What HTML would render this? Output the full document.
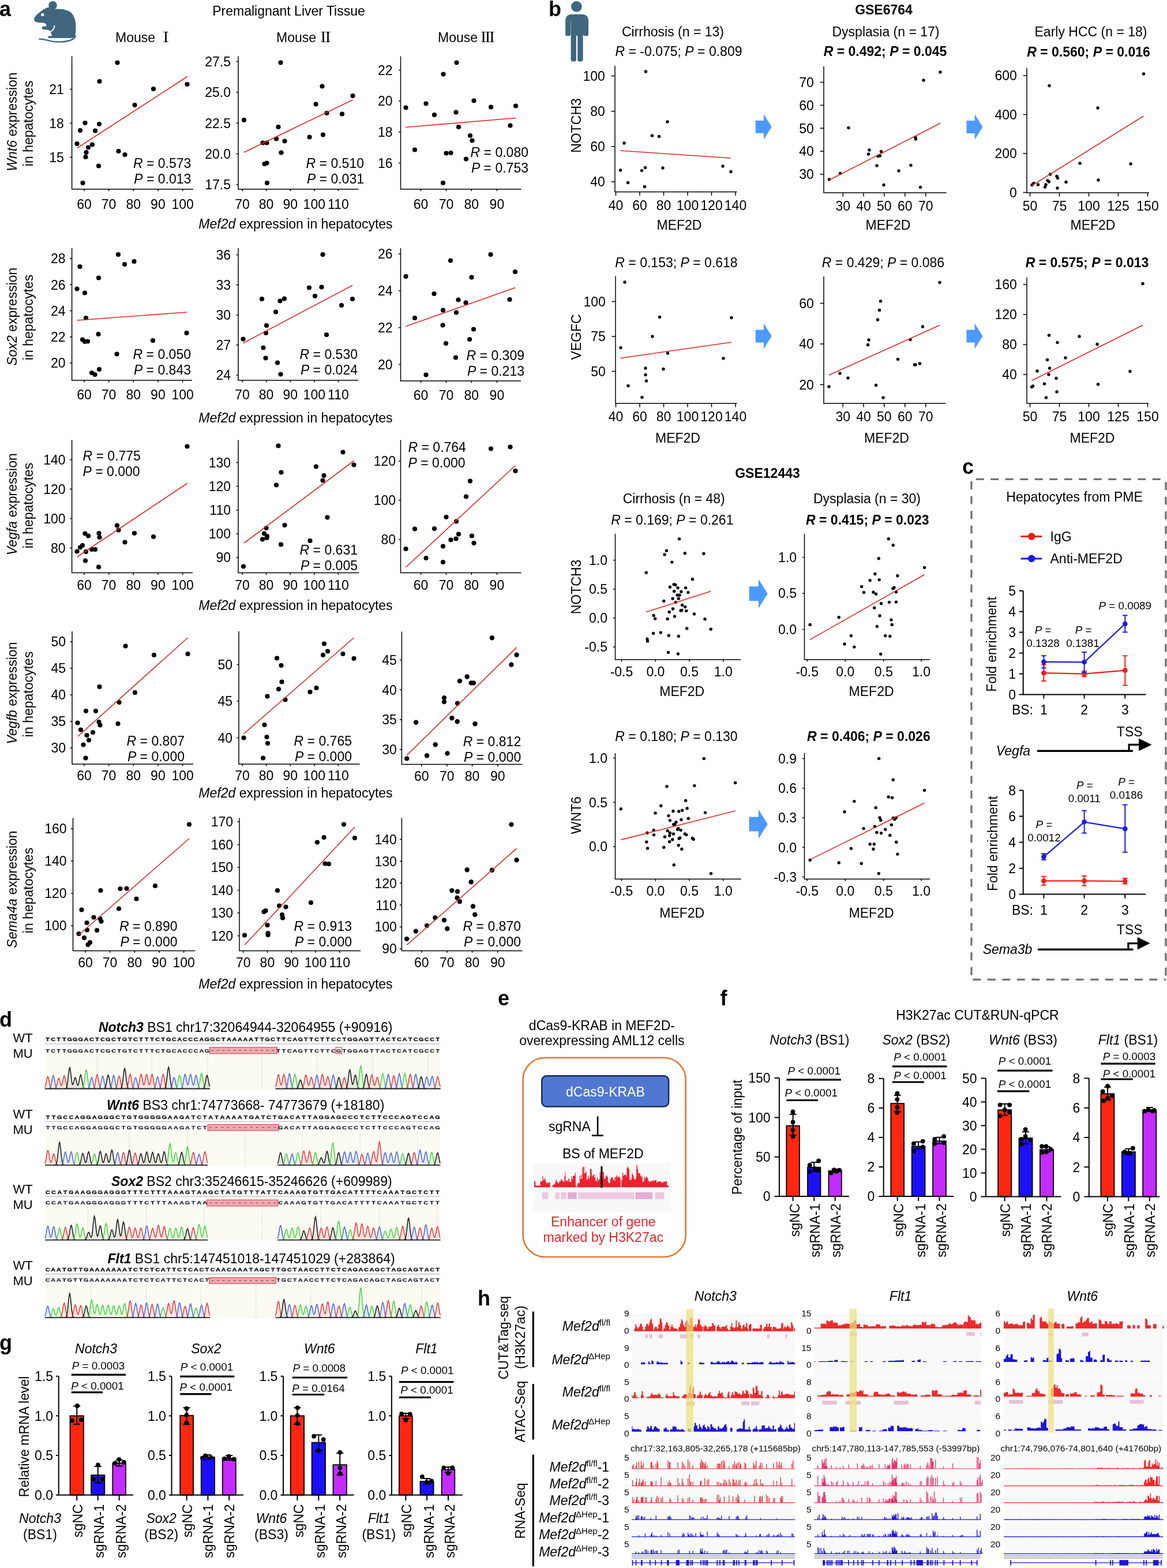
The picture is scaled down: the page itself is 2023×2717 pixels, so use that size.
<!DOCTYPE html>
<html><head><meta charset="utf-8"><title>Figure</title>
<style>html,body{margin:0;padding:0;background:#fff;} svg{display:block;}</style>
</head><body>
<svg width="2023" height="2717" viewBox="0 0 2023 2717" font-family="'Liberation Sans', Arial, 'Noto Sans CJK SC', sans-serif">
<circle cx="91.5" cy="9.4" r="7.3" fill="#40677f"/>
<path d="M59.1,32.9 C60,28 66,23 72,19 C77,15 82,13 85,12.6 L96,15.5 C104,15 114,16 121,20 C128,25 131.5,35 131.5,45 C131.5,55 131,62 128.5,64.5 C127.5,65.5 126,66 124,66 L86,66 C84,66 83,65.3 83,64.2 C83,63 84,62.5 85.5,62.5 L90.5,62.3 C89,59.5 88,56.5 88,54 C85,52 81,51.2 79,51.2 C76,51.5 73,51 72.5,49 C72.3,47 74.5,45.5 77,45.6 C78.5,45.6 79.5,45.8 80.3,45.5 C80.5,43 79.8,41 77.5,40 C73,39 67,39.5 63.5,38.5 C60.5,37.5 58.6,35.5 59.1,32.9 Z" fill="#40677f"/>
<circle cx="73.8" cy="25.4" r="2.7" fill="#fff"/>
<path d="M94.6,44 C94.2,49 92.3,52 88.3,54.6" fill="none" stroke="#fff" stroke-width="2"/>
<path d="M68.3,67.6 C75,67.4 82,70 90,71.6 C100,73.2 112,72.6 120,70.5 C126,68.8 130,66.5 130.8,62" fill="none" stroke="#40677f" stroke-width="2.4" stroke-linecap="round"/>
<text x="-1" y="28" font-weight="bold" font-size="36">a</text>
<text x="500.5" y="27.3" text-anchor="middle" font-size="23">Premalignant Liver Tissue</text>
<text x="200" y="72.5" font-size="23">Mouse</text>
<text x="287.5" y="72.5" font-size="23.5" text-anchor="middle" font-family="'Noto Serif CJK SC', serif" font-weight="600">Ⅰ</text>
<text x="479" y="72.5" font-size="23">Mouse</text>
<text x="564.5" y="72.5" font-size="23.5" text-anchor="middle" font-family="'Noto Serif CJK SC', serif" font-weight="600">Ⅱ</text>
<text x="759" y="72.5" font-size="23">Mouse</text>
<text x="845.5" y="72.5" font-size="23.5" text-anchor="middle" font-family="'Noto Serif CJK SC', serif" font-weight="600">Ⅲ</text>
<path d="M124.6,97.5V327.7H335" fill="none" stroke="#000" stroke-width="1.5"/>
<line x1="121.1" y1="154.6" x2="124.6" y2="154.6" stroke="#000" stroke-width="1.5"/>
<text x="110.8" y="162.9" text-anchor="end" font-size="23">21</text>
<line x1="121.1" y1="213.5" x2="124.6" y2="213.5" stroke="#000" stroke-width="1.5"/>
<text x="110.8" y="221.8" text-anchor="end" font-size="23">18</text>
<line x1="121.1" y1="272.4" x2="124.6" y2="272.4" stroke="#000" stroke-width="1.5"/>
<text x="110.8" y="280.7" text-anchor="end" font-size="23">15</text>
<line x1="146" y1="327.7" x2="146" y2="331.2" stroke="#000" stroke-width="1.5"/>
<text x="146" y="362" text-anchor="middle" font-size="23">60</text>
<line x1="188.6" y1="327.7" x2="188.6" y2="331.2" stroke="#000" stroke-width="1.5"/>
<text x="188.6" y="362" text-anchor="middle" font-size="23">70</text>
<line x1="231.3" y1="327.7" x2="231.3" y2="331.2" stroke="#000" stroke-width="1.5"/>
<text x="231.3" y="362" text-anchor="middle" font-size="23">80</text>
<line x1="273.9" y1="327.7" x2="273.9" y2="331.2" stroke="#000" stroke-width="1.5"/>
<text x="273.9" y="362" text-anchor="middle" font-size="23">90</text>
<line x1="316.6" y1="327.7" x2="316.6" y2="331.2" stroke="#000" stroke-width="1.5"/>
<text x="316.6" y="362" text-anchor="middle" font-size="23">100</text>
<circle cx="203.5" cy="108.5" r="4.1" fill="#000"/>
<circle cx="172.5" cy="141" r="4.1" fill="#000"/>
<circle cx="266" cy="154" r="4.1" fill="#000"/>
<circle cx="324.5" cy="146" r="4.1" fill="#000"/>
<circle cx="233.5" cy="182" r="4.1" fill="#000"/>
<circle cx="147.5" cy="213" r="4.1" fill="#000"/>
<circle cx="172" cy="215" r="4.1" fill="#000"/>
<circle cx="139" cy="226" r="4.1" fill="#000"/>
<circle cx="165" cy="226.5" r="4.1" fill="#000"/>
<circle cx="133.5" cy="249" r="4.1" fill="#000"/>
<circle cx="160" cy="250.5" r="4.1" fill="#000"/>
<circle cx="153" cy="255.5" r="4.1" fill="#000"/>
<circle cx="149.5" cy="264" r="4.1" fill="#000"/>
<circle cx="148.5" cy="272" r="4.1" fill="#000"/>
<circle cx="205.5" cy="262" r="4.1" fill="#000"/>
<circle cx="216.5" cy="268" r="4.1" fill="#000"/>
<circle cx="171" cy="287.5" r="4.1" fill="#000"/>
<circle cx="143.5" cy="317" r="4.1" fill="#000"/>
<line x1="134" y1="256.5" x2="325" y2="132.5" stroke="#dc2a2a" stroke-width="1.6"/>
<text x="331.3" y="290.5" text-anchor="end" font-size="23"><tspan font-style="italic">R</tspan> = 0.573</text>
<text x="331.3" y="317.5" text-anchor="end" font-size="23"><tspan font-style="italic">P</tspan> = 0.013</text>
<path d="M413,97.5V327.7H621.5" fill="none" stroke="#000" stroke-width="1.5"/>
<line x1="409.5" y1="106.5" x2="413" y2="106.5" stroke="#000" stroke-width="1.5"/>
<text x="400" y="114.8" text-anchor="end" font-size="23">27.5</text>
<line x1="409.5" y1="159.9" x2="413" y2="159.9" stroke="#000" stroke-width="1.5"/>
<text x="400" y="168.2" text-anchor="end" font-size="23">25.0</text>
<line x1="409.5" y1="213.2" x2="413" y2="213.2" stroke="#000" stroke-width="1.5"/>
<text x="400" y="221.5" text-anchor="end" font-size="23">22.5</text>
<line x1="409.5" y1="266.6" x2="413" y2="266.6" stroke="#000" stroke-width="1.5"/>
<text x="400" y="274.9" text-anchor="end" font-size="23">20.0</text>
<line x1="409.5" y1="320" x2="413" y2="320" stroke="#000" stroke-width="1.5"/>
<text x="400" y="328.3" text-anchor="end" font-size="23">17.5</text>
<line x1="420" y1="327.7" x2="420" y2="331.2" stroke="#000" stroke-width="1.5"/>
<text x="420" y="362" text-anchor="middle" font-size="23">70</text>
<line x1="461.6" y1="327.7" x2="461.6" y2="331.2" stroke="#000" stroke-width="1.5"/>
<text x="461.6" y="362" text-anchor="middle" font-size="23">80</text>
<line x1="503.2" y1="327.7" x2="503.2" y2="331.2" stroke="#000" stroke-width="1.5"/>
<text x="503.2" y="362" text-anchor="middle" font-size="23">90</text>
<line x1="544.8" y1="327.7" x2="544.8" y2="331.2" stroke="#000" stroke-width="1.5"/>
<text x="544.8" y="362" text-anchor="middle" font-size="23">100</text>
<line x1="586.4" y1="327.7" x2="586.4" y2="331.2" stroke="#000" stroke-width="1.5"/>
<text x="586.4" y="362" text-anchor="middle" font-size="23">110</text>
<circle cx="486.5" cy="108.5" r="4.1" fill="#000"/>
<circle cx="558.5" cy="149.5" r="4.1" fill="#000"/>
<circle cx="611.5" cy="166" r="4.1" fill="#000"/>
<circle cx="547.5" cy="180.5" r="4.1" fill="#000"/>
<circle cx="566.5" cy="196" r="4.1" fill="#000"/>
<circle cx="593" cy="197.5" r="4.1" fill="#000"/>
<circle cx="423" cy="208" r="4.1" fill="#000"/>
<circle cx="482.5" cy="220" r="4.1" fill="#000"/>
<circle cx="479" cy="240.5" r="4.1" fill="#000"/>
<circle cx="493.5" cy="244.5" r="4.1" fill="#000"/>
<circle cx="455.5" cy="247.5" r="4.1" fill="#000"/>
<circle cx="462.5" cy="247.5" r="4.1" fill="#000"/>
<circle cx="536.5" cy="237.5" r="4.1" fill="#000"/>
<circle cx="560" cy="233.5" r="4.1" fill="#000"/>
<circle cx="487.5" cy="264.5" r="4.1" fill="#000"/>
<circle cx="458.5" cy="284" r="4.1" fill="#000"/>
<circle cx="462.5" cy="282.5" r="4.1" fill="#000"/>
<circle cx="463" cy="317" r="4.1" fill="#000"/>
<line x1="423" y1="264" x2="611.5" y2="173" stroke="#dc2a2a" stroke-width="1.6"/>
<text x="631" y="290.5" text-anchor="end" font-size="23"><tspan font-style="italic">R</tspan> = 0.510</text>
<text x="631" y="317.5" text-anchor="end" font-size="23"><tspan font-style="italic">P</tspan> = 0.031</text>
<path d="M694.5,97.5V327.7H903.5" fill="none" stroke="#000" stroke-width="1.5"/>
<line x1="691" y1="121.5" x2="694.5" y2="121.5" stroke="#000" stroke-width="1.5"/>
<text x="680.5" y="129.8" text-anchor="end" font-size="23">22</text>
<line x1="691" y1="175.2" x2="694.5" y2="175.2" stroke="#000" stroke-width="1.5"/>
<text x="680.5" y="183.4" text-anchor="end" font-size="23">20</text>
<line x1="691" y1="228.8" x2="694.5" y2="228.8" stroke="#000" stroke-width="1.5"/>
<text x="680.5" y="237.1" text-anchor="end" font-size="23">18</text>
<line x1="691" y1="282.5" x2="694.5" y2="282.5" stroke="#000" stroke-width="1.5"/>
<text x="680.5" y="290.8" text-anchor="end" font-size="23">16</text>
<line x1="729.5" y1="327.7" x2="729.5" y2="331.2" stroke="#000" stroke-width="1.5"/>
<text x="729.5" y="362" text-anchor="middle" font-size="23">60</text>
<line x1="773.5" y1="327.7" x2="773.5" y2="331.2" stroke="#000" stroke-width="1.5"/>
<text x="773.5" y="362" text-anchor="middle" font-size="23">70</text>
<line x1="817.3" y1="327.7" x2="817.3" y2="331.2" stroke="#000" stroke-width="1.5"/>
<text x="817.3" y="362" text-anchor="middle" font-size="23">80</text>
<line x1="861.4" y1="327.7" x2="861.4" y2="331.2" stroke="#000" stroke-width="1.5"/>
<text x="861.4" y="362" text-anchor="middle" font-size="23">90</text>
<circle cx="791.5" cy="108.5" r="4.1" fill="#000"/>
<circle cx="768.5" cy="128.5" r="4.1" fill="#000"/>
<circle cx="703.5" cy="186.5" r="4.1" fill="#000"/>
<circle cx="738.5" cy="179.5" r="4.1" fill="#000"/>
<circle cx="753" cy="199" r="4.1" fill="#000"/>
<circle cx="790.5" cy="194.5" r="4.1" fill="#000"/>
<circle cx="821.5" cy="174.5" r="4.1" fill="#000"/>
<circle cx="851" cy="185.5" r="4.1" fill="#000"/>
<circle cx="894" cy="183.5" r="4.1" fill="#000"/>
<circle cx="884.5" cy="217.5" r="4.1" fill="#000"/>
<circle cx="795" cy="220" r="4.1" fill="#000"/>
<circle cx="815" cy="235" r="4.1" fill="#000"/>
<circle cx="818.5" cy="243.5" r="4.1" fill="#000"/>
<circle cx="719" cy="259.5" r="4.1" fill="#000"/>
<circle cx="773.5" cy="265.5" r="4.1" fill="#000"/>
<circle cx="781.5" cy="265" r="4.1" fill="#000"/>
<circle cx="808" cy="275.5" r="4.1" fill="#000"/>
<circle cx="768" cy="317" r="4.1" fill="#000"/>
<line x1="703.5" y1="220.5" x2="894" y2="204.5" stroke="#dc2a2a" stroke-width="1.6"/>
<text x="916" y="272.3" text-anchor="end" font-size="23"><tspan font-style="italic">R</tspan> = 0.080</text>
<text x="916" y="299.3" text-anchor="end" font-size="23"><tspan font-style="italic">P</tspan> = 0.753</text>
<text transform="translate(29.3,211) rotate(-90)" text-anchor="middle" font-size="23"><tspan font-style="italic">Wnt6</tspan> expression</text>
<text transform="translate(57.3,214) rotate(-90)" text-anchor="middle" font-size="23">in hepatocytes</text>
<text x="512.5" y="395.5" text-anchor="middle" font-size="23"><tspan font-style="italic">Mef2d</tspan> expression in hepatocytes</text>
<path d="M124.6,430V659H333" fill="none" stroke="#000" stroke-width="1.5"/>
<line x1="121.1" y1="448" x2="124.6" y2="448" stroke="#000" stroke-width="1.5"/>
<text x="113.6" y="456.3" text-anchor="end" font-size="23">28</text>
<line x1="121.1" y1="493.2" x2="124.6" y2="493.2" stroke="#000" stroke-width="1.5"/>
<text x="113.6" y="501.5" text-anchor="end" font-size="23">26</text>
<line x1="121.1" y1="538.5" x2="124.6" y2="538.5" stroke="#000" stroke-width="1.5"/>
<text x="113.6" y="546.8" text-anchor="end" font-size="23">24</text>
<line x1="121.1" y1="583.8" x2="124.6" y2="583.8" stroke="#000" stroke-width="1.5"/>
<text x="113.6" y="592" text-anchor="end" font-size="23">22</text>
<line x1="121.1" y1="629" x2="124.6" y2="629" stroke="#000" stroke-width="1.5"/>
<text x="113.6" y="637.3" text-anchor="end" font-size="23">20</text>
<line x1="146" y1="659" x2="146" y2="662.5" stroke="#000" stroke-width="1.5"/>
<text x="146" y="692.1" text-anchor="middle" font-size="23">60</text>
<line x1="188.6" y1="659" x2="188.6" y2="662.5" stroke="#000" stroke-width="1.5"/>
<text x="188.6" y="692.1" text-anchor="middle" font-size="23">70</text>
<line x1="231.3" y1="659" x2="231.3" y2="662.5" stroke="#000" stroke-width="1.5"/>
<text x="231.3" y="692.1" text-anchor="middle" font-size="23">80</text>
<line x1="273.9" y1="659" x2="273.9" y2="662.5" stroke="#000" stroke-width="1.5"/>
<text x="273.9" y="692.1" text-anchor="middle" font-size="23">90</text>
<line x1="316.6" y1="659" x2="316.6" y2="662.5" stroke="#000" stroke-width="1.5"/>
<text x="316.6" y="692.1" text-anchor="middle" font-size="23">100</text>
<circle cx="205" cy="441" r="4.1" fill="#000"/>
<circle cx="138.5" cy="462" r="4.1" fill="#000"/>
<circle cx="216" cy="458" r="4.1" fill="#000"/>
<circle cx="232.5" cy="453" r="4.1" fill="#000"/>
<circle cx="171" cy="481.5" r="4.1" fill="#000"/>
<circle cx="133.5" cy="500.5" r="4.1" fill="#000"/>
<circle cx="147" cy="507.5" r="4.1" fill="#000"/>
<circle cx="149" cy="551" r="4.1" fill="#000"/>
<circle cx="170.5" cy="579" r="4.1" fill="#000"/>
<circle cx="143" cy="588.5" r="4.1" fill="#000"/>
<circle cx="147" cy="592" r="4.1" fill="#000"/>
<circle cx="152" cy="591.5" r="4.1" fill="#000"/>
<circle cx="265" cy="590" r="4.1" fill="#000"/>
<circle cx="323.5" cy="577" r="4.1" fill="#000"/>
<circle cx="202.5" cy="613.5" r="4.1" fill="#000"/>
<circle cx="172" cy="640" r="4.1" fill="#000"/>
<circle cx="159" cy="646" r="4.1" fill="#000"/>
<circle cx="164.5" cy="649" r="4.1" fill="#000"/>
<line x1="133.5" y1="555" x2="324" y2="541" stroke="#dc2a2a" stroke-width="1.6"/>
<text x="331" y="622.3" text-anchor="end" font-size="23"><tspan font-style="italic">R</tspan> = 0.050</text>
<text x="331" y="649.3" text-anchor="end" font-size="23"><tspan font-style="italic">P</tspan> = 0.843</text>
<path d="M413,430V659H621" fill="none" stroke="#000" stroke-width="1.5"/>
<line x1="409.5" y1="441.5" x2="413" y2="441.5" stroke="#000" stroke-width="1.5"/>
<text x="400" y="449.8" text-anchor="end" font-size="23">36</text>
<line x1="409.5" y1="493.6" x2="413" y2="493.6" stroke="#000" stroke-width="1.5"/>
<text x="400" y="501.9" text-anchor="end" font-size="23">33</text>
<line x1="409.5" y1="545.8" x2="413" y2="545.8" stroke="#000" stroke-width="1.5"/>
<text x="400" y="554" text-anchor="end" font-size="23">30</text>
<line x1="409.5" y1="597.9" x2="413" y2="597.9" stroke="#000" stroke-width="1.5"/>
<text x="400" y="606.2" text-anchor="end" font-size="23">27</text>
<line x1="409.5" y1="650" x2="413" y2="650" stroke="#000" stroke-width="1.5"/>
<text x="400" y="658.3" text-anchor="end" font-size="23">24</text>
<line x1="420" y1="659" x2="420" y2="662.5" stroke="#000" stroke-width="1.5"/>
<text x="420" y="692.1" text-anchor="middle" font-size="23">70</text>
<line x1="461.6" y1="659" x2="461.6" y2="662.5" stroke="#000" stroke-width="1.5"/>
<text x="461.6" y="692.1" text-anchor="middle" font-size="23">80</text>
<line x1="503.2" y1="659" x2="503.2" y2="662.5" stroke="#000" stroke-width="1.5"/>
<text x="503.2" y="692.1" text-anchor="middle" font-size="23">90</text>
<line x1="544.8" y1="659" x2="544.8" y2="662.5" stroke="#000" stroke-width="1.5"/>
<text x="544.8" y="692.1" text-anchor="middle" font-size="23">100</text>
<line x1="586.4" y1="659" x2="586.4" y2="662.5" stroke="#000" stroke-width="1.5"/>
<text x="586.4" y="692.1" text-anchor="middle" font-size="23">110</text>
<circle cx="559.5" cy="441" r="4.1" fill="#000"/>
<circle cx="536" cy="498.5" r="4.1" fill="#000"/>
<circle cx="557.5" cy="497.5" r="4.1" fill="#000"/>
<circle cx="546" cy="513" r="4.1" fill="#000"/>
<circle cx="454" cy="518" r="4.1" fill="#000"/>
<circle cx="485.5" cy="521.5" r="4.1" fill="#000"/>
<circle cx="493" cy="517.5" r="4.1" fill="#000"/>
<circle cx="478" cy="540.5" r="4.1" fill="#000"/>
<circle cx="611" cy="518" r="4.1" fill="#000"/>
<circle cx="592" cy="529" r="4.1" fill="#000"/>
<circle cx="462" cy="564" r="4.1" fill="#000"/>
<circle cx="461" cy="577" r="4.1" fill="#000"/>
<circle cx="566" cy="580" r="4.1" fill="#000"/>
<circle cx="421.5" cy="587.5" r="4.1" fill="#000"/>
<circle cx="456.5" cy="602.5" r="4.1" fill="#000"/>
<circle cx="460.5" cy="620.5" r="4.1" fill="#000"/>
<circle cx="481" cy="628.5" r="4.1" fill="#000"/>
<circle cx="486.5" cy="648.5" r="4.1" fill="#000"/>
<line x1="421.5" y1="594.5" x2="611" y2="494.5" stroke="#dc2a2a" stroke-width="1.6"/>
<text x="620" y="622.3" text-anchor="end" font-size="23"><tspan font-style="italic">R</tspan> = 0.530</text>
<text x="620" y="649.3" text-anchor="end" font-size="23"><tspan font-style="italic">P</tspan> = 0.024</text>
<path d="M694.5,430V660H903" fill="none" stroke="#000" stroke-width="1.5"/>
<line x1="691" y1="440" x2="694.5" y2="440" stroke="#000" stroke-width="1.5"/>
<text x="680.5" y="448.3" text-anchor="end" font-size="23">26</text>
<line x1="691" y1="503.8" x2="694.5" y2="503.8" stroke="#000" stroke-width="1.5"/>
<text x="680.5" y="512.1" text-anchor="end" font-size="23">24</text>
<line x1="691" y1="567.7" x2="694.5" y2="567.7" stroke="#000" stroke-width="1.5"/>
<text x="680.5" y="575.9" text-anchor="end" font-size="23">22</text>
<line x1="691" y1="631.5" x2="694.5" y2="631.5" stroke="#000" stroke-width="1.5"/>
<text x="680.5" y="639.8" text-anchor="end" font-size="23">20</text>
<line x1="729.5" y1="660" x2="729.5" y2="663.5" stroke="#000" stroke-width="1.5"/>
<text x="729.5" y="693.1" text-anchor="middle" font-size="23">60</text>
<line x1="773.5" y1="660" x2="773.5" y2="663.5" stroke="#000" stroke-width="1.5"/>
<text x="773.5" y="693.1" text-anchor="middle" font-size="23">70</text>
<line x1="817.3" y1="660" x2="817.3" y2="663.5" stroke="#000" stroke-width="1.5"/>
<text x="817.3" y="693.1" text-anchor="middle" font-size="23">80</text>
<line x1="861.4" y1="660" x2="861.4" y2="663.5" stroke="#000" stroke-width="1.5"/>
<text x="861.4" y="693.1" text-anchor="middle" font-size="23">90</text>
<circle cx="703.5" cy="479" r="4.1" fill="#000"/>
<circle cx="781" cy="451.5" r="4.1" fill="#000"/>
<circle cx="850.5" cy="441" r="4.1" fill="#000"/>
<circle cx="893" cy="471" r="4.1" fill="#000"/>
<circle cx="817.5" cy="480.5" r="4.1" fill="#000"/>
<circle cx="752.5" cy="509" r="4.1" fill="#000"/>
<circle cx="794.5" cy="519.5" r="4.1" fill="#000"/>
<circle cx="807.5" cy="524.5" r="4.1" fill="#000"/>
<circle cx="883.5" cy="519" r="4.1" fill="#000"/>
<circle cx="719" cy="551" r="4.1" fill="#000"/>
<circle cx="768" cy="537.5" r="4.1" fill="#000"/>
<circle cx="791" cy="541.5" r="4.1" fill="#000"/>
<circle cx="767.5" cy="563.5" r="4.1" fill="#000"/>
<circle cx="821" cy="570.5" r="4.1" fill="#000"/>
<circle cx="773" cy="595" r="4.1" fill="#000"/>
<circle cx="814" cy="588" r="4.1" fill="#000"/>
<circle cx="790" cy="619.5" r="4.1" fill="#000"/>
<circle cx="738.5" cy="649.5" r="4.1" fill="#000"/>
<line x1="703.5" y1="565.5" x2="893" y2="498.5" stroke="#dc2a2a" stroke-width="1.6"/>
<text x="909" y="624.3" text-anchor="end" font-size="23"><tspan font-style="italic">R</tspan> = 0.309</text>
<text x="909" y="651.3" text-anchor="end" font-size="23"><tspan font-style="italic">P</tspan> = 0.213</text>
<text transform="translate(29.3,548.7) rotate(-90)" text-anchor="middle" font-size="23"><tspan font-style="italic">Sox2</tspan> expression</text>
<text transform="translate(57.3,550) rotate(-90)" text-anchor="middle" font-size="23">in hepatocytes</text>
<text x="512.5" y="732" text-anchor="middle" font-size="23"><tspan font-style="italic">Mef2d</tspan> expression in hepatocytes</text>
<path d="M124.6,762.5V992.5H334" fill="none" stroke="#000" stroke-width="1.5"/>
<line x1="121.1" y1="796.5" x2="124.6" y2="796.5" stroke="#000" stroke-width="1.5"/>
<text x="113.6" y="804.8" text-anchor="end" font-size="23">140</text>
<line x1="121.1" y1="847.5" x2="124.6" y2="847.5" stroke="#000" stroke-width="1.5"/>
<text x="113.6" y="855.8" text-anchor="end" font-size="23">120</text>
<line x1="121.1" y1="898.5" x2="124.6" y2="898.5" stroke="#000" stroke-width="1.5"/>
<text x="113.6" y="906.8" text-anchor="end" font-size="23">100</text>
<line x1="121.1" y1="949.5" x2="124.6" y2="949.5" stroke="#000" stroke-width="1.5"/>
<text x="113.6" y="957.8" text-anchor="end" font-size="23">80</text>
<line x1="146" y1="992.5" x2="146" y2="996" stroke="#000" stroke-width="1.5"/>
<text x="146" y="1021.6" text-anchor="middle" font-size="23">60</text>
<line x1="188.6" y1="992.5" x2="188.6" y2="996" stroke="#000" stroke-width="1.5"/>
<text x="188.6" y="1021.6" text-anchor="middle" font-size="23">70</text>
<line x1="231.3" y1="992.5" x2="231.3" y2="996" stroke="#000" stroke-width="1.5"/>
<text x="231.3" y="1021.6" text-anchor="middle" font-size="23">80</text>
<line x1="273.9" y1="992.5" x2="273.9" y2="996" stroke="#000" stroke-width="1.5"/>
<text x="273.9" y="1021.6" text-anchor="middle" font-size="23">90</text>
<line x1="316.6" y1="992.5" x2="316.6" y2="996" stroke="#000" stroke-width="1.5"/>
<text x="316.6" y="1021.6" text-anchor="middle" font-size="23">100</text>
<circle cx="324.5" cy="773.5" r="4.1" fill="#000"/>
<circle cx="203" cy="910.5" r="4.1" fill="#000"/>
<circle cx="205.5" cy="918.5" r="4.1" fill="#000"/>
<circle cx="171.5" cy="924" r="4.1" fill="#000"/>
<circle cx="172.5" cy="931" r="4.1" fill="#000"/>
<circle cx="233" cy="924" r="4.1" fill="#000"/>
<circle cx="266" cy="930" r="4.1" fill="#000"/>
<circle cx="216.5" cy="939.5" r="4.1" fill="#000"/>
<circle cx="147.5" cy="924.5" r="4.1" fill="#000"/>
<circle cx="153" cy="928.5" r="4.1" fill="#000"/>
<circle cx="133.5" cy="955.5" r="4.1" fill="#000"/>
<circle cx="139" cy="948.5" r="4.1" fill="#000"/>
<circle cx="143" cy="945" r="4.1" fill="#000"/>
<circle cx="149" cy="956" r="4.1" fill="#000"/>
<circle cx="159" cy="952" r="4.1" fill="#000"/>
<circle cx="165" cy="952" r="4.1" fill="#000"/>
<circle cx="148" cy="971.5" r="4.1" fill="#000"/>
<circle cx="171" cy="982.5" r="4.1" fill="#000"/>
<line x1="133.5" y1="965" x2="324.5" y2="837.5" stroke="#dc2a2a" stroke-width="1.6"/>
<text x="143.5" y="798.3" font-size="23"><tspan font-style="italic">R</tspan> = 0.775</text>
<text x="143.5" y="825.3" font-size="23"><tspan font-style="italic">P</tspan> = 0.000</text>
<path d="M413,762.5V992.5H622.5" fill="none" stroke="#000" stroke-width="1.5"/>
<line x1="409.5" y1="801.5" x2="413" y2="801.5" stroke="#000" stroke-width="1.5"/>
<text x="400" y="809.8" text-anchor="end" font-size="23">130</text>
<line x1="409.5" y1="842.6" x2="413" y2="842.6" stroke="#000" stroke-width="1.5"/>
<text x="400" y="850.9" text-anchor="end" font-size="23">120</text>
<line x1="409.5" y1="883.8" x2="413" y2="883.8" stroke="#000" stroke-width="1.5"/>
<text x="400" y="892" text-anchor="end" font-size="23">110</text>
<line x1="409.5" y1="924.9" x2="413" y2="924.9" stroke="#000" stroke-width="1.5"/>
<text x="400" y="933.2" text-anchor="end" font-size="23">100</text>
<line x1="409.5" y1="966" x2="413" y2="966" stroke="#000" stroke-width="1.5"/>
<text x="400" y="974.3" text-anchor="end" font-size="23">90</text>
<line x1="420" y1="992.5" x2="420" y2="996" stroke="#000" stroke-width="1.5"/>
<text x="420" y="1021.6" text-anchor="middle" font-size="23">70</text>
<line x1="461.6" y1="992.5" x2="461.6" y2="996" stroke="#000" stroke-width="1.5"/>
<text x="461.6" y="1021.6" text-anchor="middle" font-size="23">80</text>
<line x1="503.2" y1="992.5" x2="503.2" y2="996" stroke="#000" stroke-width="1.5"/>
<text x="503.2" y="1021.6" text-anchor="middle" font-size="23">90</text>
<line x1="544.8" y1="992.5" x2="544.8" y2="996" stroke="#000" stroke-width="1.5"/>
<text x="544.8" y="1021.6" text-anchor="middle" font-size="23">100</text>
<line x1="586.4" y1="992.5" x2="586.4" y2="996" stroke="#000" stroke-width="1.5"/>
<text x="586.4" y="1021.6" text-anchor="middle" font-size="23">110</text>
<circle cx="482.5" cy="772.5" r="4.1" fill="#000"/>
<circle cx="594.5" cy="783.5" r="4.1" fill="#000"/>
<circle cx="613.5" cy="805.5" r="4.1" fill="#000"/>
<circle cx="548" cy="808.5" r="4.1" fill="#000"/>
<circle cx="487.5" cy="818.5" r="4.1" fill="#000"/>
<circle cx="561.5" cy="824" r="4.1" fill="#000"/>
<circle cx="559.5" cy="832.5" r="4.1" fill="#000"/>
<circle cx="479" cy="840.5" r="4.1" fill="#000"/>
<circle cx="567.5" cy="896.5" r="4.1" fill="#000"/>
<circle cx="461.5" cy="915" r="4.1" fill="#000"/>
<circle cx="493.5" cy="910" r="4.1" fill="#000"/>
<circle cx="458" cy="924.5" r="4.1" fill="#000"/>
<circle cx="463" cy="929" r="4.1" fill="#000"/>
<circle cx="462.5" cy="932" r="4.1" fill="#000"/>
<circle cx="455" cy="934.5" r="4.1" fill="#000"/>
<circle cx="487" cy="943.5" r="4.1" fill="#000"/>
<circle cx="537.5" cy="937" r="4.1" fill="#000"/>
<circle cx="422" cy="981.5" r="4.1" fill="#000"/>
<line x1="423" y1="941" x2="613.5" y2="798.5" stroke="#dc2a2a" stroke-width="1.6"/>
<text x="620" y="960.8" text-anchor="end" font-size="23"><tspan font-style="italic">R</tspan> = 0.631</text>
<text x="620" y="987.8" text-anchor="end" font-size="23"><tspan font-style="italic">P</tspan> = 0.005</text>
<path d="M694.5,762.5V992.5H903.5" fill="none" stroke="#000" stroke-width="1.5"/>
<line x1="691" y1="799" x2="694.5" y2="799" stroke="#000" stroke-width="1.5"/>
<text x="686" y="807.3" text-anchor="end" font-size="23">120</text>
<line x1="691" y1="867" x2="694.5" y2="867" stroke="#000" stroke-width="1.5"/>
<text x="686" y="875.3" text-anchor="end" font-size="23">100</text>
<line x1="691" y1="935" x2="694.5" y2="935" stroke="#000" stroke-width="1.5"/>
<text x="686" y="943.3" text-anchor="end" font-size="23">80</text>
<line x1="729.5" y1="992.5" x2="729.5" y2="996" stroke="#000" stroke-width="1.5"/>
<text x="729.5" y="1021.6" text-anchor="middle" font-size="23">60</text>
<line x1="773.5" y1="992.5" x2="773.5" y2="996" stroke="#000" stroke-width="1.5"/>
<text x="773.5" y="1021.6" text-anchor="middle" font-size="23">70</text>
<line x1="817.3" y1="992.5" x2="817.3" y2="996" stroke="#000" stroke-width="1.5"/>
<text x="817.3" y="1021.6" text-anchor="middle" font-size="23">80</text>
<line x1="861.4" y1="992.5" x2="861.4" y2="996" stroke="#000" stroke-width="1.5"/>
<text x="861.4" y="1021.6" text-anchor="middle" font-size="23">90</text>
<circle cx="851" cy="777.5" r="4.1" fill="#000"/>
<circle cx="884.5" cy="774.5" r="4.1" fill="#000"/>
<circle cx="893.5" cy="816" r="4.1" fill="#000"/>
<circle cx="815" cy="833.5" r="4.1" fill="#000"/>
<circle cx="808" cy="860.5" r="4.1" fill="#000"/>
<circle cx="773.5" cy="896" r="4.1" fill="#000"/>
<circle cx="791" cy="903.5" r="4.1" fill="#000"/>
<circle cx="719" cy="916.5" r="4.1" fill="#000"/>
<circle cx="753" cy="916" r="4.1" fill="#000"/>
<circle cx="703.5" cy="951" r="4.1" fill="#000"/>
<circle cx="781.5" cy="935.5" r="4.1" fill="#000"/>
<circle cx="790.5" cy="933.5" r="4.1" fill="#000"/>
<circle cx="795" cy="925.5" r="4.1" fill="#000"/>
<circle cx="818" cy="928.5" r="4.1" fill="#000"/>
<circle cx="821.5" cy="941" r="4.1" fill="#000"/>
<circle cx="768" cy="946.5" r="4.1" fill="#000"/>
<circle cx="738.5" cy="967" r="4.1" fill="#000"/>
<circle cx="768" cy="974" r="4.1" fill="#000"/>
<line x1="703.5" y1="983" x2="893.5" y2="806.5" stroke="#dc2a2a" stroke-width="1.6"/>
<text x="707.5" y="783.3" font-size="23"><tspan font-style="italic">R</tspan> = 0.764</text>
<text x="707.5" y="810.3" font-size="23"><tspan font-style="italic">P</tspan> = 0.000</text>
<text transform="translate(29.3,873.7) rotate(-90)" text-anchor="middle" font-size="23"><tspan font-style="italic">Vegfa</tspan> expression</text>
<text transform="translate(57.3,876) rotate(-90)" text-anchor="middle" font-size="23">in hepatocytes</text>
<text x="512.5" y="1056.5" text-anchor="middle" font-size="23"><tspan font-style="italic">Mef2d</tspan> expression in hepatocytes</text>
<path d="M125,1094V1324H335" fill="none" stroke="#000" stroke-width="1.5"/>
<line x1="121.5" y1="1112" x2="125" y2="1112" stroke="#000" stroke-width="1.5"/>
<text x="114" y="1120.3" text-anchor="end" font-size="23">50</text>
<line x1="121.5" y1="1158" x2="125" y2="1158" stroke="#000" stroke-width="1.5"/>
<text x="114" y="1166.3" text-anchor="end" font-size="23">45</text>
<line x1="121.5" y1="1204" x2="125" y2="1204" stroke="#000" stroke-width="1.5"/>
<text x="114" y="1212.3" text-anchor="end" font-size="23">40</text>
<line x1="121.5" y1="1250" x2="125" y2="1250" stroke="#000" stroke-width="1.5"/>
<text x="114" y="1258.3" text-anchor="end" font-size="23">35</text>
<line x1="121.5" y1="1296" x2="125" y2="1296" stroke="#000" stroke-width="1.5"/>
<text x="114" y="1304.3" text-anchor="end" font-size="23">30</text>
<line x1="146" y1="1324" x2="146" y2="1327.5" stroke="#000" stroke-width="1.5"/>
<text x="146" y="1352.1" text-anchor="middle" font-size="23">60</text>
<line x1="188.6" y1="1324" x2="188.6" y2="1327.5" stroke="#000" stroke-width="1.5"/>
<text x="188.6" y="1352.1" text-anchor="middle" font-size="23">70</text>
<line x1="231.3" y1="1324" x2="231.3" y2="1327.5" stroke="#000" stroke-width="1.5"/>
<text x="231.3" y="1352.1" text-anchor="middle" font-size="23">80</text>
<line x1="273.9" y1="1324" x2="273.9" y2="1327.5" stroke="#000" stroke-width="1.5"/>
<text x="273.9" y="1352.1" text-anchor="middle" font-size="23">90</text>
<line x1="316.6" y1="1324" x2="316.6" y2="1327.5" stroke="#000" stroke-width="1.5"/>
<text x="316.6" y="1352.1" text-anchor="middle" font-size="23">100</text>
<circle cx="217.5" cy="1119.5" r="4.1" fill="#000"/>
<circle cx="267" cy="1135" r="4.1" fill="#000"/>
<circle cx="325.5" cy="1133" r="4.1" fill="#000"/>
<circle cx="172.5" cy="1190" r="4.1" fill="#000"/>
<circle cx="234" cy="1200" r="4.1" fill="#000"/>
<circle cx="206.5" cy="1217" r="4.1" fill="#000"/>
<circle cx="149" cy="1232" r="4.1" fill="#000"/>
<circle cx="166" cy="1232" r="4.1" fill="#000"/>
<circle cx="134.5" cy="1252.5" r="4.1" fill="#000"/>
<circle cx="140" cy="1264.5" r="4.1" fill="#000"/>
<circle cx="171.5" cy="1251" r="4.1" fill="#000"/>
<circle cx="173.5" cy="1256.5" r="4.1" fill="#000"/>
<circle cx="204.5" cy="1254" r="4.1" fill="#000"/>
<circle cx="150.5" cy="1274" r="4.1" fill="#000"/>
<circle cx="161" cy="1269" r="4.1" fill="#000"/>
<circle cx="154" cy="1282.5" r="4.1" fill="#000"/>
<circle cx="144.5" cy="1290.5" r="4.1" fill="#000"/>
<circle cx="148.5" cy="1313.5" r="4.1" fill="#000"/>
<line x1="135" y1="1276" x2="325.5" y2="1105" stroke="#dc2a2a" stroke-width="1.6"/>
<text x="320" y="1292.3" text-anchor="end" font-size="23"><tspan font-style="italic">R</tspan> = 0.807</text>
<text x="320" y="1319.3" text-anchor="end" font-size="23"><tspan font-style="italic">P</tspan> = 0.000</text>
<path d="M414,1094V1324H623.5" fill="none" stroke="#000" stroke-width="1.5"/>
<line x1="410.5" y1="1151.5" x2="414" y2="1151.5" stroke="#000" stroke-width="1.5"/>
<text x="403" y="1159.8" text-anchor="end" font-size="23">50</text>
<line x1="410.5" y1="1215" x2="414" y2="1215" stroke="#000" stroke-width="1.5"/>
<text x="403" y="1223.3" text-anchor="end" font-size="23">45</text>
<line x1="410.5" y1="1278.5" x2="414" y2="1278.5" stroke="#000" stroke-width="1.5"/>
<text x="403" y="1286.8" text-anchor="end" font-size="23">40</text>
<line x1="420" y1="1324" x2="420" y2="1327.5" stroke="#000" stroke-width="1.5"/>
<text x="420" y="1352.1" text-anchor="middle" font-size="23">70</text>
<line x1="461.6" y1="1324" x2="461.6" y2="1327.5" stroke="#000" stroke-width="1.5"/>
<text x="461.6" y="1352.1" text-anchor="middle" font-size="23">80</text>
<line x1="503.2" y1="1324" x2="503.2" y2="1327.5" stroke="#000" stroke-width="1.5"/>
<text x="503.2" y="1352.1" text-anchor="middle" font-size="23">90</text>
<line x1="544.8" y1="1324" x2="544.8" y2="1327.5" stroke="#000" stroke-width="1.5"/>
<text x="544.8" y="1352.1" text-anchor="middle" font-size="23">100</text>
<line x1="586.4" y1="1324" x2="586.4" y2="1327.5" stroke="#000" stroke-width="1.5"/>
<text x="586.4" y="1352.1" text-anchor="middle" font-size="23">110</text>
<circle cx="562" cy="1115.5" r="4.1" fill="#000"/>
<circle cx="568" cy="1128.5" r="4.1" fill="#000"/>
<circle cx="560" cy="1135" r="4.1" fill="#000"/>
<circle cx="594.5" cy="1133" r="4.1" fill="#000"/>
<circle cx="613.5" cy="1141" r="4.1" fill="#000"/>
<circle cx="480" cy="1140.5" r="4.1" fill="#000"/>
<circle cx="487.5" cy="1153" r="4.1" fill="#000"/>
<circle cx="488.5" cy="1181.5" r="4.1" fill="#000"/>
<circle cx="483" cy="1194" r="4.1" fill="#000"/>
<circle cx="494.5" cy="1212.5" r="4.1" fill="#000"/>
<circle cx="463.5" cy="1206.5" r="4.1" fill="#000"/>
<circle cx="537.5" cy="1199" r="4.1" fill="#000"/>
<circle cx="548.5" cy="1192" r="4.1" fill="#000"/>
<circle cx="458.5" cy="1256" r="4.1" fill="#000"/>
<circle cx="462.5" cy="1277" r="4.1" fill="#000"/>
<circle cx="464" cy="1288" r="4.1" fill="#000"/>
<circle cx="422.5" cy="1278.5" r="4.1" fill="#000"/>
<circle cx="456" cy="1313.5" r="4.1" fill="#000"/>
<line x1="422.5" y1="1271.5" x2="613.5" y2="1105" stroke="#dc2a2a" stroke-width="1.6"/>
<text x="610" y="1292.3" text-anchor="end" font-size="23"><tspan font-style="italic">R</tspan> = 0.765</text>
<text x="610" y="1319.3" text-anchor="end" font-size="23"><tspan font-style="italic">P</tspan> = 0.000</text>
<path d="M696.4,1094.5V1324.6H905.6" fill="none" stroke="#000" stroke-width="1.5"/>
<line x1="692.9" y1="1143.5" x2="696.4" y2="1143.5" stroke="#000" stroke-width="1.5"/>
<text x="687.9" y="1151.8" text-anchor="end" font-size="23">45</text>
<line x1="692.9" y1="1195.2" x2="696.4" y2="1195.2" stroke="#000" stroke-width="1.5"/>
<text x="687.9" y="1203.5" text-anchor="end" font-size="23">40</text>
<line x1="692.9" y1="1246.9" x2="696.4" y2="1246.9" stroke="#000" stroke-width="1.5"/>
<text x="687.9" y="1255.2" text-anchor="end" font-size="23">35</text>
<line x1="692.9" y1="1298.6" x2="696.4" y2="1298.6" stroke="#000" stroke-width="1.5"/>
<text x="687.9" y="1306.9" text-anchor="end" font-size="23">30</text>
<line x1="730.8" y1="1324.6" x2="730.8" y2="1328.1" stroke="#000" stroke-width="1.5"/>
<text x="730.8" y="1352.7" text-anchor="middle" font-size="23">60</text>
<line x1="774.8" y1="1324.6" x2="774.8" y2="1328.1" stroke="#000" stroke-width="1.5"/>
<text x="774.8" y="1352.7" text-anchor="middle" font-size="23">70</text>
<line x1="818.6" y1="1324.6" x2="818.6" y2="1328.1" stroke="#000" stroke-width="1.5"/>
<text x="818.6" y="1352.7" text-anchor="middle" font-size="23">80</text>
<line x1="862.7" y1="1324.6" x2="862.7" y2="1328.1" stroke="#000" stroke-width="1.5"/>
<text x="862.7" y="1352.7" text-anchor="middle" font-size="23">90</text>
<circle cx="853" cy="1105.2" r="4.2" fill="#000"/>
<circle cx="895.6" cy="1134.7" r="4.2" fill="#000"/>
<circle cx="886.4" cy="1151.7" r="4.2" fill="#000"/>
<circle cx="809.7" cy="1172.5" r="4.2" fill="#000"/>
<circle cx="796.9" cy="1180" r="4.2" fill="#000"/>
<circle cx="816.7" cy="1183.4" r="4.2" fill="#000"/>
<circle cx="820.8" cy="1183.4" r="4.2" fill="#000"/>
<circle cx="770" cy="1209.1" r="4.2" fill="#000"/>
<circle cx="770" cy="1216.1" r="4.2" fill="#000"/>
<circle cx="793" cy="1218.7" r="4.2" fill="#000"/>
<circle cx="783.3" cy="1244.2" r="4.2" fill="#000"/>
<circle cx="792.7" cy="1250.2" r="4.2" fill="#000"/>
<circle cx="823.5" cy="1254.3" r="4.2" fill="#000"/>
<circle cx="721.1" cy="1251.7" r="4.2" fill="#000"/>
<circle cx="754.7" cy="1290.2" r="4.2" fill="#000"/>
<circle cx="740" cy="1309.3" r="4.2" fill="#000"/>
<circle cx="775.5" cy="1305.4" r="4.2" fill="#000"/>
<circle cx="705.3" cy="1314.4" r="4.2" fill="#000"/>
<line x1="705.3" y1="1308.6" x2="895.6" y2="1121.9" stroke="#dc2a2a" stroke-width="1.6"/>
<text x="903.2" y="1292.6" text-anchor="end" font-size="23"><tspan font-style="italic">R</tspan> = 0.812</text>
<text x="903.2" y="1319.6" text-anchor="end" font-size="23"><tspan font-style="italic">P</tspan> = 0.000</text>
<text transform="translate(29.3,1201) rotate(-90)" text-anchor="middle" font-size="23"><tspan font-style="italic">Vegfb</tspan> expression</text>
<text transform="translate(57.3,1203) rotate(-90)" text-anchor="middle" font-size="23">in hepatocytes</text>
<text x="512.5" y="1382" text-anchor="middle" font-size="23"><tspan font-style="italic">Mef2d</tspan> expression in hepatocytes</text>
<path d="M126.5,1417.5V1647.5H338" fill="none" stroke="#000" stroke-width="1.5"/>
<line x1="123" y1="1436" x2="126.5" y2="1436" stroke="#000" stroke-width="1.5"/>
<text x="115.5" y="1444.3" text-anchor="end" font-size="23">160</text>
<line x1="123" y1="1492" x2="126.5" y2="1492" stroke="#000" stroke-width="1.5"/>
<text x="115.5" y="1500.3" text-anchor="end" font-size="23">140</text>
<line x1="123" y1="1548" x2="126.5" y2="1548" stroke="#000" stroke-width="1.5"/>
<text x="115.5" y="1556.3" text-anchor="end" font-size="23">120</text>
<line x1="123" y1="1604" x2="126.5" y2="1604" stroke="#000" stroke-width="1.5"/>
<text x="115.5" y="1612.3" text-anchor="end" font-size="23">100</text>
<line x1="148" y1="1647.5" x2="148" y2="1651" stroke="#000" stroke-width="1.5"/>
<text x="148" y="1675.6" text-anchor="middle" font-size="23">60</text>
<line x1="190.6" y1="1647.5" x2="190.6" y2="1651" stroke="#000" stroke-width="1.5"/>
<text x="190.6" y="1675.6" text-anchor="middle" font-size="23">70</text>
<line x1="233.3" y1="1647.5" x2="233.3" y2="1651" stroke="#000" stroke-width="1.5"/>
<text x="233.3" y="1675.6" text-anchor="middle" font-size="23">80</text>
<line x1="275.9" y1="1647.5" x2="275.9" y2="1651" stroke="#000" stroke-width="1.5"/>
<text x="275.9" y="1675.6" text-anchor="middle" font-size="23">90</text>
<line x1="318.6" y1="1647.5" x2="318.6" y2="1651" stroke="#000" stroke-width="1.5"/>
<text x="318.6" y="1675.6" text-anchor="middle" font-size="23">100</text>
<circle cx="328" cy="1428.5" r="4.1" fill="#000"/>
<circle cx="174.5" cy="1543" r="4.1" fill="#000"/>
<circle cx="208.5" cy="1540" r="4.1" fill="#000"/>
<circle cx="219.5" cy="1539.5" r="4.1" fill="#000"/>
<circle cx="269" cy="1535" r="4.1" fill="#000"/>
<circle cx="236.5" cy="1557.5" r="4.1" fill="#000"/>
<circle cx="141.5" cy="1576.5" r="4.1" fill="#000"/>
<circle cx="162.5" cy="1589.5" r="4.1" fill="#000"/>
<circle cx="173.5" cy="1592" r="4.1" fill="#000"/>
<circle cx="175.5" cy="1596.5" r="4.1" fill="#000"/>
<circle cx="150.5" cy="1599" r="4.1" fill="#000"/>
<circle cx="206" cy="1574.5" r="4.1" fill="#000"/>
<circle cx="151" cy="1611.5" r="4.1" fill="#000"/>
<circle cx="168" cy="1612" r="4.1" fill="#000"/>
<circle cx="136.5" cy="1618" r="4.1" fill="#000"/>
<circle cx="146" cy="1625" r="4.1" fill="#000"/>
<circle cx="156" cy="1633" r="4.1" fill="#000"/>
<circle cx="152.5" cy="1637" r="4.1" fill="#000"/>
<line x1="136.5" y1="1620" x2="328" y2="1453" stroke="#dc2a2a" stroke-width="1.6"/>
<text x="307.5" y="1613.3" text-anchor="end" font-size="23"><tspan font-style="italic">R</tspan> = 0.890</text>
<text x="307.5" y="1640.3" text-anchor="end" font-size="23"><tspan font-style="italic">P</tspan> = 0.000</text>
<path d="M415,1417.5V1647.5H625" fill="none" stroke="#000" stroke-width="1.5"/>
<line x1="411.5" y1="1424" x2="415" y2="1424" stroke="#000" stroke-width="1.5"/>
<text x="404" y="1432.3" text-anchor="end" font-size="23">170</text>
<line x1="411.5" y1="1463.5" x2="415" y2="1463.5" stroke="#000" stroke-width="1.5"/>
<text x="404" y="1471.8" text-anchor="end" font-size="23">160</text>
<line x1="411.5" y1="1503" x2="415" y2="1503" stroke="#000" stroke-width="1.5"/>
<text x="404" y="1511.3" text-anchor="end" font-size="23">150</text>
<line x1="411.5" y1="1542.5" x2="415" y2="1542.5" stroke="#000" stroke-width="1.5"/>
<text x="404" y="1550.8" text-anchor="end" font-size="23">140</text>
<line x1="411.5" y1="1582" x2="415" y2="1582" stroke="#000" stroke-width="1.5"/>
<text x="404" y="1590.3" text-anchor="end" font-size="23">130</text>
<line x1="411.5" y1="1621.5" x2="415" y2="1621.5" stroke="#000" stroke-width="1.5"/>
<text x="404" y="1629.8" text-anchor="end" font-size="23">120</text>
<line x1="421.8" y1="1647.5" x2="421.8" y2="1651" stroke="#000" stroke-width="1.5"/>
<text x="421.8" y="1675.6" text-anchor="middle" font-size="23">70</text>
<line x1="463.4" y1="1647.5" x2="463.4" y2="1651" stroke="#000" stroke-width="1.5"/>
<text x="463.4" y="1675.6" text-anchor="middle" font-size="23">80</text>
<line x1="505.2" y1="1647.5" x2="505.2" y2="1651" stroke="#000" stroke-width="1.5"/>
<text x="505.2" y="1675.6" text-anchor="middle" font-size="23">90</text>
<line x1="547" y1="1647.5" x2="547" y2="1651" stroke="#000" stroke-width="1.5"/>
<text x="547" y="1675.6" text-anchor="middle" font-size="23">100</text>
<line x1="588.8" y1="1647.5" x2="588.8" y2="1651" stroke="#000" stroke-width="1.5"/>
<text x="588.8" y="1675.6" text-anchor="middle" font-size="23">110</text>
<circle cx="596" cy="1428.5" r="4.1" fill="#000"/>
<circle cx="615" cy="1452" r="4.1" fill="#000"/>
<circle cx="561.5" cy="1451" r="4.1" fill="#000"/>
<circle cx="550" cy="1459.5" r="4.1" fill="#000"/>
<circle cx="563.5" cy="1496.5" r="4.1" fill="#000"/>
<circle cx="570" cy="1497" r="4.1" fill="#000"/>
<circle cx="481" cy="1543" r="4.1" fill="#000"/>
<circle cx="539" cy="1564" r="4.1" fill="#000"/>
<circle cx="484" cy="1569.5" r="4.1" fill="#000"/>
<circle cx="495.5" cy="1571.5" r="4.1" fill="#000"/>
<circle cx="457.5" cy="1580" r="4.1" fill="#000"/>
<circle cx="460.5" cy="1578" r="4.1" fill="#000"/>
<circle cx="489" cy="1585" r="4.1" fill="#000"/>
<circle cx="490" cy="1590.5" r="4.1" fill="#000"/>
<circle cx="463.5" cy="1603" r="4.1" fill="#000"/>
<circle cx="464.5" cy="1617" r="4.1" fill="#000"/>
<circle cx="464.5" cy="1620" r="4.1" fill="#000"/>
<circle cx="424" cy="1620.5" r="4.1" fill="#000"/>
<line x1="424" y1="1637.5" x2="615" y2="1433" stroke="#dc2a2a" stroke-width="1.6"/>
<text x="610" y="1613.3" text-anchor="end" font-size="23"><tspan font-style="italic">R</tspan> = 0.913</text>
<text x="610" y="1640.3" text-anchor="end" font-size="23"><tspan font-style="italic">P</tspan> = 0.000</text>
<path d="M696.4,1417.4V1647.5H905.6" fill="none" stroke="#000" stroke-width="1.5"/>
<line x1="692.9" y1="1454.5" x2="696.4" y2="1454.5" stroke="#000" stroke-width="1.5"/>
<text x="687.9" y="1462.8" text-anchor="end" font-size="23">140</text>
<line x1="692.9" y1="1492.4" x2="696.4" y2="1492.4" stroke="#000" stroke-width="1.5"/>
<text x="687.9" y="1500.7" text-anchor="end" font-size="23">130</text>
<line x1="692.9" y1="1530.3" x2="696.4" y2="1530.3" stroke="#000" stroke-width="1.5"/>
<text x="687.9" y="1538.6" text-anchor="end" font-size="23">120</text>
<line x1="692.9" y1="1568.2" x2="696.4" y2="1568.2" stroke="#000" stroke-width="1.5"/>
<text x="687.9" y="1576.5" text-anchor="end" font-size="23">110</text>
<line x1="692.9" y1="1606.1" x2="696.4" y2="1606.1" stroke="#000" stroke-width="1.5"/>
<text x="687.9" y="1614.4" text-anchor="end" font-size="23">100</text>
<line x1="692.9" y1="1644" x2="696.4" y2="1644" stroke="#000" stroke-width="1.5"/>
<text x="687.9" y="1652.3" text-anchor="end" font-size="23">90</text>
<line x1="730.8" y1="1647.5" x2="730.8" y2="1651" stroke="#000" stroke-width="1.5"/>
<text x="730.8" y="1675.6" text-anchor="middle" font-size="23">60</text>
<line x1="774.8" y1="1647.5" x2="774.8" y2="1651" stroke="#000" stroke-width="1.5"/>
<text x="774.8" y="1675.6" text-anchor="middle" font-size="23">70</text>
<line x1="818.6" y1="1647.5" x2="818.6" y2="1651" stroke="#000" stroke-width="1.5"/>
<text x="818.6" y="1675.6" text-anchor="middle" font-size="23">80</text>
<line x1="862.7" y1="1647.5" x2="862.7" y2="1651" stroke="#000" stroke-width="1.5"/>
<text x="862.7" y="1675.6" text-anchor="middle" font-size="23">90</text>
<circle cx="886.4" cy="1428.6" r="4.2" fill="#000"/>
<circle cx="895.6" cy="1490.3" r="4.2" fill="#000"/>
<circle cx="809.7" cy="1507.3" r="4.2" fill="#000"/>
<circle cx="853" cy="1507.7" r="4.2" fill="#000"/>
<circle cx="816.7" cy="1528.3" r="4.2" fill="#000"/>
<circle cx="783.3" cy="1543.1" r="4.2" fill="#000"/>
<circle cx="793" cy="1544.8" r="4.2" fill="#000"/>
<circle cx="792.5" cy="1555.7" r="4.2" fill="#000"/>
<circle cx="796.9" cy="1562.2" r="4.2" fill="#000"/>
<circle cx="819.9" cy="1570.5" r="4.2" fill="#000"/>
<circle cx="823.2" cy="1584.7" r="4.2" fill="#000"/>
<circle cx="754.2" cy="1590.1" r="4.2" fill="#000"/>
<circle cx="770" cy="1594.4" r="4.2" fill="#000"/>
<circle cx="740" cy="1603.9" r="4.2" fill="#000"/>
<circle cx="775.3" cy="1609.2" r="4.2" fill="#000"/>
<circle cx="720.8" cy="1613.6" r="4.2" fill="#000"/>
<circle cx="705.1" cy="1626.9" r="4.2" fill="#000"/>
<line x1="705.3" y1="1637.3" x2="895.6" y2="1470.2" stroke="#dc2a2a" stroke-width="1.6"/>
<text x="903" y="1612.6" text-anchor="end" font-size="23"><tspan font-style="italic">R</tspan> = 0.870</text>
<text x="903" y="1639.6" text-anchor="end" font-size="23"><tspan font-style="italic">P</tspan> = 0.000</text>
<text transform="translate(29.3,1541) rotate(-90)" text-anchor="middle" font-size="23"><tspan font-style="italic">Sema4a</tspan> expression</text>
<text transform="translate(57.3,1543) rotate(-90)" text-anchor="middle" font-size="23">in hepatocytes</text>
<text x="512.5" y="1713" text-anchor="middle" font-size="23"><tspan font-style="italic">Mef2d</tspan> expression in hepatocytes</text>
<text x="951" y="28" font-weight="bold" font-size="36">b</text>
<circle cx="999.4" cy="11.3" r="9.4" fill="#40677f"/>
<path d="M980.1,37 Q980.1,24.7 992,24.7 H1008.5 Q1020.1,24.7 1020.1,37 V59 Q1020.1,62.2 1016.9,62.2 H1013.8 Q1010.6,62.2 1010.6,59 V35 H1010.6 V103 Q1010.6,106.6 1007.2,106.6 H1004.5 Q1001.2,106.6 1001.2,103 V62 H998.9 V103 Q998.9,106.6 995.5,106.6 H993 Q989.6,106.6 989.6,103 V35 H989.2 V59 Q989.2,62.2 986,62.2 H983.3 Q980.1,62.2 980.1,59 Z" fill="#40677f"/>
<text x="1532" y="24.8" text-anchor="middle" font-weight="bold" font-size="23">GSE6764</text>
<text x="1166.5" y="63.3" text-anchor="middle" font-size="23">Cirrhosis (n = 13)</text>
<text x="1176.5" y="97.3" text-anchor="middle" font-size="23"><tspan font-style="italic">R</tspan> = -0.075; <tspan font-style="italic">P</tspan> = 0.809</text>
<path d="M1066,114V332.5H1277.5" fill="none" stroke="#000" stroke-width="1.5"/>
<line x1="1059.5" y1="131.5" x2="1066" y2="131.5" stroke="#000" stroke-width="1.5"/>
<text x="1048.8" y="139.8" text-anchor="end" font-size="23">100</text>
<line x1="1059.5" y1="192.7" x2="1066" y2="192.7" stroke="#000" stroke-width="1.5"/>
<text x="1048.8" y="200.9" text-anchor="end" font-size="23">80</text>
<line x1="1059.5" y1="253.8" x2="1066" y2="253.8" stroke="#000" stroke-width="1.5"/>
<text x="1048.8" y="262.1" text-anchor="end" font-size="23">60</text>
<line x1="1059.5" y1="315" x2="1066" y2="315" stroke="#000" stroke-width="1.5"/>
<text x="1048.8" y="323.3" text-anchor="end" font-size="23">40</text>
<line x1="1067.5" y1="332.5" x2="1067.5" y2="339" stroke="#000" stroke-width="1.5"/>
<text x="1067.5" y="363.5" text-anchor="middle" font-size="23">40</text>
<line x1="1109" y1="332.5" x2="1109" y2="339" stroke="#000" stroke-width="1.5"/>
<text x="1109" y="363.5" text-anchor="middle" font-size="23">60</text>
<line x1="1150.5" y1="332.5" x2="1150.5" y2="339" stroke="#000" stroke-width="1.5"/>
<text x="1150.5" y="363.5" text-anchor="middle" font-size="23">80</text>
<line x1="1192" y1="332.5" x2="1192" y2="339" stroke="#000" stroke-width="1.5"/>
<text x="1192" y="363.5" text-anchor="middle" font-size="23">100</text>
<line x1="1233.5" y1="332.5" x2="1233.5" y2="339" stroke="#000" stroke-width="1.5"/>
<text x="1233.5" y="363.5" text-anchor="middle" font-size="23">120</text>
<line x1="1275" y1="332.5" x2="1275" y2="339" stroke="#000" stroke-width="1.5"/>
<text x="1275" y="363.5" text-anchor="middle" font-size="23">140</text>
<circle cx="1119.5" cy="124" r="2.7" fill="#000"/>
<circle cx="1157" cy="211" r="2.7" fill="#000"/>
<circle cx="1130.5" cy="235" r="2.7" fill="#000"/>
<circle cx="1142.5" cy="236.5" r="2.7" fill="#000"/>
<circle cx="1082" cy="248" r="2.7" fill="#000"/>
<circle cx="1075.5" cy="295" r="2.7" fill="#000"/>
<circle cx="1118.5" cy="290.5" r="2.7" fill="#000"/>
<circle cx="1112.5" cy="295.5" r="2.7" fill="#000"/>
<circle cx="1149" cy="291" r="2.7" fill="#000"/>
<circle cx="1088.5" cy="316.5" r="2.7" fill="#000"/>
<circle cx="1117.5" cy="323.5" r="2.7" fill="#000"/>
<circle cx="1253" cy="288" r="2.7" fill="#000"/>
<circle cx="1267" cy="297.5" r="2.7" fill="#000"/>
<line x1="1075.5" y1="261" x2="1267" y2="274" stroke="#dc2a2a" stroke-width="1.6"/>
<text transform="translate(1006.8,217.5) rotate(-90)" text-anchor="middle" font-size="23">NOTCH3</text>
<text x="1177.5" y="398.3" text-anchor="middle" font-size="23">MEF2D</text>
<path d="M1309.7,208.9H1323.9V197.8L1337.7,219.8L1323.9,241.8V230.7H1309.7Z" fill="#4d9aff"/>
<text x="1535.5" y="63.3" text-anchor="middle" font-size="23">Dysplasia (n = 17)</text>
<text x="1534.5" y="97.3" text-anchor="middle" font-size="23"><tspan font-weight="bold" font-style="italic">R</tspan><tspan font-weight="bold"> = 0.492;  </tspan><tspan font-weight="bold" font-style="italic">P</tspan><tspan font-weight="bold"> = 0.045</tspan></text>
<path d="M1428,115V334H1640.5" fill="none" stroke="#000" stroke-width="1.5"/>
<line x1="1421.5" y1="142.5" x2="1428" y2="142.5" stroke="#000" stroke-width="1.5"/>
<text x="1410.8" y="150.8" text-anchor="end" font-size="23">70</text>
<line x1="1421.5" y1="182.4" x2="1428" y2="182.4" stroke="#000" stroke-width="1.5"/>
<text x="1410.8" y="190.7" text-anchor="end" font-size="23">60</text>
<line x1="1421.5" y1="222.2" x2="1428" y2="222.2" stroke="#000" stroke-width="1.5"/>
<text x="1410.8" y="230.5" text-anchor="end" font-size="23">50</text>
<line x1="1421.5" y1="262.1" x2="1428" y2="262.1" stroke="#000" stroke-width="1.5"/>
<text x="1410.8" y="270.4" text-anchor="end" font-size="23">40</text>
<line x1="1421.5" y1="302" x2="1428" y2="302" stroke="#000" stroke-width="1.5"/>
<text x="1410.8" y="310.3" text-anchor="end" font-size="23">30</text>
<line x1="1461.2" y1="334" x2="1461.2" y2="340.5" stroke="#000" stroke-width="1.5"/>
<text x="1461.2" y="365" text-anchor="middle" font-size="23">30</text>
<line x1="1497" y1="334" x2="1497" y2="340.5" stroke="#000" stroke-width="1.5"/>
<text x="1497" y="365" text-anchor="middle" font-size="23">40</text>
<line x1="1532.8" y1="334" x2="1532.8" y2="340.5" stroke="#000" stroke-width="1.5"/>
<text x="1532.8" y="365" text-anchor="middle" font-size="23">50</text>
<line x1="1568.8" y1="334" x2="1568.8" y2="340.5" stroke="#000" stroke-width="1.5"/>
<text x="1568.8" y="365" text-anchor="middle" font-size="23">60</text>
<line x1="1604.8" y1="334" x2="1604.8" y2="340.5" stroke="#000" stroke-width="1.5"/>
<text x="1604.8" y="365" text-anchor="middle" font-size="23">70</text>
<circle cx="1630" cy="125" r="2.7" fill="#000"/>
<circle cx="1601" cy="139" r="2.7" fill="#000"/>
<circle cx="1471" cy="221.5" r="2.7" fill="#000"/>
<circle cx="1507" cy="260" r="2.7" fill="#000"/>
<circle cx="1505.5" cy="267" r="2.7" fill="#000"/>
<circle cx="1527.5" cy="262.5" r="2.7" fill="#000"/>
<circle cx="1522" cy="270.5" r="2.7" fill="#000"/>
<circle cx="1525.5" cy="270" r="2.7" fill="#000"/>
<circle cx="1587" cy="238.5" r="2.7" fill="#000"/>
<circle cx="1587.5" cy="241" r="2.7" fill="#000"/>
<circle cx="1520" cy="287" r="2.7" fill="#000"/>
<circle cx="1558" cy="296" r="2.7" fill="#000"/>
<circle cx="1579" cy="286.5" r="2.7" fill="#000"/>
<circle cx="1532" cy="320.5" r="2.7" fill="#000"/>
<circle cx="1595.5" cy="324.5" r="2.7" fill="#000"/>
<circle cx="1456.5" cy="300.5" r="2.7" fill="#000"/>
<circle cx="1437.5" cy="311" r="2.7" fill="#000"/>
<line x1="1437.5" y1="312" x2="1630" y2="213.5" stroke="#dc2a2a" stroke-width="1.6"/>
<text x="1539.5" y="398.3" text-anchor="middle" font-size="23">MEF2D</text>
<path d="M1675.5,209.1H1689.7V198L1703.5,220L1689.7,242V230.9H1675.5Z" fill="#4d9aff"/>
<text x="1891" y="63.3" text-anchor="middle" font-size="23">Early HCC (n = 18)</text>
<text x="1887" y="98.3" text-anchor="middle" font-size="23"><tspan font-weight="bold" font-style="italic">R</tspan><tspan font-weight="bold"> = 0.560;  </tspan><tspan font-weight="bold" font-style="italic">P</tspan><tspan font-weight="bold"> = 0.016</tspan></text>
<path d="M1780,118V334H1992" fill="none" stroke="#000" stroke-width="1.5"/>
<line x1="1773.5" y1="131" x2="1780" y2="131" stroke="#000" stroke-width="1.5"/>
<text x="1762.8" y="139.3" text-anchor="end" font-size="23">600</text>
<line x1="1773.5" y1="198.5" x2="1780" y2="198.5" stroke="#000" stroke-width="1.5"/>
<text x="1762.8" y="206.8" text-anchor="end" font-size="23">400</text>
<line x1="1773.5" y1="266" x2="1780" y2="266" stroke="#000" stroke-width="1.5"/>
<text x="1762.8" y="274.3" text-anchor="end" font-size="23">200</text>
<line x1="1773.5" y1="333.5" x2="1780" y2="333.5" stroke="#000" stroke-width="1.5"/>
<text x="1762.8" y="341.8" text-anchor="end" font-size="23">0</text>
<line x1="1785.5" y1="334" x2="1785.5" y2="340.5" stroke="#000" stroke-width="1.5"/>
<text x="1785.5" y="365" text-anchor="middle" font-size="23">50</text>
<line x1="1836.5" y1="334" x2="1836.5" y2="340.5" stroke="#000" stroke-width="1.5"/>
<text x="1836.5" y="365" text-anchor="middle" font-size="23">75</text>
<line x1="1887.5" y1="334" x2="1887.5" y2="340.5" stroke="#000" stroke-width="1.5"/>
<text x="1887.5" y="365" text-anchor="middle" font-size="23">100</text>
<line x1="1938.5" y1="334" x2="1938.5" y2="340.5" stroke="#000" stroke-width="1.5"/>
<text x="1938.5" y="365" text-anchor="middle" font-size="23">125</text>
<line x1="1989.5" y1="334" x2="1989.5" y2="340.5" stroke="#000" stroke-width="1.5"/>
<text x="1989.5" y="365" text-anchor="middle" font-size="23">150</text>
<circle cx="1982.5" cy="128" r="2.7" fill="#000"/>
<circle cx="1819" cy="148.5" r="2.7" fill="#000"/>
<circle cx="1903" cy="187" r="2.7" fill="#000"/>
<circle cx="1872" cy="283" r="2.7" fill="#000"/>
<circle cx="1960" cy="284" r="2.7" fill="#000"/>
<circle cx="1904" cy="312" r="2.7" fill="#000"/>
<circle cx="1820.5" cy="302" r="2.7" fill="#000"/>
<circle cx="1832" cy="305.5" r="2.7" fill="#000"/>
<circle cx="1833.5" cy="308.5" r="2.7" fill="#000"/>
<circle cx="1848" cy="315.5" r="2.7" fill="#000"/>
<circle cx="1816" cy="313" r="2.7" fill="#000"/>
<circle cx="1818.5" cy="315" r="2.7" fill="#000"/>
<circle cx="1813" cy="320" r="2.7" fill="#000"/>
<circle cx="1811.5" cy="324" r="2.7" fill="#000"/>
<circle cx="1799.5" cy="320" r="2.7" fill="#000"/>
<circle cx="1792" cy="317.5" r="2.7" fill="#000"/>
<circle cx="1789" cy="320.5" r="2.7" fill="#000"/>
<circle cx="1833" cy="326" r="2.7" fill="#000"/>
<line x1="1789" y1="321.5" x2="1982.5" y2="201" stroke="#dc2a2a" stroke-width="1.6"/>
<text x="1894.5" y="398.3" text-anchor="middle" font-size="23">MEF2D</text>
<text x="1172.5" y="463.3" text-anchor="middle" font-size="23"><tspan font-style="italic">R</tspan> = 0.153; <tspan font-style="italic">P</tspan> = 0.618</text>
<path d="M1067,478.5V699H1277.5" fill="none" stroke="#000" stroke-width="1.5"/>
<line x1="1060.5" y1="522.5" x2="1067" y2="522.5" stroke="#000" stroke-width="1.5"/>
<text x="1049.8" y="530.8" text-anchor="end" font-size="23">100</text>
<line x1="1060.5" y1="583" x2="1067" y2="583" stroke="#000" stroke-width="1.5"/>
<text x="1049.8" y="591.3" text-anchor="end" font-size="23">75</text>
<line x1="1060.5" y1="643.5" x2="1067" y2="643.5" stroke="#000" stroke-width="1.5"/>
<text x="1049.8" y="651.8" text-anchor="end" font-size="23">50</text>
<line x1="1067.5" y1="699" x2="1067.5" y2="705.5" stroke="#000" stroke-width="1.5"/>
<text x="1067.5" y="730" text-anchor="middle" font-size="23">40</text>
<line x1="1109" y1="699" x2="1109" y2="705.5" stroke="#000" stroke-width="1.5"/>
<text x="1109" y="730" text-anchor="middle" font-size="23">60</text>
<line x1="1150.5" y1="699" x2="1150.5" y2="705.5" stroke="#000" stroke-width="1.5"/>
<text x="1150.5" y="730" text-anchor="middle" font-size="23">80</text>
<line x1="1192" y1="699" x2="1192" y2="705.5" stroke="#000" stroke-width="1.5"/>
<text x="1192" y="730" text-anchor="middle" font-size="23">100</text>
<line x1="1233.5" y1="699" x2="1233.5" y2="705.5" stroke="#000" stroke-width="1.5"/>
<text x="1233.5" y="730" text-anchor="middle" font-size="23">120</text>
<line x1="1275" y1="699" x2="1275" y2="705.5" stroke="#000" stroke-width="1.5"/>
<text x="1275" y="730" text-anchor="middle" font-size="23">140</text>
<circle cx="1083" cy="489" r="2.7" fill="#000"/>
<circle cx="1143.5" cy="549.5" r="2.7" fill="#000"/>
<circle cx="1268" cy="550.5" r="2.7" fill="#000"/>
<circle cx="1131" cy="583" r="2.7" fill="#000"/>
<circle cx="1076" cy="602.5" r="2.7" fill="#000"/>
<circle cx="1157.5" cy="612" r="2.7" fill="#000"/>
<circle cx="1254" cy="621" r="2.7" fill="#000"/>
<circle cx="1119" cy="638" r="2.7" fill="#000"/>
<circle cx="1150" cy="639.5" r="2.7" fill="#000"/>
<circle cx="1119" cy="649.5" r="2.7" fill="#000"/>
<circle cx="1120.5" cy="660" r="2.7" fill="#000"/>
<circle cx="1089" cy="668.5" r="2.7" fill="#000"/>
<circle cx="1113" cy="688.5" r="2.7" fill="#000"/>
<line x1="1076" y1="620.5" x2="1268" y2="593" stroke="#dc2a2a" stroke-width="1.6"/>
<text transform="translate(1006.8,584) rotate(-90)" text-anchor="middle" font-size="23">VEGFC</text>
<text x="1175" y="767.3" text-anchor="middle" font-size="23">MEF2D</text>
<path d="M1309.7,571.6H1323.9V560.5L1337.7,582.5L1323.9,604.5V593.4H1309.7Z" fill="#4d9aff"/>
<text x="1531" y="463.3" text-anchor="middle" font-size="23"><tspan font-style="italic">R</tspan> = 0.429; <tspan font-style="italic">P</tspan> = 0.086</text>
<path d="M1428,479V699H1639" fill="none" stroke="#000" stroke-width="1.5"/>
<line x1="1421.5" y1="525.5" x2="1428" y2="525.5" stroke="#000" stroke-width="1.5"/>
<text x="1410.8" y="533.8" text-anchor="end" font-size="23">60</text>
<line x1="1421.5" y1="596" x2="1428" y2="596" stroke="#000" stroke-width="1.5"/>
<text x="1410.8" y="604.3" text-anchor="end" font-size="23">40</text>
<line x1="1421.5" y1="666.5" x2="1428" y2="666.5" stroke="#000" stroke-width="1.5"/>
<text x="1410.8" y="674.8" text-anchor="end" font-size="23">20</text>
<line x1="1461.2" y1="699" x2="1461.2" y2="705.5" stroke="#000" stroke-width="1.5"/>
<text x="1461.2" y="730" text-anchor="middle" font-size="23">30</text>
<line x1="1497" y1="699" x2="1497" y2="705.5" stroke="#000" stroke-width="1.5"/>
<text x="1497" y="730" text-anchor="middle" font-size="23">40</text>
<line x1="1532.8" y1="699" x2="1532.8" y2="705.5" stroke="#000" stroke-width="1.5"/>
<text x="1532.8" y="730" text-anchor="middle" font-size="23">50</text>
<line x1="1568.8" y1="699" x2="1568.8" y2="705.5" stroke="#000" stroke-width="1.5"/>
<text x="1568.8" y="730" text-anchor="middle" font-size="23">60</text>
<line x1="1604.8" y1="699" x2="1604.8" y2="705.5" stroke="#000" stroke-width="1.5"/>
<text x="1604.8" y="730" text-anchor="middle" font-size="23">70</text>
<circle cx="1629" cy="489.5" r="2.7" fill="#000"/>
<circle cx="1526.5" cy="522" r="2.7" fill="#000"/>
<circle cx="1524.5" cy="537.5" r="2.7" fill="#000"/>
<circle cx="1521.5" cy="554" r="2.7" fill="#000"/>
<circle cx="1599.5" cy="566" r="2.7" fill="#000"/>
<circle cx="1506" cy="589" r="2.7" fill="#000"/>
<circle cx="1504.5" cy="597.5" r="2.7" fill="#000"/>
<circle cx="1578" cy="588.5" r="2.7" fill="#000"/>
<circle cx="1556.5" cy="622.5" r="2.7" fill="#000"/>
<circle cx="1585.5" cy="632" r="2.7" fill="#000"/>
<circle cx="1587" cy="632" r="2.7" fill="#000"/>
<circle cx="1594.5" cy="630" r="2.7" fill="#000"/>
<circle cx="1456" cy="647" r="2.7" fill="#000"/>
<circle cx="1470" cy="655" r="2.7" fill="#000"/>
<circle cx="1437" cy="670" r="2.7" fill="#000"/>
<circle cx="1518.5" cy="667.5" r="2.7" fill="#000"/>
<circle cx="1531" cy="689" r="2.7" fill="#000"/>
<line x1="1437" y1="650" x2="1629" y2="563.5" stroke="#dc2a2a" stroke-width="1.6"/>
<text x="1537" y="766.8" text-anchor="middle" font-size="23">MEF2D</text>
<path d="M1675.5,571.6H1689.7V560.5L1703.5,582.5L1689.7,604.5V593.4H1675.5Z" fill="#4d9aff"/>
<text x="1884.5" y="463.3" text-anchor="middle" font-size="23"><tspan font-weight="bold" font-style="italic">R</tspan><tspan font-weight="bold"> = 0.575;  </tspan><tspan font-weight="bold" font-style="italic">P</tspan><tspan font-weight="bold"> = 0.013</tspan></text>
<path d="M1780,481V699H1991" fill="none" stroke="#000" stroke-width="1.5"/>
<line x1="1773.5" y1="493" x2="1780" y2="493" stroke="#000" stroke-width="1.5"/>
<text x="1762.8" y="501.3" text-anchor="end" font-size="23">160</text>
<line x1="1773.5" y1="545" x2="1780" y2="545" stroke="#000" stroke-width="1.5"/>
<text x="1762.8" y="553.3" text-anchor="end" font-size="23">120</text>
<line x1="1773.5" y1="597" x2="1780" y2="597" stroke="#000" stroke-width="1.5"/>
<text x="1762.8" y="605.3" text-anchor="end" font-size="23">80</text>
<line x1="1773.5" y1="649" x2="1780" y2="649" stroke="#000" stroke-width="1.5"/>
<text x="1762.8" y="657.3" text-anchor="end" font-size="23">40</text>
<line x1="1785.5" y1="699" x2="1785.5" y2="705.5" stroke="#000" stroke-width="1.5"/>
<text x="1785.5" y="730" text-anchor="middle" font-size="23">50</text>
<line x1="1836.5" y1="699" x2="1836.5" y2="705.5" stroke="#000" stroke-width="1.5"/>
<text x="1836.5" y="730" text-anchor="middle" font-size="23">75</text>
<line x1="1887.5" y1="699" x2="1887.5" y2="705.5" stroke="#000" stroke-width="1.5"/>
<text x="1887.5" y="730" text-anchor="middle" font-size="23">100</text>
<line x1="1938.5" y1="699" x2="1938.5" y2="705.5" stroke="#000" stroke-width="1.5"/>
<text x="1938.5" y="730" text-anchor="middle" font-size="23">125</text>
<line x1="1989.5" y1="699" x2="1989.5" y2="705.5" stroke="#000" stroke-width="1.5"/>
<text x="1989.5" y="730" text-anchor="middle" font-size="23">150</text>
<circle cx="1981" cy="491.5" r="2.7" fill="#000"/>
<circle cx="1818.5" cy="581" r="2.7" fill="#000"/>
<circle cx="1833" cy="593.5" r="2.7" fill="#000"/>
<circle cx="1871" cy="583" r="2.7" fill="#000"/>
<circle cx="1902" cy="596.5" r="2.7" fill="#000"/>
<circle cx="1815.5" cy="623.5" r="2.7" fill="#000"/>
<circle cx="1847" cy="620" r="2.7" fill="#000"/>
<circle cx="1819.5" cy="638" r="2.7" fill="#000"/>
<circle cx="1798" cy="643" r="2.7" fill="#000"/>
<circle cx="1818" cy="649" r="2.7" fill="#000"/>
<circle cx="1831" cy="655.5" r="2.7" fill="#000"/>
<circle cx="1810.5" cy="665" r="2.7" fill="#000"/>
<circle cx="1959" cy="643.5" r="2.7" fill="#000"/>
<circle cx="1903.5" cy="666" r="2.7" fill="#000"/>
<circle cx="1832" cy="679" r="2.7" fill="#000"/>
<circle cx="1813.5" cy="689" r="2.7" fill="#000"/>
<circle cx="1790.5" cy="669" r="2.7" fill="#000"/>
<circle cx="1788.5" cy="670.5" r="2.7" fill="#000"/>
<line x1="1788.5" y1="659.5" x2="1981" y2="563.5" stroke="#dc2a2a" stroke-width="1.6"/>
<text x="1893.5" y="766.8" text-anchor="middle" font-size="23">MEF2D</text>
<text x="1330.5" y="827.7" text-anchor="middle" font-weight="bold" font-size="23">GSE12443</text>
<text x="1168.2" y="871.8" text-anchor="middle" font-size="23">Cirrhosis (n = 48)</text>
<text x="1165.3" y="909.1" text-anchor="middle" font-size="23"><tspan font-style="italic">R</tspan> = 0.169; <tspan font-style="italic">P</tspan> = 0.261</text>
<path d="M1066.5,925V1143H1284" fill="none" stroke="#000" stroke-width="1.5"/>
<line x1="1063" y1="970.7" x2="1066.5" y2="970.7" stroke="#000" stroke-width="1.5"/>
<text x="1053" y="979" text-anchor="end" font-size="23">1.0</text>
<line x1="1063" y1="1020.8" x2="1066.5" y2="1020.8" stroke="#000" stroke-width="1.5"/>
<text x="1053" y="1029.1" text-anchor="end" font-size="23">0.5</text>
<line x1="1063" y1="1070.9" x2="1066.5" y2="1070.9" stroke="#000" stroke-width="1.5"/>
<text x="1053" y="1079.2" text-anchor="end" font-size="23">0.0</text>
<line x1="1063" y1="1121" x2="1066.5" y2="1121" stroke="#000" stroke-width="1.5"/>
<text x="1053" y="1129.3" text-anchor="end" font-size="23">-0.5</text>
<line x1="1077.5" y1="1143" x2="1077.5" y2="1146.5" stroke="#000" stroke-width="1.5"/>
<text x="1077.5" y="1171.5" text-anchor="middle" font-size="23">-0.5</text>
<line x1="1136.4" y1="1143" x2="1136.4" y2="1146.5" stroke="#000" stroke-width="1.5"/>
<text x="1136.4" y="1171.5" text-anchor="middle" font-size="23">0.0</text>
<line x1="1195" y1="1143" x2="1195" y2="1146.5" stroke="#000" stroke-width="1.5"/>
<text x="1195" y="1171.5" text-anchor="middle" font-size="23">0.5</text>
<line x1="1253.8" y1="1143" x2="1253.8" y2="1146.5" stroke="#000" stroke-width="1.5"/>
<text x="1253.8" y="1171.5" text-anchor="middle" font-size="23">1.0</text>
<circle cx="1177.5" cy="933.8" r="2.7" fill="#000"/>
<circle cx="1155.5" cy="954.2" r="2.7" fill="#000"/>
<circle cx="1152.1" cy="960.9" r="2.7" fill="#000"/>
<circle cx="1187.3" cy="958.8" r="2.7" fill="#000"/>
<circle cx="1219.9" cy="959.2" r="2.7" fill="#000"/>
<circle cx="1164.8" cy="974.1" r="2.7" fill="#000"/>
<circle cx="1120.3" cy="992.3" r="2.7" fill="#000"/>
<circle cx="1200.4" cy="1003.7" r="2.7" fill="#000"/>
<circle cx="1168.2" cy="1012.6" r="2.7" fill="#000"/>
<circle cx="1170.8" cy="1013.5" r="2.7" fill="#000"/>
<circle cx="1161.4" cy="1017.3" r="2.7" fill="#000"/>
<circle cx="1175" cy="1018.6" r="2.7" fill="#000"/>
<circle cx="1188.6" cy="1018.6" r="2.7" fill="#000"/>
<circle cx="1168.6" cy="1024.5" r="2.7" fill="#000"/>
<circle cx="1180.9" cy="1025.3" r="2.7" fill="#000"/>
<circle cx="1192.8" cy="1026.6" r="2.7" fill="#000"/>
<circle cx="1174.2" cy="1031.3" r="2.7" fill="#000"/>
<circle cx="1178" cy="1031.3" r="2.7" fill="#000"/>
<circle cx="1150.8" cy="1041.4" r="2.7" fill="#000"/>
<circle cx="1166.1" cy="1037.2" r="2.7" fill="#000"/>
<circle cx="1176.3" cy="1037.2" r="2.7" fill="#000"/>
<circle cx="1171.2" cy="1043.6" r="2.7" fill="#000"/>
<circle cx="1182.6" cy="1048.6" r="2.7" fill="#000"/>
<circle cx="1187.7" cy="1051.6" r="2.7" fill="#000"/>
<circle cx="1166.5" cy="1055" r="2.7" fill="#000"/>
<circle cx="1180.1" cy="1058" r="2.7" fill="#000"/>
<circle cx="1181.8" cy="1057.5" r="2.7" fill="#000"/>
<circle cx="1160.2" cy="1060.5" r="2.7" fill="#000"/>
<circle cx="1189.8" cy="1058.4" r="2.7" fill="#000"/>
<circle cx="1203.4" cy="1063.9" r="2.7" fill="#000"/>
<circle cx="1133.1" cy="1066.4" r="2.7" fill="#000"/>
<circle cx="1135.6" cy="1071.9" r="2.7" fill="#000"/>
<circle cx="1157.2" cy="1072.4" r="2.7" fill="#000"/>
<circle cx="1169.5" cy="1068.1" r="2.7" fill="#000"/>
<circle cx="1222" cy="1072.8" r="2.7" fill="#000"/>
<circle cx="1132.6" cy="1097.4" r="2.7" fill="#000"/>
<circle cx="1145.3" cy="1096.1" r="2.7" fill="#000"/>
<circle cx="1159.3" cy="1101.2" r="2.7" fill="#000"/>
<circle cx="1176.3" cy="1102.5" r="2.7" fill="#000"/>
<circle cx="1190.7" cy="1088.9" r="2.7" fill="#000"/>
<circle cx="1232.2" cy="1090.2" r="2.7" fill="#000"/>
<circle cx="1122" cy="1107.1" r="2.7" fill="#000"/>
<circle cx="1122.5" cy="1110.9" r="2.7" fill="#000"/>
<circle cx="1158.5" cy="1130.4" r="2.7" fill="#000"/>
<circle cx="1175.4" cy="1133" r="2.7" fill="#000"/>
<line x1="1120.3" y1="1060.5" x2="1232.2" y2="1024.5" stroke="#dc2a2a" stroke-width="1.6"/>
<text transform="translate(1007,1017) rotate(-90)" text-anchor="middle" font-size="23">NOTCH3</text>
<text x="1182.2" y="1205.7" text-anchor="middle" font-size="23">MEF2D</text>
<path d="M1298.6,1016.3H1314.9V1003.5L1330.8,1028.8L1314.9,1054.1V1041.3H1298.6Z" fill="#4d9aff"/>
<text x="1503" y="871.8" text-anchor="middle" font-size="23">Dysplasia (n = 30)</text>
<text x="1503.8" y="909.1" text-anchor="middle" font-size="23"><tspan font-weight="bold" font-style="italic">R</tspan><tspan font-weight="bold"> = 0.415;  </tspan><tspan font-weight="bold" font-style="italic">P</tspan><tspan font-weight="bold"> = 0.023</tspan></text>
<path d="M1394.5,925V1143H1612" fill="none" stroke="#000" stroke-width="1.5"/>
<line x1="1391" y1="965.6" x2="1394.5" y2="965.6" stroke="#000" stroke-width="1.5"/>
<text x="1381" y="973.9" text-anchor="end" font-size="23">1.0</text>
<line x1="1391" y1="1028.1" x2="1394.5" y2="1028.1" stroke="#000" stroke-width="1.5"/>
<text x="1381" y="1036.4" text-anchor="end" font-size="23">0.5</text>
<line x1="1391" y1="1090.6" x2="1394.5" y2="1090.6" stroke="#000" stroke-width="1.5"/>
<text x="1381" y="1098.9" text-anchor="end" font-size="23">0.0</text>
<line x1="1399.2" y1="1143" x2="1399.2" y2="1146.5" stroke="#000" stroke-width="1.5"/>
<text x="1399.2" y="1171.5" text-anchor="middle" font-size="23">-0.5</text>
<line x1="1465.3" y1="1143" x2="1465.3" y2="1146.5" stroke="#000" stroke-width="1.5"/>
<text x="1465.3" y="1171.5" text-anchor="middle" font-size="23">0.0</text>
<line x1="1531.8" y1="1143" x2="1531.8" y2="1146.5" stroke="#000" stroke-width="1.5"/>
<text x="1531.8" y="1171.5" text-anchor="middle" font-size="23">0.5</text>
<line x1="1597" y1="1143" x2="1597" y2="1146.5" stroke="#000" stroke-width="1.5"/>
<text x="1597" y="1171.5" text-anchor="middle" font-size="23">1.0</text>
<circle cx="1540.3" cy="933.8" r="2.7" fill="#000"/>
<circle cx="1548.3" cy="944.8" r="2.7" fill="#000"/>
<circle cx="1523.3" cy="967.7" r="2.7" fill="#000"/>
<circle cx="1602.5" cy="983.4" r="2.7" fill="#000"/>
<circle cx="1516.9" cy="994.4" r="2.7" fill="#000"/>
<circle cx="1555.9" cy="997.8" r="2.7" fill="#000"/>
<circle cx="1508.1" cy="1005.8" r="2.7" fill="#000"/>
<circle cx="1524.2" cy="1004.6" r="2.7" fill="#000"/>
<circle cx="1493.6" cy="1016.4" r="2.7" fill="#000"/>
<circle cx="1497.5" cy="1026.6" r="2.7" fill="#000"/>
<circle cx="1514" cy="1026.2" r="2.7" fill="#000"/>
<circle cx="1518.6" cy="1029.2" r="2.7" fill="#000"/>
<circle cx="1550" cy="1018.1" r="2.7" fill="#000"/>
<circle cx="1547.9" cy="1019.8" r="2.7" fill="#000"/>
<circle cx="1553.4" cy="1025.8" r="2.7" fill="#000"/>
<circle cx="1515.7" cy="1053.3" r="2.7" fill="#000"/>
<circle cx="1527.5" cy="1045.7" r="2.7" fill="#000"/>
<circle cx="1541.5" cy="1043.6" r="2.7" fill="#000"/>
<circle cx="1553.4" cy="1043.1" r="2.7" fill="#000"/>
<circle cx="1454.2" cy="1069.8" r="2.7" fill="#000"/>
<circle cx="1525" cy="1066.9" r="2.7" fill="#000"/>
<circle cx="1404.2" cy="1082.5" r="2.7" fill="#000"/>
<circle cx="1520.3" cy="1085.5" r="2.7" fill="#000"/>
<circle cx="1544.9" cy="1074.1" r="2.7" fill="#000"/>
<circle cx="1546.2" cy="1082.5" r="2.7" fill="#000"/>
<circle cx="1475.4" cy="1101.6" r="2.7" fill="#000"/>
<circle cx="1534.7" cy="1101.6" r="2.7" fill="#000"/>
<circle cx="1542.8" cy="1102.5" r="2.7" fill="#000"/>
<circle cx="1464" cy="1116" r="2.7" fill="#000"/>
<circle cx="1480.9" cy="1121.1" r="2.7" fill="#000"/>
<circle cx="1526.7" cy="1133.4" r="2.7" fill="#000"/>
<line x1="1404.2" y1="1108.4" x2="1602.5" y2="995.7" stroke="#dc2a2a" stroke-width="1.6"/>
<text x="1510.6" y="1205.7" text-anchor="middle" font-size="23">MEF2D</text>
<text x="1172.5" y="1283.7" text-anchor="middle" font-size="23"><tspan font-style="italic">R</tspan> = 0.180; <tspan font-style="italic">P</tspan> = 0.130</text>
<path d="M1066.5,1305V1523.3H1284.7" fill="none" stroke="#000" stroke-width="1.5"/>
<line x1="1063" y1="1313.6" x2="1066.5" y2="1313.6" stroke="#000" stroke-width="1.5"/>
<text x="1053" y="1321.9" text-anchor="end" font-size="23">1.0</text>
<line x1="1063" y1="1390.3" x2="1066.5" y2="1390.3" stroke="#000" stroke-width="1.5"/>
<text x="1053" y="1398.6" text-anchor="end" font-size="23">0.5</text>
<line x1="1063" y1="1467" x2="1066.5" y2="1467" stroke="#000" stroke-width="1.5"/>
<text x="1053" y="1475.3" text-anchor="end" font-size="23">0.0</text>
<line x1="1077.5" y1="1523.3" x2="1077.5" y2="1526.8" stroke="#000" stroke-width="1.5"/>
<text x="1077.5" y="1551.8" text-anchor="middle" font-size="23">-0.5</text>
<line x1="1136.4" y1="1523.3" x2="1136.4" y2="1526.8" stroke="#000" stroke-width="1.5"/>
<text x="1136.4" y="1551.8" text-anchor="middle" font-size="23">0.0</text>
<line x1="1195" y1="1523.3" x2="1195" y2="1526.8" stroke="#000" stroke-width="1.5"/>
<text x="1195" y="1551.8" text-anchor="middle" font-size="23">0.5</text>
<line x1="1253.8" y1="1523.3" x2="1253.8" y2="1526.8" stroke="#000" stroke-width="1.5"/>
<text x="1253.8" y="1551.8" text-anchor="middle" font-size="23">1.0</text>
<circle cx="1220.3" cy="1314.4" r="2.7" fill="#000"/>
<circle cx="1274.6" cy="1356.4" r="2.7" fill="#000"/>
<circle cx="1155.9" cy="1362.7" r="2.7" fill="#000"/>
<circle cx="1203.8" cy="1361.4" r="2.7" fill="#000"/>
<circle cx="1076.3" cy="1401.7" r="2.7" fill="#000"/>
<circle cx="1188.6" cy="1387.3" r="2.7" fill="#000"/>
<circle cx="1145.8" cy="1396.2" r="2.7" fill="#000"/>
<circle cx="1191.1" cy="1400.8" r="2.7" fill="#000"/>
<circle cx="1136" cy="1408.9" r="2.7" fill="#000"/>
<circle cx="1222.5" cy="1408.1" r="2.7" fill="#000"/>
<circle cx="1166.9" cy="1405.5" r="2.7" fill="#000"/>
<circle cx="1176.7" cy="1405.9" r="2.7" fill="#000"/>
<circle cx="1182.6" cy="1404.2" r="2.7" fill="#000"/>
<circle cx="1158.9" cy="1413.6" r="2.7" fill="#000"/>
<circle cx="1193.2" cy="1418.2" r="2.7" fill="#000"/>
<circle cx="1161.4" cy="1421.6" r="2.7" fill="#000"/>
<circle cx="1180.9" cy="1420.3" r="2.7" fill="#000"/>
<circle cx="1172" cy="1424.6" r="2.7" fill="#000"/>
<circle cx="1169.9" cy="1428" r="2.7" fill="#000"/>
<circle cx="1167.8" cy="1428.8" r="2.7" fill="#000"/>
<circle cx="1122" cy="1443.2" r="2.7" fill="#000"/>
<circle cx="1133.1" cy="1438.6" r="2.7" fill="#000"/>
<circle cx="1133.5" cy="1446.6" r="2.7" fill="#000"/>
<circle cx="1152.5" cy="1450" r="2.7" fill="#000"/>
<circle cx="1157.2" cy="1439.4" r="2.7" fill="#000"/>
<circle cx="1161.4" cy="1443.2" r="2.7" fill="#000"/>
<circle cx="1160.6" cy="1447.9" r="2.7" fill="#000"/>
<circle cx="1167.4" cy="1444.9" r="2.7" fill="#000"/>
<circle cx="1174.6" cy="1437.3" r="2.7" fill="#000"/>
<circle cx="1180.1" cy="1438.6" r="2.7" fill="#000"/>
<circle cx="1175.8" cy="1435.6" r="2.7" fill="#000"/>
<circle cx="1187.3" cy="1444.9" r="2.7" fill="#000"/>
<circle cx="1189.8" cy="1446.6" r="2.7" fill="#000"/>
<circle cx="1200.4" cy="1452.5" r="2.7" fill="#000"/>
<circle cx="1202.1" cy="1454.2" r="2.7" fill="#000"/>
<circle cx="1120.8" cy="1458.9" r="2.7" fill="#000"/>
<circle cx="1160.6" cy="1458.5" r="2.7" fill="#000"/>
<circle cx="1165.7" cy="1454.7" r="2.7" fill="#000"/>
<circle cx="1177.1" cy="1453" r="2.7" fill="#000"/>
<circle cx="1178.8" cy="1451.7" r="2.7" fill="#000"/>
<circle cx="1122.5" cy="1469.9" r="2.7" fill="#000"/>
<circle cx="1150.8" cy="1468.2" r="2.7" fill="#000"/>
<circle cx="1176.3" cy="1464.8" r="2.7" fill="#000"/>
<circle cx="1181.8" cy="1471.2" r="2.7" fill="#000"/>
<circle cx="1168.2" cy="1498.7" r="2.7" fill="#000"/>
<circle cx="1232.6" cy="1513.6" r="2.7" fill="#000"/>
<line x1="1076.3" y1="1455.1" x2="1274.6" y2="1405.1" stroke="#dc2a2a" stroke-width="1.6"/>
<text transform="translate(1007,1412.7) rotate(-90)" text-anchor="middle" font-size="23">WNT6</text>
<text x="1182.2" y="1589.7" text-anchor="middle" font-size="23">MEF2D</text>
<path d="M1298.6,1415.5H1314.9V1402.7L1330.8,1428L1314.9,1453.3V1440.5H1298.6Z" fill="#4d9aff"/>
<text x="1505.9" y="1283.7" text-anchor="middle" font-size="23"><tspan font-weight="bold" font-style="italic">R</tspan><tspan font-weight="bold"> = 0.406;  </tspan><tspan font-weight="bold" font-style="italic">P</tspan><tspan font-weight="bold"> = 0.026</tspan></text>
<path d="M1394.5,1305V1523.3H1612" fill="none" stroke="#000" stroke-width="1.5"/>
<line x1="1391" y1="1314.4" x2="1394.5" y2="1314.4" stroke="#000" stroke-width="1.5"/>
<text x="1381" y="1322.7" text-anchor="end" font-size="23">0.9</text>
<line x1="1391" y1="1365.7" x2="1394.5" y2="1365.7" stroke="#000" stroke-width="1.5"/>
<text x="1381" y="1374" text-anchor="end" font-size="23">0.6</text>
<line x1="1391" y1="1417" x2="1394.5" y2="1417" stroke="#000" stroke-width="1.5"/>
<text x="1381" y="1425.2" text-anchor="end" font-size="23">0.3</text>
<line x1="1391" y1="1468.2" x2="1394.5" y2="1468.2" stroke="#000" stroke-width="1.5"/>
<text x="1381" y="1476.5" text-anchor="end" font-size="23">0.0</text>
<line x1="1391" y1="1519.5" x2="1394.5" y2="1519.5" stroke="#000" stroke-width="1.5"/>
<text x="1381" y="1527.8" text-anchor="end" font-size="23">-0.3</text>
<line x1="1399.2" y1="1523.3" x2="1399.2" y2="1526.8" stroke="#000" stroke-width="1.5"/>
<text x="1399.2" y="1551.8" text-anchor="middle" font-size="23">-0.5</text>
<line x1="1465.3" y1="1523.3" x2="1465.3" y2="1526.8" stroke="#000" stroke-width="1.5"/>
<text x="1465.3" y="1551.8" text-anchor="middle" font-size="23">0.0</text>
<line x1="1531.8" y1="1523.3" x2="1531.8" y2="1526.8" stroke="#000" stroke-width="1.5"/>
<text x="1531.8" y="1551.8" text-anchor="middle" font-size="23">0.5</text>
<line x1="1597" y1="1523.3" x2="1597" y2="1526.8" stroke="#000" stroke-width="1.5"/>
<text x="1597" y="1551.8" text-anchor="middle" font-size="23">1.0</text>
<circle cx="1523.7" cy="1314.4" r="2.7" fill="#000"/>
<circle cx="1548.3" cy="1351.3" r="2.7" fill="#000"/>
<circle cx="1602.5" cy="1369.5" r="2.7" fill="#000"/>
<circle cx="1540.3" cy="1380.9" r="2.7" fill="#000"/>
<circle cx="1546.6" cy="1382.2" r="2.7" fill="#000"/>
<circle cx="1480.9" cy="1388.6" r="2.7" fill="#000"/>
<circle cx="1464" cy="1406.8" r="2.7" fill="#000"/>
<circle cx="1518.2" cy="1399.6" r="2.7" fill="#000"/>
<circle cx="1525" cy="1416.9" r="2.7" fill="#000"/>
<circle cx="1526.7" cy="1421.2" r="2.7" fill="#000"/>
<circle cx="1548.3" cy="1417.4" r="2.7" fill="#000"/>
<circle cx="1553.4" cy="1416.9" r="2.7" fill="#000"/>
<circle cx="1550.8" cy="1419.5" r="2.7" fill="#000"/>
<circle cx="1497" cy="1435.6" r="2.7" fill="#000"/>
<circle cx="1516.5" cy="1432.2" r="2.7" fill="#000"/>
<circle cx="1545.3" cy="1429.2" r="2.7" fill="#000"/>
<circle cx="1519.9" cy="1442.4" r="2.7" fill="#000"/>
<circle cx="1527.5" cy="1443.6" r="2.7" fill="#000"/>
<circle cx="1534.7" cy="1437.3" r="2.7" fill="#000"/>
<circle cx="1542.8" cy="1447.5" r="2.7" fill="#000"/>
<circle cx="1508.1" cy="1462.7" r="2.7" fill="#000"/>
<circle cx="1515.3" cy="1462.7" r="2.7" fill="#000"/>
<circle cx="1553.8" cy="1459.3" r="2.7" fill="#000"/>
<circle cx="1475.4" cy="1470.3" r="2.7" fill="#000"/>
<circle cx="1514" cy="1471.2" r="2.7" fill="#000"/>
<circle cx="1555.9" cy="1480.1" r="2.7" fill="#000"/>
<circle cx="1404.2" cy="1490.3" r="2.7" fill="#000"/>
<circle cx="1454.2" cy="1494.9" r="2.7" fill="#000"/>
<circle cx="1493.2" cy="1496.2" r="2.7" fill="#000"/>
<circle cx="1523.3" cy="1513.6" r="2.7" fill="#000"/>
<line x1="1404.2" y1="1489.4" x2="1602.5" y2="1391.5" stroke="#dc2a2a" stroke-width="1.6"/>
<text x="1510.6" y="1589.7" text-anchor="middle" font-size="23">MEF2D</text>
<text x="1668" y="820.6" font-weight="bold" font-size="36">c</text>
<line x1="1691.8" y1="830.3" x2="2015" y2="830.3" stroke="#727272" stroke-width="3.3" stroke-dasharray="13.9 11.6"/>
<line x1="1684" y1="834.2" x2="1684" y2="1697.4" stroke="#727272" stroke-width="3.3" stroke-dasharray="13.9 11.6"/>
<line x1="1686.3" y1="1697.4" x2="2021" y2="1697.4" stroke="#727272" stroke-width="3.3" stroke-dasharray="13.9 11.6"/>
<line x1="2020.9" y1="835.2" x2="2020.9" y2="1697.4" stroke="#727272" stroke-width="3.3" stroke-dasharray="13.9 11.6"/>
<text x="1862.5" y="868.5" text-anchor="middle" font-size="23">Hepatocytes from PME</text>
<line x1="1769.7" y1="929.5" x2="1806.2" y2="929.5" stroke="#f21d1d" stroke-width="3"/>
<circle cx="1788.2" cy="929.5" r="6.3" fill="#f21d1d"/>
<text x="1820.5" y="937.8" font-size="23">IgG</text>
<line x1="1769.7" y1="967.9" x2="1806.2" y2="967.9" stroke="#1a1ae6" stroke-width="3"/>
<circle cx="1788.2" cy="967.9" r="6.3" fill="#1a1ae6"/>
<text x="1820.5" y="976.2" font-size="23">Anti-MEF2D</text>
<path d="M1773.7,1023.8V1203.4H1986.4" fill="none" stroke="#000" stroke-width="2"/>
<line x1="1766.7" y1="1023.8" x2="1773.7" y2="1023.8" stroke="#000" stroke-width="2"/>
<text x="1761" y="1032.1" text-anchor="end" font-size="23">5</text>
<line x1="1766.7" y1="1059.7" x2="1773.7" y2="1059.7" stroke="#000" stroke-width="2"/>
<text x="1761" y="1068" text-anchor="end" font-size="23">4</text>
<line x1="1766.7" y1="1095.6" x2="1773.7" y2="1095.6" stroke="#000" stroke-width="2"/>
<text x="1761" y="1103.9" text-anchor="end" font-size="23">3</text>
<line x1="1766.7" y1="1131.6" x2="1773.7" y2="1131.6" stroke="#000" stroke-width="2"/>
<text x="1761" y="1139.8" text-anchor="end" font-size="23">2</text>
<line x1="1766.7" y1="1167.5" x2="1773.7" y2="1167.5" stroke="#000" stroke-width="2"/>
<text x="1761" y="1175.8" text-anchor="end" font-size="23">1</text>
<line x1="1766.7" y1="1203.4" x2="1773.7" y2="1203.4" stroke="#000" stroke-width="2"/>
<text x="1761" y="1211.7" text-anchor="end" font-size="23">0</text>
<line x1="1809.4" y1="1203.4" x2="1809.4" y2="1210.4" stroke="#000" stroke-width="2"/>
<line x1="1879.6" y1="1203.4" x2="1879.6" y2="1210.4" stroke="#000" stroke-width="2"/>
<line x1="1950.3" y1="1203.4" x2="1950.3" y2="1210.4" stroke="#000" stroke-width="2"/>
<text x="1754" y="1238.3" font-size="23">BS:</text>
<text x="1809.4" y="1238.3" text-anchor="middle" font-size="23">1</text>
<text x="1879.6" y="1238.3" text-anchor="middle" font-size="23">2</text>
<text x="1950.3" y="1238.3" text-anchor="middle" font-size="23">3</text>
<path d="M1809.4,1166.1 L1879.6,1167.7 L1950.3,1161.6" fill="none" stroke="#f21d1d" stroke-width="2.2"/>
<line x1="1809.4" y1="1152" x2="1809.4" y2="1180" stroke="#f21d1d" stroke-width="2"/>
<line x1="1805.2" y1="1152" x2="1813.6" y2="1152" stroke="#f21d1d" stroke-width="2"/>
<line x1="1805.2" y1="1180" x2="1813.6" y2="1180" stroke="#f21d1d" stroke-width="2"/>
<circle cx="1809.4" cy="1166.1" r="4.3" fill="#f21d1d"/>
<line x1="1879.6" y1="1162.7" x2="1879.6" y2="1172.4" stroke="#f21d1d" stroke-width="2"/>
<line x1="1875.4" y1="1162.7" x2="1883.8" y2="1162.7" stroke="#f21d1d" stroke-width="2"/>
<line x1="1875.4" y1="1172.4" x2="1883.8" y2="1172.4" stroke="#f21d1d" stroke-width="2"/>
<circle cx="1879.6" cy="1167.7" r="4.3" fill="#f21d1d"/>
<line x1="1950.3" y1="1136.3" x2="1950.3" y2="1187.5" stroke="#f21d1d" stroke-width="2"/>
<line x1="1946.1" y1="1136.3" x2="1954.5" y2="1136.3" stroke="#f21d1d" stroke-width="2"/>
<line x1="1946.1" y1="1187.5" x2="1954.5" y2="1187.5" stroke="#f21d1d" stroke-width="2"/>
<circle cx="1950.3" cy="1161.6" r="4.3" fill="#f21d1d"/>
<path d="M1809.4,1146.9 L1879.6,1147.3 L1950.3,1081" fill="none" stroke="#1a1ae6" stroke-width="2.2"/>
<line x1="1809.4" y1="1136.3" x2="1809.4" y2="1157.5" stroke="#1a1ae6" stroke-width="2"/>
<line x1="1805.2" y1="1136.3" x2="1813.6" y2="1136.3" stroke="#1a1ae6" stroke-width="2"/>
<line x1="1805.2" y1="1157.5" x2="1813.6" y2="1157.5" stroke="#1a1ae6" stroke-width="2"/>
<circle cx="1809.4" cy="1146.9" r="4.3" fill="#1a1ae6"/>
<line x1="1879.6" y1="1130" x2="1879.6" y2="1165" stroke="#1a1ae6" stroke-width="2"/>
<line x1="1875.4" y1="1130" x2="1883.8" y2="1130" stroke="#1a1ae6" stroke-width="2"/>
<line x1="1875.4" y1="1165" x2="1883.8" y2="1165" stroke="#1a1ae6" stroke-width="2"/>
<circle cx="1879.6" cy="1147.3" r="4.3" fill="#1a1ae6"/>
<line x1="1950.3" y1="1066.3" x2="1950.3" y2="1095.4" stroke="#1a1ae6" stroke-width="2"/>
<line x1="1946.1" y1="1066.3" x2="1954.5" y2="1066.3" stroke="#1a1ae6" stroke-width="2"/>
<line x1="1946.1" y1="1095.4" x2="1954.5" y2="1095.4" stroke="#1a1ae6" stroke-width="2"/>
<circle cx="1950.3" cy="1081" r="4.3" fill="#1a1ae6"/>
<text transform="translate(1727.2,1116.4) rotate(-90)" text-anchor="middle" font-size="23">Fold enrichment</text>
<text x="1808" y="1098.4" text-anchor="middle" font-size="18.8"><tspan font-style="italic">P</tspan> =</text>
<text x="1808" y="1121.4" text-anchor="middle" font-size="18.8">0.1328</text>
<text x="1878" y="1098.4" text-anchor="middle" font-size="18.8"><tspan font-style="italic">P</tspan> =</text>
<text x="1877" y="1121.4" text-anchor="middle" font-size="18.8">0.1381</text>
<text x="1950.3" y="1055.5" text-anchor="middle" font-size="18.8"><tspan font-style="italic">P</tspan> = 0.0089</text>
<text x="1786.1" y="1309.1" text-anchor="end" font-size="23"><tspan font-style="italic">Vegfa</tspan></text>
<line x1="1797.9" y1="1301.3" x2="1963.8" y2="1301.3" stroke="#000" stroke-width="3.4"/>
<path d="M1957.1,1303V1290.4H1974" fill="none" stroke="#000" stroke-width="3.2"/>
<path d="M1974,1279.6L1996.6,1290.4L1974,1301.2Z" fill="#000"/>
<text x="1958.2" y="1276.2" text-anchor="middle" font-size="23">TSS</text>
<path d="M1773.7,1369.5V1549.6H1986.4" fill="none" stroke="#000" stroke-width="2"/>
<line x1="1766.7" y1="1369.5" x2="1773.7" y2="1369.5" stroke="#000" stroke-width="2"/>
<text x="1761" y="1377.8" text-anchor="end" font-size="23">8</text>
<line x1="1766.7" y1="1414.5" x2="1773.7" y2="1414.5" stroke="#000" stroke-width="2"/>
<text x="1761" y="1422.8" text-anchor="end" font-size="23">6</text>
<line x1="1766.7" y1="1459.5" x2="1773.7" y2="1459.5" stroke="#000" stroke-width="2"/>
<text x="1761" y="1467.8" text-anchor="end" font-size="23">4</text>
<line x1="1766.7" y1="1504.6" x2="1773.7" y2="1504.6" stroke="#000" stroke-width="2"/>
<text x="1761" y="1512.9" text-anchor="end" font-size="23">2</text>
<line x1="1766.7" y1="1549.6" x2="1773.7" y2="1549.6" stroke="#000" stroke-width="2"/>
<text x="1761" y="1557.9" text-anchor="end" font-size="23">0</text>
<line x1="1809.4" y1="1549.6" x2="1809.4" y2="1556.6" stroke="#000" stroke-width="2"/>
<line x1="1879.6" y1="1549.6" x2="1879.6" y2="1556.6" stroke="#000" stroke-width="2"/>
<line x1="1950.3" y1="1549.6" x2="1950.3" y2="1556.6" stroke="#000" stroke-width="2"/>
<text x="1754" y="1584.6" font-size="23">BS:</text>
<text x="1809.4" y="1584.6" text-anchor="middle" font-size="23">1</text>
<text x="1879.6" y="1584.6" text-anchor="middle" font-size="23">2</text>
<text x="1950.3" y="1584.6" text-anchor="middle" font-size="23">3</text>
<path d="M1809.4,1526.4 L1879.6,1526.4 L1950.3,1527" fill="none" stroke="#f21d1d" stroke-width="2.2"/>
<line x1="1809.4" y1="1518.7" x2="1809.4" y2="1533.8" stroke="#f21d1d" stroke-width="2"/>
<line x1="1805.2" y1="1518.7" x2="1813.6" y2="1518.7" stroke="#f21d1d" stroke-width="2"/>
<line x1="1805.2" y1="1533.8" x2="1813.6" y2="1533.8" stroke="#f21d1d" stroke-width="2"/>
<circle cx="1809.4" cy="1526.4" r="4.3" fill="#f21d1d"/>
<line x1="1879.6" y1="1518" x2="1879.6" y2="1534.5" stroke="#f21d1d" stroke-width="2"/>
<line x1="1875.4" y1="1518" x2="1883.8" y2="1518" stroke="#f21d1d" stroke-width="2"/>
<line x1="1875.4" y1="1534.5" x2="1883.8" y2="1534.5" stroke="#f21d1d" stroke-width="2"/>
<circle cx="1879.6" cy="1526.4" r="4.3" fill="#f21d1d"/>
<line x1="1950.3" y1="1522" x2="1950.3" y2="1531.6" stroke="#f21d1d" stroke-width="2"/>
<line x1="1946.1" y1="1522" x2="1954.5" y2="1522" stroke="#f21d1d" stroke-width="2"/>
<line x1="1946.1" y1="1531.6" x2="1954.5" y2="1531.6" stroke="#f21d1d" stroke-width="2"/>
<circle cx="1950.3" cy="1527" r="4.3" fill="#f21d1d"/>
<path d="M1809.4,1484.6 L1879.6,1424.3 L1950.3,1436.1" fill="none" stroke="#1a1ae6" stroke-width="2.2"/>
<line x1="1809.4" y1="1479.2" x2="1809.4" y2="1489.8" stroke="#1a1ae6" stroke-width="2"/>
<line x1="1805.2" y1="1479.2" x2="1813.6" y2="1479.2" stroke="#1a1ae6" stroke-width="2"/>
<line x1="1805.2" y1="1489.8" x2="1813.6" y2="1489.8" stroke="#1a1ae6" stroke-width="2"/>
<circle cx="1809.4" cy="1484.6" r="4.3" fill="#1a1ae6"/>
<line x1="1879.6" y1="1404.7" x2="1879.6" y2="1443.5" stroke="#1a1ae6" stroke-width="2"/>
<line x1="1875.4" y1="1404.7" x2="1883.8" y2="1404.7" stroke="#1a1ae6" stroke-width="2"/>
<line x1="1875.4" y1="1443.5" x2="1883.8" y2="1443.5" stroke="#1a1ae6" stroke-width="2"/>
<circle cx="1879.6" cy="1424.3" r="4.3" fill="#1a1ae6"/>
<line x1="1950.3" y1="1394.5" x2="1950.3" y2="1476.7" stroke="#1a1ae6" stroke-width="2"/>
<line x1="1946.1" y1="1394.5" x2="1954.5" y2="1394.5" stroke="#1a1ae6" stroke-width="2"/>
<line x1="1946.1" y1="1476.7" x2="1954.5" y2="1476.7" stroke="#1a1ae6" stroke-width="2"/>
<circle cx="1950.3" cy="1436.1" r="4.3" fill="#1a1ae6"/>
<text transform="translate(1729.3,1461.6) rotate(-90)" text-anchor="middle" font-size="23">Fold enrichment</text>
<text x="1809.9" y="1434.5" text-anchor="middle" font-size="18.8"><tspan font-style="italic">P</tspan> =</text>
<text x="1809.9" y="1458.2" text-anchor="middle" font-size="18.8">0.0012</text>
<text x="1880.3" y="1366.8" text-anchor="middle" font-size="18.8"><tspan font-style="italic">P</tspan> =</text>
<text x="1879.8" y="1389.8" text-anchor="middle" font-size="18.8">0.0011</text>
<text x="1952.5" y="1361.1" text-anchor="middle" font-size="18.8"><tspan font-style="italic">P</tspan> =</text>
<text x="1952.5" y="1384.2" text-anchor="middle" font-size="18.8">0.0186</text>
<text x="1789.3" y="1652.8" text-anchor="end" font-size="23"><tspan font-style="italic">Sema3b</tspan></text>
<line x1="1799" y1="1645.2" x2="1964.5" y2="1645.2" stroke="#000" stroke-width="3.4"/>
<path d="M1955.9,1646.9V1634.6H1971.7" fill="none" stroke="#000" stroke-width="3.2"/>
<path d="M1971.7,1623.8L1993.6,1634.6L1971.7,1645.4Z" fill="#000"/>
<text x="1958.2" y="1618.9" text-anchor="middle" font-size="23">TSS</text>
<text x="-1" y="1779" font-weight="bold" font-size="36">d</text>
<text x="425.7" y="1788.3" text-anchor="middle" font-size="23"><tspan font-weight="bold" font-style="italic">Notch3</tspan> BS1 chr17:32064944-32064955 (+90916)</text>
<text x="22.5" y="1805.8" font-size="22">WT</text>
<text x="22.5" y="1832.7" font-size="22">MU</text>
<rect x="78" y="1826.2" width="685.5" height="61.8" fill="#fcfbf2"/>
<line x1="78" y1="1808.8" x2="763.5" y2="1808.8" stroke="#c8c8c8" stroke-width="1.6"/>
<line x1="168.6" y1="1826.8" x2="168.6" y2="1886.5" stroke="#b8b8b8" stroke-width="1" stroke-dasharray="1.5 2.5"/>
<line x1="263" y1="1826.8" x2="263" y2="1886.5" stroke="#b8b8b8" stroke-width="1" stroke-dasharray="1.5 2.5"/>
<line x1="359.8" y1="1826.8" x2="359.8" y2="1886.5" stroke="#b8b8b8" stroke-width="1" stroke-dasharray="1.5 2.5"/>
<line x1="454.2" y1="1826.8" x2="454.2" y2="1886.5" stroke="#b8b8b8" stroke-width="1" stroke-dasharray="1.5 2.5"/>
<line x1="550" y1="1826.8" x2="550" y2="1886.5" stroke="#b8b8b8" stroke-width="1" stroke-dasharray="1.5 2.5"/>
<line x1="645.9" y1="1826.8" x2="645.9" y2="1886.5" stroke="#b8b8b8" stroke-width="1" stroke-dasharray="1.5 2.5"/>
<line x1="741.3" y1="1826.8" x2="741.3" y2="1886.5" stroke="#b8b8b8" stroke-width="1" stroke-dasharray="1.5 2.5"/>
<text transform="scale(1.32,1)" x="62.7 69.9 77.1 84.3 91.5 98.8 106 113.2 120.4 127.6 134.8 142 149.3 156.5 163.7 170.9 178.1 185.3 192.5 199.7 207 214.2 221.4 228.6 235.8 243 250.2 257.4 264.7 271.9 279.1 286.3 293.5 300.7 307.9 315.1 322.4 329.6 336.8 344 351.2 358.4 365.6 372.8 380.1 387.3 394.5 401.7 408.9 416.1 423.3 430.5 437.8 445 452.2 459.4 466.6 473.8 481 488.2 495.5 502.7 509.9 517.1 524.3 531.5 538.7 546 553.2 560.4 567.6 574.8" y="1804.3" font-size="8.4" font-weight="bold" fill="#111" stroke="#111" stroke-width="0.3" text-anchor="middle">TCTTGGGACTCGCTGTCTTTCTGCACCCAGGCTAAAAATTGCTTCAGTTCTTCCTGGAGTTACTCATCGCCT</text>
<rect x="363.5" y="1814.8" width="116.8" height="10.9" fill="#f5a9b0" stroke="#e2505c" stroke-width="1.3"/>
<line x1="366.2" y1="1820.2" x2="370.6" y2="1820.2" stroke="#666" stroke-width="1.3"/>
<line x1="375.7" y1="1820.2" x2="380.1" y2="1820.2" stroke="#666" stroke-width="1.3"/>
<line x1="385.2" y1="1820.2" x2="389.6" y2="1820.2" stroke="#666" stroke-width="1.3"/>
<line x1="394.7" y1="1820.2" x2="399.1" y2="1820.2" stroke="#666" stroke-width="1.3"/>
<line x1="404.3" y1="1820.2" x2="408.7" y2="1820.2" stroke="#666" stroke-width="1.3"/>
<line x1="413.8" y1="1820.2" x2="418.2" y2="1820.2" stroke="#666" stroke-width="1.3"/>
<line x1="423.3" y1="1820.2" x2="427.7" y2="1820.2" stroke="#666" stroke-width="1.3"/>
<line x1="432.8" y1="1820.2" x2="437.2" y2="1820.2" stroke="#666" stroke-width="1.3"/>
<line x1="442.4" y1="1820.2" x2="446.8" y2="1820.2" stroke="#666" stroke-width="1.3"/>
<line x1="451.9" y1="1820.2" x2="456.3" y2="1820.2" stroke="#666" stroke-width="1.3"/>
<line x1="461.4" y1="1820.2" x2="465.8" y2="1820.2" stroke="#666" stroke-width="1.3"/>
<line x1="470.9" y1="1820.2" x2="475.3" y2="1820.2" stroke="#666" stroke-width="1.3"/>
<text transform="scale(1.32,1)" x="62.7 69.9 77.1 84.3 91.5 98.8 106 113.2 120.4 127.6 134.8 142 149.3 156.5 163.7 170.9 178.1 185.3 192.5 199.7 207 214.2 221.4 228.6 235.8 243 250.2 257.4 264.7 271.9 365.6 372.8 380.1 387.3 394.5 401.7 408.9 416.1 423.3 430.5 437.8 445 452.2 459.4 466.6 473.8 481 488.2 495.5 502.7 509.9 517.1 524.3 531.5 538.7 546 553.2 560.4 567.6 574.8" y="1823.7" font-size="8.4" font-weight="bold" fill="#222" stroke="#222" stroke-width="0.25" text-anchor="middle">TCTTGGGACTCGCTGTCTTTCTGCACCCAGTTCAGTTCTTCGTGGAGTTACTCATCGCCT</text>
<rect x="582.2" y="1814.8" width="10.4" height="10.9" fill="none" stroke="#e2505c" stroke-width="1.3"/>
<path d="M77.8,1884.3 78.9,1881.1 80,1876 81.1,1870 82.2,1865.8 83.3,1865.6 84.4,1869.5 85.5,1875.4 86.6,1880.7 87.7,1884.1 88.8,1885.7 89.9,1886.3Z" fill="#e8343c" fill-opacity="0.09"/>
<path d="M77.8,1884.3 78.9,1881.1 80,1876 81.1,1870 82.2,1865.8 83.3,1865.6 84.4,1869.5 85.5,1875.4 86.6,1880.7 87.7,1884.1 88.8,1885.7 89.9,1886.3" fill="none" stroke="#e8343c" stroke-width="1.5"/>
<path d="M84.8,1886.4 85.9,1885.9 87,1884.7 88.1,1881.9 89.2,1877 90.3,1870.7 91.4,1865.4 92.5,1863.9 93.6,1867 94.7,1873 95.8,1879 96.9,1883.2 98,1885.3 99.1,1886.2Z" fill="#4664e6" fill-opacity="0.09"/>
<path d="M84.8,1886.4 85.9,1885.9 87,1884.7 88.1,1881.9 89.2,1877 90.3,1870.7 91.4,1865.4 92.5,1863.9 93.6,1867 94.7,1873 95.8,1879 96.9,1883.2 98,1885.3 99.1,1886.2" fill="none" stroke="#4664e6" stroke-width="1.5"/>
<path d="M94.3,1886.4 95.4,1886 96.5,1885.1 97.6,1882.8 98.7,1878.8 99.8,1873.7 100.9,1869.4 102,1868.2 103.1,1870.7 104.2,1875.3 105.3,1879.6 106.4,1881.3 107.5,1879.5 108.6,1874.6 109.7,1868.5 110.8,1864.3 111.9,1864.5 113,1868.9 114.1,1875.2 115.2,1880.7 116.3,1884.1 117.4,1885.7 118.5,1886.3Z" fill="#e8343c" fill-opacity="0.09"/>
<path d="M94.3,1886.4 95.4,1886 96.5,1885.1 97.6,1882.8 98.7,1878.8 99.8,1873.7 100.9,1869.4 102,1868.2 103.1,1870.7 104.2,1875.3 105.3,1879.6 106.4,1881.3 107.5,1879.5 108.6,1874.6 109.7,1868.5 110.8,1864.3 111.9,1864.5 113,1868.9 114.1,1875.2 115.2,1880.7 116.3,1884.1 117.4,1885.7 118.5,1886.3" fill="none" stroke="#e8343c" stroke-width="1.5"/>
<path d="M113.3,1886.3 114.4,1885.6 115.5,1883.6 116.6,1879.1 117.7,1871.2 118.8,1861 119.9,1852.5 121,1850 122.1,1855 123.2,1864.6 124.3,1873.7 125.4,1878.9 126.5,1879.3 127.6,1875.9 128.7,1870.9 129.8,1867.3 130.9,1867.5 132,1871.2 133.1,1876.4 134.2,1880.1 135.3,1880.7 136.4,1877.6 137.5,1871.6 138.6,1865.5 139.7,1862.4 140.8,1864.3 141.9,1870.1 143,1876.7 144.1,1881.8 145.2,1884.7 146.3,1885.9Z" fill="#151515" fill-opacity="0.09"/>
<path d="M113.3,1886.3 114.4,1885.6 115.5,1883.6 116.6,1879.1 117.7,1871.2 118.8,1861 119.9,1852.5 121,1850 122.1,1855 123.2,1864.6 124.3,1873.7 125.4,1878.9 126.5,1879.3 127.6,1875.9 128.7,1870.9 129.8,1867.3 130.9,1867.5 132,1871.2 133.1,1876.4 134.2,1880.1 135.3,1880.7 136.4,1877.6 137.5,1871.6 138.6,1865.5 139.7,1862.4 140.8,1864.3 141.9,1870.1 143,1876.7 144.1,1881.8 145.2,1884.7 146.3,1885.9" fill="none" stroke="#151515" stroke-width="1.5"/>
<path d="M141.9,1886.3 143,1885.7 144.1,1883.9 145.2,1879.9 146.3,1872.8 147.4,1863.7 148.5,1856.1 149.6,1853.9 150.7,1858.4 151.8,1867.1 152.9,1875.7 154,1881.7 155.1,1884.8 156.2,1886Z" fill="#3ed43e" fill-opacity="0.09"/>
<path d="M141.9,1886.3 143,1885.7 144.1,1883.9 145.2,1879.9 146.3,1872.8 147.4,1863.7 148.5,1856.1 149.6,1853.9 150.7,1858.4 151.8,1867.1 152.9,1875.7 154,1881.7 155.1,1884.8 156.2,1886" fill="none" stroke="#3ed43e" stroke-width="1.5"/>
<path d="M151.4,1886.4 152.5,1886 153.6,1885 154.7,1882.5 155.8,1878.3 156.9,1872.9 158,1868.3 159.1,1867 160.2,1869.7 161.3,1874.9 162.4,1880 163.5,1883.6 164.6,1885.5 165.7,1886.2Z" fill="#4664e6" fill-opacity="0.09"/>
<path d="M151.4,1886.4 152.5,1886 153.6,1885 154.7,1882.5 155.8,1878.3 156.9,1872.9 158,1868.3 159.1,1867 160.2,1869.7 161.3,1874.9 162.4,1880 163.5,1883.6 164.6,1885.5 165.7,1886.2" fill="none" stroke="#4664e6" stroke-width="1.5"/>
<path d="M160.9,1886.3 162,1885.9 163.1,1884.6 164.2,1881.5 165.3,1876.2 166.4,1869.4 167.5,1863.6 168.6,1862 169.7,1865.4 170.8,1871.9 171.9,1878.4 173,1882.9 174.1,1885.2 175.2,1886.1Z" fill="#e8343c" fill-opacity="0.09"/>
<path d="M160.9,1886.3 162,1885.9 163.1,1884.6 164.2,1881.5 165.3,1876.2 166.4,1869.4 167.5,1863.6 168.6,1862 169.7,1865.4 170.8,1871.9 171.9,1878.4 173,1882.9 174.1,1885.2 175.2,1886.1" fill="none" stroke="#e8343c" stroke-width="1.5"/>
<path d="M170.5,1886.4 171.6,1886 172.7,1884.8 173.8,1882 174.9,1877.3 176,1871.2 177.1,1866.1 178.2,1864.6 179.3,1867.6 180.4,1873.4 181.5,1879.2 182.6,1883.3 183.7,1885.3 184.8,1886.2Z" fill="#4664e6" fill-opacity="0.09"/>
<path d="M170.5,1886.4 171.6,1886 172.7,1884.8 173.8,1882 174.9,1877.3 176,1871.2 177.1,1866.1 178.2,1864.6 179.3,1867.6 180.4,1873.4 181.5,1879.2 182.6,1883.3 183.7,1885.3 184.8,1886.2" fill="none" stroke="#4664e6" stroke-width="1.5"/>
<path d="M180,1886.4 181.1,1885.9 182.2,1884.6 183.3,1881.7 184.4,1876.5 185.5,1869.9 186.6,1864.4 187.7,1862.8 188.8,1866.1 189.9,1872.4 191,1878.6 192.1,1883 193.2,1885.2 194.3,1886.1Z" fill="#151515" fill-opacity="0.09"/>
<path d="M180,1886.4 181.1,1885.9 182.2,1884.6 183.3,1881.7 184.4,1876.5 185.5,1869.9 186.6,1864.4 187.7,1862.8 188.8,1866.1 189.9,1872.4 191,1878.6 192.1,1883 193.2,1885.2 194.3,1886.1" fill="none" stroke="#151515" stroke-width="1.5"/>
<path d="M189.5,1886.4 190.6,1885.9 191.7,1884.7 192.8,1881.8 193.9,1876.8 195,1870.3 196.1,1864.9 197.2,1863.4 198.3,1866.6 199.4,1872.7 200.5,1878.8 201.6,1883.1 202.7,1885.3 203.8,1886.1Z" fill="#4664e6" fill-opacity="0.09"/>
<path d="M189.5,1886.4 190.6,1885.9 191.7,1884.7 192.8,1881.8 193.9,1876.8 195,1870.3 196.1,1864.9 197.2,1863.4 198.3,1866.6 199.4,1872.7 200.5,1878.8 201.6,1883.1 202.7,1885.3 203.8,1886.1" fill="none" stroke="#4664e6" stroke-width="1.5"/>
<path d="M199,1886.4 200.1,1886 201.2,1884.8 202.3,1882 203.4,1877.3 204.5,1871.2 205.6,1866.1 206.7,1864.6 207.8,1867.6 208.9,1873.4 210,1879.2 211.1,1883.3 212.2,1885.3 213.3,1886.2Z" fill="#e8343c" fill-opacity="0.09"/>
<path d="M199,1886.4 200.1,1886 201.2,1884.8 202.3,1882 203.4,1877.3 204.5,1871.2 205.6,1866.1 206.7,1864.6 207.8,1867.6 208.9,1873.4 210,1879.2 211.1,1883.3 212.2,1885.3 213.3,1886.2" fill="none" stroke="#e8343c" stroke-width="1.5"/>
<path d="M208.6,1886.3 209.7,1885.6 210.8,1883.7 211.9,1879.4 213,1871.8 214.1,1862 215.2,1853.8 216.3,1851.4 217.4,1856.3 218.5,1865.6 219.6,1874.9 220.7,1881.3 221.8,1884.6 222.9,1886Z" fill="#151515" fill-opacity="0.09"/>
<path d="M208.6,1886.3 209.7,1885.6 210.8,1883.7 211.9,1879.4 213,1871.8 214.1,1862 215.2,1853.8 216.3,1851.4 217.4,1856.3 218.5,1865.6 219.6,1874.9 220.7,1881.3 221.8,1884.6 222.9,1886" fill="none" stroke="#151515" stroke-width="1.5"/>
<path d="M218.1,1886.3 219.2,1885.9 220.3,1884.5 221.4,1881.4 222.5,1876 223.6,1869.1 224.7,1863.3 225.8,1861.6 226.9,1865 228,1871.7 229.1,1878.3 230.2,1882.8 231.3,1885.2 232.4,1886.1Z" fill="#e8343c" fill-opacity="0.09"/>
<path d="M218.1,1886.3 219.2,1885.9 220.3,1884.5 221.4,1881.4 222.5,1876 223.6,1869.1 224.7,1863.3 225.8,1861.6 226.9,1865 228,1871.7 229.1,1878.3 230.2,1882.8 231.3,1885.2 232.4,1886.1" fill="none" stroke="#e8343c" stroke-width="1.5"/>
<path d="M227.6,1886.4 228.7,1886 229.8,1885 230.9,1882.6 232,1878.4 233.1,1873.1 234.2,1868.6 235.3,1867.3 236.4,1869.9 237.5,1875 238.6,1880.1 239.7,1883.7 240.8,1885.5 241.9,1886.2Z" fill="#4664e6" fill-opacity="0.09"/>
<path d="M227.6,1886.4 228.7,1886 229.8,1885 230.9,1882.6 232,1878.4 233.1,1873.1 234.2,1868.6 235.3,1867.3 236.4,1869.9 237.5,1875 238.6,1880.1 239.7,1883.7 240.8,1885.5 241.9,1886.2" fill="none" stroke="#4664e6" stroke-width="1.5"/>
<path d="M237.1,1886.3 238.2,1885.9 239.3,1884.5 240.4,1881.4 241.5,1876 242.6,1869.1 243.7,1863.3 244.8,1861.6 245.9,1865 247,1871.4 248.1,1877.3 249.2,1880 250.3,1878.5 251.4,1873.3 252.5,1866.7 253.6,1862.1 254.7,1862.2 255.8,1867 256.9,1873.7 258,1878.7 259.1,1880 260.2,1877.1 261.3,1871 262.4,1864.7 263.5,1861.5 264.6,1863.5 265.7,1869.5 266.8,1876.4 267.9,1881.7 269,1884.6 270.1,1885.9Z" fill="#e8343c" fill-opacity="0.09"/>
<path d="M237.1,1886.3 238.2,1885.9 239.3,1884.5 240.4,1881.4 241.5,1876 242.6,1869.1 243.7,1863.3 244.8,1861.6 245.9,1865 247,1871.4 248.1,1877.3 249.2,1880 250.3,1878.5 251.4,1873.3 252.5,1866.7 253.6,1862.1 254.7,1862.2 255.8,1867 256.9,1873.7 258,1878.7 259.1,1880 260.2,1877.1 261.3,1871 262.4,1864.7 263.5,1861.5 264.6,1863.5 265.7,1869.5 266.8,1876.4 267.9,1881.7 269,1884.6 270.1,1885.9" fill="none" stroke="#e8343c" stroke-width="1.5"/>
<path d="M265.7,1886.4 266.8,1886 267.9,1884.9 269,1882.3 270.1,1877.7 271.2,1871.9 272.3,1867.1 273.4,1865.7 274.5,1868.6 275.6,1874.1 276.7,1879.6 277.8,1883.4 278.9,1885.4 280,1886.2Z" fill="#4664e6" fill-opacity="0.09"/>
<path d="M265.7,1886.4 266.8,1886 267.9,1884.9 269,1882.3 270.1,1877.7 271.2,1871.9 272.3,1867.1 273.4,1865.7 274.5,1868.6 275.6,1874.1 276.7,1879.6 277.8,1883.4 278.9,1885.4 280,1886.2" fill="none" stroke="#4664e6" stroke-width="1.5"/>
<path d="M275.2,1886.3 276.3,1885.9 277.4,1884.5 278.5,1881.4 279.6,1876 280.7,1869.1 281.8,1863.3 282.9,1861.6 284,1865 285.1,1871.7 286.2,1878.3 287.3,1882.8 288.4,1885.2 289.5,1886.1Z" fill="#e8343c" fill-opacity="0.09"/>
<path d="M275.2,1886.3 276.3,1885.9 277.4,1884.5 278.5,1881.4 279.6,1876 280.7,1869.1 281.8,1863.3 282.9,1861.6 284,1865 285.1,1871.7 286.2,1878.3 287.3,1882.8 288.4,1885.2 289.5,1886.1" fill="none" stroke="#e8343c" stroke-width="1.5"/>
<path d="M284.7,1886.3 285.8,1885.6 286.9,1883.6 288,1878.9 289.1,1870.8 290.2,1860.4 291.3,1851.7 292.4,1849.1 293.5,1854.3 294.6,1864.2 295.7,1874.1 296.8,1881 297.9,1884.5 299,1885.9Z" fill="#151515" fill-opacity="0.09"/>
<path d="M284.7,1886.3 285.8,1885.6 286.9,1883.6 288,1878.9 289.1,1870.8 290.2,1860.4 291.3,1851.7 292.4,1849.1 293.5,1854.3 294.6,1864.2 295.7,1874.1 296.8,1881 297.9,1884.5 299,1885.9" fill="none" stroke="#151515" stroke-width="1.5"/>
<path d="M294.2,1886.4 295.3,1886 296.4,1885 297.5,1882.5 298.6,1878.3 299.7,1872.9 300.8,1868.3 301.9,1867 303,1869.7 304.1,1874.9 305.2,1880 306.3,1883.6 307.4,1885.5 308.5,1886.2Z" fill="#4664e6" fill-opacity="0.09"/>
<path d="M294.2,1886.4 295.3,1886 296.4,1885 297.5,1882.5 298.6,1878.3 299.7,1872.9 300.8,1868.3 301.9,1867 303,1869.7 304.1,1874.9 305.2,1880 306.3,1883.6 307.4,1885.5 308.5,1886.2" fill="none" stroke="#4664e6" stroke-width="1.5"/>
<path d="M303.8,1886.4 304.9,1885.9 306,1884.6 307.1,1881.7 308.2,1876.5 309.3,1869.9 310.4,1864.4 311.5,1862.8 312.6,1866.1 313.7,1872.4 314.8,1878.6 315.9,1883 317,1885.2 318.1,1886.1Z" fill="#3ed43e" fill-opacity="0.09"/>
<path d="M303.8,1886.4 304.9,1885.9 306,1884.6 307.1,1881.7 308.2,1876.5 309.3,1869.9 310.4,1864.4 311.5,1862.8 312.6,1866.1 313.7,1872.4 314.8,1878.6 315.9,1883 317,1885.2 318.1,1886.1" fill="none" stroke="#3ed43e" stroke-width="1.5"/>
<path d="M313.3,1886.3 314.4,1885.9 315.5,1884.5 316.6,1881.4 317.7,1876 318.8,1869.1 319.9,1863.3 321,1861.6 322.1,1865 323.2,1871.4 324.3,1877.3 325.4,1880 326.5,1878.5 327.6,1873.3 328.7,1866.7 329.8,1862.1 330.9,1862.2 332,1867 333.1,1873.7 334.2,1878.8 335.3,1880.3 336.4,1877.7 337.5,1872.1 338.6,1866.3 339.7,1863.3 340.8,1865.1 341.9,1870.7 343,1877.1 344.1,1882 345.2,1884.8 346.3,1886Z" fill="#4664e6" fill-opacity="0.09"/>
<path d="M313.3,1886.3 314.4,1885.9 315.5,1884.5 316.6,1881.4 317.7,1876 318.8,1869.1 319.9,1863.3 321,1861.6 322.1,1865 323.2,1871.4 324.3,1877.3 325.4,1880 326.5,1878.5 327.6,1873.3 328.7,1866.7 329.8,1862.1 330.9,1862.2 332,1867 333.1,1873.7 334.2,1878.8 335.3,1880.3 336.4,1877.7 337.5,1872.1 338.6,1866.3 339.7,1863.3 340.8,1865.1 341.9,1870.7 343,1877.1 344.1,1882 345.2,1884.8 346.3,1886" fill="none" stroke="#4664e6" stroke-width="1.5"/>
<path d="M341.8,1886.3 342.9,1885.8 344,1884.4 345.1,1881.1 346.2,1875.3 347.3,1867.8 348.4,1861.6 349.5,1859.8 350.6,1863.5 351.7,1870.6 352.8,1877.7 353.9,1882.6 355,1885.1 356.1,1886.1Z" fill="#3ed43e" fill-opacity="0.09"/>
<path d="M341.8,1886.3 342.9,1885.8 344,1884.4 345.1,1881.1 346.2,1875.3 347.3,1867.8 348.4,1861.6 349.5,1859.8 350.6,1863.5 351.7,1870.6 352.8,1877.7 353.9,1882.6 355,1885.1 356.1,1886.1" fill="none" stroke="#3ed43e" stroke-width="1.5"/>
<path d="M351.4,1886.4 352.5,1885.9 353.6,1884.7 354.7,1881.8 355.8,1876.8 356.9,1870.3 358,1864.9 359.1,1863.4 360.2,1866.6 361.3,1872.7 362.4,1878.8 363.5,1883.1Z" fill="#151515" fill-opacity="0.09"/>
<path d="M351.4,1886.4 352.5,1885.9 353.6,1884.7 354.7,1881.8 355.8,1876.8 356.9,1870.3 358,1864.9 359.1,1863.4 360.2,1866.6 361.3,1872.7 362.4,1878.8 363.5,1883.1" fill="none" stroke="#151515" stroke-width="1.5"/>
<line x1="77.8" y1="1886.5" x2="363.9" y2="1886.5" stroke="#222" stroke-width="1.8"/>
<path d="M477.6,1883.9 478.7,1880.3 479.8,1874.4 480.9,1867.6 482,1862.7 483.1,1862.4 484.2,1866.9 485.3,1873.4 486.4,1878.6 487.5,1880.1 488.6,1877.4 489.7,1871.5 490.8,1865.1 491.9,1861.6 493,1863.2 494.1,1869 495.2,1875.9 496.3,1881.4 497.4,1884.5 498.5,1885.9 499.6,1886.3Z" fill="#e8343c" fill-opacity="0.09"/>
<path d="M477.6,1883.9 478.7,1880.3 479.8,1874.4 480.9,1867.6 482,1862.7 483.1,1862.4 484.2,1866.9 485.3,1873.4 486.4,1878.6 487.5,1880.1 488.6,1877.4 489.7,1871.5 490.8,1865.1 491.9,1861.6 493,1863.2 494.1,1869 495.2,1875.9 496.3,1881.4 497.4,1884.5 498.5,1885.9 499.6,1886.3" fill="none" stroke="#e8343c" stroke-width="1.5"/>
<path d="M494.2,1886.3 495.3,1885.9 496.4,1884.4 497.5,1881.2 498.6,1875.5 499.7,1868.3 500.8,1862.2 501.9,1860.4 503,1864 504.1,1870.9 505.2,1877.9 506.3,1882.6 507.4,1885.1 508.5,1886.1Z" fill="#4664e6" fill-opacity="0.09"/>
<path d="M494.2,1886.3 495.3,1885.9 496.4,1884.4 497.5,1881.2 498.6,1875.5 499.7,1868.3 500.8,1862.2 501.9,1860.4 503,1864 504.1,1870.9 505.2,1877.9 506.3,1882.6 507.4,1885.1 508.5,1886.1" fill="none" stroke="#4664e6" stroke-width="1.5"/>
<path d="M503.7,1886.3 504.8,1885.9 505.9,1884.5 507,1881.4 508.1,1876 509.2,1869.1 510.3,1863.3 511.4,1861.6 512.5,1865 513.6,1871.7 514.7,1878.3 515.8,1882.8 516.9,1885.2 518,1886.1Z" fill="#3ed43e" fill-opacity="0.09"/>
<path d="M503.7,1886.3 504.8,1885.9 505.9,1884.5 507,1881.4 508.1,1876 509.2,1869.1 510.3,1863.3 511.4,1861.6 512.5,1865 513.6,1871.7 514.7,1878.3 515.8,1882.8 516.9,1885.2 518,1886.1" fill="none" stroke="#3ed43e" stroke-width="1.5"/>
<path d="M513.2,1886.4 514.3,1886.1 515.4,1885.3 516.5,1883.4 517.6,1880 518.7,1875.7 519.8,1872.1 520.9,1871.1 522,1873.2 523.1,1877.3 524.2,1881.4 525.3,1884.2 526.4,1885.7 527.5,1886.3Z" fill="#151515" fill-opacity="0.09"/>
<path d="M513.2,1886.4 514.3,1886.1 515.4,1885.3 516.5,1883.4 517.6,1880 518.7,1875.7 519.8,1872.1 520.9,1871.1 522,1873.2 523.1,1877.3 524.2,1881.4 525.3,1884.2 526.4,1885.7 527.5,1886.3" fill="none" stroke="#151515" stroke-width="1.5"/>
<path d="M522.7,1886.4 523.8,1885.9 524.9,1884.6 526,1881.7 527.1,1876.5 528.2,1869.9 529.3,1864.4 530.4,1862.8 531.5,1866 532.6,1872.2 533.7,1877.9 534.8,1880.7 535.9,1879.9 537,1875.8 538.1,1870.5 539.2,1866.8 540.3,1866.9 541.4,1870.9 542.5,1876.5 543.6,1881.3 544.7,1884.4 545.8,1885.8 546.9,1886.3Z" fill="#e8343c" fill-opacity="0.09"/>
<path d="M522.7,1886.4 523.8,1885.9 524.9,1884.6 526,1881.7 527.1,1876.5 528.2,1869.9 529.3,1864.4 530.4,1862.8 531.5,1866 532.6,1872.2 533.7,1877.9 534.8,1880.7 535.9,1879.9 537,1875.8 538.1,1870.5 539.2,1866.8 540.3,1866.9 541.4,1870.9 542.5,1876.5 543.6,1881.3 544.7,1884.4 545.8,1885.8 546.9,1886.3" fill="none" stroke="#e8343c" stroke-width="1.5"/>
<path d="M541.8,1886.4 542.9,1885.9 544,1884.6 545.1,1881.7 546.2,1876.5 547.3,1869.9 548.4,1864.4 549.5,1862.8 550.6,1866.1 551.7,1872.4 552.8,1878.6 553.9,1883 555,1885.2 556.1,1886.1Z" fill="#4664e6" fill-opacity="0.09"/>
<path d="M541.8,1886.4 542.9,1885.9 544,1884.6 545.1,1881.7 546.2,1876.5 547.3,1869.9 548.4,1864.4 549.5,1862.8 550.6,1866.1 551.7,1872.4 552.8,1878.6 553.9,1883 555,1885.2 556.1,1886.1" fill="none" stroke="#4664e6" stroke-width="1.5"/>
<path d="M551.3,1886.3 552.4,1885.9 553.5,1884.5 554.6,1881.4 555.7,1876 556.8,1869.1 557.9,1863.3 559,1861.6 560.1,1865 561.2,1871.4 562.3,1877.5 563.4,1880.4 564.5,1879.5 565.6,1875.2 566.7,1869.5 567.8,1865.6 568.9,1865.7 570,1869.9 571.1,1875.9 572.2,1881 573.3,1884.2 574.4,1885.7 575.5,1886.3Z" fill="#e8343c" fill-opacity="0.09"/>
<path d="M551.3,1886.3 552.4,1885.9 553.5,1884.5 554.6,1881.4 555.7,1876 556.8,1869.1 557.9,1863.3 559,1861.6 560.1,1865 561.2,1871.4 562.3,1877.5 563.4,1880.4 564.5,1879.5 565.6,1875.2 566.7,1869.5 567.8,1865.6 568.9,1865.7 570,1869.9 571.1,1875.9 572.2,1881 573.3,1884.2 574.4,1885.7 575.5,1886.3" fill="none" stroke="#e8343c" stroke-width="1.5"/>
<path d="M570.3,1886.4 571.4,1885.9 572.5,1884.6 573.6,1881.7 574.7,1876.5 575.8,1869.9 576.9,1864.4 578,1862.8 579.1,1866.1 580.2,1872.4 581.3,1878.6 582.4,1883 583.5,1885.2 584.6,1886.1Z" fill="#4664e6" fill-opacity="0.09"/>
<path d="M570.3,1886.4 571.4,1885.9 572.5,1884.6 573.6,1881.7 574.7,1876.5 575.8,1869.9 576.9,1864.4 578,1862.8 579.1,1866.1 580.2,1872.4 581.3,1878.6 582.4,1883 583.5,1885.2 584.6,1886.1" fill="none" stroke="#4664e6" stroke-width="1.5"/>
<path d="M579.9,1886.4 581,1886 582.1,1885 583.2,1882.5 584.3,1878.3 585.4,1872.9 586.5,1868.3 587.6,1867 588.7,1869.7 589.8,1874.9 590.9,1880 592,1883.6 593.1,1885.5 594.2,1886.2Z" fill="#151515" fill-opacity="0.09"/>
<path d="M579.9,1886.4 581,1886 582.1,1885 583.2,1882.5 584.3,1878.3 585.4,1872.9 586.5,1868.3 587.6,1867 588.7,1869.7 589.8,1874.9 590.9,1880 592,1883.6 593.1,1885.5 594.2,1886.2" fill="none" stroke="#151515" stroke-width="1.5"/>
<path d="M589.4,1886.4 590.5,1886 591.6,1885 592.7,1882.6 593.8,1878.5 594.9,1873.2 596,1868.8 597.1,1867.5 598.2,1870.1 599.3,1875.2 600.4,1880.2 601.5,1883.7 602.6,1885.5 603.7,1886.2Z" fill="#e8343c" fill-opacity="0.09"/>
<path d="M589.4,1886.4 590.5,1886 591.6,1885 592.7,1882.6 593.8,1878.5 594.9,1873.2 596,1868.8 597.1,1867.5 598.2,1870.1 599.3,1875.2 600.4,1880.2 601.5,1883.7 602.6,1885.5 603.7,1886.2" fill="none" stroke="#e8343c" stroke-width="1.5"/>
<path d="M598.9,1886.3 600,1885.7 601.1,1883.9 602.2,1879.8 603.3,1872.7 604.4,1863.5 605.5,1855.8 606.6,1853.6 607.7,1858.1 608.8,1866.7 609.9,1874.7 611,1879 612.1,1878.3 613.2,1873.7 614.3,1867.4 615.4,1863 616.5,1863.1 617.6,1867.8 618.7,1874.5 619.8,1880.3 620.9,1883.9 622,1885.7 623.1,1886.3Z" fill="#151515" fill-opacity="0.09"/>
<path d="M598.9,1886.3 600,1885.7 601.1,1883.9 602.2,1879.8 603.3,1872.7 604.4,1863.5 605.5,1855.8 606.6,1853.6 607.7,1858.1 608.8,1866.7 609.9,1874.7 611,1879 612.1,1878.3 613.2,1873.7 614.3,1867.4 615.4,1863 616.5,1863.1 617.6,1867.8 618.7,1874.5 619.8,1880.3 620.9,1883.9 622,1885.7 623.1,1886.3" fill="none" stroke="#151515" stroke-width="1.5"/>
<path d="M617.9,1886.3 619,1885.5 620.1,1883.4 621.2,1878.5 622.3,1870 623.4,1859.1 624.5,1850 625.6,1847.3 626.7,1852.8 627.8,1863.2 628.9,1873.5 630,1880.7 631.1,1884.4 632.2,1885.9Z" fill="#3ed43e" fill-opacity="0.09"/>
<path d="M617.9,1886.3 619,1885.5 620.1,1883.4 621.2,1878.5 622.3,1870 623.4,1859.1 624.5,1850 625.6,1847.3 626.7,1852.8 627.8,1863.2 628.9,1873.5 630,1880.7 631.1,1884.4 632.2,1885.9" fill="none" stroke="#3ed43e" stroke-width="1.5"/>
<path d="M627.5,1886.3 628.6,1885.9 629.7,1884.5 630.8,1881.4 631.9,1876 633,1869.1 634.1,1863.3 635.2,1861.6 636.3,1865 637.4,1871.7 638.5,1878.3 639.6,1882.8 640.7,1885.2 641.8,1886.1Z" fill="#151515" fill-opacity="0.09"/>
<path d="M627.5,1886.3 628.6,1885.9 629.7,1884.5 630.8,1881.4 631.9,1876 633,1869.1 634.1,1863.3 635.2,1861.6 636.3,1865 637.4,1871.7 638.5,1878.3 639.6,1882.8 640.7,1885.2 641.8,1886.1" fill="none" stroke="#151515" stroke-width="1.5"/>
<path d="M637,1886.4 638.1,1885.9 639.2,1884.6 640.3,1881.6 641.4,1876.4 642.5,1869.7 643.6,1864.1 644.7,1862.5 645.8,1865.8 646.9,1872 648,1877.8 649.1,1880.7 650.2,1879.8 651.3,1875.8 652.4,1870.5 653.5,1866.8 654.6,1866.9 655.7,1870.9 656.8,1876.5 657.9,1881.3 659,1884.4 660.1,1885.8 661.2,1886.3Z" fill="#e8343c" fill-opacity="0.09"/>
<path d="M637,1886.4 638.1,1885.9 639.2,1884.6 640.3,1881.6 641.4,1876.4 642.5,1869.7 643.6,1864.1 644.7,1862.5 645.8,1865.8 646.9,1872 648,1877.8 649.1,1880.7 650.2,1879.8 651.3,1875.8 652.4,1870.5 653.5,1866.8 654.6,1866.9 655.7,1870.9 656.8,1876.5 657.9,1881.3 659,1884.4 660.1,1885.8 661.2,1886.3" fill="none" stroke="#e8343c" stroke-width="1.5"/>
<path d="M656,1886.3 657.1,1885.9 658.2,1884.4 659.3,1881.2 660.4,1875.5 661.5,1868.3 662.6,1862.2 663.7,1860.4 664.8,1864 665.9,1870.9 667,1877.9 668.1,1882.6 669.2,1885.1 670.3,1886.1Z" fill="#3ed43e" fill-opacity="0.09"/>
<path d="M656,1886.3 657.1,1885.9 658.2,1884.4 659.3,1881.2 660.4,1875.5 661.5,1868.3 662.6,1862.2 663.7,1860.4 664.8,1864 665.9,1870.9 667,1877.9 668.1,1882.6 669.2,1885.1 670.3,1886.1" fill="none" stroke="#3ed43e" stroke-width="1.5"/>
<path d="M665.6,1886.3 666.7,1885.9 667.8,1884.5 668.9,1881.4 670,1876 671.1,1869.1 672.2,1863.3 673.3,1861.6 674.4,1865 675.5,1871.7 676.6,1878.3 677.7,1882.8 678.8,1885.2 679.9,1886.1Z" fill="#4664e6" fill-opacity="0.09"/>
<path d="M665.6,1886.3 666.7,1885.9 667.8,1884.5 668.9,1881.4 670,1876 671.1,1869.1 672.2,1863.3 673.3,1861.6 674.4,1865 675.5,1871.7 676.6,1878.3 677.7,1882.8 678.8,1885.2 679.9,1886.1" fill="none" stroke="#4664e6" stroke-width="1.5"/>
<path d="M675.1,1886.4 676.2,1885.9 677.3,1884.7 678.4,1881.9 679.5,1877 680.6,1870.7 681.7,1865.4 682.8,1863.9 683.9,1867 685,1873 686.1,1879 687.2,1883.2 688.3,1885.3 689.4,1886.2Z" fill="#e8343c" fill-opacity="0.09"/>
<path d="M675.1,1886.4 676.2,1885.9 677.3,1884.7 678.4,1881.9 679.5,1877 680.6,1870.7 681.7,1865.4 682.8,1863.9 683.9,1867 685,1873 686.1,1879 687.2,1883.2 688.3,1885.3 689.4,1886.2" fill="none" stroke="#e8343c" stroke-width="1.5"/>
<path d="M684.6,1886.3 685.7,1885.9 686.8,1884.4 687.9,1881.2 689,1875.5 690.1,1868.3 691.2,1862.2 692.3,1860.4 693.4,1864 694.5,1870.9 695.6,1877.9 696.7,1882.6 697.8,1885.1 698.9,1886.1Z" fill="#4664e6" fill-opacity="0.09"/>
<path d="M684.6,1886.3 685.7,1885.9 686.8,1884.4 687.9,1881.2 689,1875.5 690.1,1868.3 691.2,1862.2 692.3,1860.4 693.4,1864 694.5,1870.9 695.6,1877.9 696.7,1882.6 697.8,1885.1 698.9,1886.1" fill="none" stroke="#4664e6" stroke-width="1.5"/>
<path d="M694.1,1886.3 695.2,1885.9 696.3,1884.4 697.4,1881.2 698.5,1875.5 699.6,1868.3 700.7,1862.2 701.8,1860.4 702.9,1864 704,1870.9 705.1,1877.9 706.2,1882.6 707.3,1885.1 708.4,1886.1Z" fill="#3ed43e" fill-opacity="0.09"/>
<path d="M694.1,1886.3 695.2,1885.9 696.3,1884.4 697.4,1881.2 698.5,1875.5 699.6,1868.3 700.7,1862.2 701.8,1860.4 702.9,1864 704,1870.9 705.1,1877.9 706.2,1882.6 707.3,1885.1 708.4,1886.1" fill="none" stroke="#3ed43e" stroke-width="1.5"/>
<path d="M703.6,1886.3 704.7,1885.9 705.8,1884.5 706.9,1881.4 708,1876 709.1,1869.1 710.2,1863.3 711.3,1861.6 712.4,1865 713.5,1871.7 714.6,1878.3 715.7,1882.8 716.8,1885.2 717.9,1886.1Z" fill="#e8343c" fill-opacity="0.09"/>
<path d="M703.6,1886.3 704.7,1885.9 705.8,1884.5 706.9,1881.4 708,1876 709.1,1869.1 710.2,1863.3 711.3,1861.6 712.4,1865 713.5,1871.7 714.6,1878.3 715.7,1882.8 716.8,1885.2 717.9,1886.1" fill="none" stroke="#e8343c" stroke-width="1.5"/>
<path d="M713.2,1886.3 714.3,1885.9 715.4,1884.5 716.5,1881.4 717.6,1876 718.7,1869.1 719.8,1863.3 720.9,1861.6 722,1865 723.1,1871.7 724.2,1878.3 725.3,1882.8 726.4,1885.2 727.5,1886.1Z" fill="#4664e6" fill-opacity="0.09"/>
<path d="M713.2,1886.3 714.3,1885.9 715.4,1884.5 716.5,1881.4 717.6,1876 718.7,1869.1 719.8,1863.3 720.9,1861.6 722,1865 723.1,1871.7 724.2,1878.3 725.3,1882.8 726.4,1885.2 727.5,1886.1" fill="none" stroke="#4664e6" stroke-width="1.5"/>
<path d="M722.7,1886.4 723.8,1886 724.9,1884.9 726,1882.3 727.1,1877.7 728.2,1871.9 729.3,1867.1 730.4,1865.7 731.5,1868.6 732.6,1874.1 733.7,1879.6 734.8,1883.4 735.9,1885.4 737,1886.2Z" fill="#151515" fill-opacity="0.09"/>
<path d="M722.7,1886.4 723.8,1886 724.9,1884.9 726,1882.3 727.1,1877.7 728.2,1871.9 729.3,1867.1 730.4,1865.7 731.5,1868.6 732.6,1874.1 733.7,1879.6 734.8,1883.4 735.9,1885.4 737,1886.2" fill="none" stroke="#151515" stroke-width="1.5"/>
<path d="M732.2,1886.4 733.3,1886 734.4,1884.9 735.5,1882.3 736.6,1877.7 737.7,1871.9 738.8,1867.1 739.9,1865.7 741,1868.5 742.1,1873.9 743.2,1878.8 744.3,1881 745.4,1879.5 746.5,1874.9 747.6,1869.1 748.7,1865 749.8,1865.2 750.9,1869.5 752,1875.6 753.1,1880.9 754.2,1884.2 755.3,1885.7 756.4,1886.3Z" fill="#4664e6" fill-opacity="0.09"/>
<path d="M732.2,1886.4 733.3,1886 734.4,1884.9 735.5,1882.3 736.6,1877.7 737.7,1871.9 738.8,1867.1 739.9,1865.7 741,1868.5 742.1,1873.9 743.2,1878.8 744.3,1881 745.4,1879.5 746.5,1874.9 747.6,1869.1 748.7,1865 749.8,1865.2 750.9,1869.5 752,1875.6 753.1,1880.9 754.2,1884.2 755.3,1885.7 756.4,1886.3" fill="none" stroke="#4664e6" stroke-width="1.5"/>
<path d="M751.2,1886.4 752.3,1886 753.4,1884.9 754.5,1882.3 755.6,1877.7 756.7,1871.9 757.8,1867.1 758.9,1865.7 760,1868.6 761.1,1874.1 762.2,1879.6 763.3,1883.4Z" fill="#e8343c" fill-opacity="0.09"/>
<path d="M751.2,1886.4 752.3,1886 753.4,1884.9 754.5,1882.3 755.6,1877.7 756.7,1871.9 757.8,1867.1 758.9,1865.7 760,1868.6 761.1,1874.1 762.2,1879.6 763.3,1883.4" fill="none" stroke="#e8343c" stroke-width="1.5"/>
<line x1="477.6" y1="1886.5" x2="763.7" y2="1886.5" stroke="#222" stroke-width="1.8"/>
<text x="425.6" y="1923.3" text-anchor="middle" font-size="23"><tspan font-weight="bold" font-style="italic">Wnt6</tspan> BS3 chr1:74773668- 74773679 (+18180)</text>
<text x="22.5" y="1937.9" font-size="22">WT</text>
<text x="22.5" y="1965.4" font-size="22">MU</text>
<rect x="78" y="1959.4" width="685.5" height="61" fill="#fcfbf2"/>
<line x1="78" y1="1943.5" x2="763.5" y2="1943.5" stroke="#c8c8c8" stroke-width="1.6"/>
<line x1="224" y1="1961.5" x2="224" y2="2018.9" stroke="#b8b8b8" stroke-width="1" stroke-dasharray="1.5 2.5"/>
<line x1="325" y1="1961.5" x2="325" y2="2018.9" stroke="#b8b8b8" stroke-width="1" stroke-dasharray="1.5 2.5"/>
<line x1="425" y1="1961.5" x2="425" y2="2018.9" stroke="#b8b8b8" stroke-width="1" stroke-dasharray="1.5 2.5"/>
<line x1="524" y1="1961.5" x2="524" y2="2018.9" stroke="#b8b8b8" stroke-width="1" stroke-dasharray="1.5 2.5"/>
<line x1="624" y1="1961.5" x2="624" y2="2018.9" stroke="#b8b8b8" stroke-width="1" stroke-dasharray="1.5 2.5"/>
<line x1="724" y1="1961.5" x2="724" y2="2018.9" stroke="#b8b8b8" stroke-width="1" stroke-dasharray="1.5 2.5"/>
<text transform="scale(1.32,1)" x="62.9 70.5 78.2 85.8 93.5 101.1 108.7 116.4 124 131.6 139.3 146.9 154.6 162.2 169.8 177.5 185.1 192.7 200.4 208 215.7 223.3 230.9 238.6 246.2 253.8 261.5 269.1 276.7 284.4 292 299.7 307.3 314.9 322.6 330.2 337.8 345.5 353.1 360.8 368.4 376 383.7 391.3 398.9 406.6 414.2 421.8 429.5 437.1 444.8 452.4 460 467.7 475.3 482.9 490.6 498.2 505.9 513.5 521.1 528.8 536.4 544 551.7 559.3 567 574.6" y="1938.8" font-size="8.4" font-weight="bold" fill="#111" stroke="#111" stroke-width="0.3" text-anchor="middle">TTGCCAGGAGGGCTGTGGGGGAAGATCTATAAAATGATCTGACATTAGGAGCCCTCTTCCCAGTCCAG</text>
<rect x="360.2" y="1948.5" width="122.8" height="10.4" fill="#f5a9b0" stroke="#e2505c" stroke-width="1.3"/>
<line x1="363.1" y1="1953.7" x2="367.5" y2="1953.7" stroke="#666" stroke-width="1.3"/>
<line x1="373.2" y1="1953.7" x2="377.6" y2="1953.7" stroke="#666" stroke-width="1.3"/>
<line x1="383.3" y1="1953.7" x2="387.7" y2="1953.7" stroke="#666" stroke-width="1.3"/>
<line x1="393.3" y1="1953.7" x2="397.7" y2="1953.7" stroke="#666" stroke-width="1.3"/>
<line x1="403.4" y1="1953.7" x2="407.8" y2="1953.7" stroke="#666" stroke-width="1.3"/>
<line x1="413.5" y1="1953.7" x2="417.9" y2="1953.7" stroke="#666" stroke-width="1.3"/>
<line x1="423.6" y1="1953.7" x2="428" y2="1953.7" stroke="#666" stroke-width="1.3"/>
<line x1="433.7" y1="1953.7" x2="438.1" y2="1953.7" stroke="#666" stroke-width="1.3"/>
<line x1="443.8" y1="1953.7" x2="448.2" y2="1953.7" stroke="#666" stroke-width="1.3"/>
<line x1="453.8" y1="1953.7" x2="458.2" y2="1953.7" stroke="#666" stroke-width="1.3"/>
<line x1="463.9" y1="1953.7" x2="468.3" y2="1953.7" stroke="#666" stroke-width="1.3"/>
<line x1="474" y1="1953.7" x2="478.4" y2="1953.7" stroke="#666" stroke-width="1.3"/>
<text transform="scale(1.32,1)" x="62.9 70.5 78.2 85.8 93.5 101.1 108.7 116.4 124 131.6 139.3 146.9 154.6 162.2 169.8 177.5 185.1 192.7 200.4 208 215.7 223.3 230.9 238.6 246.2 253.8 261.5 269.1 368.4 376 383.7 391.3 398.9 406.6 414.2 421.8 429.5 437.1 444.8 452.4 460 467.7 475.3 482.9 490.6 498.2 505.9 513.5 521.1 528.8 536.4 544 551.7 559.3 567 574.6" y="1956.9" font-size="8.4" font-weight="bold" fill="#222" stroke="#222" stroke-width="0.25" text-anchor="middle">TTGCCAGGAGGGCTGTGGGGGAAGATCTGACATTAGGAGCCCTCTTCCCAGTCCAG</text>
<path d="M78,2016.2 79.1,2012.4 80.2,2006.2 81.3,1999 82.4,1993.8 83.5,1993.6 84.6,1998.3 85.7,2005.4 86.8,2011.3 87.9,2014.2 89,2013.6 90.1,2009.9 91.2,2004.6 92.3,2000.3 93.4,1999.5 94.5,2002.6 95.6,2007.9 96.7,2012.9 97.8,2016.3 98.9,2018 100,2018.6Z" fill="#e8343c" fill-opacity="0.09"/>
<path d="M78,2016.2 79.1,2012.4 80.2,2006.2 81.3,1999 82.4,1993.8 83.5,1993.6 84.6,1998.3 85.7,2005.4 86.8,2011.3 87.9,2014.2 89,2013.6 90.1,2009.9 91.2,2004.6 92.3,2000.3 93.4,1999.5 94.5,2002.6 95.6,2007.9 96.7,2012.9 97.8,2016.3 98.9,2018 100,2018.6" fill="none" stroke="#e8343c" stroke-width="1.5"/>
<path d="M95.7,2018.7 96.8,2017.9 97.9,2015.8 99,2010.9 100.1,2002.3 101.2,1991.3 102.3,1982.1 103.4,1979.4 104.5,1984.9 105.6,1995.4 106.7,2005.8 107.8,2013.1 108.9,2016.8 110,2018.3Z" fill="#151515" fill-opacity="0.09"/>
<path d="M95.7,2018.7 96.8,2017.9 97.9,2015.8 99,2010.9 100.1,2002.3 101.2,1991.3 102.3,1982.1 103.4,1979.4 104.5,1984.9 105.6,1995.4 106.7,2005.8 107.8,2013.1 108.9,2016.8 110,2018.3" fill="none" stroke="#151515" stroke-width="1.5"/>
<path d="M105.8,2018.8 106.9,2018.3 108,2017.1 109.1,2014.3 110.2,2009.3 111.3,2003 112.4,1997.6 113.5,1996.1 114.6,1999.2 115.7,2005.2 116.8,2010.9 117.9,2014 119,2013.6 120.1,2009.8 121.2,2003.7 122.3,1998 123.4,1995.7 124.5,1998.2 125.6,2004 126.7,2010.3 127.8,2014.9 128.9,2017.4 130,2018.5Z" fill="#4664e6" fill-opacity="0.09"/>
<path d="M105.8,2018.8 106.9,2018.3 108,2017.1 109.1,2014.3 110.2,2009.3 111.3,2003 112.4,1997.6 113.5,1996.1 114.6,1999.2 115.7,2005.2 116.8,2010.9 117.9,2014 119,2013.6 120.1,2009.8 121.2,2003.7 122.3,1998 123.4,1995.7 124.5,1998.2 125.6,2004 126.7,2010.3 127.8,2014.9 128.9,2017.4 130,2018.5" fill="none" stroke="#4664e6" stroke-width="1.5"/>
<path d="M125.9,2018.8 127,2018.4 128.1,2017.2 129.2,2014.5 130.3,2009.8 131.4,2003.7 132.5,1998.6 133.6,1997.2 134.7,2000.2 135.8,2006 136.9,2011.7 138,2015.7 139.1,2017.7 140.2,2018.6Z" fill="#3ed43e" fill-opacity="0.09"/>
<path d="M125.9,2018.8 127,2018.4 128.1,2017.2 129.2,2014.5 130.3,2009.8 131.4,2003.7 132.5,1998.6 133.6,1997.2 134.7,2000.2 135.8,2006 136.9,2011.7 138,2015.7 139.1,2017.7 140.2,2018.6" fill="none" stroke="#3ed43e" stroke-width="1.5"/>
<path d="M136,2018.8 137.1,2018.4 138.2,2017.3 139.3,2014.7 140.4,2010.3 141.5,2004.6 142.6,1999.8 143.7,1998.5 144.8,2001.3 145.9,2006.6 147,2011.7 148.1,2014.4 149.2,2013.7 150.3,2009.8 151.4,2003.7 152.5,1998 153.6,1995.7 154.7,1998.2 155.8,2004 156.9,2010.3 158,2014.9 159.1,2017.4 160.2,2018.5Z" fill="#151515" fill-opacity="0.09"/>
<path d="M136,2018.8 137.1,2018.4 138.2,2017.3 139.3,2014.7 140.4,2010.3 141.5,2004.6 142.6,1999.8 143.7,1998.5 144.8,2001.3 145.9,2006.6 147,2011.7 148.1,2014.4 149.2,2013.7 150.3,2009.8 151.4,2003.7 152.5,1998 153.6,1995.7 154.7,1998.2 155.8,2004 156.9,2010.3 158,2014.9 159.1,2017.4 160.2,2018.5" fill="none" stroke="#151515" stroke-width="1.5"/>
<path d="M156.2,2018.8 157.3,2018.4 158.4,2017.4 159.5,2014.9 160.6,2010.7 161.7,2005.3 162.8,2000.7 163.9,1999.4 165,2002.1 166.1,2007.3 167.2,2012.4 168.3,2016 169.4,2017.9 170.5,2018.6Z" fill="#3ed43e" fill-opacity="0.09"/>
<path d="M156.2,2018.8 157.3,2018.4 158.4,2017.4 159.5,2014.9 160.6,2010.7 161.7,2005.3 162.8,2000.7 163.9,1999.4 165,2002.1 166.1,2007.3 167.2,2012.4 168.3,2016 169.4,2017.9 170.5,2018.6" fill="none" stroke="#3ed43e" stroke-width="1.5"/>
<path d="M166.3,2018.8 167.4,2018.3 168.5,2017 169.6,2014 170.7,2008.8 171.8,2002.1 172.9,1996.5 174,1994.9 175.1,1998.2 176.2,2004.5 177.3,2010.6 178.4,2014 179.5,2014.1 180.6,2011 181.7,2005.8 182.8,2000.9 183.9,1998.9 185,2001 186.1,2006 187.2,2011.1 188.3,2014 189.4,2013.6 190.5,2009.6 191.6,2002.9 192.7,1996 193.8,1992.6 194.9,1994.5 196,2000.8 197.1,2008.1 198.2,2013.7 199.3,2016.9 200.4,2018.3Z" fill="#151515" fill-opacity="0.09"/>
<path d="M166.3,2018.8 167.4,2018.3 168.5,2017 169.6,2014 170.7,2008.8 171.8,2002.1 172.9,1996.5 174,1994.9 175.1,1998.2 176.2,2004.5 177.3,2010.6 178.4,2014 179.5,2014.1 180.6,2011 181.7,2005.8 182.8,2000.9 183.9,1998.9 185,2001 186.1,2006 187.2,2011.1 188.3,2014 189.4,2013.6 190.5,2009.6 191.6,2002.9 192.7,1996 193.8,1992.6 194.9,1994.5 196,2000.8 197.1,2008.1 198.2,2013.7 199.3,2016.9 200.4,2018.3" fill="none" stroke="#151515" stroke-width="1.5"/>
<path d="M196.5,2018.8 197.6,2018.4 198.7,2017.2 199.8,2014.5 200.9,2009.8 202,2003.7 203.1,1998.6 204.2,1997.2 205.3,2000.2 206.4,2006 207.5,2011.7 208.6,2015.7 209.7,2017.7 210.8,2018.6Z" fill="#4664e6" fill-opacity="0.09"/>
<path d="M196.5,2018.8 197.6,2018.4 198.7,2017.2 199.8,2014.5 200.9,2009.8 202,2003.7 203.1,1998.6 204.2,1997.2 205.3,2000.2 206.4,2006 207.5,2011.7 208.6,2015.7 209.7,2017.7 210.8,2018.6" fill="none" stroke="#4664e6" stroke-width="1.5"/>
<path d="M206.6,2018.8 207.7,2018.4 208.8,2017.2 209.9,2014.5 211,2009.8 212.1,2003.7 213.2,1998.6 214.3,1997.2 215.4,2000.2 216.5,2006 217.6,2011.7 218.7,2015.7 219.8,2017.7 220.9,2018.6Z" fill="#e8343c" fill-opacity="0.09"/>
<path d="M206.6,2018.8 207.7,2018.4 208.8,2017.2 209.9,2014.5 211,2009.8 212.1,2003.7 213.2,1998.6 214.3,1997.2 215.4,2000.2 216.5,2006 217.6,2011.7 218.7,2015.7 219.8,2017.7 220.9,2018.6" fill="none" stroke="#e8343c" stroke-width="1.5"/>
<path d="M216.7,2018.7 217.8,2018.3 218.9,2016.9 220,2013.7 221.1,2008 222.2,2000.9 223.3,1994.8 224.4,1993.1 225.5,1996.7 226.6,2003.5 227.7,2010.4 228.8,2015.1 229.9,2017.5 231,2018.5Z" fill="#151515" fill-opacity="0.09"/>
<path d="M216.7,2018.7 217.8,2018.3 218.9,2016.9 220,2013.7 221.1,2008 222.2,2000.9 223.3,1994.8 224.4,1993.1 225.5,1996.7 226.6,2003.5 227.7,2010.4 228.8,2015.1 229.9,2017.5 231,2018.5" fill="none" stroke="#151515" stroke-width="1.5"/>
<path d="M226.8,2018.8 227.9,2018.4 229,2017.2 230.1,2014.6 231.2,2010.1 232.3,2004.3 233.4,1999.4 234.5,1998 235.6,2000.9 236.7,2006.4 237.8,2012 238.9,2015.8 240,2017.8 241.1,2018.6Z" fill="#e8343c" fill-opacity="0.09"/>
<path d="M226.8,2018.8 227.9,2018.4 229,2017.2 230.1,2014.6 231.2,2010.1 232.3,2004.3 233.4,1999.4 234.5,1998 235.6,2000.9 236.7,2006.4 237.8,2012 238.9,2015.8 240,2017.8 241.1,2018.6" fill="none" stroke="#e8343c" stroke-width="1.5"/>
<path d="M236.8,2018.8 237.9,2018.4 239,2017.3 240.1,2014.9 241.2,2010.5 242.3,2005 243.4,2000.3 244.5,1999 245.6,2001.7 246.7,2006.9 247.8,2011.8 248.9,2014.4 250,2013.8 251.1,2010 252.2,2003.9 253.3,1998.3 254.4,1996 255.5,1998.4 256.6,2004.2 257.7,2010.1 258.8,2013.8 259.9,2014.1 261,2010.9 262.1,2005.3 263.2,1999.6 264.3,1996.6 265.4,1998.3 266.5,2003.5 267.6,2009.5 268.7,2013.6 269.8,2014.6 270.9,2012.4 272,2007.6 273.1,2002.3 274.2,1999.1 275.3,1999.9 276.4,2004.2 277.5,2009.6 278.6,2013.5 279.7,2014.5 280.8,2012 281.9,2006.7 283,2000.3 284.1,1995.9 285.2,1996 286.3,2000.6 287.4,2007.2 288.5,2012.8 289.6,2016.4 290.7,2018.1 291.8,2018.7Z" fill="#151515" fill-opacity="0.09"/>
<path d="M236.8,2018.8 237.9,2018.4 239,2017.3 240.1,2014.9 241.2,2010.5 242.3,2005 243.4,2000.3 244.5,1999 245.6,2001.7 246.7,2006.9 247.8,2011.8 248.9,2014.4 250,2013.8 251.1,2010 252.2,2003.9 253.3,1998.3 254.4,1996 255.5,1998.4 256.6,2004.2 257.7,2010.1 258.8,2013.8 259.9,2014.1 261,2010.9 262.1,2005.3 263.2,1999.6 264.3,1996.6 265.4,1998.3 266.5,2003.5 267.6,2009.5 268.7,2013.6 269.8,2014.6 270.9,2012.4 272,2007.6 273.1,2002.3 274.2,1999.1 275.3,1999.9 276.4,2004.2 277.5,2009.6 278.6,2013.5 279.7,2014.5 280.8,2012 281.9,2006.7 283,2000.3 284.1,1995.9 285.2,1996 286.3,2000.6 287.4,2007.2 288.5,2012.8 289.6,2016.4 290.7,2018.1 291.8,2018.7" fill="none" stroke="#151515" stroke-width="1.5"/>
<path d="M287.2,2018.7 288.3,2018 289.4,2016 290.5,2011.3 291.6,2003.2 292.7,1992.8 293.8,1984.1 294.9,1981.5 296,1986.7 297.1,1996.5 298.2,2006.1 299.3,2011.9 300.4,2013.1 301.5,2010.1 302.6,2004.6 303.7,1999.3 304.8,1997.1 305.9,1999.4 307,2004.9 308.1,2010.9 309.2,2015.2 310.3,2017.5 311.4,2018.5Z" fill="#3ed43e" fill-opacity="0.09"/>
<path d="M287.2,2018.7 288.3,2018 289.4,2016 290.5,2011.3 291.6,2003.2 292.7,1992.8 293.8,1984.1 294.9,1981.5 296,1986.7 297.1,1996.5 298.2,2006.1 299.3,2011.9 300.4,2013.1 301.5,2010.1 302.6,2004.6 303.7,1999.3 304.8,1997.1 305.9,1999.4 307,2004.9 308.1,2010.9 309.2,2015.2 310.3,2017.5 311.4,2018.5" fill="none" stroke="#3ed43e" stroke-width="1.5"/>
<path d="M307.4,2018.8 308.5,2018.4 309.6,2017.1 310.7,2014.4 311.8,2009.6 312.9,2003.4 314,1998.2 315.1,1996.7 316.2,1999.8 317.3,2005.7 318.4,2011.5 319.5,2015.6 320.6,2017.7 321.7,2018.6Z" fill="#151515" fill-opacity="0.09"/>
<path d="M307.4,2018.8 308.5,2018.4 309.6,2017.1 310.7,2014.4 311.8,2009.6 312.9,2003.4 314,1998.2 315.1,1996.7 316.2,1999.8 317.3,2005.7 318.4,2011.5 319.5,2015.6 320.6,2017.7 321.7,2018.6" fill="none" stroke="#151515" stroke-width="1.5"/>
<path d="M317.5,2018.7 318.6,2018.1 319.7,2016.4 320.8,2012.5 321.9,2005.6 323,1996.8 324.1,1989.3 325.2,1987.2 326.3,1991.6 327.4,2000 328.5,2008.4 329.6,2014.2 330.7,2017.2 331.8,2018.4Z" fill="#3ed43e" fill-opacity="0.09"/>
<path d="M317.5,2018.7 318.6,2018.1 319.7,2016.4 320.8,2012.5 321.9,2005.6 323,1996.8 324.1,1989.3 325.2,1987.2 326.3,1991.6 327.4,2000 328.5,2008.4 329.6,2014.2 330.7,2017.2 331.8,2018.4" fill="none" stroke="#3ed43e" stroke-width="1.5"/>
<path d="M327.6,2018.8 328.7,2018.4 329.8,2017.1 330.9,2014.4 332,2009.6 333.1,2003.4 334.2,1998.2 335.3,1996.7 336.4,1999.8 337.5,2005.7 338.6,2011.5 339.7,2015.6 340.8,2017.7 341.9,2018.6Z" fill="#e8343c" fill-opacity="0.09"/>
<path d="M327.6,2018.8 328.7,2018.4 329.8,2017.1 330.9,2014.4 332,2009.6 333.1,2003.4 334.2,1998.2 335.3,1996.7 336.4,1999.8 337.5,2005.7 338.6,2011.5 339.7,2015.6 340.8,2017.7 341.9,2018.6" fill="none" stroke="#e8343c" stroke-width="1.5"/>
<path d="M337.6,2018.8 338.7,2018.4 339.8,2017.4 340.9,2015.1 342,2011 343.1,2005.8 344.2,2001.5 345.3,2000.2 346.4,2002.8 347.5,2007.8 348.6,2012.7 349.7,2016.1 350.8,2017.9 351.9,2018.6Z" fill="#4664e6" fill-opacity="0.09"/>
<path d="M337.6,2018.8 338.7,2018.4 339.8,2017.4 340.9,2015.1 342,2011 343.1,2005.8 344.2,2001.5 345.3,2000.2 346.4,2002.8 347.5,2007.8 348.6,2012.7 349.7,2016.1 350.8,2017.9 351.9,2018.6" fill="none" stroke="#4664e6" stroke-width="1.5"/>
<path d="M347.7,2018.8 348.8,2018.3 349.9,2017.1 351,2014.2 352.1,2009.2 353.2,2002.7 354.3,1997.3 355.4,1995.8 356.5,1999 357.6,2005.1 358.7,2011.2 359.8,2015.5Z" fill="#e8343c" fill-opacity="0.09"/>
<path d="M347.7,2018.8 348.8,2018.3 349.9,2017.1 351,2014.2 352.1,2009.2 353.2,2002.7 354.3,1997.3 355.4,1995.8 356.5,1999 357.6,2005.1 358.7,2011.2 359.8,2015.5" fill="none" stroke="#e8343c" stroke-width="1.5"/>
<line x1="78" y1="2018.9" x2="360.2" y2="2018.9" stroke="#222" stroke-width="1.8"/>
<path d="M481.3,2016.6 482.4,2013.4 483.5,2008.2 484.6,2002.1 485.7,1997.8 486.8,1997.6 487.9,2001.6 489,2007.6 490.1,2013 491.2,2016.4 492.3,2018.1 493.4,2018.7Z" fill="#151515" fill-opacity="0.09"/>
<path d="M481.3,2016.6 482.4,2013.4 483.5,2008.2 484.6,2002.1 485.7,1997.8 486.8,1997.6 487.9,2001.6 489,2007.6 490.1,2013 491.2,2016.4 492.3,2018.1 493.4,2018.7" fill="none" stroke="#151515" stroke-width="1.5"/>
<path d="M488.9,2018.8 490,2018.4 491.1,2017.3 492.2,2014.9 493.3,2010.5 494.4,2005 495.5,2000.3 496.6,1999 497.7,2001.7 498.8,2007 499.9,2012.3 501,2016 502.1,2017.8 503.2,2018.6Z" fill="#3ed43e" fill-opacity="0.09"/>
<path d="M488.9,2018.8 490,2018.4 491.1,2017.3 492.2,2014.9 493.3,2010.5 494.4,2005 495.5,2000.3 496.6,1999 497.7,2001.7 498.8,2007 499.9,2012.3 501,2016 502.1,2017.8 503.2,2018.6" fill="none" stroke="#3ed43e" stroke-width="1.5"/>
<path d="M498.9,2018.8 500,2018.4 501.1,2017.4 502.2,2015 503.3,2010.8 504.4,2005.5 505.5,2001 506.6,1999.7 507.7,2002.3 508.8,2007.4 509.9,2012.5 511,2016.1 512.1,2017.9 513.2,2018.6Z" fill="#4664e6" fill-opacity="0.09"/>
<path d="M498.9,2018.8 500,2018.4 501.1,2017.4 502.2,2015 503.3,2010.8 504.4,2005.5 505.5,2001 506.6,1999.7 507.7,2002.3 508.8,2007.4 509.9,2012.5 511,2016.1 512.1,2017.9 513.2,2018.6" fill="none" stroke="#4664e6" stroke-width="1.5"/>
<path d="M509,2018.8 510.1,2018.4 511.2,2017.2 512.3,2014.6 513.4,2009.9 514.5,2004 515.6,1999 516.7,1997.6 517.8,2000.5 518.9,2006.2 520,2011.8 521.1,2015.7 522.2,2017.8 523.3,2018.6Z" fill="#3ed43e" fill-opacity="0.09"/>
<path d="M509,2018.8 510.1,2018.4 511.2,2017.2 512.3,2014.6 513.4,2009.9 514.5,2004 515.6,1999 516.7,1997.6 517.8,2000.5 518.9,2006.2 520,2011.8 521.1,2015.7 522.2,2017.8 523.3,2018.6" fill="none" stroke="#3ed43e" stroke-width="1.5"/>
<path d="M519.1,2018.7 520.2,2018.3 521.3,2017 522.4,2013.9 523.5,2008.6 524.6,2001.8 525.7,1996 526.8,1994.4 527.9,1997.8 529,2004.2 530.1,2010.3 531.2,2013.7 532.3,2013.4 533.4,2009.4 534.5,2003.1 535.6,1997.2 536.7,1994.8 537.8,1997.4 538.9,2003.5 540,2010 541.1,2014.8 542.2,2017.4 543.3,2018.4Z" fill="#e8343c" fill-opacity="0.09"/>
<path d="M519.1,2018.7 520.2,2018.3 521.3,2017 522.4,2013.9 523.5,2008.6 524.6,2001.8 525.7,1996 526.8,1994.4 527.9,1997.8 529,2004.2 530.1,2010.3 531.2,2013.7 532.3,2013.4 533.4,2009.4 534.5,2003.1 535.6,1997.2 536.7,1994.8 537.8,1997.4 538.9,2003.5 540,2010 541.1,2014.8 542.2,2017.4 543.3,2018.4" fill="none" stroke="#e8343c" stroke-width="1.5"/>
<path d="M539.3,2018.8 540.4,2018.4 541.5,2017.2 542.6,2014.5 543.7,2009.8 544.8,2003.7 545.9,1998.6 547,1997.2 548.1,2000.2 549.2,2006 550.3,2011.7 551.4,2015.7 552.5,2017.7 553.6,2018.6Z" fill="#3ed43e" fill-opacity="0.09"/>
<path d="M539.3,2018.8 540.4,2018.4 541.5,2017.2 542.6,2014.5 543.7,2009.8 544.8,2003.7 545.9,1998.6 547,1997.2 548.1,2000.2 549.2,2006 550.3,2011.7 551.4,2015.7 552.5,2017.7 553.6,2018.6" fill="none" stroke="#3ed43e" stroke-width="1.5"/>
<path d="M549.3,2018.8 550.4,2018.6 551.5,2017.9 552.6,2016.3 553.7,2013.5 554.8,2009.9 555.9,2006.9 557,2006 558.1,2007.8 559.2,2011.1 560.3,2014.2 561.4,2015.4 562.5,2014 563.6,2009.6 564.7,2003.2 565.8,1997.2 566.9,1994.8 568,1997.4 569.1,2003.5 570.2,2010 571.3,2014.8 572.4,2017.4 573.5,2018.4Z" fill="#151515" fill-opacity="0.09"/>
<path d="M549.3,2018.8 550.4,2018.6 551.5,2017.9 552.6,2016.3 553.7,2013.5 554.8,2009.9 555.9,2006.9 557,2006 558.1,2007.8 559.2,2011.1 560.3,2014.2 561.4,2015.4 562.5,2014 563.6,2009.6 564.7,2003.2 565.8,1997.2 566.9,1994.8 568,1997.4 569.1,2003.5 570.2,2010 571.3,2014.8 572.4,2017.4 573.5,2018.4" fill="none" stroke="#151515" stroke-width="1.5"/>
<path d="M569.5,2018.7 570.6,2018 571.7,2015.9 572.8,2011.1 573.9,2002.8 575,1992.2 576.1,1983.2 577.2,1980.6 578.3,1985.9 579.4,1996.1 580.5,2006.2 581.6,2013.2 582.7,2016.9 583.8,2018.3Z" fill="#3ed43e" fill-opacity="0.09"/>
<path d="M569.5,2018.7 570.6,2018 571.7,2015.9 572.8,2011.1 573.9,2002.8 575,1992.2 576.1,1983.2 577.2,1980.6 578.3,1985.9 579.4,1996.1 580.5,2006.2 581.6,2013.2 582.7,2016.9 583.8,2018.3" fill="none" stroke="#3ed43e" stroke-width="1.5"/>
<path d="M579.6,2018.8 580.7,2018.4 581.8,2017.2 582.9,2014.5 584,2009.8 585.1,2003.7 586.2,1998.6 587.3,1997.2 588.4,2000.2 589.5,2006 590.6,2011.7 591.7,2015.7 592.8,2017.7 593.9,2018.6Z" fill="#151515" fill-opacity="0.09"/>
<path d="M579.6,2018.8 580.7,2018.4 581.8,2017.2 582.9,2014.5 584,2009.8 585.1,2003.7 586.2,1998.6 587.3,1997.2 588.4,2000.2 589.5,2006 590.6,2011.7 591.7,2015.7 592.8,2017.7 593.9,2018.6" fill="none" stroke="#151515" stroke-width="1.5"/>
<path d="M589.7,2018.8 590.8,2018.3 591.9,2017.1 593,2014.3 594.1,2009.3 595.2,2003 596.3,1997.6 597.4,1996.1 598.5,1999.2 599.6,2005.2 600.7,2010.9 601.8,2014.1 602.9,2013.8 604,2010.1 605.1,2004.3 606.2,1998.8 607.3,1996.6 608.4,1999 609.5,2004.5 610.6,2010.3 611.7,2013.8 612.8,2013.8 613.9,2010.3 615,2004.3 616.1,1998 617.2,1994.9 618.3,1996.6 619.4,2002.4 620.5,2009 621.6,2014.2 622.7,2017.1 623.8,2018.3Z" fill="#4664e6" fill-opacity="0.09"/>
<path d="M589.7,2018.8 590.8,2018.3 591.9,2017.1 593,2014.3 594.1,2009.3 595.2,2003 596.3,1997.6 597.4,1996.1 598.5,1999.2 599.6,2005.2 600.7,2010.9 601.8,2014.1 602.9,2013.8 604,2010.1 605.1,2004.3 606.2,1998.8 607.3,1996.6 608.4,1999 609.5,2004.5 610.6,2010.3 611.7,2013.8 612.8,2013.8 613.9,2010.3 615,2004.3 616.1,1998 617.2,1994.9 618.3,1996.6 619.4,2002.4 620.5,2009 621.6,2014.2 622.7,2017.1 623.8,2018.3" fill="none" stroke="#4664e6" stroke-width="1.5"/>
<path d="M619.9,2018.8 621,2018.4 622.1,2017.4 623.2,2015.1 624.3,2011 625.4,2005.8 626.5,2001.5 627.6,2000.2 628.7,2002.8 629.8,2007.8 630.9,2012.7 632,2016.1 633.1,2017.9 634.2,2018.6Z" fill="#e8343c" fill-opacity="0.09"/>
<path d="M619.9,2018.8 621,2018.4 622.1,2017.4 623.2,2015.1 624.3,2011 625.4,2005.8 626.5,2001.5 627.6,2000.2 628.7,2002.8 629.8,2007.8 630.9,2012.7 632,2016.1 633.1,2017.9 634.2,2018.6" fill="none" stroke="#e8343c" stroke-width="1.5"/>
<path d="M630,2018.8 631.1,2018.4 632.2,2017.2 633.3,2014.6 634.4,2010.1 635.5,2004.3 636.6,1999.4 637.7,1998 638.8,2000.9 639.9,2006.4 641,2012 642.1,2015.8 643.2,2017.8 644.3,2018.6Z" fill="#4664e6" fill-opacity="0.09"/>
<path d="M630,2018.8 631.1,2018.4 632.2,2017.2 633.3,2014.6 634.4,2010.1 635.5,2004.3 636.6,1999.4 637.7,1998 638.8,2000.9 639.9,2006.4 641,2012 642.1,2015.8 643.2,2017.8 644.3,2018.6" fill="none" stroke="#4664e6" stroke-width="1.5"/>
<path d="M640.1,2018.8 641.2,2018.3 642.3,2017 643.4,2014.1 644.5,2009 645.6,2002.5 646.7,1997 647.8,1995.4 648.9,1998.6 650,2004.7 651.1,2010.3 652.2,2012.8 653.3,2010.6 654.4,2003.4 655.5,1992.7 656.6,1982.7 657.7,1978.7 658.8,1983 659.9,1993.2 661,2004.1 662.1,2012 663.2,2016.4 664.3,2018.1Z" fill="#e8343c" fill-opacity="0.09"/>
<path d="M640.1,2018.8 641.2,2018.3 642.3,2017 643.4,2014.1 644.5,2009 645.6,2002.5 646.7,1997 647.8,1995.4 648.9,1998.6 650,2004.7 651.1,2010.3 652.2,2012.8 653.3,2010.6 654.4,2003.4 655.5,1992.7 656.6,1982.7 657.7,1978.7 658.8,1983 659.9,1993.2 661,2004.1 662.1,2012 663.2,2016.4 664.3,2018.1" fill="none" stroke="#e8343c" stroke-width="1.5"/>
<path d="M660.2,2018.8 661.3,2018.4 662.4,2017.2 663.5,2014.4 664.6,2009.7 665.7,2003.6 666.8,1998.5 667.9,1997 669,2000 670.1,2005.7 671.2,2011.2 672.3,2014.3 673.4,2014 674.5,2010.6 675.6,2005.2 676.7,2000 677.8,1997.9 678.9,2000.1 680,2005.4 681.1,2010.8 682.2,2014 683.3,2014 684.4,2010.7 685.5,2004.8 686.6,1998.8 687.7,1995.8 688.8,1997.5 689.9,2003 691,2009.4 692.1,2014.3 693.2,2017.1 694.3,2018.4Z" fill="#4664e6" fill-opacity="0.09"/>
<path d="M660.2,2018.8 661.3,2018.4 662.4,2017.2 663.5,2014.4 664.6,2009.7 665.7,2003.6 666.8,1998.5 667.9,1997 669,2000 670.1,2005.7 671.2,2011.2 672.3,2014.3 673.4,2014 674.5,2010.6 675.6,2005.2 676.7,2000 677.8,1997.9 678.9,2000.1 680,2005.4 681.1,2010.8 682.2,2014 683.3,2014 684.4,2010.7 685.5,2004.8 686.6,1998.8 687.7,1995.8 688.8,1997.5 689.9,2003 691,2009.4 692.1,2014.3 693.2,2017.1 694.3,2018.4" fill="none" stroke="#4664e6" stroke-width="1.5"/>
<path d="M690.5,2018.8 691.6,2018.4 692.7,2017.3 693.8,2014.9 694.9,2010.5 696,2005 697.1,2000.3 698.2,1999 699.3,2001.7 700.4,2007 701.5,2012.3 702.6,2016 703.7,2017.8 704.8,2018.6Z" fill="#3ed43e" fill-opacity="0.09"/>
<path d="M690.5,2018.8 691.6,2018.4 692.7,2017.3 693.8,2014.9 694.9,2010.5 696,2005 697.1,2000.3 698.2,1999 699.3,2001.7 700.4,2007 701.5,2012.3 702.6,2016 703.7,2017.8 704.8,2018.6" fill="none" stroke="#3ed43e" stroke-width="1.5"/>
<path d="M700.6,2018.8 701.7,2018.4 702.8,2017.3 703.9,2014.7 705,2010.3 706.1,2004.6 707.2,1999.8 708.3,1998.5 709.4,2001.3 710.5,2006.7 711.6,2012.1 712.7,2015.9 713.8,2017.8 714.9,2018.6Z" fill="#151515" fill-opacity="0.09"/>
<path d="M700.6,2018.8 701.7,2018.4 702.8,2017.3 703.9,2014.7 705,2010.3 706.1,2004.6 707.2,1999.8 708.3,1998.5 709.4,2001.3 710.5,2006.7 711.6,2012.1 712.7,2015.9 713.8,2017.8 714.9,2018.6" fill="none" stroke="#151515" stroke-width="1.5"/>
<path d="M710.6,2018.8 711.7,2018.4 712.8,2017.2 713.9,2014.5 715,2009.8 716.1,2003.7 717.2,1998.6 718.3,1997.2 719.4,2000.2 720.5,2006 721.6,2011.7 722.7,2015.7 723.8,2017.7 724.9,2018.6Z" fill="#e8343c" fill-opacity="0.09"/>
<path d="M710.6,2018.8 711.7,2018.4 712.8,2017.2 713.9,2014.5 715,2009.8 716.1,2003.7 717.2,1998.6 718.3,1997.2 719.4,2000.2 720.5,2006 721.6,2011.7 722.7,2015.7 723.8,2017.7 724.9,2018.6" fill="none" stroke="#e8343c" stroke-width="1.5"/>
<path d="M720.7,2018.7 721.8,2018.3 722.9,2016.8 724,2013.6 725.1,2007.9 726.2,2000.7 727.3,1994.6 728.4,1992.8 729.5,1996.4 730.6,2003.2 731.7,2009.8 732.8,2013.5 733.9,2013.5 735,2009.9 736.1,2003.9 737.2,1998.3 738.3,1996 739.4,1998.5 740.5,2004.2 741.6,2010.5 742.7,2015 743.8,2017.4 744.9,2018.5Z" fill="#4664e6" fill-opacity="0.09"/>
<path d="M720.7,2018.7 721.8,2018.3 722.9,2016.8 724,2013.6 725.1,2007.9 726.2,2000.7 727.3,1994.6 728.4,1992.8 729.5,1996.4 730.6,2003.2 731.7,2009.8 732.8,2013.5 733.9,2013.5 735,2009.9 736.1,2003.9 737.2,1998.3 738.3,1996 739.4,1998.5 740.5,2004.2 741.6,2010.5 742.7,2015 743.8,2017.4 744.9,2018.5" fill="none" stroke="#4664e6" stroke-width="1.5"/>
<path d="M740.9,2018.8 742,2018.4 743.1,2017.1 744.2,2014.4 745.3,2009.6 746.4,2003.4 747.5,1998.2 748.6,1996.7 749.7,1999.8 750.8,2005.7 751.9,2011.5 753,2015.6 754.1,2017.7 755.2,2018.6Z" fill="#3ed43e" fill-opacity="0.09"/>
<path d="M740.9,2018.8 742,2018.4 743.1,2017.1 744.2,2014.4 745.3,2009.6 746.4,2003.4 747.5,1998.2 748.6,1996.7 749.7,1999.8 750.8,2005.7 751.9,2011.5 753,2015.6 754.1,2017.7 755.2,2018.6" fill="none" stroke="#3ed43e" stroke-width="1.5"/>
<path d="M751,2018.8 752.1,2018.4 753.2,2017.2 754.3,2014.6 755.4,2009.9 756.5,2004 757.6,1999 758.7,1997.6 759.8,2000.5 760.9,2006.2 762,2011.8 763.1,2015.7Z" fill="#151515" fill-opacity="0.09"/>
<path d="M751,2018.8 752.1,2018.4 753.2,2017.2 754.3,2014.6 755.4,2009.9 756.5,2004 757.6,1999 758.7,1997.6 759.8,2000.5 760.9,2006.2 762,2011.8 763.1,2015.7" fill="none" stroke="#151515" stroke-width="1.5"/>
<line x1="481.3" y1="2018.9" x2="763.5" y2="2018.9" stroke="#222" stroke-width="1.8"/>
<text x="436.3" y="2055" text-anchor="middle" font-size="23"><tspan font-weight="bold" font-style="italic">Sox2</tspan> BS2 chr3:35246615-35246626 (+609989)</text>
<text x="22.5" y="2067.9" font-size="22">WT</text>
<text x="22.5" y="2094.8" font-size="22">MU</text>
<rect x="78" y="2090.3" width="685.5" height="59.8" fill="#fcfbf2"/>
<line x1="78" y1="2073.3" x2="763.5" y2="2073.3" stroke="#c8c8c8" stroke-width="1.6"/>
<line x1="152" y1="2091.3" x2="152" y2="2148.6" stroke="#b8b8b8" stroke-width="1" stroke-dasharray="1.5 2.5"/>
<line x1="253.5" y1="2091.3" x2="253.5" y2="2148.6" stroke="#b8b8b8" stroke-width="1" stroke-dasharray="1.5 2.5"/>
<line x1="354" y1="2091.3" x2="354" y2="2148.6" stroke="#b8b8b8" stroke-width="1" stroke-dasharray="1.5 2.5"/>
<line x1="454.7" y1="2091.3" x2="454.7" y2="2148.6" stroke="#b8b8b8" stroke-width="1" stroke-dasharray="1.5 2.5"/>
<line x1="556" y1="2091.3" x2="556" y2="2148.6" stroke="#b8b8b8" stroke-width="1" stroke-dasharray="1.5 2.5"/>
<line x1="657.7" y1="2091.3" x2="657.7" y2="2148.6" stroke="#b8b8b8" stroke-width="1" stroke-dasharray="1.5 2.5"/>
<line x1="757.8" y1="2091.3" x2="757.8" y2="2148.6" stroke="#b8b8b8" stroke-width="1" stroke-dasharray="1.5 2.5"/>
<text transform="scale(1.32,1)" x="62.9 70.5 78.2 85.8 93.5 101.1 108.7 116.4 124 131.6 139.3 146.9 154.6 162.2 169.8 177.5 185.1 192.7 200.4 208 215.7 223.3 230.9 238.6 246.2 253.8 261.5 269.1 276.7 284.4 292 299.7 307.3 314.9 322.6 330.2 337.8 345.5 353.1 360.8 368.4 376 383.7 391.3 398.9 406.6 414.2 421.8 429.5 437.1 444.8 452.4 460 467.7 475.3 482.9 490.6 498.2 505.9 513.5 521.1 528.8 536.4 544 551.7 559.3 567 574.6" y="2068.6" font-size="8.4" font-weight="bold" fill="#111" stroke="#111" stroke-width="0.3" text-anchor="middle">CCATGAAGGGAGGGTTTCTTTAAAGTAAGCTATGTTTATTCAAAGTGTTGACATTTTCAAATGCTCTT</text>
<rect x="358.8" y="2079.2" width="122.8" height="10.6" fill="#f5a9b0" stroke="#e2505c" stroke-width="1.3"/>
<line x1="363.1" y1="2084.5" x2="367.5" y2="2084.5" stroke="#666" stroke-width="1.3"/>
<line x1="373.2" y1="2084.5" x2="377.6" y2="2084.5" stroke="#666" stroke-width="1.3"/>
<line x1="383.3" y1="2084.5" x2="387.7" y2="2084.5" stroke="#666" stroke-width="1.3"/>
<line x1="393.3" y1="2084.5" x2="397.7" y2="2084.5" stroke="#666" stroke-width="1.3"/>
<line x1="403.4" y1="2084.5" x2="407.8" y2="2084.5" stroke="#666" stroke-width="1.3"/>
<line x1="413.5" y1="2084.5" x2="417.9" y2="2084.5" stroke="#666" stroke-width="1.3"/>
<line x1="423.6" y1="2084.5" x2="428" y2="2084.5" stroke="#666" stroke-width="1.3"/>
<line x1="433.7" y1="2084.5" x2="438.1" y2="2084.5" stroke="#666" stroke-width="1.3"/>
<line x1="443.8" y1="2084.5" x2="448.2" y2="2084.5" stroke="#666" stroke-width="1.3"/>
<line x1="453.8" y1="2084.5" x2="458.2" y2="2084.5" stroke="#666" stroke-width="1.3"/>
<line x1="463.9" y1="2084.5" x2="468.3" y2="2084.5" stroke="#666" stroke-width="1.3"/>
<line x1="474" y1="2084.5" x2="478.4" y2="2084.5" stroke="#666" stroke-width="1.3"/>
<text transform="scale(1.32,1)" x="62.9 70.5 78.2 85.8 93.5 101.1 108.7 116.4 124 131.6 139.3 146.9 154.6 162.2 169.8 177.5 185.1 192.7 200.4 208 215.7 223.3 230.9 238.6 246.2 253.8 261.5 269.1 368.4 376 383.7 391.3 398.9 406.6 414.2 421.8 429.5 437.1 444.8 452.4 460 467.7 475.3 482.9 490.6 498.2 505.9 513.5 521.1 528.8 536.4 544 551.7 559.3 567 574.6" y="2087.5" font-size="8.4" font-weight="bold" fill="#222" stroke="#222" stroke-width="0.25" text-anchor="middle">CCATGAAGGGAGGGTTTCTTTAAAGTAACAAAGTGTTGACATTTTCAAATGCTCTT</text>
<path d="M78,2146.1 79.1,2142.5 80.2,2136.7 81.3,2129.9 82.4,2125.1 83.5,2124.8 84.6,2129.3 85.7,2135.9 86.8,2141.4 87.9,2143.8 89,2142.5 90.1,2138 91.2,2131.7 92.3,2126.6 93.4,2125.6 94.5,2129.3 95.6,2135.5 96.7,2141.5 97.8,2145.5 98.9,2147.5 100,2148.3Z" fill="#4664e6" fill-opacity="0.09"/>
<path d="M78,2146.1 79.1,2142.5 80.2,2136.7 81.3,2129.9 82.4,2125.1 83.5,2124.8 84.6,2129.3 85.7,2135.9 86.8,2141.4 87.9,2143.8 89,2142.5 90.1,2138 91.2,2131.7 92.3,2126.6 93.4,2125.6 94.5,2129.3 95.6,2135.5 96.7,2141.5 97.8,2145.5 98.9,2147.5 100,2148.3" fill="none" stroke="#4664e6" stroke-width="1.5"/>
<path d="M95.7,2148.5 96.8,2148.1 97.9,2147 99,2144.4 100.1,2139.9 101.2,2134.2 102.3,2129.4 103.4,2128 104.5,2130.8 105.6,2136.3 106.7,2141.8 107.8,2145.6 108.9,2147.5 110,2148.3Z" fill="#3ed43e" fill-opacity="0.09"/>
<path d="M95.7,2148.5 96.8,2148.1 97.9,2147 99,2144.4 100.1,2139.9 101.2,2134.2 102.3,2129.4 103.4,2128 104.5,2130.8 105.6,2136.3 106.7,2141.8 107.8,2145.6 108.9,2147.5 110,2148.3" fill="none" stroke="#3ed43e" stroke-width="1.5"/>
<path d="M105.8,2148.5 106.9,2148.1 108,2146.9 109.1,2144.1 110.2,2139.4 111.3,2133.3 112.4,2128.2 113.5,2126.7 114.6,2129.7 115.7,2135.5 116.8,2141.3 117.9,2145.4 119,2147.4 120.1,2148.3Z" fill="#e8343c" fill-opacity="0.09"/>
<path d="M105.8,2148.5 106.9,2148.1 108,2146.9 109.1,2144.1 110.2,2139.4 111.3,2133.3 112.4,2128.2 113.5,2126.7 114.6,2129.7 115.7,2135.5 116.8,2141.3 117.9,2145.4 119,2147.4 120.1,2148.3" fill="none" stroke="#e8343c" stroke-width="1.5"/>
<path d="M115.9,2148.4 117,2148 118.1,2146.6 119.2,2143.4 120.3,2137.9 121.4,2130.8 122.5,2124.9 123.6,2123.2 124.7,2126.7 125.8,2133.5 126.9,2140.2 128,2144.8 129.1,2147.3 130.2,2148.2Z" fill="#151515" fill-opacity="0.09"/>
<path d="M115.9,2148.4 117,2148 118.1,2146.6 119.2,2143.4 120.3,2137.9 121.4,2130.8 122.5,2124.9 123.6,2123.2 124.7,2126.7 125.8,2133.5 126.9,2140.2 128,2144.8 129.1,2147.3 130.2,2148.2" fill="none" stroke="#151515" stroke-width="1.5"/>
<path d="M125.9,2148.4 127,2147.9 128.1,2146.4 129.2,2143 130.3,2136.9 131.4,2129.2 132.5,2122.7 133.6,2120.8 134.7,2124.6 135.8,2131.9 136.9,2139 138,2143.1 139.1,2143.5 140.2,2140.4 141.3,2135 142.4,2130 143.5,2127.9 144.6,2130.1 145.7,2135.3 146.8,2141 147.9,2145.1 149,2147.3 150.1,2148.2Z" fill="#3ed43e" fill-opacity="0.09"/>
<path d="M125.9,2148.4 127,2147.9 128.1,2146.4 129.2,2143 130.3,2136.9 131.4,2129.2 132.5,2122.7 133.6,2120.8 134.7,2124.6 135.8,2131.9 136.9,2139 138,2143.1 139.1,2143.5 140.2,2140.4 141.3,2135 142.4,2130 143.5,2127.9 144.6,2130.1 145.7,2135.3 146.8,2141 147.9,2145.1 149,2147.3 150.1,2148.2" fill="none" stroke="#3ed43e" stroke-width="1.5"/>
<path d="M146.1,2148.5 147.2,2148.3 148.3,2147.5 149.4,2145.9 150.5,2143 151.6,2139.3 152.7,2136.1 153.8,2135.2 154.9,2137.1 156,2140.4 157.1,2143.4 158.2,2143.9 159.3,2140.7 160.4,2132.9 161.5,2121.9 162.6,2111.7 163.7,2107.6 164.8,2112 165.9,2122.3 167,2133.1 168.1,2140.3 169.2,2142.3 170.3,2139.5 171.4,2133.6 172.5,2127.3 173.6,2124.1 174.7,2125.9 175.8,2131.7 176.9,2138.5 178,2143.8 179.1,2146.7 180.2,2148Z" fill="#151515" fill-opacity="0.09"/>
<path d="M146.1,2148.5 147.2,2148.3 148.3,2147.5 149.4,2145.9 150.5,2143 151.6,2139.3 152.7,2136.1 153.8,2135.2 154.9,2137.1 156,2140.4 157.1,2143.4 158.2,2143.9 159.3,2140.7 160.4,2132.9 161.5,2121.9 162.6,2111.7 163.7,2107.6 164.8,2112 165.9,2122.3 167,2133.1 168.1,2140.3 169.2,2142.3 170.3,2139.5 171.4,2133.6 172.5,2127.3 173.6,2124.1 174.7,2125.9 175.8,2131.7 176.9,2138.5 178,2143.8 179.1,2146.7 180.2,2148" fill="none" stroke="#151515" stroke-width="1.5"/>
<path d="M176.3,2148.4 177.4,2147.9 178.5,2146.4 179.6,2142.8 180.7,2136.6 181.8,2128.7 182.9,2122 184,2120.1 185.1,2124.1 186.2,2131.6 187.3,2139.2 188.4,2144.4 189.5,2147.1 190.6,2148.2Z" fill="#3ed43e" fill-opacity="0.09"/>
<path d="M176.3,2148.4 177.4,2147.9 178.5,2146.4 179.6,2142.8 180.7,2136.6 181.8,2128.7 182.9,2122 184,2120.1 185.1,2124.1 186.2,2131.6 187.3,2139.2 188.4,2144.4 189.5,2147.1 190.6,2148.2" fill="none" stroke="#3ed43e" stroke-width="1.5"/>
<path d="M186.4,2148.5 187.5,2148.2 188.6,2147.2 189.7,2145 190.8,2141.1 191.9,2136.1 193,2132 194.1,2130.8 195.2,2133.2 196.3,2137.8 197.4,2142 198.5,2143.6 199.6,2141.4 200.7,2135 201.8,2125.5 202.9,2116.7 204,2113.2 205.1,2117 206.2,2125.8 207.3,2135 208.4,2140.8 209.5,2141.6 210.6,2137.4 211.7,2129.5 212.8,2121.5 213.9,2117.4 215,2119.7 216.1,2127.1 217.2,2135.8 218.3,2142.4 219.4,2146.2 220.5,2147.9Z" fill="#151515" fill-opacity="0.09"/>
<path d="M186.4,2148.5 187.5,2148.2 188.6,2147.2 189.7,2145 190.8,2141.1 191.9,2136.1 193,2132 194.1,2130.8 195.2,2133.2 196.3,2137.8 197.4,2142 198.5,2143.6 199.6,2141.4 200.7,2135 201.8,2125.5 202.9,2116.7 204,2113.2 205.1,2117 206.2,2125.8 207.3,2135 208.4,2140.8 209.5,2141.6 210.6,2137.4 211.7,2129.5 212.8,2121.5 213.9,2117.4 215,2119.7 216.1,2127.1 217.2,2135.8 218.3,2142.4 219.4,2146.2 220.5,2147.9" fill="none" stroke="#151515" stroke-width="1.5"/>
<path d="M216.7,2148.5 217.8,2148.1 218.9,2146.8 220,2144.1 221.1,2139.3 222.2,2133.1 223.3,2127.9 224.4,2126.4 225.5,2129.4 226.6,2135.3 227.7,2140.8 228.8,2144 229.9,2143.8 231,2140.4 232.1,2135.1 233.2,2130 234.3,2127.9 235.4,2130.1 236.5,2135.3 237.6,2140.6 238.7,2143.9 239.8,2144.1 240.9,2141.1 242,2135.8 243.1,2130.4 244.2,2127.6 245.3,2129.2 246.4,2134.2 247.5,2140 248.6,2144.5 249.7,2147 250.8,2148.1Z" fill="#e8343c" fill-opacity="0.09"/>
<path d="M216.7,2148.5 217.8,2148.1 218.9,2146.8 220,2144.1 221.1,2139.3 222.2,2133.1 223.3,2127.9 224.4,2126.4 225.5,2129.4 226.6,2135.3 227.7,2140.8 228.8,2144 229.9,2143.8 231,2140.4 232.1,2135.1 233.2,2130 234.3,2127.9 235.4,2130.1 236.5,2135.3 237.6,2140.6 238.7,2143.9 239.8,2144.1 240.9,2141.1 242,2135.8 243.1,2130.4 244.2,2127.6 245.3,2129.2 246.4,2134.2 247.5,2140 248.6,2144.5 249.7,2147 250.8,2148.1" fill="none" stroke="#e8343c" stroke-width="1.5"/>
<path d="M246.9,2148.5 248,2148 249.1,2146.7 250.2,2143.7 251.3,2138.4 252.4,2131.7 253.5,2126 254.6,2124.4 255.7,2127.7 256.8,2134.2 257.9,2140.6 259,2145 260.1,2147.3 261.2,2148.2Z" fill="#4664e6" fill-opacity="0.09"/>
<path d="M246.9,2148.5 248,2148 249.1,2146.7 250.2,2143.7 251.3,2138.4 252.4,2131.7 253.5,2126 254.6,2124.4 255.7,2127.7 256.8,2134.2 257.9,2140.6 259,2145 260.1,2147.3 261.2,2148.2" fill="none" stroke="#4664e6" stroke-width="1.5"/>
<path d="M257,2148.5 258.1,2148.1 259.2,2147 260.3,2144.5 261.4,2140.1 262.5,2134.5 263.6,2129.8 264.7,2128.5 265.8,2131.2 266.9,2136.5 268,2141.4 269.1,2143.9 270.2,2143 271.3,2138.7 272.4,2132 273.5,2125.6 274.6,2123.1 275.7,2125.8 276.8,2132.2 277.9,2138.8 279,2143 280.1,2143.4 281.2,2140.2 282.3,2134.4 283.4,2128.3 284.5,2125.3 285.6,2127 286.7,2132.5 287.8,2139 288.9,2144 290,2146.8 291.1,2148.1Z" fill="#e8343c" fill-opacity="0.09"/>
<path d="M257,2148.5 258.1,2148.1 259.2,2147 260.3,2144.5 261.4,2140.1 262.5,2134.5 263.6,2129.8 264.7,2128.5 265.8,2131.2 266.9,2136.5 268,2141.4 269.1,2143.9 270.2,2143 271.3,2138.7 272.4,2132 273.5,2125.6 274.6,2123.1 275.7,2125.8 276.8,2132.2 277.9,2138.8 279,2143 280.1,2143.4 281.2,2140.2 282.3,2134.4 283.4,2128.3 284.5,2125.3 285.6,2127 286.7,2132.5 287.8,2139 288.9,2144 290,2146.8 291.1,2148.1" fill="none" stroke="#e8343c" stroke-width="1.5"/>
<path d="M287.2,2148.5 288.3,2148.1 289.4,2147 290.5,2144.5 291.6,2140.1 292.7,2134.5 293.8,2129.8 294.9,2128.5 296,2131.2 297.1,2136.5 298.2,2141.5 299.3,2144.3 300.4,2143.9 301.5,2140.5 302.6,2135.1 303.7,2130 304.8,2127.9 305.9,2130.1 307,2135.3 308.1,2140.6 309.2,2143.8 310.3,2143.8 311.4,2140.5 312.5,2134.7 313.6,2128.8 314.7,2125.8 315.8,2127.5 316.9,2132.9 318,2139.2 319.1,2144.1 320.2,2146.9 321.3,2148.1Z" fill="#3ed43e" fill-opacity="0.09"/>
<path d="M287.2,2148.5 288.3,2148.1 289.4,2147 290.5,2144.5 291.6,2140.1 292.7,2134.5 293.8,2129.8 294.9,2128.5 296,2131.2 297.1,2136.5 298.2,2141.5 299.3,2144.3 300.4,2143.9 301.5,2140.5 302.6,2135.1 303.7,2130 304.8,2127.9 305.9,2130.1 307,2135.3 308.1,2140.6 309.2,2143.8 310.3,2143.8 311.4,2140.5 312.5,2134.7 313.6,2128.8 314.7,2125.8 315.8,2127.5 316.9,2132.9 318,2139.2 319.1,2144.1 320.2,2146.9 321.3,2148.1" fill="none" stroke="#3ed43e" stroke-width="1.5"/>
<path d="M317.5,2148.5 318.6,2148.1 319.7,2147.1 320.8,2144.6 321.9,2140.4 323,2135 324.1,2130.4 325.2,2129.1 326.3,2131.8 327.4,2137 328.5,2142.1 329.6,2145.7 330.7,2147.6 331.8,2148.3Z" fill="#151515" fill-opacity="0.09"/>
<path d="M317.5,2148.5 318.6,2148.1 319.7,2147.1 320.8,2144.6 321.9,2140.4 323,2135 324.1,2130.4 325.2,2129.1 326.3,2131.8 327.4,2137 328.5,2142.1 329.6,2145.7 330.7,2147.6 331.8,2148.3" fill="none" stroke="#151515" stroke-width="1.5"/>
<path d="M327.6,2148.5 328.7,2148.1 329.8,2146.9 330.9,2144.3 332,2139.6 333.1,2133.7 334.2,2128.7 335.3,2127.3 336.4,2130.2 337.5,2135.9 338.6,2141.5 339.7,2145.4 340.8,2147.5 341.9,2148.3Z" fill="#e8343c" fill-opacity="0.09"/>
<path d="M327.6,2148.5 328.7,2148.1 329.8,2146.9 330.9,2144.3 332,2139.6 333.1,2133.7 334.2,2128.7 335.3,2127.3 336.4,2130.2 337.5,2135.9 338.6,2141.5 339.7,2145.4 340.8,2147.5 341.9,2148.3" fill="none" stroke="#e8343c" stroke-width="1.5"/>
<path d="M337.6,2148.4 338.7,2147.9 339.8,2146.5 340.9,2143.2 342,2137.4 343.1,2129.9 344.2,2123.7 345.3,2121.9 346.4,2125.6 347.5,2132.6 348.6,2139.3 349.7,2143.1 350.8,2142.9 351.9,2139.1 353,2132.8 354.1,2126.9 355.2,2124.5 356.3,2127.1 357.4,2133.2 358.5,2139.7 359.6,2144.5Z" fill="#3ed43e" fill-opacity="0.09"/>
<path d="M337.6,2148.4 338.7,2147.9 339.8,2146.5 340.9,2143.2 342,2137.4 343.1,2129.9 344.2,2123.7 345.3,2121.9 346.4,2125.6 347.5,2132.6 348.6,2139.3 349.7,2143.1 350.8,2142.9 351.9,2139.1 353,2132.8 354.1,2126.9 355.2,2124.5 356.3,2127.1 357.4,2133.2 358.5,2139.7 359.6,2144.5" fill="none" stroke="#3ed43e" stroke-width="1.5"/>
<line x1="78" y1="2148.6" x2="360.2" y2="2148.6" stroke="#222" stroke-width="1.8"/>
<path d="M481.3,2145.9 482.4,2142.2 483.5,2136.1 484.6,2129 485.7,2123.9 486.8,2123.7 487.9,2128.4 489,2135.4 490.1,2141.7 491.2,2145.7 492.3,2147.6 493.4,2148.3Z" fill="#4664e6" fill-opacity="0.09"/>
<path d="M481.3,2145.9 482.4,2142.2 483.5,2136.1 484.6,2129 485.7,2123.9 486.8,2123.7 487.9,2128.4 489,2135.4 490.1,2141.7 491.2,2145.7 492.3,2147.6 493.4,2148.3" fill="none" stroke="#4664e6" stroke-width="1.5"/>
<path d="M488.9,2148.5 490,2148.1 491.1,2147.2 492.2,2144.9 493.3,2140.9 494.4,2135.8 495.5,2131.5 496.6,2130.3 497.7,2132.8 498.8,2137.6 499.9,2142.1 501,2144.5 502.1,2143.9 503.2,2140.4 504.3,2134.9 505.4,2129.7 506.5,2127.6 507.6,2129.8 508.7,2135.1 509.8,2140.5 510.9,2143.8 512,2143.8 513.1,2140.5 514.2,2134.7 515.3,2128.8 516.4,2125.8 517.5,2127.5 518.6,2132.9 519.7,2139.2 520.8,2144.1 521.9,2146.9 523,2148.1Z" fill="#3ed43e" fill-opacity="0.09"/>
<path d="M488.9,2148.5 490,2148.1 491.1,2147.2 492.2,2144.9 493.3,2140.9 494.4,2135.8 495.5,2131.5 496.6,2130.3 497.7,2132.8 498.8,2137.6 499.9,2142.1 501,2144.5 502.1,2143.9 503.2,2140.4 504.3,2134.9 505.4,2129.7 506.5,2127.6 507.6,2129.8 508.7,2135.1 509.8,2140.5 510.9,2143.8 512,2143.8 513.1,2140.5 514.2,2134.7 515.3,2128.8 516.4,2125.8 517.5,2127.5 518.6,2132.9 519.7,2139.2 520.8,2144.1 521.9,2146.9 523,2148.1" fill="none" stroke="#3ed43e" stroke-width="1.5"/>
<path d="M519.1,2148.5 520.2,2148.2 521.3,2147.3 522.4,2145.3 523.5,2141.9 524.6,2137.4 525.7,2133.6 526.8,2132.6 527.9,2134.8 529,2139 530.1,2143.3 531.2,2146.2 532.3,2147.8 533.4,2148.4Z" fill="#151515" fill-opacity="0.09"/>
<path d="M519.1,2148.5 520.2,2148.2 521.3,2147.3 522.4,2145.3 523.5,2141.9 524.6,2137.4 525.7,2133.6 526.8,2132.6 527.9,2134.8 529,2139 530.1,2143.3 531.2,2146.2 532.3,2147.8 533.4,2148.4" fill="none" stroke="#151515" stroke-width="1.5"/>
<path d="M529.2,2148.5 530.3,2148.1 531.4,2146.9 532.5,2144.3 533.6,2139.8 534.7,2134 535.8,2129.1 536.9,2127.7 538,2130.6 539.1,2136.1 540.2,2141.7 541.3,2145.5 542.4,2147.5 543.5,2148.3Z" fill="#e8343c" fill-opacity="0.09"/>
<path d="M529.2,2148.5 530.3,2148.1 531.4,2146.9 532.5,2144.3 533.6,2139.8 534.7,2134 535.8,2129.1 536.9,2127.7 538,2130.6 539.1,2136.1 540.2,2141.7 541.3,2145.5 542.4,2147.5 543.5,2148.3" fill="none" stroke="#e8343c" stroke-width="1.5"/>
<path d="M539.3,2148.4 540.4,2147.6 541.5,2145.4 542.6,2140.4 543.7,2131.7 544.8,2120.5 545.9,2111.1 547,2108.3 548.1,2113.9 549.2,2124.6 550.3,2135.3 551.4,2142.7 552.5,2146.5 553.6,2148Z" fill="#151515" fill-opacity="0.09"/>
<path d="M539.3,2148.4 540.4,2147.6 541.5,2145.4 542.6,2140.4 543.7,2131.7 544.8,2120.5 545.9,2111.1 547,2108.3 548.1,2113.9 549.2,2124.6 550.3,2135.3 551.4,2142.7 552.5,2146.5 553.6,2148" fill="none" stroke="#151515" stroke-width="1.5"/>
<path d="M549.3,2148.5 550.4,2148.1 551.5,2147 552.6,2144.4 553.7,2139.9 554.8,2134.2 555.9,2129.4 557,2128 558.1,2130.8 559.2,2136.2 560.3,2141.3 561.4,2144.1 562.5,2143.5 563.6,2139.8 564.7,2133.9 565.8,2128.3 566.9,2126.1 568,2128.5 569.1,2134.2 570.2,2140.3 571.3,2144.8 572.4,2147.2 573.5,2148.2Z" fill="#e8343c" fill-opacity="0.09"/>
<path d="M549.3,2148.5 550.4,2148.1 551.5,2147 552.6,2144.4 553.7,2139.9 554.8,2134.2 555.9,2129.4 557,2128 558.1,2130.8 559.2,2136.2 560.3,2141.3 561.4,2144.1 562.5,2143.5 563.6,2139.8 564.7,2133.9 565.8,2128.3 566.9,2126.1 568,2128.5 569.1,2134.2 570.2,2140.3 571.3,2144.8 572.4,2147.2 573.5,2148.2" fill="none" stroke="#e8343c" stroke-width="1.5"/>
<path d="M569.5,2148.5 570.6,2148.1 571.7,2146.9 572.8,2144.3 573.9,2139.6 575,2133.7 576.1,2128.7 577.2,2127.3 578.3,2130.2 579.4,2135.9 580.5,2141.5 581.6,2145.4 582.7,2147.5 583.8,2148.3Z" fill="#151515" fill-opacity="0.09"/>
<path d="M569.5,2148.5 570.6,2148.1 571.7,2146.9 572.8,2144.3 573.9,2139.6 575,2133.7 576.1,2128.7 577.2,2127.3 578.3,2130.2 579.4,2135.9 580.5,2141.5 581.6,2145.4 582.7,2147.5 583.8,2148.3" fill="none" stroke="#151515" stroke-width="1.5"/>
<path d="M579.6,2148.4 580.7,2147.8 581.8,2146 582.9,2142 584,2134.9 585.1,2125.8 586.2,2118.2 587.3,2116 588.4,2120.5 589.5,2129.2 590.6,2137.8 591.7,2143.8 592.8,2146.9 593.9,2148.1Z" fill="#3ed43e" fill-opacity="0.09"/>
<path d="M579.6,2148.4 580.7,2147.8 581.8,2146 582.9,2142 584,2134.9 585.1,2125.8 586.2,2118.2 587.3,2116 588.4,2120.5 589.5,2129.2 590.6,2137.8 591.7,2143.8 592.8,2146.9 593.9,2148.1" fill="none" stroke="#3ed43e" stroke-width="1.5"/>
<path d="M589.7,2148.5 590.8,2148 591.9,2146.8 593,2144 594.1,2139.1 595.2,2132.8 596.3,2127.5 597.4,2126 598.5,2129.1 599.6,2135.1 600.7,2141.1 601.8,2145.3 602.9,2147.4 604,2148.3Z" fill="#4664e6" fill-opacity="0.09"/>
<path d="M589.7,2148.5 590.8,2148 591.9,2146.8 593,2144 594.1,2139.1 595.2,2132.8 596.3,2127.5 597.4,2126 598.5,2129.1 599.6,2135.1 600.7,2141.1 601.8,2145.3 602.9,2147.4 604,2148.3" fill="none" stroke="#4664e6" stroke-width="1.5"/>
<path d="M599.7,2148.5 600.8,2148.2 601.9,2147.2 603,2145 604.1,2141.1 605.2,2136.1 606.3,2132 607.4,2130.8 608.5,2133.2 609.6,2138 610.7,2142.7 611.8,2146 612.9,2147.7 614,2148.3Z" fill="#3ed43e" fill-opacity="0.09"/>
<path d="M599.7,2148.5 600.8,2148.2 601.9,2147.2 603,2145 604.1,2141.1 605.2,2136.1 606.3,2132 607.4,2130.8 608.5,2133.2 609.6,2138 610.7,2142.7 611.8,2146 612.9,2147.7 614,2148.3" fill="none" stroke="#3ed43e" stroke-width="1.5"/>
<path d="M609.8,2148.4 610.9,2147.9 612,2146.3 613.1,2142.6 614.2,2136.2 615.3,2128 616.4,2121.1 617.5,2119.1 618.6,2123.2 619.7,2130.9 620.8,2138.3 621.9,2142.4 623,2142.2 624.1,2137.7 625.2,2130.5 626.3,2123.7 627.4,2120.9 628.5,2123.9 629.6,2130.8 630.7,2138 631.8,2142.6 632.9,2143.2 634,2140 635.1,2134.1 636.2,2128 637.3,2124.9 638.4,2126.6 639.5,2132.2 640.6,2138.6 641.7,2143 642.8,2144.1 643.9,2141.7 645,2136.8 646.1,2131.2 647.2,2127.8 648.3,2128.7 649.4,2133.2 650.5,2139.1 651.6,2143.9 652.7,2146.7 653.8,2148 654.9,2148.4Z" fill="#e8343c" fill-opacity="0.09"/>
<path d="M609.8,2148.4 610.9,2147.9 612,2146.3 613.1,2142.6 614.2,2136.2 615.3,2128 616.4,2121.1 617.5,2119.1 618.6,2123.2 619.7,2130.9 620.8,2138.3 621.9,2142.4 623,2142.2 624.1,2137.7 625.2,2130.5 626.3,2123.7 627.4,2120.9 628.5,2123.9 629.6,2130.8 630.7,2138 631.8,2142.6 632.9,2143.2 634,2140 635.1,2134.1 636.2,2128 637.3,2124.9 638.4,2126.6 639.5,2132.2 640.6,2138.6 641.7,2143 642.8,2144.1 643.9,2141.7 645,2136.8 646.1,2131.2 647.2,2127.8 648.3,2128.7 649.4,2133.2 650.5,2139.1 651.6,2143.9 652.7,2146.7 653.8,2148 654.9,2148.4" fill="none" stroke="#e8343c" stroke-width="1.5"/>
<path d="M650.2,2148.5 651.3,2148 652.4,2146.8 653.5,2144 654.6,2139.1 655.7,2132.8 656.8,2127.5 657.9,2126 659,2129.1 660.1,2135.1 661.2,2141.1 662.3,2145.3 663.4,2147.4 664.5,2148.3Z" fill="#4664e6" fill-opacity="0.09"/>
<path d="M650.2,2148.5 651.3,2148 652.4,2146.8 653.5,2144 654.6,2139.1 655.7,2132.8 656.8,2127.5 657.9,2126 659,2129.1 660.1,2135.1 661.2,2141.1 662.3,2145.3 663.4,2147.4 664.5,2148.3" fill="none" stroke="#4664e6" stroke-width="1.5"/>
<path d="M660.2,2148.5 661.3,2148.2 662.4,2147.4 663.5,2145.5 664.6,2142.1 665.7,2137.9 666.8,2134.3 667.9,2133.3 669,2135.4 670.1,2139.4 671.2,2143.1 672.3,2145.1 673.4,2144.5 674.5,2141.2 675.6,2136.3 676.7,2131.6 677.8,2129.7 678.9,2131.7 680,2136.4 681.1,2141.3 682.2,2144.2 683.3,2144.1 684.4,2140.8 685.5,2135.3 686.6,2129.6 687.7,2126.7 688.8,2128.4 689.9,2133.6 691,2139.6 692.1,2144.3 693.2,2146.9 694.3,2148.1Z" fill="#3ed43e" fill-opacity="0.09"/>
<path d="M660.2,2148.5 661.3,2148.2 662.4,2147.4 663.5,2145.5 664.6,2142.1 665.7,2137.9 666.8,2134.3 667.9,2133.3 669,2135.4 670.1,2139.4 671.2,2143.1 672.3,2145.1 673.4,2144.5 674.5,2141.2 675.6,2136.3 676.7,2131.6 677.8,2129.7 678.9,2131.7 680,2136.4 681.1,2141.3 682.2,2144.2 683.3,2144.1 684.4,2140.8 685.5,2135.3 686.6,2129.6 687.7,2126.7 688.8,2128.4 689.9,2133.6 691,2139.6 692.1,2144.3 693.2,2146.9 694.3,2148.1" fill="none" stroke="#3ed43e" stroke-width="1.5"/>
<path d="M690.5,2148.5 691.6,2148 692.7,2146.7 693.8,2143.8 694.9,2138.6 696,2132 697.1,2126.5 698.2,2124.9 699.3,2128.2 700.4,2134.5 701.5,2140.7 702.6,2145.1 703.7,2147.3 704.8,2148.2Z" fill="#e8343c" fill-opacity="0.09"/>
<path d="M690.5,2148.5 691.6,2148 692.7,2146.7 693.8,2143.8 694.9,2138.6 696,2132 697.1,2126.5 698.2,2124.9 699.3,2128.2 700.4,2134.5 701.5,2140.7 702.6,2145.1 703.7,2147.3 704.8,2148.2" fill="none" stroke="#e8343c" stroke-width="1.5"/>
<path d="M700.6,2148.4 701.7,2147.7 702.8,2145.6 703.9,2140.9 705,2132.7 706.1,2122.1 707.2,2113.3 708.3,2110.7 709.4,2116 710.5,2126 711.6,2136.1 712.7,2143 713.8,2146.6 714.9,2148Z" fill="#151515" fill-opacity="0.09"/>
<path d="M700.6,2148.4 701.7,2147.7 702.8,2145.6 703.9,2140.9 705,2132.7 706.1,2122.1 707.2,2113.3 708.3,2110.7 709.4,2116 710.5,2126 711.6,2136.1 712.7,2143 713.8,2146.6 714.9,2148" fill="none" stroke="#151515" stroke-width="1.5"/>
<path d="M710.6,2148.5 711.7,2148.1 712.8,2146.8 713.9,2144.1 715,2139.3 716.1,2133.1 717.2,2127.9 718.3,2126.4 719.4,2129.5 720.5,2135.4 721.6,2141.2 722.7,2145.3 723.8,2147.4 724.9,2148.3Z" fill="#4664e6" fill-opacity="0.09"/>
<path d="M710.6,2148.5 711.7,2148.1 712.8,2146.8 713.9,2144.1 715,2139.3 716.1,2133.1 717.2,2127.9 718.3,2126.4 719.4,2129.5 720.5,2135.4 721.6,2141.2 722.7,2145.3 723.8,2147.4 724.9,2148.3" fill="none" stroke="#4664e6" stroke-width="1.5"/>
<path d="M720.7,2148.5 721.8,2148.1 722.9,2146.9 724,2144.3 725.1,2139.8 726.2,2134 727.3,2129.1 728.4,2127.7 729.5,2130.6 730.6,2136.1 731.7,2141.7 732.8,2145.5 733.9,2147.5 735,2148.3Z" fill="#e8343c" fill-opacity="0.09"/>
<path d="M720.7,2148.5 721.8,2148.1 722.9,2146.9 724,2144.3 725.1,2139.8 726.2,2134 727.3,2129.1 728.4,2127.7 729.5,2130.6 730.6,2136.1 731.7,2141.7 732.8,2145.5 733.9,2147.5 735,2148.3" fill="none" stroke="#e8343c" stroke-width="1.5"/>
<path d="M730.8,2148.4 731.9,2148 733,2146.5 734.1,2143.3 735.2,2137.5 736.3,2130.2 737.4,2124.1 738.5,2122.3 739.6,2125.9 740.7,2132.9 741.8,2139.9 742.9,2144.7 744,2147.2 745.1,2148.2Z" fill="#4664e6" fill-opacity="0.09"/>
<path d="M730.8,2148.4 731.9,2148 733,2146.5 734.1,2143.3 735.2,2137.5 736.3,2130.2 737.4,2124.1 738.5,2122.3 739.6,2125.9 740.7,2132.9 741.8,2139.9 742.9,2144.7 744,2147.2 745.1,2148.2" fill="none" stroke="#4664e6" stroke-width="1.5"/>
<path d="M740.9,2148.5 742,2148.1 743.1,2147 744.2,2144.4 745.3,2140 746.4,2134.3 747.5,2129.5 748.6,2128.2 749.7,2131 750.8,2136.3 751.9,2141.4 753,2144.1 754.1,2143.5 755.2,2139.6 756.3,2133.6 757.4,2128 758.5,2125.7 759.6,2128.2 760.7,2133.9 761.8,2140.2 762.9,2144.7Z" fill="#e8343c" fill-opacity="0.09"/>
<path d="M740.9,2148.5 742,2148.1 743.1,2147 744.2,2144.4 745.3,2140 746.4,2134.3 747.5,2129.5 748.6,2128.2 749.7,2131 750.8,2136.3 751.9,2141.4 753,2144.1 754.1,2143.5 755.2,2139.6 756.3,2133.6 757.4,2128 758.5,2125.7 759.6,2128.2 760.7,2133.9 761.8,2140.2 762.9,2144.7" fill="none" stroke="#e8343c" stroke-width="1.5"/>
<line x1="481.3" y1="2148.6" x2="763.5" y2="2148.6" stroke="#222" stroke-width="1.8"/>
<text x="435.6" y="2189" text-anchor="middle" font-size="23"><tspan font-weight="bold" font-style="italic">Flt1</tspan> BS1 chr5:147451018-147451029 (+283864)</text>
<text x="22.5" y="2200.4" font-size="22">WT</text>
<text x="22.5" y="2227.3" font-size="22">MU</text>
<rect x="78" y="2224.6" width="685.5" height="60.1" fill="#fcfbf2"/>
<line x1="78" y1="2207.6" x2="763.5" y2="2207.6" stroke="#c8c8c8" stroke-width="1.6"/>
<line x1="158" y1="2225.6" x2="158" y2="2283.2" stroke="#b8b8b8" stroke-width="1" stroke-dasharray="1.5 2.5"/>
<line x1="253.5" y1="2225.6" x2="253.5" y2="2283.2" stroke="#b8b8b8" stroke-width="1" stroke-dasharray="1.5 2.5"/>
<line x1="348.4" y1="2225.6" x2="348.4" y2="2283.2" stroke="#b8b8b8" stroke-width="1" stroke-dasharray="1.5 2.5"/>
<line x1="443.8" y1="2225.6" x2="443.8" y2="2283.2" stroke="#b8b8b8" stroke-width="1" stroke-dasharray="1.5 2.5"/>
<line x1="538.2" y1="2225.6" x2="538.2" y2="2283.2" stroke="#b8b8b8" stroke-width="1" stroke-dasharray="1.5 2.5"/>
<line x1="635" y1="2225.6" x2="635" y2="2283.2" stroke="#b8b8b8" stroke-width="1" stroke-dasharray="1.5 2.5"/>
<line x1="730.9" y1="2225.6" x2="730.9" y2="2283.2" stroke="#b8b8b8" stroke-width="1" stroke-dasharray="1.5 2.5"/>
<text transform="scale(1.32,1)" x="62.7 69.9 77.1 84.3 91.5 98.8 106 113.2 120.4 127.6 134.8 142 149.3 156.5 163.7 170.9 178.1 185.3 192.5 199.7 207 214.2 221.4 228.6 235.8 243 250.2 257.4 264.7 271.9 279.1 286.3 293.5 300.7 307.9 315.1 322.4 329.6 336.8 344 351.2 358.4 365.6 372.8 380.1 387.3 394.5 401.7 408.9 416.1 423.3 430.5 437.8 445 452.2 459.4 466.6 473.8 481 488.2 495.5 502.7 509.9 517.1 524.3 531.5 538.7 546 553.2 560.4 567.6 574.8" y="2202.6" font-size="8.4" font-weight="bold" fill="#111" stroke="#111" stroke-width="0.3" text-anchor="middle">CAATGTTGAAAAAAATCTCTCATTCTCACTCAACAAATAGCTTGCTAACCTTCTCAGACAGCTAGCAGTACT</text>
<rect x="362.6" y="2213.7" width="115.7" height="10.4" fill="#f5a9b0" stroke="#e2505c" stroke-width="1.3"/>
<line x1="366.2" y1="2218.9" x2="370.6" y2="2218.9" stroke="#666" stroke-width="1.3"/>
<line x1="375.7" y1="2218.9" x2="380.1" y2="2218.9" stroke="#666" stroke-width="1.3"/>
<line x1="385.2" y1="2218.9" x2="389.6" y2="2218.9" stroke="#666" stroke-width="1.3"/>
<line x1="394.7" y1="2218.9" x2="399.1" y2="2218.9" stroke="#666" stroke-width="1.3"/>
<line x1="404.3" y1="2218.9" x2="408.7" y2="2218.9" stroke="#666" stroke-width="1.3"/>
<line x1="413.8" y1="2218.9" x2="418.2" y2="2218.9" stroke="#666" stroke-width="1.3"/>
<line x1="423.3" y1="2218.9" x2="427.7" y2="2218.9" stroke="#666" stroke-width="1.3"/>
<line x1="432.8" y1="2218.9" x2="437.2" y2="2218.9" stroke="#666" stroke-width="1.3"/>
<line x1="442.4" y1="2218.9" x2="446.8" y2="2218.9" stroke="#666" stroke-width="1.3"/>
<line x1="451.9" y1="2218.9" x2="456.3" y2="2218.9" stroke="#666" stroke-width="1.3"/>
<line x1="461.4" y1="2218.9" x2="465.8" y2="2218.9" stroke="#666" stroke-width="1.3"/>
<line x1="470.9" y1="2218.9" x2="475.3" y2="2218.9" stroke="#666" stroke-width="1.3"/>
<text transform="scale(1.32,1)" x="62.7 69.9 77.1 84.3 91.5 98.8 106 113.2 120.4 127.6 134.8 142 149.3 156.5 163.7 170.9 178.1 185.3 192.5 199.7 207 214.2 221.4 228.6 235.8 243 250.2 257.4 264.7 271.9 365.6 372.8 380.1 387.3 394.5 401.7 408.9 416.1 423.3 430.5 437.8 445 452.2 459.4 466.6 473.8 481 488.2 495.5 502.7 509.9 517.1 524.3 531.5 538.7 546 553.2 560.4 567.6 574.8" y="2221.5" font-size="8.4" font-weight="bold" fill="#222" stroke="#222" stroke-width="0.25" text-anchor="middle">CAATGTTGAAAAAAATCTCTCATTCTCACTTGCTAACCTTCTCAGACAGCTAGCAGTACT</text>
<path d="M77.8,2281.1 78.9,2278.1 80,2273.3 81.1,2267.7 82.2,2263.6 83.3,2263.5 84.4,2267.2 85.5,2272.8 86.6,2277.7 87.7,2280.9 88.8,2282.4 89.9,2283Z" fill="#4664e6" fill-opacity="0.09"/>
<path d="M77.8,2281.1 78.9,2278.1 80,2273.3 81.1,2267.7 82.2,2263.6 83.3,2263.5 84.4,2267.2 85.5,2272.8 86.6,2277.7 87.7,2280.9 88.8,2282.4 89.9,2283" fill="none" stroke="#4664e6" stroke-width="1.5"/>
<path d="M84.8,2283.1 85.9,2282.8 87,2282 88.1,2280.1 89.2,2276.8 90.3,2272.6 91.4,2269.1 92.5,2268 93.6,2270.1 94.7,2274 95.8,2277.5 96.9,2279 98,2277.6 99.1,2273.8 100.2,2269 101.3,2265.7 102.4,2265.8 103.5,2269.3 104.6,2274.3 105.7,2278.6 106.8,2281.3 107.9,2282.6 109,2283Z" fill="#3ed43e" fill-opacity="0.09"/>
<path d="M84.8,2283.1 85.9,2282.8 87,2282 88.1,2280.1 89.2,2276.8 90.3,2272.6 91.4,2269.1 92.5,2268 93.6,2270.1 94.7,2274 95.8,2277.5 96.9,2279 98,2277.6 99.1,2273.8 100.2,2269 101.3,2265.7 102.4,2265.8 103.5,2269.3 104.6,2274.3 105.7,2278.6 106.8,2281.3 107.9,2282.6 109,2283" fill="none" stroke="#3ed43e" stroke-width="1.5"/>
<path d="M103.8,2283 104.9,2282.6 106,2281.2 107.1,2278.1 108.2,2272.6 109.3,2265.5 110.4,2259.6 111.5,2257.9 112.6,2261.4 113.7,2268.1 114.8,2274.8 115.9,2279.5 117,2281.9 118.1,2282.8Z" fill="#e8343c" fill-opacity="0.09"/>
<path d="M103.8,2283 104.9,2282.6 106,2281.2 107.1,2278.1 108.2,2272.6 109.3,2265.5 110.4,2259.6 111.5,2257.9 112.6,2261.4 113.7,2268.1 114.8,2274.8 115.9,2279.5 117,2281.9 118.1,2282.8" fill="none" stroke="#e8343c" stroke-width="1.5"/>
<path d="M113.3,2282.9 114.4,2282.2 115.5,2279.9 116.6,2274.6 117.7,2265.5 118.8,2253.8 119.9,2243.9 121,2241.1 122.1,2246.9 123.2,2258.1 124.3,2269.2 125.4,2277 126.5,2281 127.6,2282.6Z" fill="#151515" fill-opacity="0.09"/>
<path d="M113.3,2282.9 114.4,2282.2 115.5,2279.9 116.6,2274.6 117.7,2265.5 118.8,2253.8 119.9,2243.9 121,2241.1 122.1,2246.9 123.2,2258.1 124.3,2269.2 125.4,2277 126.5,2281 127.6,2282.6" fill="none" stroke="#151515" stroke-width="1.5"/>
<path d="M122.9,2283.1 124,2282.7 125.1,2281.5 126.2,2278.7 127.3,2274 128.4,2267.9 129.5,2262.8 130.6,2261.3 131.7,2264.3 132.8,2269.9 133.9,2275.2 135,2277.6 136.1,2276.4 137.2,2272.1 138.3,2266.5 139.4,2262.6 140.5,2262.7 141.6,2266.9 142.7,2272.7 143.8,2277.8 144.9,2281 146,2282.5 147.1,2283Z" fill="#e8343c" fill-opacity="0.09"/>
<path d="M122.9,2283.1 124,2282.7 125.1,2281.5 126.2,2278.7 127.3,2274 128.4,2267.9 129.5,2262.8 130.6,2261.3 131.7,2264.3 132.8,2269.9 133.9,2275.2 135,2277.6 136.1,2276.4 137.2,2272.1 138.3,2266.5 139.4,2262.6 140.5,2262.7 141.6,2266.9 142.7,2272.7 143.8,2277.8 144.9,2281 146,2282.5 147.1,2283" fill="none" stroke="#e8343c" stroke-width="1.5"/>
<path d="M141.9,2283.1 143,2282.7 144.1,2281.6 145.2,2279 146.3,2274.6 147.4,2268.9 148.5,2264.1 149.6,2262.8 150.7,2265.6 151.8,2271 152.9,2276.4 154,2280.2 155.1,2282.1 156.2,2282.9Z" fill="#151515" fill-opacity="0.09"/>
<path d="M141.9,2283.1 143,2282.7 144.1,2281.6 145.2,2279 146.3,2274.6 147.4,2268.9 148.5,2264.1 149.6,2262.8 150.7,2265.6 151.8,2271 152.9,2276.4 154,2280.2 155.1,2282.1 156.2,2282.9" fill="none" stroke="#151515" stroke-width="1.5"/>
<path d="M151.4,2283 152.5,2282.4 153.6,2280.8 154.7,2276.9 155.8,2270.3 156.9,2261.7 158,2254.5 159.1,2252.4 160.2,2256.6 161.3,2264.6 162.4,2272.1 163.5,2276.1 164.6,2275.5 165.7,2271 166.8,2265 167.9,2260.8 169,2261 170.1,2265.4 171.2,2271.5 172.3,2276.1 173.4,2277.5 174.5,2275.1 175.6,2270 176.7,2264.5 177.8,2261.8 178.9,2263.5 180,2268.5 181.1,2274 182.2,2277.3 183.3,2277.1 184.4,2273.4 185.5,2267.7 186.6,2262.8 187.7,2261.5 188.8,2264.6 189.9,2270.2 191,2275.4 192.1,2277.7 193.2,2276.3 194.3,2271.9 195.4,2266.3 196.5,2262.5 197.6,2262.8 198.7,2267 199.8,2272.6 200.9,2276.7 202,2277.8 203.1,2275.3 204.2,2270.3 205.3,2265.2 206.4,2262.7 207.5,2264.4 208.6,2269.3 209.7,2274.4 210.8,2277.3 211.9,2276.5 213,2272 214.1,2265.5 215.2,2260 216.3,2258.8 217.4,2262.5 218.5,2269.1 219.6,2275.5 220.7,2279.8 221.8,2282 222.9,2282.9Z" fill="#3ed43e" fill-opacity="0.09"/>
<path d="M151.4,2283 152.5,2282.4 153.6,2280.8 154.7,2276.9 155.8,2270.3 156.9,2261.7 158,2254.5 159.1,2252.4 160.2,2256.6 161.3,2264.6 162.4,2272.1 163.5,2276.1 164.6,2275.5 165.7,2271 166.8,2265 167.9,2260.8 169,2261 170.1,2265.4 171.2,2271.5 172.3,2276.1 173.4,2277.5 174.5,2275.1 175.6,2270 176.7,2264.5 177.8,2261.8 178.9,2263.5 180,2268.5 181.1,2274 182.2,2277.3 183.3,2277.1 184.4,2273.4 185.5,2267.7 186.6,2262.8 187.7,2261.5 188.8,2264.6 189.9,2270.2 191,2275.4 192.1,2277.7 193.2,2276.3 194.3,2271.9 195.4,2266.3 196.5,2262.5 197.6,2262.8 198.7,2267 199.8,2272.6 200.9,2276.7 202,2277.8 203.1,2275.3 204.2,2270.3 205.3,2265.2 206.4,2262.7 207.5,2264.4 208.6,2269.3 209.7,2274.4 210.8,2277.3 211.9,2276.5 213,2272 214.1,2265.5 215.2,2260 216.3,2258.8 217.4,2262.5 218.5,2269.1 219.6,2275.5 220.7,2279.8 221.8,2282 222.9,2282.9" fill="none" stroke="#3ed43e" stroke-width="1.5"/>
<path d="M218.1,2283 219.2,2282.5 220.3,2280.9 221.4,2277.3 222.5,2271 223.6,2262.9 224.7,2256.2 225.8,2254.2 226.9,2258.2 228,2265.9 229.1,2273.6 230.2,2278.9 231.3,2281.7 232.4,2282.8Z" fill="#e8343c" fill-opacity="0.09"/>
<path d="M218.1,2283 219.2,2282.5 220.3,2280.9 221.4,2277.3 222.5,2271 223.6,2262.9 224.7,2256.2 225.8,2254.2 226.9,2258.2 228,2265.9 229.1,2273.6 230.2,2278.9 231.3,2281.7 232.4,2282.8" fill="none" stroke="#e8343c" stroke-width="1.5"/>
<path d="M227.6,2283 228.7,2282.6 229.8,2281.2 230.9,2278.1 232,2272.7 233.1,2265.8 234.2,2260 235.3,2258.3 236.4,2261.7 237.5,2268.4 238.6,2275 239.7,2279.5 240.8,2281.9 241.9,2282.8Z" fill="#4664e6" fill-opacity="0.09"/>
<path d="M227.6,2283 228.7,2282.6 229.8,2281.2 230.9,2278.1 232,2272.7 233.1,2265.8 234.2,2260 235.3,2258.3 236.4,2261.7 237.5,2268.4 238.6,2275 239.7,2279.5 240.8,2281.9 241.9,2282.8" fill="none" stroke="#4664e6" stroke-width="1.5"/>
<path d="M237.1,2283.1 238.2,2282.7 239.3,2281.5 240.4,2278.7 241.5,2274 242.6,2267.9 243.7,2262.8 244.8,2261.3 245.9,2264.3 247,2270.1 248.1,2275.9 249.2,2280 250.3,2282 251.4,2282.9Z" fill="#e8343c" fill-opacity="0.09"/>
<path d="M237.1,2283.1 238.2,2282.7 239.3,2281.5 240.4,2278.7 241.5,2274 242.6,2267.9 243.7,2262.8 244.8,2261.3 245.9,2264.3 247,2270.1 248.1,2275.9 249.2,2280 250.3,2282 251.4,2282.9" fill="none" stroke="#e8343c" stroke-width="1.5"/>
<path d="M246.6,2283 247.7,2282.6 248.8,2281.2 249.9,2278 251,2272.5 252.1,2265.4 253.2,2259.5 254.3,2257.8 255.4,2261.3 256.5,2268.1 257.6,2274.8 258.7,2279.4 259.8,2281.9 260.9,2282.8Z" fill="#4664e6" fill-opacity="0.09"/>
<path d="M246.6,2283 247.7,2282.6 248.8,2281.2 249.9,2278 251,2272.5 252.1,2265.4 253.2,2259.5 254.3,2257.8 255.4,2261.3 256.5,2268.1 257.6,2274.8 258.7,2279.4 259.8,2281.9 260.9,2282.8" fill="none" stroke="#4664e6" stroke-width="1.5"/>
<path d="M256.2,2283.1 257.3,2282.6 258.4,2281.4 259.5,2278.6 260.6,2273.6 261.7,2267.3 262.8,2261.9 263.9,2260.4 265,2263.5 266.1,2269.6 267.2,2275.6 268.3,2279.8 269.4,2282 270.5,2282.9Z" fill="#e8343c" fill-opacity="0.09"/>
<path d="M256.2,2283.1 257.3,2282.6 258.4,2281.4 259.5,2278.6 260.6,2273.6 261.7,2267.3 262.8,2261.9 263.9,2260.4 265,2263.5 266.1,2269.6 267.2,2275.6 268.3,2279.8 269.4,2282 270.5,2282.9" fill="none" stroke="#e8343c" stroke-width="1.5"/>
<path d="M265.7,2283.1 266.8,2282.6 267.9,2281.3 269,2278.4 270.1,2273.3 271.2,2266.8 272.3,2261.3 273.4,2259.7 274.5,2262.9 275.6,2269.2 276.7,2275.4 277.8,2279.7 278.9,2282 280,2282.8Z" fill="#4664e6" fill-opacity="0.09"/>
<path d="M265.7,2283.1 266.8,2282.6 267.9,2281.3 269,2278.4 270.1,2273.3 271.2,2266.8 272.3,2261.3 273.4,2259.7 274.5,2262.9 275.6,2269.2 276.7,2275.4 277.8,2279.7 278.9,2282 280,2282.8" fill="none" stroke="#4664e6" stroke-width="1.5"/>
<path d="M275.2,2283.1 276.3,2282.8 277.4,2281.8 278.5,2279.7 279.6,2276 280.7,2271.2 281.8,2267.1 282.9,2266 284,2268.4 285.1,2272.9 286.2,2277.5 287.3,2280.7 288.4,2282.3 289.5,2282.9Z" fill="#3ed43e" fill-opacity="0.09"/>
<path d="M275.2,2283.1 276.3,2282.8 277.4,2281.8 278.5,2279.7 279.6,2276 280.7,2271.2 281.8,2267.1 282.9,2266 284,2268.4 285.1,2272.9 286.2,2277.5 287.3,2280.7 288.4,2282.3 289.5,2282.9" fill="none" stroke="#3ed43e" stroke-width="1.5"/>
<path d="M284.7,2283 285.8,2282.6 286.9,2281.3 288,2278.2 289.1,2272.9 290.2,2266.1 291.3,2260.3 292.4,2258.7 293.5,2262 294.6,2268.3 295.7,2274 296.8,2276.3 297.9,2274 299,2267.6 300.1,2259.6 301.2,2254.1 302.3,2254.3 303.4,2260.1 304.5,2268.4 305.6,2275.6 306.7,2280 307.8,2282.2 308.9,2282.9Z" fill="#e8343c" fill-opacity="0.09"/>
<path d="M284.7,2283 285.8,2282.6 286.9,2281.3 288,2278.2 289.1,2272.9 290.2,2266.1 291.3,2260.3 292.4,2258.7 293.5,2262 294.6,2268.3 295.7,2274 296.8,2276.3 297.9,2274 299,2267.6 300.1,2259.6 301.2,2254.1 302.3,2254.3 303.4,2260.1 304.5,2268.4 305.6,2275.6 306.7,2280 307.8,2282.2 308.9,2282.9" fill="none" stroke="#e8343c" stroke-width="1.5"/>
<path d="M303.8,2283 304.9,2282.6 306,2281.2 307.1,2278 308.2,2272.3 309.3,2265.2 310.4,2259.1 311.5,2257.4 312.6,2261 313.7,2267.8 314.8,2274.7 315.9,2279.4 317,2281.8 318.1,2282.8Z" fill="#4664e6" fill-opacity="0.09"/>
<path d="M303.8,2283 304.9,2282.6 306,2281.2 307.1,2278 308.2,2272.3 309.3,2265.2 310.4,2259.1 311.5,2257.4 312.6,2261 313.7,2267.8 314.8,2274.7 315.9,2279.4 317,2281.8 318.1,2282.8" fill="none" stroke="#4664e6" stroke-width="1.5"/>
<path d="M313.3,2283.1 314.4,2282.7 315.5,2281.7 316.6,2279.2 317.7,2275 318.8,2269.6 319.9,2265 321,2263.7 322.1,2266.4 323.2,2271.6 324.3,2276.7 325.4,2280.3 326.5,2282.2 327.6,2282.9Z" fill="#e8343c" fill-opacity="0.09"/>
<path d="M313.3,2283.1 314.4,2282.7 315.5,2281.7 316.6,2279.2 317.7,2275 318.8,2269.6 319.9,2265 321,2263.7 322.1,2266.4 323.2,2271.6 324.3,2276.7 325.4,2280.3 326.5,2282.2 327.6,2282.9" fill="none" stroke="#e8343c" stroke-width="1.5"/>
<path d="M322.8,2283.1 323.9,2282.6 325,2281.3 326.1,2278.3 327.2,2273.1 328.3,2266.4 329.4,2260.8 330.5,2259.2 331.6,2262.5 332.7,2268.9 333.8,2275.3 334.9,2279.7 336,2281.9 337.1,2282.8Z" fill="#4664e6" fill-opacity="0.09"/>
<path d="M322.8,2283.1 323.9,2282.6 325,2281.3 326.1,2278.3 327.2,2273.1 328.3,2266.4 329.4,2260.8 330.5,2259.2 331.6,2262.5 332.7,2268.9 333.8,2275.3 334.9,2279.7 336,2281.9 337.1,2282.8" fill="none" stroke="#4664e6" stroke-width="1.5"/>
<path d="M332.3,2283.1 333.4,2282.8 334.5,2281.9 335.6,2279.7 336.7,2276 337.8,2271.3 338.9,2267.3 340,2266.2 341.1,2268.5 342.2,2273 343.3,2277.6 344.4,2280.7 345.5,2282.3 346.6,2282.9Z" fill="#3ed43e" fill-opacity="0.09"/>
<path d="M332.3,2283.1 333.4,2282.8 334.5,2281.9 335.6,2279.7 336.7,2276 337.8,2271.3 338.9,2267.3 340,2266.2 341.1,2268.5 342.2,2273 343.3,2277.6 344.4,2280.7 345.5,2282.3 346.6,2282.9" fill="none" stroke="#3ed43e" stroke-width="1.5"/>
<path d="M341.8,2283.1 342.9,2282.7 344,2281.5 345.1,2278.8 346.2,2274.1 347.3,2268 348.4,2262.9 349.5,2261.5 350.6,2264.5 351.7,2270.3 352.8,2276 353.9,2280 355,2282 356.1,2282.9Z" fill="#4664e6" fill-opacity="0.09"/>
<path d="M341.8,2283.1 342.9,2282.7 344,2281.5 345.1,2278.8 346.2,2274.1 347.3,2268 348.4,2262.9 349.5,2261.5 350.6,2264.5 351.7,2270.3 352.8,2276 353.9,2280 355,2282 356.1,2282.9" fill="none" stroke="#4664e6" stroke-width="1.5"/>
<path d="M351.4,2283 352.5,2282.6 353.6,2281.2 354.7,2278.1 355.8,2272.7 356.9,2265.8 358,2260 359.1,2258.3 360.2,2261.7 361.3,2268.4 362.4,2275 363.5,2279.5Z" fill="#e8343c" fill-opacity="0.09"/>
<path d="M351.4,2283 352.5,2282.6 353.6,2281.2 354.7,2278.1 355.8,2272.7 356.9,2265.8 358,2260 359.1,2258.3 360.2,2261.7 361.3,2268.4 362.4,2275 363.5,2279.5" fill="none" stroke="#e8343c" stroke-width="1.5"/>
<line x1="77.8" y1="2283.2" x2="363.9" y2="2283.2" stroke="#222" stroke-width="1.8"/>
<path d="M477.6,2280.2 478.7,2276 479.8,2269.1 480.9,2261.2 482,2255.5 483.1,2255.2 484.2,2260.5 485.3,2268.4 486.4,2275.5 487.5,2279.9 488.6,2282.1 489.7,2282.9Z" fill="#e8343c" fill-opacity="0.09"/>
<path d="M477.6,2280.2 478.7,2276 479.8,2269.1 480.9,2261.2 482,2255.5 483.1,2255.2 484.2,2260.5 485.3,2268.4 486.4,2275.5 487.5,2279.9 488.6,2282.1 489.7,2282.9" fill="none" stroke="#e8343c" stroke-width="1.5"/>
<path d="M484.7,2283 485.8,2282.4 486.9,2280.7 488,2276.8 489.1,2270 490.2,2261.2 491.3,2253.8 492.4,2251.7 493.5,2256.1 494.6,2264.4 495.7,2272.8 496.8,2278.5 497.9,2281.5 499,2282.7Z" fill="#151515" fill-opacity="0.09"/>
<path d="M484.7,2283 485.8,2282.4 486.9,2280.7 488,2276.8 489.1,2270 490.2,2261.2 491.3,2253.8 492.4,2251.7 493.5,2256.1 494.6,2264.4 495.7,2272.8 496.8,2278.5 497.9,2281.5 499,2282.7" fill="none" stroke="#151515" stroke-width="1.5"/>
<path d="M494.2,2283.1 495.3,2282.6 496.4,2281.4 497.5,2278.6 498.6,2273.7 499.7,2267.4 500.8,2262.1 501.9,2260.6 503,2263.7 504.1,2269.7 505.2,2275.7 506.3,2279.9 507.4,2282 508.5,2282.9Z" fill="#4664e6" fill-opacity="0.09"/>
<path d="M494.2,2283.1 495.3,2282.6 496.4,2281.4 497.5,2278.6 498.6,2273.7 499.7,2267.4 500.8,2262.1 501.9,2260.6 503,2263.7 504.1,2269.7 505.2,2275.7 506.3,2279.9 507.4,2282 508.5,2282.9" fill="none" stroke="#4664e6" stroke-width="1.5"/>
<path d="M503.7,2283.1 504.8,2282.7 505.9,2281.5 507,2278.9 508.1,2274.2 509.2,2268.3 510.3,2263.3 511.4,2261.9 512.5,2264.8 513.6,2270.5 514.7,2276.1 515.8,2280 516.9,2282.1 518,2282.9Z" fill="#e8343c" fill-opacity="0.09"/>
<path d="M503.7,2283.1 504.8,2282.7 505.9,2281.5 507,2278.9 508.1,2274.2 509.2,2268.3 510.3,2263.3 511.4,2261.9 512.5,2264.8 513.6,2270.5 514.7,2276.1 515.8,2280 516.9,2282.1 518,2282.9" fill="none" stroke="#e8343c" stroke-width="1.5"/>
<path d="M513.2,2283.1 514.3,2282.7 515.4,2281.4 516.5,2278.7 517.6,2273.9 518.7,2267.7 519.8,2262.5 520.9,2261 522,2264 523.1,2269.8 524.2,2275.1 525.3,2277.7 526.4,2276.6 527.5,2272.5 528.6,2267.2 529.7,2263.5 530.8,2263.6 531.9,2267.6 533,2273.2 534.1,2278 535.2,2281.1 536.3,2282.5 537.4,2283Z" fill="#3ed43e" fill-opacity="0.09"/>
<path d="M513.2,2283.1 514.3,2282.7 515.4,2281.4 516.5,2278.7 517.6,2273.9 518.7,2267.7 519.8,2262.5 520.9,2261 522,2264 523.1,2269.8 524.2,2275.1 525.3,2277.7 526.4,2276.6 527.5,2272.5 528.6,2267.2 529.7,2263.5 530.8,2263.6 531.9,2267.6 533,2273.2 534.1,2278 535.2,2281.1 536.3,2282.5 537.4,2283" fill="none" stroke="#3ed43e" stroke-width="1.5"/>
<path d="M532.3,2283.1 533.4,2282.7 534.5,2281.6 535.6,2279 536.7,2274.4 537.8,2268.6 538.9,2263.8 540,2262.4 541.1,2265.2 542.2,2270.6 543.3,2275.4 544.4,2277.5 545.5,2275.9 546.6,2271 547.7,2264.8 548.8,2260.5 549.9,2260.7 551,2265.2 552.1,2271.7 553.2,2277.3 554.3,2280.7 555.4,2282.4 556.5,2283Z" fill="#4664e6" fill-opacity="0.09"/>
<path d="M532.3,2283.1 533.4,2282.7 534.5,2281.6 535.6,2279 536.7,2274.4 537.8,2268.6 538.9,2263.8 540,2262.4 541.1,2265.2 542.2,2270.6 543.3,2275.4 544.4,2277.5 545.5,2275.9 546.6,2271 547.7,2264.8 548.8,2260.5 549.9,2260.7 551,2265.2 552.1,2271.7 553.2,2277.3 554.3,2280.7 555.4,2282.4 556.5,2283" fill="none" stroke="#4664e6" stroke-width="1.5"/>
<path d="M551.3,2283.1 552.4,2282.6 553.5,2281.3 554.6,2278.4 555.7,2273.2 556.8,2266.6 557.9,2261.1 559,2259.5 560.1,2262.7 561.2,2268.8 562.3,2274.3 563.4,2276.6 564.5,2274.6 565.6,2268.8 566.7,2261.4 567.8,2256.4 568.9,2256.5 570,2261.9 571.1,2269.5 572.2,2276.2 573.3,2280.3 574.4,2282.2 575.5,2282.9Z" fill="#e8343c" fill-opacity="0.09"/>
<path d="M551.3,2283.1 552.4,2282.6 553.5,2281.3 554.6,2278.4 555.7,2273.2 556.8,2266.6 557.9,2261.1 559,2259.5 560.1,2262.7 561.2,2268.8 562.3,2274.3 563.4,2276.6 564.5,2274.6 565.6,2268.8 566.7,2261.4 567.8,2256.4 568.9,2256.5 570,2261.9 571.1,2269.5 572.2,2276.2 573.3,2280.3 574.4,2282.2 575.5,2282.9" fill="none" stroke="#e8343c" stroke-width="1.5"/>
<path d="M570.3,2283.1 571.4,2282.6 572.5,2281.3 573.6,2278.3 574.7,2273.1 575.8,2266.4 576.9,2260.8 578,2259.2 579.1,2262.5 580.2,2268.9 581.3,2275.3 582.4,2279.7 583.5,2281.9 584.6,2282.8Z" fill="#4664e6" fill-opacity="0.09"/>
<path d="M570.3,2283.1 571.4,2282.6 572.5,2281.3 573.6,2278.3 574.7,2273.1 575.8,2266.4 576.9,2260.8 578,2259.2 579.1,2262.5 580.2,2268.9 581.3,2275.3 582.4,2279.7 583.5,2281.9 584.6,2282.8" fill="none" stroke="#4664e6" stroke-width="1.5"/>
<path d="M579.9,2283.1 581,2282.7 582.1,2281.6 583.2,2279.1 584.3,2274.7 585.4,2269.1 586.5,2264.4 587.6,2263.1 588.7,2265.9 589.8,2271.2 590.9,2276.5 592,2280.2 593.1,2282.1 594.2,2282.9Z" fill="#e8343c" fill-opacity="0.09"/>
<path d="M579.9,2283.1 581,2282.7 582.1,2281.6 583.2,2279.1 584.3,2274.7 585.4,2269.1 586.5,2264.4 587.6,2263.1 588.7,2265.9 589.8,2271.2 590.9,2276.5 592,2280.2 593.1,2282.1 594.2,2282.9" fill="none" stroke="#e8343c" stroke-width="1.5"/>
<path d="M589.4,2283 590.5,2282.6 591.6,2281.3 592.7,2278.2 593.8,2272.9 594.9,2266.1 596,2260.3 597.1,2258.7 598.2,2262.1 599.3,2268.6 600.4,2275.1 601.5,2279.6 602.6,2281.9 603.7,2282.8Z" fill="#4664e6" fill-opacity="0.09"/>
<path d="M589.4,2283 590.5,2282.6 591.6,2281.3 592.7,2278.2 593.8,2272.9 594.9,2266.1 596,2260.3 597.1,2258.7 598.2,2262.1 599.3,2268.6 600.4,2275.1 601.5,2279.6 602.6,2281.9 603.7,2282.8" fill="none" stroke="#4664e6" stroke-width="1.5"/>
<path d="M598.9,2283.1 600,2282.7 601.1,2281.8 602.2,2279.5 603.3,2275.5 604.4,2270.4 605.5,2266.1 606.6,2264.9 607.7,2267.4 608.8,2272.3 609.9,2277.1 611,2280.5 612.1,2282.2 613.2,2282.9Z" fill="#3ed43e" fill-opacity="0.09"/>
<path d="M598.9,2283.1 600,2282.7 601.1,2281.8 602.2,2279.5 603.3,2275.5 604.4,2270.4 605.5,2266.1 606.6,2264.9 607.7,2267.4 608.8,2272.3 609.9,2277.1 611,2280.5 612.1,2282.2 613.2,2282.9" fill="none" stroke="#3ed43e" stroke-width="1.5"/>
<path d="M608.4,2283.1 609.5,2282.9 610.6,2282.3 611.7,2280.9 612.8,2278.3 613.9,2275.1 615,2272.4 616.1,2271.6 617.2,2273.2 618.3,2276.3 619.4,2279.4 620.5,2281.5 621.6,2282.6 622.7,2283Z" fill="#151515" fill-opacity="0.09"/>
<path d="M608.4,2283.1 609.5,2282.9 610.6,2282.3 611.7,2280.9 612.8,2278.3 613.9,2275.1 615,2272.4 616.1,2271.6 617.2,2273.2 618.3,2276.3 619.4,2279.4 620.5,2281.5 621.6,2282.6 622.7,2283" fill="none" stroke="#151515" stroke-width="1.5"/>
<path d="M617.9,2282.9 619,2281.9 620.1,2279.1 621.2,2272.6 622.3,2261.3 623.4,2246.8 624.5,2234.6 625.6,2231.1 626.7,2238.3 627.8,2252.2 628.9,2265.9 630,2275.5 631.1,2280.4 632.2,2282.4Z" fill="#3ed43e" fill-opacity="0.09"/>
<path d="M617.9,2282.9 619,2281.9 620.1,2279.1 621.2,2272.6 622.3,2261.3 623.4,2246.8 624.5,2234.6 625.6,2231.1 626.7,2238.3 627.8,2252.2 628.9,2265.9 630,2275.5 631.1,2280.4 632.2,2282.4" fill="none" stroke="#3ed43e" stroke-width="1.5"/>
<path d="M627.5,2283.1 628.6,2282.7 629.7,2281.4 630.8,2278.7 631.9,2273.9 633,2267.7 634.1,2262.5 635.2,2261 636.3,2264.1 637.4,2270 638.5,2275.8 639.6,2279.9 640.7,2282 641.8,2282.9Z" fill="#4664e6" fill-opacity="0.09"/>
<path d="M627.5,2283.1 628.6,2282.7 629.7,2281.4 630.8,2278.7 631.9,2273.9 633,2267.7 634.1,2262.5 635.2,2261 636.3,2264.1 637.4,2270 638.5,2275.8 639.6,2279.9 640.7,2282 641.8,2282.9" fill="none" stroke="#4664e6" stroke-width="1.5"/>
<path d="M637,2283.1 638.1,2282.7 639.2,2281.6 640.3,2279.2 641.4,2274.8 642.5,2269.3 643.6,2264.6 644.7,2263.3 645.8,2266 646.9,2271.3 648,2276.6 649.1,2280.3 650.2,2282.1 651.3,2282.9Z" fill="#3ed43e" fill-opacity="0.09"/>
<path d="M637,2283.1 638.1,2282.7 639.2,2281.6 640.3,2279.2 641.4,2274.8 642.5,2269.3 643.6,2264.6 644.7,2263.3 645.8,2266 646.9,2271.3 648,2276.6 649.1,2280.3 650.2,2282.1 651.3,2282.9" fill="none" stroke="#3ed43e" stroke-width="1.5"/>
<path d="M646.5,2283.1 647.6,2282.7 648.7,2281.6 649.8,2279 650.9,2274.6 652,2268.9 653.1,2264.1 654.2,2262.8 655.3,2265.6 656.4,2271 657.5,2276.4 658.6,2280.2 659.7,2282.1 660.8,2282.9Z" fill="#151515" fill-opacity="0.09"/>
<path d="M646.5,2283.1 647.6,2282.7 648.7,2281.6 649.8,2279 650.9,2274.6 652,2268.9 653.1,2264.1 654.2,2262.8 655.3,2265.6 656.4,2271 657.5,2276.4 658.6,2280.2 659.7,2282.1 660.8,2282.9" fill="none" stroke="#151515" stroke-width="1.5"/>
<path d="M656,2283 657.1,2282.6 658.2,2281.1 659.3,2277.9 660.4,2272.1 661.5,2264.8 662.6,2258.7 663.7,2256.9 664.8,2260.5 665.9,2267.5 667,2274.5 668.1,2279.3 669.2,2281.8 670.3,2282.8Z" fill="#4664e6" fill-opacity="0.09"/>
<path d="M656,2283 657.1,2282.6 658.2,2281.1 659.3,2277.9 660.4,2272.1 661.5,2264.8 662.6,2258.7 663.7,2256.9 664.8,2260.5 665.9,2267.5 667,2274.5 668.1,2279.3 669.2,2281.8 670.3,2282.8" fill="none" stroke="#4664e6" stroke-width="1.5"/>
<path d="M665.6,2283 666.7,2282.5 667.8,2280.9 668.9,2277.2 670,2270.8 671.1,2262.7 672.2,2255.8 673.3,2253.8 674.4,2257.9 675.5,2265.7 676.6,2273.5 677.7,2278.9 678.8,2281.6 679.9,2282.8Z" fill="#e8343c" fill-opacity="0.09"/>
<path d="M665.6,2283 666.7,2282.5 667.8,2280.9 668.9,2277.2 670,2270.8 671.1,2262.7 672.2,2255.8 673.3,2253.8 674.4,2257.9 675.5,2265.7 676.6,2273.5 677.7,2278.9 678.8,2281.6 679.9,2282.8" fill="none" stroke="#e8343c" stroke-width="1.5"/>
<path d="M675.1,2283 676.2,2282.5 677.3,2281 678.4,2277.4 679.5,2271.2 680.6,2263.3 681.7,2256.6 682.8,2254.7 683.9,2258.7 685,2266.2 686.1,2273.8 687.2,2279 688.3,2281.7 689.4,2282.8Z" fill="#3ed43e" fill-opacity="0.09"/>
<path d="M675.1,2283 676.2,2282.5 677.3,2281 678.4,2277.4 679.5,2271.2 680.6,2263.3 681.7,2256.6 682.8,2254.7 683.9,2258.7 685,2266.2 686.1,2273.8 687.2,2279 688.3,2281.7 689.4,2282.8" fill="none" stroke="#3ed43e" stroke-width="1.5"/>
<path d="M684.6,2283.1 685.7,2282.8 686.8,2281.9 687.9,2279.9 689,2276.3 690.1,2271.8 691.2,2268 692.3,2266.9 693.4,2269.1 694.5,2273.5 695.6,2277.8 696.7,2280.8 697.8,2282.3 698.9,2283Z" fill="#151515" fill-opacity="0.09"/>
<path d="M684.6,2283.1 685.7,2282.8 686.8,2281.9 687.9,2279.9 689,2276.3 690.1,2271.8 691.2,2268 692.3,2266.9 693.4,2269.1 694.5,2273.5 695.6,2277.8 696.7,2280.8 697.8,2282.3 698.9,2283" fill="none" stroke="#151515" stroke-width="1.5"/>
<path d="M694.1,2283 695.2,2282.6 696.3,2281.3 697.4,2278.2 698.5,2272.8 699.6,2265.9 700.7,2260.2 701.8,2258.5 702.9,2261.9 704,2268.5 705.1,2275 706.2,2279.5 707.3,2281.9 708.4,2282.8Z" fill="#4664e6" fill-opacity="0.09"/>
<path d="M694.1,2283 695.2,2282.6 696.3,2281.3 697.4,2278.2 698.5,2272.8 699.6,2265.9 700.7,2260.2 701.8,2258.5 702.9,2261.9 704,2268.5 705.1,2275 706.2,2279.5 707.3,2281.9 708.4,2282.8" fill="none" stroke="#4664e6" stroke-width="1.5"/>
<path d="M703.6,2283.1 704.7,2282.6 705.8,2281.4 706.9,2278.6 708,2273.8 709.1,2267.5 710.2,2262.3 711.3,2260.8 712.4,2263.9 713.5,2269.8 714.6,2275.8 715.7,2279.9 716.8,2282 717.9,2282.9Z" fill="#3ed43e" fill-opacity="0.09"/>
<path d="M703.6,2283.1 704.7,2282.6 705.8,2281.4 706.9,2278.6 708,2273.8 709.1,2267.5 710.2,2262.3 711.3,2260.8 712.4,2263.9 713.5,2269.8 714.6,2275.8 715.7,2279.9 716.8,2282 717.9,2282.9" fill="none" stroke="#3ed43e" stroke-width="1.5"/>
<path d="M713.2,2283.1 714.3,2282.9 715.4,2282.2 716.5,2280.7 717.6,2278 718.7,2274.5 719.8,2271.6 720.9,2270.7 722,2272.5 723.1,2275.8 724.2,2279.1 725.3,2281.4 726.4,2282.5 727.5,2283Z" fill="#151515" fill-opacity="0.09"/>
<path d="M713.2,2283.1 714.3,2282.9 715.4,2282.2 716.5,2280.7 717.6,2278 718.7,2274.5 719.8,2271.6 720.9,2270.7 722,2272.5 723.1,2275.8 724.2,2279.1 725.3,2281.4 726.4,2282.5 727.5,2283" fill="none" stroke="#151515" stroke-width="1.5"/>
<path d="M722.7,2283.1 723.8,2282.7 724.9,2281.6 726,2279.1 727.1,2274.7 728.2,2269.1 729.3,2264.4 730.4,2263.1 731.5,2265.9 732.6,2271.2 733.7,2276.5 734.8,2280.2 735.9,2282.1 737,2282.9Z" fill="#e8343c" fill-opacity="0.09"/>
<path d="M722.7,2283.1 723.8,2282.7 724.9,2281.6 726,2279.1 727.1,2274.7 728.2,2269.1 729.3,2264.4 730.4,2263.1 731.5,2265.9 732.6,2271.2 733.7,2276.5 734.8,2280.2 735.9,2282.1 737,2282.9" fill="none" stroke="#e8343c" stroke-width="1.5"/>
<path d="M732.2,2283 733.3,2282.5 734.4,2281.1 735.5,2277.7 736.6,2271.8 737.7,2264.3 738.8,2258 739.9,2256.2 741,2259.9 742.1,2267.1 743.2,2274.3 744.3,2279.2 745.4,2281.8 746.5,2282.8Z" fill="#3ed43e" fill-opacity="0.09"/>
<path d="M732.2,2283 733.3,2282.5 734.4,2281.1 735.5,2277.7 736.6,2271.8 737.7,2264.3 738.8,2258 739.9,2256.2 741,2259.9 742.1,2267.1 743.2,2274.3 744.3,2279.2 745.4,2281.8 746.5,2282.8" fill="none" stroke="#3ed43e" stroke-width="1.5"/>
<path d="M741.7,2283.1 742.8,2282.7 743.9,2281.5 745,2278.8 746.1,2274.1 747.2,2268 748.3,2262.9 749.4,2261.5 750.5,2264.5 751.6,2270.3 752.7,2276 753.8,2280 754.9,2282 756,2282.9Z" fill="#4664e6" fill-opacity="0.09"/>
<path d="M741.7,2283.1 742.8,2282.7 743.9,2281.5 745,2278.8 746.1,2274.1 747.2,2268 748.3,2262.9 749.4,2261.5 750.5,2264.5 751.6,2270.3 752.7,2276 753.8,2280 754.9,2282 756,2282.9" fill="none" stroke="#4664e6" stroke-width="1.5"/>
<path d="M751.2,2283 752.3,2282.6 753.4,2281.2 754.5,2278 755.6,2272.5 756.7,2265.4 757.8,2259.5 758.9,2257.8 760,2261.3 761.1,2268.1 762.2,2274.8 763.3,2279.4Z" fill="#e8343c" fill-opacity="0.09"/>
<path d="M751.2,2283 752.3,2282.6 753.4,2281.2 754.5,2278 755.6,2272.5 756.7,2265.4 757.8,2259.5 758.9,2257.8 760,2261.3 761.1,2268.1 762.2,2274.8 763.3,2279.4" fill="none" stroke="#e8343c" stroke-width="1.5"/>
<line x1="477.6" y1="2283.2" x2="763.7" y2="2283.2" stroke="#222" stroke-width="1.8"/>
<text x="863" y="1742.4" font-weight="bold" font-size="36">e</text>
<text x="1043.4" y="1784.6" text-anchor="middle" font-size="23">dCas9-KRAB in MEF2D-</text>
<text x="1043.4" y="1811.2" text-anchor="middle" font-size="23">overexpressing AML12 cells</text>
<rect x="906.6" y="1832.7" width="282.1" height="345.3" fill="none" stroke="#e0782f" stroke-width="2.6" rx="38"/>
<rect x="939.3" y="1864.2" width="219.8" height="53.2" fill="#5078d0" stroke="#1b2b52" stroke-width="2.5" rx="8"/>
<text x="1049.4" y="1899.6" text-anchor="middle" fill="#ffffff" font-size="23">dCas9-KRAB</text>
<text x="950.9" y="1960.1" font-size="23">sgRNA</text>
<line x1="1036.1" y1="1934.4" x2="1036.1" y2="1967.6" stroke="#000" stroke-width="2.6"/>
<line x1="1026" y1="1967.6" x2="1045.8" y2="1967.6" stroke="#000" stroke-width="2.6"/>
<text x="1045.3" y="2007.3" text-anchor="middle" font-size="23">BS of MEF2D</text>
<rect x="925.3" y="2015.3" width="238.3" height="84" fill="#f8f8f8"/>
<path d="M926.1,2057.2 V2057.2 H926.1 V2047.1 H927.4 V2046.6 H928.3 V2057.2 H928.3 V2054.2 H929.6 V2054.2 H930.9 V2054.2 H932.2 V2054.2 H933.5 V2054.2 H934.8 V2054.2 H936.1 V2054.2 H936.6 V2057.2 H936.6 V2047 H937.9 V2046.4 H939.2 V2047.2 H940.4 V2057.2 H940.4 V2038.3 H941.7 V2044.6 H942.7 V2057.2 H942.7 V2044.2 H944 V2041.4 H945.3 V2043.1 H945.7 V2057.2 H945.7 V2047.7 H947 V2050.5 H948.3 V2049.2 H949.6 V2050 H950.9 V2048.9 H952.2 V2048.8 H953.5 V2050.9 H953.6 V2057.2 H957.8 V2053.3 H959.1 V2053.1 H960.4 V2051.9 H961.7 V2052.2 H962.4 V2057.2 H962.4 V2047.5 H963.7 V2044.3 H965 V2047.6 H965.4 V2057.2 H965.4 V2048.3 H966.7 V2050.1 H968 V2050.6 H969.3 V2047.3 H970.6 V2049.8 H970.7 V2057.2 H970.7 V2047.2 H972 V2043.3 H973.3 V2043.9 H974.6 V2046.8 H975.2 V2057.2 H975.2 V2046.4 H976.5 V2048 H977.8 V2047.5 H978.3 V2057.2 H978.3 V2037.8 H979.6 V2030.5 H980.5 V2057.2 H980.5 V2046.5 H981.8 V2045.2 H983.1 V2045.6 H984.4 V2048.2 H985.1 V2057.2 H985.1 V2042.3 H986.4 V2043.6 H987.3 V2057.2 H987.3 V2047.8 H988.6 V2048.2 H989.9 V2047 H990.4 V2057.2 H990.4 V2038.4 H991.7 V2043.2 H993 V2037.8 H994.2 V2057.2 H994.2 V2036.7 H995.5 V2037 H996.8 V2032 H997.9 V2057.2 H997.9 V2055.2 H999.2 V2055.2 H1000.5 V2057.2 H1001 V2050.1 H1002.3 V2050.6 H1003.6 V2050.1 H1004.7 V2057.2 H1004.7 V2037.6 H1006 V2042.7 H1007.3 V2035.4 H1008.6 V2043 H1009.6 V2057.2 H1009.6 V2022.8 H1010.9 V2021.5 H1012.2 V2032.9 H1013.5 V2022.3 H1014.1 V2057.2 H1014.1 V2032.7 H1015.4 V2030.2 H1016.7 V2036.8 H1016.9 V2057.2 H1016.9 V2043.9 H1018.2 V2042.9 H1019.5 V2037.2 H1020.8 V2042.8 H1022.1 V2038.7 H1022.9 V2057.2 H1022.9 V2025.7 H1024.2 V2025.5 H1025.5 V2032.6 H1025.9 V2057.2 H1025.9 V2038.5 H1027.2 V2037 H1028.5 V2034.8 H1029.8 V2040.7 H1031.1 V2035 H1032 V2057.2 H1032 V2046 H1033.3 V2045.7 H1034.6 V2049.3 H1035 V2057.2 H1035 V2040.6 H1036.3 V2045.9 H1037.6 V2044.3 H1038.9 V2042.7 H1039.6 V2057.2 H1039.6 V2030.7 H1040.9 V2036.5 H1041.8 V2057.2 H1041.8 V2035.8 H1043.1 V2038.8 H1044.4 V2040.7 H1044.8 V2057.2 H1044.8 V2030.1 H1046.1 V2031.9 H1047.1 V2057.2 H1047.1 V2042.6 H1048.4 V2042 H1049.7 V2037.7 H1051 V2035.2 H1051.7 V2057.2 H1051.7 V2038.2 H1053 V2039.4 H1053.9 V2057.2 H1053.9 V2048.4 H1055.2 V2049.9 H1056.5 V2050.3 H1057.7 V2057.2 H1057.7 V2043.1 H1059 V2040.6 H1060.3 V2039 H1061.6 V2041.6 H1062.3 V2057.2 H1062.3 V2043.8 H1063.6 V2046.1 H1064.9 V2040.8 H1066.2 V2046.2 H1066.8 V2057.2 H1066.8 V2039.3 H1068.1 V2036.5 H1069.4 V2042.2 H1069.8 V2057.2 H1069.8 V2039.6 H1071.1 V2038.1 H1072.4 V2040.3 H1073.7 V2039.2 H1075 V2044.1 H1075.9 V2057.2 H1075.9 V2057.2 H1077.1 V2057.2 H1077.1 V2044.1 H1078.4 V2045.8 H1078.9 V2057.2 H1078.9 V2031.8 H1080.2 V2037.2 H1081.5 V2035.6 H1081.9 V2057.2 H1081.9 V2035.2 H1083.2 V2036.4 H1084.5 V2035.4 H1085.8 V2039.6 H1086.5 V2057.2 H1086.5 V2024.1 H1087.8 V2020.5 H1089.1 V2024.2 H1090.4 V2027 H1091 V2057.2 H1091 V2043.9 H1092.3 V2045.5 H1093.6 V2044.1 H1094.9 V2040.3 H1095.5 V2057.2 H1095.5 V2033.1 H1096.8 V2036.1 H1098.1 V2037.2 H1098.6 V2057.2 H1098.6 V2042.4 H1099.9 V2044.2 H1101.2 V2042.9 H1102.5 V2039.3 H1103.1 V2057.2 H1103.1 V2018.5 H1104.4 V2026 H1105.7 V2019.7 H1106.1 V2057.2 H1106.1 V2032.5 H1107.4 V2033.2 H1108.7 V2033.5 H1109.9 V2057.2 H1109.9 V2037.1 H1111.2 V2040.3 H1112.5 V2037.6 H1113.7 V2057.2 H1113.7 V2048.3 H1115 V2047.4 H1116.3 V2046.1 H1116.7 V2057.2 H1116.7 V2039.9 H1118 V2042.7 H1119.3 V2038.1 H1120.6 V2040.2 H1121.9 V2040.7 H1123.2 V2044.7 H1124.3 V2057.2 H1124.3 V2047.1 H1125.6 V2048.4 H1126.9 V2046.5 H1128.2 V2047.5 H1129.5 V2045.9 H1130.8 V2046.7 H1131.9 V2057.2 H1131.9 V2044.6 H1133.2 V2046.8 H1134.5 V2045.3 H1135.8 V2044.9 H1137.1 V2044.4 H1137.9 V2057.2 H1137.9 V2049.3 H1139.2 V2047.5 H1140.5 V2047.3 H1141.8 V2048 H1143.1 V2046.9 H1144.4 V2047 H1145.7 V2048.7 H1147 V2048.6 H1148.3 V2050 H1149.6 V2047.5 H1150.9 V2047.1 H1152.2 V2048.8 H1153.1 V2057.2 H1153.1 V2046.8 H1154.4 V2046.7 H1155.7 V2046.7 H1156.1 V2057.2 H1156.1 V2054.2 H1157.4 V2054.2 H1158.7 V2054.2 H1159.1 V2057.2 Z" fill="#f0202e"/>
<line x1="1042.9" y1="2020.8" x2="1042.9" y2="2058.4" stroke="#000" stroke-width="3"/>
<rect x="940" y="2066" width="10.3" height="11.8" fill="#ecc8e2"/>
<rect x="962.4" y="2066" width="7.6" height="11.8" fill="#ecc8e2"/>
<rect x="972.2" y="2066" width="9.5" height="11.8" fill="#ecc8e2"/>
<rect x="984" y="2066" width="15.7" height="11.8" fill="#e0acd6"/>
<rect x="1002.5" y="2066" width="96.9" height="11.8" fill="#ecc8e2"/>
<rect x="1101.6" y="2066" width="29.5" height="11.8" fill="#e0acd6"/>
<rect x="1135.6" y="2066" width="15.9" height="11.8" fill="#ecc8e2"/>
<text x="1045.8" y="2125.3" text-anchor="middle" fill="#e3262b" font-size="23">Enhancer of gene</text>
<text x="1045.8" y="2152.4" text-anchor="middle" fill="#e3262b" font-size="23">marked by H3K27ac</text>
<text x="1248.5" y="1741.7" font-weight="bold" font-size="36">f</text>
<text x="1694.4" y="1766.9" text-anchor="middle" font-size="23">H3K27ac CUT&amp;RUN-qPCR</text>
<text x="1403.4" y="1809.6" text-anchor="middle" font-size="23"><tspan font-style="italic">Notch3</tspan> (BS1)</text>
<rect x="1363.3" y="1950.7" width="22.6" height="122.4" fill="#ff2710" stroke="#000" stroke-width="1.8"/>
<rect x="1400" y="2022.7" width="22.4" height="50.4" fill="#1c10fa" stroke="#000" stroke-width="1.8"/>
<rect x="1436.5" y="2028.9" width="22.3" height="44.2" fill="#c42cff" stroke="#000" stroke-width="1.8"/>
<line x1="1374.6" y1="1930.8" x2="1374.6" y2="1966.8" stroke="#000" stroke-width="2"/>
<line x1="1368.6" y1="1930.8" x2="1380.6" y2="1930.8" stroke="#000" stroke-width="2"/>
<line x1="1368.6" y1="1966.8" x2="1380.6" y2="1966.8" stroke="#000" stroke-width="2"/>
<line x1="1411.2" y1="2014" x2="1411.2" y2="2030" stroke="#000" stroke-width="2"/>
<line x1="1405.2" y1="2014" x2="1417.2" y2="2014" stroke="#000" stroke-width="2"/>
<line x1="1405.2" y1="2030" x2="1417.2" y2="2030" stroke="#000" stroke-width="2"/>
<line x1="1447.6" y1="2026" x2="1447.6" y2="2031" stroke="#000" stroke-width="2"/>
<line x1="1441.6" y1="2026" x2="1453.6" y2="2026" stroke="#000" stroke-width="2"/>
<line x1="1441.6" y1="2031" x2="1453.6" y2="2031" stroke="#000" stroke-width="2"/>
<circle cx="1374.5" cy="1926.4" r="3.9" fill="#000"/>
<circle cx="1374.5" cy="1944.5" r="3.9" fill="#000"/>
<circle cx="1374.5" cy="1958.1" r="3.9" fill="#000"/>
<circle cx="1374.5" cy="1969.3" r="3.9" fill="#000"/>
<circle cx="1419.1" cy="2011.5" r="3.9" fill="#000"/>
<circle cx="1403.7" cy="2019" r="3.9" fill="#000"/>
<circle cx="1412.4" cy="2025.1" r="3.9" fill="#000"/>
<circle cx="1403.7" cy="2030" r="3.9" fill="#000"/>
<circle cx="1419.1" cy="2027.6" r="3.9" fill="#000"/>
<circle cx="1441" cy="2032.6" r="3.9" fill="#000"/>
<circle cx="1446" cy="2027.1" r="3.9" fill="#000"/>
<circle cx="1455.1" cy="2027.6" r="3.9" fill="#000"/>
<circle cx="1450" cy="2030" r="3.9" fill="#000"/>
<path d="M1350.9,1868V2073.1H1472" fill="none" stroke="#000" stroke-width="2"/>
<line x1="1342.5" y1="1868" x2="1350.9" y2="1868" stroke="#000" stroke-width="2"/>
<text x="1335.5" y="1876.3" text-anchor="end" font-size="23">150</text>
<line x1="1342.5" y1="1936.4" x2="1350.9" y2="1936.4" stroke="#000" stroke-width="2"/>
<text x="1335.5" y="1944.6" text-anchor="end" font-size="23">100</text>
<line x1="1342.5" y1="2004.7" x2="1350.9" y2="2004.7" stroke="#000" stroke-width="2"/>
<text x="1335.5" y="2013" text-anchor="end" font-size="23">50</text>
<line x1="1342.5" y1="2073.1" x2="1350.9" y2="2073.1" stroke="#000" stroke-width="2"/>
<text x="1335.5" y="2081.4" text-anchor="end" font-size="23">0</text>
<line x1="1374.6" y1="2073.1" x2="1374.6" y2="2081.1" stroke="#000" stroke-width="2"/>
<line x1="1411.2" y1="2073.1" x2="1411.2" y2="2081.1" stroke="#000" stroke-width="2"/>
<line x1="1447.7" y1="2073.1" x2="1447.7" y2="2081.1" stroke="#000" stroke-width="2"/>
<line x1="1363.3" y1="1870.8" x2="1457.8" y2="1870.8" stroke="#000" stroke-width="3.2"/>
<text x="1411.2" y="1862.4" text-anchor="middle" font-size="18.8"><tspan font-style="italic">P</tspan> &lt; 0.0001</text>
<line x1="1363.3" y1="1906.5" x2="1417.9" y2="1906.5" stroke="#000" stroke-width="3.2"/>
<text x="1406.2" y="1900.4" text-anchor="middle" font-size="18.8"><tspan font-style="italic">P</tspan> &lt; 0.0001</text>
<text transform="translate(1385.7,2085.5) rotate(-90)" text-anchor="end" font-size="23">sgNC</text>
<text transform="translate(1421.3,2085.5) rotate(-90)" text-anchor="end" font-size="23">sgRNA-1</text>
<text transform="translate(1456.8,2085.5) rotate(-90)" text-anchor="end" font-size="23">sgRNA-2</text>
<text transform="translate(1285.5,1970.5) rotate(-90)" text-anchor="middle" font-size="23">Percentage of input</text>
<text x="1588.3" y="1809.6" text-anchor="middle" font-size="23"><tspan font-style="italic">Sox2</tspan> (BS2)</text>
<rect x="1544.3" y="1912.1" width="22.8" height="161" fill="#ff2710" stroke="#000" stroke-width="1.8"/>
<rect x="1580.7" y="1986.5" width="22.8" height="86.6" fill="#1c10fa" stroke="#000" stroke-width="1.8"/>
<rect x="1617.1" y="1977.3" width="22.8" height="95.8" fill="#c42cff" stroke="#000" stroke-width="1.8"/>
<line x1="1555.7" y1="1897.8" x2="1555.7" y2="1926.3" stroke="#000" stroke-width="2"/>
<line x1="1549.7" y1="1897.8" x2="1561.7" y2="1897.8" stroke="#000" stroke-width="2"/>
<line x1="1549.7" y1="1926.3" x2="1561.7" y2="1926.3" stroke="#000" stroke-width="2"/>
<line x1="1592.1" y1="1978.6" x2="1592.1" y2="1990.6" stroke="#000" stroke-width="2"/>
<line x1="1586.1" y1="1978.6" x2="1598.1" y2="1978.6" stroke="#000" stroke-width="2"/>
<line x1="1586.1" y1="1990.6" x2="1598.1" y2="1990.6" stroke="#000" stroke-width="2"/>
<line x1="1628.5" y1="1970.7" x2="1628.5" y2="1981.7" stroke="#000" stroke-width="2"/>
<line x1="1622.5" y1="1970.7" x2="1634.5" y2="1970.7" stroke="#000" stroke-width="2"/>
<line x1="1622.5" y1="1981.7" x2="1634.5" y2="1981.7" stroke="#000" stroke-width="2"/>
<circle cx="1555.4" cy="1894.7" r="3.9" fill="#000"/>
<circle cx="1555.4" cy="1905.1" r="3.9" fill="#000"/>
<circle cx="1555.4" cy="1918.4" r="3.9" fill="#000"/>
<circle cx="1555.4" cy="1927.9" r="3.9" fill="#000"/>
<circle cx="1583.9" cy="1981.7" r="3.9" fill="#000"/>
<circle cx="1599.7" cy="1977.6" r="3.9" fill="#000"/>
<circle cx="1583.9" cy="1994.4" r="3.9" fill="#000"/>
<circle cx="1599.7" cy="1987.4" r="3.9" fill="#000"/>
<circle cx="1620.3" cy="1973.8" r="3.9" fill="#000"/>
<circle cx="1636.1" cy="1969.1" r="3.9" fill="#000"/>
<circle cx="1620.3" cy="1981.7" r="3.9" fill="#000"/>
<circle cx="1636.1" cy="1980.2" r="3.9" fill="#000"/>
<path d="M1531.7,1868.8V2073.1H1653.5" fill="none" stroke="#000" stroke-width="2"/>
<line x1="1523.3" y1="1868.8" x2="1531.7" y2="1868.8" stroke="#000" stroke-width="2"/>
<text x="1516.3" y="1877.1" text-anchor="end" font-size="23">8</text>
<line x1="1523.3" y1="1919.9" x2="1531.7" y2="1919.9" stroke="#000" stroke-width="2"/>
<text x="1516.3" y="1928.2" text-anchor="end" font-size="23">6</text>
<line x1="1523.3" y1="1970.9" x2="1531.7" y2="1970.9" stroke="#000" stroke-width="2"/>
<text x="1516.3" y="1979.2" text-anchor="end" font-size="23">4</text>
<line x1="1523.3" y1="2022" x2="1531.7" y2="2022" stroke="#000" stroke-width="2"/>
<text x="1516.3" y="2030.3" text-anchor="end" font-size="23">2</text>
<line x1="1523.3" y1="2073.1" x2="1531.7" y2="2073.1" stroke="#000" stroke-width="2"/>
<text x="1516.3" y="2081.4" text-anchor="end" font-size="23">0</text>
<line x1="1555.7" y1="2073.1" x2="1555.7" y2="2081.1" stroke="#000" stroke-width="2"/>
<line x1="1592.1" y1="2073.1" x2="1592.1" y2="2081.1" stroke="#000" stroke-width="2"/>
<line x1="1628.5" y1="2073.1" x2="1628.5" y2="2081.1" stroke="#000" stroke-width="2"/>
<line x1="1546.8" y1="1847.8" x2="1641.5" y2="1847.8" stroke="#000" stroke-width="3.2"/>
<text x="1595" y="1838.2" text-anchor="middle" font-size="18.8"><tspan font-style="italic">P</tspan> &lt; 0.0001</text>
<line x1="1546.8" y1="1875" x2="1601.9" y2="1875" stroke="#000" stroke-width="3.2"/>
<text x="1595" y="1869.8" text-anchor="middle" font-size="18.8"><tspan font-style="italic">P</tspan> &lt; 0.0001</text>
<text transform="translate(1565.8,2085.5) rotate(-90)" text-anchor="end" font-size="23">sgNC</text>
<text transform="translate(1603.8,2085.5) rotate(-90)" text-anchor="end" font-size="23">sgRNA-1</text>
<text transform="translate(1639.8,2085.5) rotate(-90)" text-anchor="end" font-size="23">sgRNA-2</text>
<text x="1773.5" y="1809.6" text-anchor="middle" font-size="23"><tspan font-style="italic">Wnt6</tspan> (BS3)</text>
<rect x="1730.1" y="1923.2" width="23.1" height="150.3" fill="#ff2710" stroke="#000" stroke-width="1.8"/>
<rect x="1766.5" y="1972.2" width="23.1" height="101.3" fill="#1c10fa" stroke="#000" stroke-width="1.8"/>
<rect x="1802.9" y="1992.2" width="23.2" height="81.3" fill="#c42cff" stroke="#000" stroke-width="1.8"/>
<line x1="1741.6" y1="1912.7" x2="1741.6" y2="1932.7" stroke="#000" stroke-width="2"/>
<line x1="1735.6" y1="1912.7" x2="1747.6" y2="1912.7" stroke="#000" stroke-width="2"/>
<line x1="1735.6" y1="1932.7" x2="1747.6" y2="1932.7" stroke="#000" stroke-width="2"/>
<line x1="1778" y1="1961.2" x2="1778" y2="1981.7" stroke="#000" stroke-width="2"/>
<line x1="1772" y1="1961.2" x2="1784" y2="1961.2" stroke="#000" stroke-width="2"/>
<line x1="1772" y1="1981.7" x2="1784" y2="1981.7" stroke="#000" stroke-width="2"/>
<line x1="1814.5" y1="1987" x2="1814.5" y2="1996" stroke="#000" stroke-width="2"/>
<line x1="1808.5" y1="1987" x2="1820.5" y2="1987" stroke="#000" stroke-width="2"/>
<line x1="1808.5" y1="1996" x2="1820.5" y2="1996" stroke="#000" stroke-width="2"/>
<circle cx="1733.6" cy="1914.6" r="3.9" fill="#000"/>
<circle cx="1750.1" cy="1914.6" r="3.9" fill="#000"/>
<circle cx="1733.6" cy="1933.6" r="3.9" fill="#000"/>
<circle cx="1750.1" cy="1927.3" r="3.9" fill="#000"/>
<circle cx="1741.6" cy="1923.2" r="3.9" fill="#000"/>
<circle cx="1777.6" cy="1957.1" r="3.9" fill="#000"/>
<circle cx="1770.7" cy="1973.8" r="3.9" fill="#000"/>
<circle cx="1785.9" cy="1974.8" r="3.9" fill="#000"/>
<circle cx="1770.7" cy="1982.7" r="3.9" fill="#000"/>
<circle cx="1777.6" cy="1969.1" r="3.9" fill="#000"/>
<circle cx="1806.1" cy="1986.5" r="3.9" fill="#000"/>
<circle cx="1813.4" cy="1986.5" r="3.9" fill="#000"/>
<circle cx="1821.3" cy="1991.3" r="3.9" fill="#000"/>
<circle cx="1806.1" cy="1997" r="3.9" fill="#000"/>
<circle cx="1813.4" cy="1996" r="3.9" fill="#000"/>
<path d="M1708.9,1868.4V2073.5H1839.4" fill="none" stroke="#000" stroke-width="2"/>
<line x1="1700.5" y1="1868.4" x2="1708.9" y2="1868.4" stroke="#000" stroke-width="2"/>
<text x="1693.5" y="1876.7" text-anchor="end" font-size="23">50</text>
<line x1="1700.5" y1="1909.4" x2="1708.9" y2="1909.4" stroke="#000" stroke-width="2"/>
<text x="1693.5" y="1917.7" text-anchor="end" font-size="23">40</text>
<line x1="1700.5" y1="1950.4" x2="1708.9" y2="1950.4" stroke="#000" stroke-width="2"/>
<text x="1693.5" y="1958.7" text-anchor="end" font-size="23">30</text>
<line x1="1700.5" y1="1991.5" x2="1708.9" y2="1991.5" stroke="#000" stroke-width="2"/>
<text x="1693.5" y="1999.7" text-anchor="end" font-size="23">20</text>
<line x1="1700.5" y1="2032.5" x2="1708.9" y2="2032.5" stroke="#000" stroke-width="2"/>
<text x="1693.5" y="2040.8" text-anchor="end" font-size="23">10</text>
<line x1="1700.5" y1="2073.5" x2="1708.9" y2="2073.5" stroke="#000" stroke-width="2"/>
<text x="1693.5" y="2081.8" text-anchor="end" font-size="23">0</text>
<line x1="1741.7" y1="2073.5" x2="1741.7" y2="2081.5" stroke="#000" stroke-width="2"/>
<line x1="1778" y1="2073.5" x2="1778" y2="2081.5" stroke="#000" stroke-width="2"/>
<line x1="1814.5" y1="2073.5" x2="1814.5" y2="2081.5" stroke="#000" stroke-width="2"/>
<line x1="1728.9" y1="1855.1" x2="1824.5" y2="1855.1" stroke="#000" stroke-width="3.2"/>
<text x="1776.4" y="1844.5" text-anchor="middle" font-size="18.8"><tspan font-style="italic">P</tspan> &lt; 0.0001</text>
<line x1="1728.9" y1="1890.9" x2="1784.3" y2="1890.9" stroke="#000" stroke-width="3.2"/>
<text x="1776.4" y="1885" text-anchor="middle" font-size="18.8"><tspan font-style="italic">P</tspan> &lt; 0.0001</text>
<text transform="translate(1750.7,2085.5) rotate(-90)" text-anchor="end" font-size="23">sgNC</text>
<text transform="translate(1787.2,2085.5) rotate(-90)" text-anchor="end" font-size="23">sgRNA-1</text>
<text transform="translate(1823.2,2085.5) rotate(-90)" text-anchor="end" font-size="23">sgRNA-2</text>
<text x="1955.5" y="1809.6" text-anchor="middle" font-size="23"><tspan font-style="italic">Flt1</tspan> (BS1)</text>
<rect x="1908.4" y="1895.3" width="23.1" height="178.2" fill="#ff2710" stroke="#000" stroke-width="1.8"/>
<rect x="1944.8" y="1996" width="23.1" height="77.5" fill="#1c10fa" stroke="#000" stroke-width="1.8"/>
<rect x="1981.2" y="1923.5" width="23.1" height="150" fill="#c42cff" stroke="#000" stroke-width="1.8"/>
<line x1="1920" y1="1883.6" x2="1920" y2="1905.8" stroke="#000" stroke-width="2"/>
<line x1="1914" y1="1883.6" x2="1926" y2="1883.6" stroke="#000" stroke-width="2"/>
<line x1="1914" y1="1905.8" x2="1926" y2="1905.8" stroke="#000" stroke-width="2"/>
<line x1="1956.4" y1="1990.6" x2="1956.4" y2="2000.1" stroke="#000" stroke-width="2"/>
<line x1="1950.4" y1="1990.6" x2="1962.4" y2="1990.6" stroke="#000" stroke-width="2"/>
<line x1="1950.4" y1="2000.1" x2="1962.4" y2="2000.1" stroke="#000" stroke-width="2"/>
<line x1="1992.8" y1="1919" x2="1992.8" y2="1926" stroke="#000" stroke-width="2"/>
<line x1="1986.8" y1="1919" x2="1998.8" y2="1919" stroke="#000" stroke-width="2"/>
<line x1="1986.8" y1="1926" x2="1998.8" y2="1926" stroke="#000" stroke-width="2"/>
<circle cx="1920.1" cy="1882" r="3.9" fill="#000"/>
<circle cx="1911.6" cy="1891.5" r="3.9" fill="#000"/>
<circle cx="1928" cy="1898.8" r="3.9" fill="#000"/>
<circle cx="1913.1" cy="1907.4" r="3.9" fill="#000"/>
<circle cx="1920.1" cy="1902.6" r="3.9" fill="#000"/>
<circle cx="1963.8" cy="1989.7" r="3.9" fill="#000"/>
<circle cx="1949.6" cy="1996" r="3.9" fill="#000"/>
<circle cx="1959" cy="1998.2" r="3.9" fill="#000"/>
<circle cx="1954.9" cy="1998.5" r="3.9" fill="#000"/>
<circle cx="1984.4" cy="1925.4" r="3.9" fill="#000"/>
<circle cx="1990.7" cy="1923.2" r="3.9" fill="#000"/>
<circle cx="1998" cy="1925.4" r="3.9" fill="#000"/>
<circle cx="2000.8" cy="1924.1" r="3.9" fill="#000"/>
<path d="M1887.8,1868.4V2073.5H2010.3" fill="none" stroke="#000" stroke-width="2"/>
<line x1="1879.4" y1="1868.4" x2="1887.8" y2="1868.4" stroke="#000" stroke-width="2"/>
<text x="1872.4" y="1876.7" text-anchor="end" font-size="23">8</text>
<line x1="1879.4" y1="1919.7" x2="1887.8" y2="1919.7" stroke="#000" stroke-width="2"/>
<text x="1872.4" y="1928" text-anchor="end" font-size="23">6</text>
<line x1="1879.4" y1="1971" x2="1887.8" y2="1971" stroke="#000" stroke-width="2"/>
<text x="1872.4" y="1979.2" text-anchor="end" font-size="23">4</text>
<line x1="1879.4" y1="2022.2" x2="1887.8" y2="2022.2" stroke="#000" stroke-width="2"/>
<text x="1872.4" y="2030.5" text-anchor="end" font-size="23">2</text>
<line x1="1879.4" y1="2073.5" x2="1887.8" y2="2073.5" stroke="#000" stroke-width="2"/>
<text x="1872.4" y="2081.8" text-anchor="end" font-size="23">0</text>
<line x1="1920" y1="2073.5" x2="1920" y2="2081.5" stroke="#000" stroke-width="2"/>
<line x1="1956.3" y1="2073.5" x2="1956.3" y2="2081.5" stroke="#000" stroke-width="2"/>
<line x1="1992.8" y1="2073.5" x2="1992.8" y2="2081.5" stroke="#000" stroke-width="2"/>
<line x1="1908.4" y1="1843.1" x2="2002.7" y2="1843.1" stroke="#000" stroke-width="3.2"/>
<text x="1957.4" y="1836.6" text-anchor="middle" font-size="18.8"><tspan font-style="italic">P</tspan> = 0.0003</text>
<line x1="1908.4" y1="1870" x2="1963.8" y2="1870" stroke="#000" stroke-width="3.2"/>
<text x="1957.4" y="1866.7" text-anchor="middle" font-size="18.8"><tspan font-style="italic">P</tspan> &lt; 0.0001</text>
<text transform="translate(1929.3,2085.5) rotate(-90)" text-anchor="end" font-size="23">sgNC</text>
<text transform="translate(1966.3,2085.5) rotate(-90)" text-anchor="end" font-size="23">sgRNA-1</text>
<text transform="translate(2001.9,2085.5) rotate(-90)" text-anchor="end" font-size="23">sgRNA-2</text>
<text x="-1" y="2339" font-weight="bold" font-size="36">g</text>
<text x="166.5" y="2345.2" text-anchor="middle" font-size="23"><tspan font-style="italic">Notch3</tspan></text>
<rect x="121.5" y="2453.3" width="23.4" height="137.3" fill="#ff2710" stroke="#000" stroke-width="1.8"/>
<rect x="158.1" y="2556" width="23.2" height="34.6" fill="#1c10fa" stroke="#000" stroke-width="1.8"/>
<rect x="195.3" y="2535.2" width="22.6" height="55.4" fill="#c42cff" stroke="#000" stroke-width="1.8"/>
<line x1="133.2" y1="2436.5" x2="133.2" y2="2467.8" stroke="#000" stroke-width="2"/>
<line x1="127.2" y1="2436.5" x2="139.2" y2="2436.5" stroke="#000" stroke-width="2"/>
<line x1="127.2" y1="2467.8" x2="139.2" y2="2467.8" stroke="#000" stroke-width="2"/>
<line x1="169.7" y1="2541" x2="169.7" y2="2569.5" stroke="#000" stroke-width="2"/>
<line x1="163.7" y1="2541" x2="175.7" y2="2541" stroke="#000" stroke-width="2"/>
<line x1="163.7" y1="2569.5" x2="175.7" y2="2569.5" stroke="#000" stroke-width="2"/>
<line x1="206.6" y1="2529.6" x2="206.6" y2="2540.3" stroke="#000" stroke-width="2"/>
<line x1="200.6" y1="2529.6" x2="212.6" y2="2529.6" stroke="#000" stroke-width="2"/>
<line x1="200.6" y1="2540.3" x2="212.6" y2="2540.3" stroke="#000" stroke-width="2"/>
<circle cx="134" cy="2436" r="3.9" fill="#000"/>
<circle cx="125.1" cy="2461.7" r="3.9" fill="#000"/>
<circle cx="140.6" cy="2460.2" r="3.9" fill="#000"/>
<circle cx="169.8" cy="2538.5" r="3.9" fill="#000"/>
<circle cx="162.2" cy="2563.2" r="3.9" fill="#000"/>
<circle cx="178" cy="2563.2" r="3.9" fill="#000"/>
<circle cx="206.5" cy="2528.8" r="3.9" fill="#000"/>
<circle cx="199.6" cy="2535.2" r="3.9" fill="#000"/>
<circle cx="214.8" cy="2533.9" r="3.9" fill="#000"/>
<path d="M101.7,2384.7V2590.6H230.9" fill="none" stroke="#000" stroke-width="2"/>
<line x1="97.1" y1="2384.7" x2="101.7" y2="2384.7" stroke="#000" stroke-width="2"/>
<text x="92.1" y="2393" text-anchor="end" font-size="23">1.5</text>
<line x1="97.1" y1="2453.3" x2="101.7" y2="2453.3" stroke="#000" stroke-width="2"/>
<text x="92.1" y="2461.6" text-anchor="end" font-size="23">1.0</text>
<line x1="97.1" y1="2522" x2="101.7" y2="2522" stroke="#000" stroke-width="2"/>
<text x="92.1" y="2530.2" text-anchor="end" font-size="23">0.5</text>
<line x1="97.1" y1="2590.6" x2="101.7" y2="2590.6" stroke="#000" stroke-width="2"/>
<text x="92.1" y="2598.9" text-anchor="end" font-size="23">0.0</text>
<line x1="133.2" y1="2590.6" x2="133.2" y2="2600" stroke="#000" stroke-width="2"/>
<line x1="169.7" y1="2590.6" x2="169.7" y2="2600" stroke="#000" stroke-width="2"/>
<line x1="206.6" y1="2590.6" x2="206.6" y2="2600" stroke="#000" stroke-width="2"/>
<line x1="123.8" y1="2382.1" x2="217.9" y2="2382.1" stroke="#000" stroke-width="3.2"/>
<text x="170.4" y="2373.4" text-anchor="middle" font-size="18.8"><tspan font-style="italic">P</tspan> = 0.0003</text>
<line x1="123.8" y1="2412.6" x2="178" y2="2412.6" stroke="#000" stroke-width="3.2"/>
<text x="169" y="2407.8" text-anchor="middle" font-size="18.8"><tspan font-style="italic">P</tspan> &lt; 0.0001</text>
<text transform="translate(143.1,2606.4) rotate(-90)" text-anchor="end" font-size="23">sgNC</text>
<text transform="translate(179.9,2606.4) rotate(-90)" text-anchor="end" font-size="23">sgRNA-1</text>
<text transform="translate(218.1,2606.4) rotate(-90)" text-anchor="end" font-size="23">sgRNA-2</text>
<text x="69.5" y="2638.8" text-anchor="middle" font-size="23"><tspan font-style="italic">Notch3</tspan></text>
<text x="69.5" y="2666.8" text-anchor="middle" font-size="23">(BS1)</text>
<text transform="translate(50.3,2489.4) rotate(-90)" text-anchor="middle" font-size="23">Relative mRNA level</text>
<text x="357.4" y="2345.2" text-anchor="middle" font-size="23"><tspan font-style="italic">Sox2</tspan></text>
<rect x="312.2" y="2452.8" width="22.9" height="137.8" fill="#ff2710" stroke="#000" stroke-width="1.8"/>
<rect x="348.8" y="2525" width="23.2" height="65.6" fill="#1c10fa" stroke="#000" stroke-width="1.8"/>
<rect x="385.7" y="2527" width="23.1" height="63.6" fill="#c42cff" stroke="#000" stroke-width="1.8"/>
<line x1="323.6" y1="2439.3" x2="323.6" y2="2467.8" stroke="#000" stroke-width="2"/>
<line x1="317.6" y1="2439.3" x2="329.6" y2="2439.3" stroke="#000" stroke-width="2"/>
<line x1="317.6" y1="2467.8" x2="329.6" y2="2467.8" stroke="#000" stroke-width="2"/>
<line x1="360.4" y1="2521" x2="360.4" y2="2529" stroke="#000" stroke-width="2"/>
<line x1="354.4" y1="2521" x2="366.4" y2="2521" stroke="#000" stroke-width="2"/>
<line x1="354.4" y1="2529" x2="366.4" y2="2529" stroke="#000" stroke-width="2"/>
<line x1="397.2" y1="2522" x2="397.2" y2="2530" stroke="#000" stroke-width="2"/>
<line x1="391.2" y1="2522" x2="403.2" y2="2522" stroke="#000" stroke-width="2"/>
<line x1="391.2" y1="2530" x2="403.2" y2="2530" stroke="#000" stroke-width="2"/>
<circle cx="323.4" cy="2440.6" r="3.9" fill="#000"/>
<circle cx="323.4" cy="2451.8" r="3.9" fill="#000"/>
<circle cx="323.4" cy="2465.3" r="3.9" fill="#000"/>
<circle cx="356" cy="2522.5" r="3.9" fill="#000"/>
<circle cx="366.1" cy="2525.8" r="3.9" fill="#000"/>
<circle cx="350.9" cy="2526.3" r="3.9" fill="#000"/>
<circle cx="396.6" cy="2523.7" r="3.9" fill="#000"/>
<circle cx="389" cy="2527.6" r="3.9" fill="#000"/>
<circle cx="405.5" cy="2528.3" r="3.9" fill="#000"/>
<path d="M297.5,2384.7V2590.6H422" fill="none" stroke="#000" stroke-width="2"/>
<line x1="292.9" y1="2384.7" x2="297.5" y2="2384.7" stroke="#000" stroke-width="2"/>
<text x="287.9" y="2393" text-anchor="end" font-size="23">1.5</text>
<line x1="292.9" y1="2453.3" x2="297.5" y2="2453.3" stroke="#000" stroke-width="2"/>
<text x="287.9" y="2461.6" text-anchor="end" font-size="23">1.0</text>
<line x1="292.9" y1="2522" x2="297.5" y2="2522" stroke="#000" stroke-width="2"/>
<text x="287.9" y="2530.2" text-anchor="end" font-size="23">0.5</text>
<line x1="292.9" y1="2590.6" x2="297.5" y2="2590.6" stroke="#000" stroke-width="2"/>
<text x="287.9" y="2598.9" text-anchor="end" font-size="23">0.0</text>
<line x1="323.6" y1="2590.6" x2="323.6" y2="2600" stroke="#000" stroke-width="2"/>
<line x1="360.4" y1="2590.6" x2="360.4" y2="2600" stroke="#000" stroke-width="2"/>
<line x1="397.2" y1="2590.6" x2="397.2" y2="2600" stroke="#000" stroke-width="2"/>
<line x1="312.2" y1="2385.2" x2="406.3" y2="2385.2" stroke="#000" stroke-width="3.2"/>
<text x="358.5" y="2375.4" text-anchor="middle" font-size="18.8"><tspan font-style="italic">P</tspan> &lt; 0.0001</text>
<line x1="312.2" y1="2415.7" x2="366.6" y2="2415.7" stroke="#000" stroke-width="3.2"/>
<text x="357.2" y="2409.8" text-anchor="middle" font-size="18.8"><tspan font-style="italic">P</tspan> &lt; 0.0001</text>
<text transform="translate(333.3,2606.4) rotate(-90)" text-anchor="end" font-size="23">sgNC</text>
<text transform="translate(369.3,2606.4) rotate(-90)" text-anchor="end" font-size="23">sgRNA-1</text>
<text transform="translate(406.3,2606.4) rotate(-90)" text-anchor="end" font-size="23">sgRNA-2</text>
<text x="279.7" y="2638.8" text-anchor="middle" font-size="23"><tspan font-style="italic">Sox2</tspan></text>
<text x="279.7" y="2666.8" text-anchor="middle" font-size="23">(BS2)</text>
<text x="553.8" y="2345.2" text-anchor="middle" font-size="23"><tspan font-style="italic">Wnt6</tspan></text>
<rect x="503.7" y="2453.3" width="23.4" height="137.3" fill="#ff2710" stroke="#000" stroke-width="1.8"/>
<rect x="540.6" y="2499.6" width="23.4" height="91" fill="#1c10fa" stroke="#000" stroke-width="1.8"/>
<rect x="577.5" y="2538.2" width="23.4" height="52.4" fill="#c42cff" stroke="#000" stroke-width="1.8"/>
<line x1="515.4" y1="2439.3" x2="515.4" y2="2467.8" stroke="#000" stroke-width="2"/>
<line x1="509.4" y1="2439.3" x2="521.4" y2="2439.3" stroke="#000" stroke-width="2"/>
<line x1="509.4" y1="2467.8" x2="521.4" y2="2467.8" stroke="#000" stroke-width="2"/>
<line x1="552.3" y1="2486.4" x2="552.3" y2="2513.6" stroke="#000" stroke-width="2"/>
<line x1="546.3" y1="2486.4" x2="558.3" y2="2486.4" stroke="#000" stroke-width="2"/>
<line x1="546.3" y1="2513.6" x2="558.3" y2="2513.6" stroke="#000" stroke-width="2"/>
<line x1="589.2" y1="2517.9" x2="589.2" y2="2555.5" stroke="#000" stroke-width="2"/>
<line x1="583.2" y1="2517.9" x2="595.2" y2="2517.9" stroke="#000" stroke-width="2"/>
<line x1="583.2" y1="2555.5" x2="595.2" y2="2555.5" stroke="#000" stroke-width="2"/>
<circle cx="515.7" cy="2439.3" r="3.9" fill="#000"/>
<circle cx="515.7" cy="2452.6" r="3.9" fill="#000"/>
<circle cx="515.7" cy="2466.5" r="3.9" fill="#000"/>
<circle cx="544.2" cy="2488.7" r="3.9" fill="#000"/>
<circle cx="560.7" cy="2494.5" r="3.9" fill="#000"/>
<circle cx="552" cy="2513.6" r="3.9" fill="#000"/>
<circle cx="589.4" cy="2516.6" r="3.9" fill="#000"/>
<circle cx="589.4" cy="2543.3" r="3.9" fill="#000"/>
<circle cx="589.4" cy="2553.5" r="3.9" fill="#000"/>
<path d="M491,2384.7V2590.6H613.6" fill="none" stroke="#000" stroke-width="2"/>
<line x1="486.4" y1="2384.7" x2="491" y2="2384.7" stroke="#000" stroke-width="2"/>
<text x="481.4" y="2393" text-anchor="end" font-size="23">1.5</text>
<line x1="486.4" y1="2453.3" x2="491" y2="2453.3" stroke="#000" stroke-width="2"/>
<text x="481.4" y="2461.6" text-anchor="end" font-size="23">1.0</text>
<line x1="486.4" y1="2522" x2="491" y2="2522" stroke="#000" stroke-width="2"/>
<text x="481.4" y="2530.2" text-anchor="end" font-size="23">0.5</text>
<line x1="486.4" y1="2590.6" x2="491" y2="2590.6" stroke="#000" stroke-width="2"/>
<text x="481.4" y="2598.9" text-anchor="end" font-size="23">0.0</text>
<line x1="515.4" y1="2590.6" x2="515.4" y2="2600" stroke="#000" stroke-width="2"/>
<line x1="552.3" y1="2590.6" x2="552.3" y2="2600" stroke="#000" stroke-width="2"/>
<line x1="589.2" y1="2590.6" x2="589.2" y2="2600" stroke="#000" stroke-width="2"/>
<line x1="506.8" y1="2387" x2="602.1" y2="2387" stroke="#000" stroke-width="3.2"/>
<text x="553.3" y="2377.2" text-anchor="middle" font-size="18.8"><tspan font-style="italic">P</tspan> = 0.0008</text>
<line x1="506.8" y1="2416.5" x2="562.2" y2="2416.5" stroke="#000" stroke-width="3.2"/>
<text x="552" y="2412.3" text-anchor="middle" font-size="18.8"><tspan font-style="italic">P</tspan> = 0.0164</text>
<text transform="translate(525.8,2606.4) rotate(-90)" text-anchor="end" font-size="23">sgNC</text>
<text transform="translate(563.4,2606.4) rotate(-90)" text-anchor="end" font-size="23">sgRNA-1</text>
<text transform="translate(599.5,2606.4) rotate(-90)" text-anchor="end" font-size="23">sgRNA-2</text>
<text x="470.5" y="2638.8" text-anchor="middle" font-size="23"><tspan font-style="italic">Wnt6</tspan></text>
<text x="470.5" y="2666.8" text-anchor="middle" font-size="23">(BS3)</text>
<text x="739.4" y="2345.2" text-anchor="middle" font-size="23"><tspan font-style="italic">Flt1</tspan></text>
<rect x="691.9" y="2453.3" width="22.9" height="137.3" fill="#ff2710" stroke="#000" stroke-width="1.8"/>
<rect x="728.5" y="2567" width="23.1" height="23.6" fill="#1c10fa" stroke="#000" stroke-width="1.8"/>
<rect x="765.6" y="2546.6" width="22.7" height="44" fill="#c42cff" stroke="#000" stroke-width="1.8"/>
<line x1="703.3" y1="2449" x2="703.3" y2="2458" stroke="#000" stroke-width="2"/>
<line x1="697.3" y1="2449" x2="709.3" y2="2449" stroke="#000" stroke-width="2"/>
<line x1="697.3" y1="2458" x2="709.3" y2="2458" stroke="#000" stroke-width="2"/>
<line x1="740" y1="2562" x2="740" y2="2571" stroke="#000" stroke-width="2"/>
<line x1="734" y1="2562" x2="746" y2="2562" stroke="#000" stroke-width="2"/>
<line x1="734" y1="2571" x2="746" y2="2571" stroke="#000" stroke-width="2"/>
<line x1="777" y1="2542" x2="777" y2="2551" stroke="#000" stroke-width="2"/>
<line x1="771" y1="2542" x2="783" y2="2542" stroke="#000" stroke-width="2"/>
<line x1="771" y1="2551" x2="783" y2="2551" stroke="#000" stroke-width="2"/>
<circle cx="696.2" cy="2450" r="3.9" fill="#000"/>
<circle cx="710.7" cy="2450.5" r="3.9" fill="#000"/>
<circle cx="703.3" cy="2460.7" r="3.9" fill="#000"/>
<circle cx="731.8" cy="2558.8" r="3.9" fill="#000"/>
<circle cx="747.8" cy="2566.2" r="3.9" fill="#000"/>
<circle cx="739.4" cy="2568.2" r="3.9" fill="#000"/>
<circle cx="769.4" cy="2543.3" r="3.9" fill="#000"/>
<circle cx="784.4" cy="2543.3" r="3.9" fill="#000"/>
<circle cx="777" cy="2553" r="3.9" fill="#000"/>
<path d="M678.9,2384.7V2590.6H801.7" fill="none" stroke="#000" stroke-width="2"/>
<line x1="674.3" y1="2384.7" x2="678.9" y2="2384.7" stroke="#000" stroke-width="2"/>
<text x="669.3" y="2393" text-anchor="end" font-size="23">1.5</text>
<line x1="674.3" y1="2453.3" x2="678.9" y2="2453.3" stroke="#000" stroke-width="2"/>
<text x="669.3" y="2461.6" text-anchor="end" font-size="23">1.0</text>
<line x1="674.3" y1="2522" x2="678.9" y2="2522" stroke="#000" stroke-width="2"/>
<text x="669.3" y="2530.2" text-anchor="end" font-size="23">0.5</text>
<line x1="674.3" y1="2590.6" x2="678.9" y2="2590.6" stroke="#000" stroke-width="2"/>
<text x="669.3" y="2598.9" text-anchor="end" font-size="23">0.0</text>
<line x1="703.3" y1="2590.6" x2="703.3" y2="2600" stroke="#000" stroke-width="2"/>
<line x1="740" y1="2590.6" x2="740" y2="2600" stroke="#000" stroke-width="2"/>
<line x1="777" y1="2590.6" x2="777" y2="2600" stroke="#000" stroke-width="2"/>
<line x1="691.9" y1="2394.6" x2="786.5" y2="2394.6" stroke="#000" stroke-width="3.2"/>
<text x="740.7" y="2380.5" text-anchor="middle" font-size="18.8"><tspan font-style="italic">P</tspan> &lt; 0.0001</text>
<line x1="691.9" y1="2421.3" x2="747.1" y2="2421.3" stroke="#000" stroke-width="3.2"/>
<text x="740" y="2414.8" text-anchor="middle" font-size="18.8"><tspan font-style="italic">P</tspan> &lt; 0.0001</text>
<text transform="translate(713.4,2606.4) rotate(-90)" text-anchor="end" font-size="23">sgNC</text>
<text transform="translate(751.5,2606.4) rotate(-90)" text-anchor="end" font-size="23">sgRNA-1</text>
<text transform="translate(788.4,2606.4) rotate(-90)" text-anchor="end" font-size="23">sgRNA-2</text>
<text x="656.8" y="2638.8" text-anchor="middle" font-size="23"><tspan font-style="italic">Flt1</tspan></text>
<text x="656.8" y="2666.8" text-anchor="middle" font-size="23">(BS1)</text>
<text x="828" y="2261.8" font-weight="bold" font-size="36">h</text>
<text transform="translate(881,2318) rotate(-90)" text-anchor="middle" font-size="23">CUT&amp;Tag-seq</text>
<text transform="translate(910,2317.2) rotate(-90)" text-anchor="middle" font-size="23">(H3K27ac)</text>
<line x1="924.3" y1="2272.6" x2="924.3" y2="2368.9" stroke="#000" stroke-width="3.2"/>
<text transform="translate(910,2446) rotate(-90)" text-anchor="middle" font-size="23">ATAC-Seq</text>
<line x1="924.3" y1="2398" x2="924.3" y2="2494.5" stroke="#000" stroke-width="3.2"/>
<text transform="translate(910,2618) rotate(-90)" text-anchor="middle" font-size="23">RNA-Seq</text>
<line x1="924.3" y1="2520.6" x2="924.3" y2="2714.2" stroke="#000" stroke-width="3.2"/>
<text x="1057.9" y="2306.3" text-anchor="end" font-size="23"><tspan font-style="italic">Mef2d</tspan><tspan font-size="15" baseline-shift="9">fl/fl</tspan></text>
<text x="1057.9" y="2363.8" text-anchor="end" font-size="23"><tspan font-style="italic">Mef2d</tspan><tspan font-size="15" baseline-shift="9">ΔHep</tspan></text>
<text x="1057.9" y="2420.1" text-anchor="end" font-size="23"><tspan font-style="italic">Mef2d</tspan><tspan font-size="15" baseline-shift="9">fl/fl</tspan></text>
<text x="1057.9" y="2477.1" text-anchor="end" font-size="23"><tspan font-style="italic">Mef2d</tspan><tspan font-size="15" baseline-shift="9">ΔHep</tspan></text>
<text x="1056.1" y="2550" text-anchor="end" font-size="23"><tspan font-style="italic">Mef2d</tspan><tspan font-size="15" baseline-shift="9">fl/fl</tspan>-1</text>
<text x="1056.1" y="2579.1" text-anchor="end" font-size="23"><tspan font-style="italic">Mef2d</tspan><tspan font-size="15" baseline-shift="9">fl/fl</tspan>-2</text>
<text x="1056.1" y="2608.1" text-anchor="end" font-size="23"><tspan font-style="italic">Mef2d</tspan><tspan font-size="15" baseline-shift="9">fl/fl</tspan>-3</text>
<text x="1056.1" y="2637.9" text-anchor="end" font-size="23"><tspan font-style="italic">Mef2d</tspan><tspan font-size="15" baseline-shift="9">ΔHep</tspan>-1</text>
<text x="1056.1" y="2667.3" text-anchor="end" font-size="23"><tspan font-style="italic">Mef2d</tspan><tspan font-size="15" baseline-shift="9">ΔHep</tspan>-2</text>
<text x="1056.1" y="2697.1" text-anchor="end" font-size="23"><tspan font-style="italic">Mef2d</tspan><tspan font-size="15" baseline-shift="9">ΔHep</tspan>-3</text>
<text x="1240.3" y="2254.3" text-anchor="middle" font-size="23"><tspan font-style="italic">Notch3</tspan></text>
<rect x="1095" y="2278.5" width="283.4" height="218.5" fill="#f9f9f9"/>
<text x="1090.6" y="2280.8" text-anchor="end" font-size="15.5">9</text>
<text x="1090.6" y="2310.9" text-anchor="end" font-size="15.5">0</text>
<line x1="1095" y1="2278.2" x2="1378.4" y2="2278.2" stroke="#f0f0f0" stroke-width="1"/>
<text x="1090.6" y="2340.7" text-anchor="end" font-size="15.5">9</text>
<text x="1090.6" y="2370.1" text-anchor="end" font-size="15.5">0</text>
<line x1="1095" y1="2338.1" x2="1378.4" y2="2338.1" stroke="#f0f0f0" stroke-width="1"/>
<text x="1090.6" y="2399.9" text-anchor="end" font-size="15.5">5</text>
<text x="1090.6" y="2429" text-anchor="end" font-size="15.5">0</text>
<line x1="1095" y1="2397.3" x2="1378.4" y2="2397.3" stroke="#f0f0f0" stroke-width="1"/>
<text x="1090.6" y="2459.4" text-anchor="end" font-size="15.5">5</text>
<text x="1090.6" y="2489.2" text-anchor="end" font-size="15.5">0</text>
<line x1="1095" y1="2456.8" x2="1378.4" y2="2456.8" stroke="#f0f0f0" stroke-width="1"/>
<path d="M1099.5,2306.8 V2302 H1101.1 V2301.9 H1101.3 V2306.8 ZM1101.3,2306.8 V2294.7 H1102.9 V2295.9 H1103.2 V2306.8 ZM1103.2,2306.8 V2298.9 H1104.8 V2298.7 H1105 V2306.8 ZM1105,2306.8 V2301.9 H1106.6 V2301.5 H1106.8 V2306.8 ZM1106.8,2306.8 V2299.6 H1108.4 V2299.3 H1108.6 V2306.8 ZM1108.6,2306.8 V2297.3 H1109.5 V2306.8 ZM1109.5,2306.8 V2293.4 H1111.1 V2294.1 H1112.7 V2306.8 ZM1112.7,2306.8 V2298.3 H1114.3 V2298.5 H1114.5 V2306.8 ZM1114.5,2306.8 V2304.8 H1116.1 V2304.3 H1117.7 V2304.3 H1118.1 V2306.8 ZM1118.1,2306.8 V2298.8 H1119.7 V2298.9 H1120 V2306.8 ZM1120,2306.8 V2293.9 H1121.6 V2294.4 H1123.2 V2292.7 H1123.6 V2306.8 ZM1123.6,2306.8 V2297.4 H1125.2 V2297 H1125.4 V2306.8 ZM1125.4,2306.8 V2291.2 H1126.8 V2306.8 ZM1126.8,2306.8 V2287.3 H1128.4 V2285.1 H1130 V2306.8 ZM1130,2306.8 V2293.8 H1131.6 V2292.6 H1132.2 V2306.8 ZM1132.2,2306.8 V2305 H1133.6 V2306.8 ZM1133.6,2306.8 V2301.8 H1135.2 V2302 H1135.4 V2306.8 ZM1135.4,2306.8 V2298.8 H1137 V2299.1 H1138.6 V2306.8 ZM1138.6,2306.8 V2302.6 H1140.2 V2301.9 H1141.3 V2306.8 ZM1141.3,2306.8 V2294.5 H1142.9 V2294.9 H1143.6 V2306.8 ZM1143.6,2306.8 V2283.8 H1145.2 V2285.8 H1146.7 V2306.8 ZM1146.7,2306.8 V2291.2 H1148.1 V2306.8 ZM1148.1,2306.8 V2305.6 H1149.7 V2305.6 H1149.9 V2306.8 ZM1149.9,2306.8 V2301.7 H1151.5 V2302.1 H1152.7 V2306.8 ZM1152.7,2306.8 V2295.4 H1154.3 V2296.5 H1154.5 V2306.8 ZM1154.5,2306.8 V2291.2 H1156.1 V2291.6 H1157.7 V2294.4 H1158.1 V2306.8 ZM1158.1,2306.8 V2297.4 H1159.7 V2295.7 H1160.4 V2306.8 ZM1160.4,2306.8 V2304.2 H1162 V2303.9 H1162.2 V2306.8 ZM1162.2,2306.8 V2299.3 H1163.8 V2299.9 H1164 V2306.8 ZM1164,2306.8 V2295.5 H1165.6 V2295.1 H1165.8 V2306.8 ZM1165.8,2306.8 V2299.5 H1167.4 V2299.8 H1167.6 V2306.8 ZM1167.6,2306.8 V2301.7 H1169.2 V2300.9 H1169.9 V2306.8 ZM1169.9,2306.8 V2302.1 H1171.5 V2302.8 H1172.2 V2306.8 ZM1172.2,2306.8 V2302.3 H1173.8 V2302.4 H1174.4 V2306.8 ZM1174.4,2306.8 V2305.2 H1176 V2304.9 H1176.3 V2306.8 ZM1176.3,2306.8 V2299.7 H1177.9 V2299 H1179 V2306.8 ZM1179,2306.8 V2293.4 H1180.6 V2294.2 H1180.8 V2306.8 ZM1180.8,2306.8 V2285.5 H1182.4 V2288.4 H1184 V2306.8 ZM1184,2306.8 V2295.5 H1185.6 V2296.8 H1186.2 V2306.8 ZM1186.2,2306.8 V2299.2 H1187.8 V2299.6 H1188.1 V2306.8 ZM1188.1,2306.8 V2290.6 H1189.7 V2287.8 H1191.3 V2288.5 H1192.9 V2290.5 H1193.5 V2306.8 ZM1193.5,2306.8 V2294.3 H1195.1 V2296.2 H1195.8 V2306.8 ZM1195.8,2306.8 V2285.4 H1197.4 V2283 H1199 V2284.1 H1199.9 V2306.8 ZM1199.9,2306.8 V2296.9 H1201.5 V2294.5 H1201.7 V2306.8 ZM1201.7,2306.8 V2299.6 H1203.3 V2299.5 H1204.4 V2306.8 ZM1204.4,2306.8 V2295.1 H1206 V2296.3 H1206.2 V2306.8 ZM1206.2,2306.8 V2299.4 H1207.8 V2299.9 H1208 V2306.8 ZM1208,2306.8 V2294.9 H1209.6 V2293.4 H1209.9 V2306.8 ZM1209.9,2306.8 V2286.2 H1211.5 V2284.3 H1212.1 V2306.8 ZM1212.1,2306.8 V2287.2 H1213.5 V2306.8 ZM1213.5,2306.8 V2295.9 H1215.1 V2294.6 H1215.8 V2306.8 ZM1215.8,2306.8 V2299.1 H1217.4 V2298.9 H1218 V2306.8 ZM1218.9,2306.8 V2298.4 H1220.5 V2299.7 H1221.2 V2306.8 ZM1221.2,2306.8 V2296.7 H1222.8 V2294.8 H1223.5 V2306.8 ZM1223.5,2306.8 V2298.5 H1225.1 V2299.5 H1226.2 V2306.8 ZM1226.2,2306.8 V2302.7 H1227.8 V2302.1 H1228 V2306.8 ZM1228,2306.8 V2298.3 H1229.6 V2299.6 H1231.2 V2298.2 H1232.8 V2298.4 H1234.4 V2306.8 ZM1234.4,2306.8 V2292.4 H1236 V2293 H1237.1 V2306.8 ZM1237.1,2306.8 V2296.9 H1238.7 V2297 H1240 V2306.8 Z" fill="#ee2a2a"/>
<path d="M1242.3,2306.8 V2299.1 H1243.9 V2298.8 H1244.1 V2306.8 ZM1244.1,2306.8 V2295.4 H1245.7 V2296.8 H1246.8 V2306.8 ZM1246.8,2306.8 V2300 H1248.4 V2299.3 H1249.5 V2306.8 ZM1249.5,2306.8 V2302.2 H1250.9 V2306.8 ZM1250.9,2306.8 V2298.5 H1252.5 V2298.7 H1254.1 V2298.9 H1255.7 V2299 H1257.3 V2298.8 H1257.7 V2306.8 ZM1257.7,2306.8 V2296.8 H1259.3 V2296 H1260.4 V2306.8 ZM1260.4,2306.8 V2302.3 H1262 V2301.5 H1262.2 V2306.8 ZM1262.2,2306.8 V2304.8 H1263.8 V2304.4 H1265.4 V2304.8 H1265.9 V2306.8 ZM1265.9,2306.8 V2298.7 H1267.5 V2299.4 H1267.7 V2306.8 ZM1267.7,2306.8 V2293.1 H1269.3 V2291.6 H1269.5 V2306.8 ZM1269.5,2306.8 V2300 H1271.1 V2299.9 H1272.2 V2306.8 ZM1272.2,2306.8 V2301.5 H1273.8 V2302 H1274 V2306.8 ZM1274,2306.8 V2299.8 H1275.4 V2306.8 ZM1275.4,2306.8 V2287.7 H1277 V2287.9 H1277.2 V2306.8 ZM1277.2,2306.8 V2299.8 H1278.8 V2299.2 H1279.9 V2306.8 ZM1279.9,2306.8 V2291.2 H1281.5 V2290.5 H1282.2 V2306.8 ZM1282.2,2306.8 V2296 H1283.8 V2297.1 H1284.5 V2306.8 ZM1284.5,2306.8 V2301.7 H1286.1 V2302.5 H1287.2 V2306.8 ZM1287.2,2306.8 V2296.7 H1288.8 V2295 H1290.4 V2306.8 ZM1290.4,2306.8 V2299.3 H1292 V2299.2 H1293.1 V2306.8 ZM1293.1,2306.8 V2292.4 H1294.7 V2292.8 H1295.4 V2306.8 ZM1295.4,2306.8 V2302.1 H1297 V2302.5 H1297.2 V2306.8 ZM1298.1,2306.8 V2295.2 H1299.7 V2294.6 H1301.3 V2294.6 H1302.6 V2306.8 ZM1304.5,2306.8 V2301.8 H1306.1 V2302.1 H1307.7 V2302.1 H1309.3 V2301.7 H1310.9 V2301.8 H1312.5 V2302.4 H1314.1 V2302.3 H1315.7 V2302.1 H1317.3 V2301.9 H1317.6 V2306.8 ZM1317.6,2306.8 V2295 H1319.2 V2295.8 H1320.8 V2306.8 ZM1322.6,2306.8 V2302.5 H1324.2 V2301.6 H1324.9 V2306.8 ZM1324.9,2306.8 V2299.2 H1326.5 V2299 H1328.1 V2306.8 ZM1328.1,2306.8 V2293.7 H1329.7 V2293 H1330.3 V2306.8 ZM1330.3,2306.8 V2299.3 H1331.9 V2298.6 H1332.6 V2306.8 ZM1332.6,2306.8 V2294.1 H1334.2 V2292.6 H1334.9 V2306.8 ZM1334.9,2306.8 V2299.7 H1336.5 V2298.7 H1337.6 V2306.8 ZM1337.6,2306.8 V2304.8 H1339.2 V2304.7 H1339.4 V2306.8 ZM1339.4,2306.8 V2299.4 H1341 V2298.8 H1342.6 V2299.9 H1344.2 V2299.1 H1345.3 V2306.8 ZM1345.3,2306.8 V2302.3 H1346.9 V2302.2 H1348.5 V2306.8 ZM1348.5,2306.8 V2302.4 H1350.1 V2301.9 H1350.8 V2306.8 ZM1350.8,2306.8 V2302 H1352.4 V2301.4 H1353.9 V2306.8 ZM1353.9,2306.8 V2293.9 H1355.5 V2291.3 H1357.1 V2293.2 H1357.6 V2306.8 ZM1357.6,2306.8 V2302.3 H1359.2 V2301.7 H1359.4 V2306.8 ZM1359.4,2306.8 V2298.3 H1361 V2300 H1362.6 V2299.5 H1364.2 V2298.6 H1364.8 V2306.8 ZM1364.8,2306.8 V2296.2 H1366.4 V2296.5 H1366.7 V2306.8 ZM1366.7,2306.8 V2300 H1368.3 V2299.9 H1369.4 V2306.8 ZM1369.4,2306.8 V2301.8 H1371 V2301.4 H1371.2 V2306.8 ZM1371.2,2306.8 V2291.1 H1372.8 V2292.7 H1373.9 V2306.8 ZM1373.9,2306.8 V2297.1 H1375.3 V2306.8 ZM1376.2,2306.8 V2301.7 H1377.8 V2301.2 H1378 V2306.8 Z" fill="#ee2a2a"/>
<path d="M1095,2364.1 V2364.1 H1096.8 V2364.1 H1098.6 V2364.1 H1100.4 V2364.1 H1102.2 V2364.1 H1104 V2364.1 H1105.8 V2364.1 H1107.6 V2364.1 H1109.4 V2364.1 H1111.2 V2360.5 H1113 V2361.4 H1114.8 V2360 H1116.6 V2360.9 H1118.4 V2364.1 H1120.2 V2364.1 H1122 V2364.1 H1123.8 V2359.1 H1125.6 V2361.5 H1127.4 V2364.1 H1129.2 V2357.4 H1131 V2358.2 H1132.8 V2364.1 H1134.6 V2364.1 H1136.4 V2364.1 H1138.2 V2359.5 H1140 V2359.2 H1141.8 V2360.6 H1143.6 V2361.6 H1145.4 V2360.2 H1147.2 V2361.6 H1149 V2361.6 H1150.8 V2361.6 H1152.6 V2361.6 H1154.4 V2361.6 H1156.2 V2361.6 H1158 V2364.1 H1159.8 V2364.1 H1161.6 V2364.1 H1163.4 V2364.1 H1165.2 V2364.1 H1167 V2364.1 H1168.8 V2364.1 H1170.6 V2364.1 H1172.4 V2364.1 H1174.2 V2364.1 H1176 V2364.1 H1177.8 V2364.1 H1179.6 V2357.6 H1181.4 V2360 H1183.2 V2364.1 H1185 V2364.1 H1186.8 V2364.1 H1188.6 V2364.1 H1190.4 V2364.1 H1192.2 V2360.5 H1194 V2360.8 H1195.8 V2364.1 H1197.6 V2364.1 H1199.4 V2364.1 H1201.2 V2364.1 H1203 V2364.1 H1204.8 V2364.1 H1206.6 V2364.1 H1208.4 V2364.1 H1210.2 V2364.1 H1212 V2361.6 H1213.8 V2360.2 H1215.6 V2361.6 H1217.4 V2361.6 H1219.2 V2361.6 H1221 V2364.1 H1222.8 V2364.1 H1224.6 V2364.1 H1226.4 V2364.1 H1228.2 V2364.1 H1230 V2364.1 H1231.8 V2360 H1233.6 V2359.4 H1235.4 V2361.6 H1237.2 V2361.6 H1239 V2361.6 H1240.8 V2361.6 H1242.6 V2359.1 H1244.4 V2358.4 H1246.2 V2359.6 H1248 V2361.6 H1249.8 V2361.6 H1251.6 V2359.7 H1253.4 V2360.8 H1255.2 V2359.8 H1257 V2361.4 H1258.8 V2360 H1260.6 V2358.7 H1262.4 V2358.4 H1264.2 V2361.4 H1266 V2359.7 H1267.8 V2357.3 H1269.6 V2358.3 H1271.4 V2360.1 H1273.2 V2361.6 H1275 V2359.5 H1276.8 V2361.2 H1278.6 V2364.1 H1280.4 V2364.1 H1282.2 V2364.1 H1284 V2364.1 H1285.8 V2361.6 H1287.6 V2361.1 H1289.4 V2364.1 H1291.2 V2364.1 H1293 V2364.1 H1294.8 V2361.6 H1296.6 V2361.6 H1298.4 V2361.6 H1300.2 V2361.6 H1302 V2361.6 H1303.8 V2360.2 H1305.6 V2361 H1307.4 V2359.8 H1309.2 V2361 H1311 V2359.8 H1312.8 V2360.7 H1314.6 V2361.6 H1316.4 V2360.8 H1318.2 V2360.3 H1320 V2360.2 H1321.8 V2360.7 H1323.6 V2364.1 H1325.4 V2364.1 H1327.2 V2364.1 H1329 V2364.1 H1330.8 V2364.1 H1332.6 V2361.5 H1334.4 V2359.4 H1336.2 V2360.3 H1338 V2361.6 H1339.8 V2361.5 H1341.6 V2361.6 H1343.4 V2361.3 H1345.2 V2360.4 H1347 V2360.5 H1348.8 V2361.6 H1350.6 V2359.5 H1352.4 V2358.6 H1354.2 V2360.5 H1356 V2360.6 H1357.8 V2361.6 H1359.6 V2364.1 H1361.4 V2364.1 H1363.2 V2364.1 H1365 V2358 H1366.8 V2361.5 H1368.6 V2359.9 H1370.4 V2360.7 H1372.2 V2359.9 H1374 V2360 H1375.8 V2361.6 H1377.6 V2361.6 H1378.4 V2364.1 Z" fill="#1e14d8"/>
<path d="M1095.4,2422.7 V2416.9 H1096.4 V2422.7 ZM1096.4,2422.7 V2421.3 H1097.3 V2422.7 ZM1097.3,2422.7 V2417.7 H1098.9 V2417.5 H1099.1 V2422.7 ZM1099.1,2422.7 V2413 H1100 V2422.7 ZM1100,2422.7 V2412.2 H1101.6 V2412.4 H1101.8 V2422.7 ZM1101.8,2422.7 V2417.8 H1103.4 V2417.1 H1103.6 V2422.7 ZM1103.6,2422.7 V2421.5 H1105.2 V2421.4 H1105.9 V2422.7 ZM1105.9,2422.7 V2421.5 H1107.5 V2421.5 H1108.6 V2422.7 ZM1110.9,2422.7 V2417.5 H1112.2 V2422.7 ZM1112.2,2422.7 V2410.6 H1113.8 V2411.2 H1114.5 V2422.7 ZM1114.5,2422.7 V2418 H1115.9 V2422.7 ZM1120,2422.7 V2421.5 H1121.6 V2421.5 H1122.2 V2422.7 ZM1122.2,2422.7 V2419.8 H1123.8 V2419.9 H1124 V2422.7 ZM1124,2422.7 V2419.9 H1125.6 V2419.9 H1127.2 V2422.7 ZM1127.2,2422.7 V2417.1 H1128.8 V2416.9 H1129 V2422.7 ZM1129,2422.7 V2413.8 H1130.6 V2414.8 H1131.3 V2422.7 ZM1131.3,2422.7 V2417 H1132.9 V2417.4 H1133.6 V2422.7 ZM1133.6,2422.7 V2416.6 H1135.2 V2416.9 H1135.4 V2422.7 ZM1135.4,2422.7 V2416.7 H1137 V2416.8 H1138.6 V2416.7 H1139 V2422.7 ZM1139,2422.7 V2417.7 H1140.4 V2422.7 ZM1140.4,2422.7 V2415.1 H1142 V2413.7 H1143.1 V2422.7 ZM1143.1,2422.7 V2417.1 H1144.7 V2416.8 H1145.4 V2422.7 ZM1145.4,2422.7 V2421.3 H1147 V2421.4 H1148.6 V2421.3 H1150.2 V2421.5 H1150.4 V2422.7 ZM1153.6,2422.7 V2418.1 H1155.2 V2418.4 H1155.4 V2422.7 ZM1155.4,2422.7 V2415 H1157 V2415 H1157.2 V2422.7 ZM1157.2,2422.7 V2419.2 H1158.8 V2419.4 H1160.4 V2419.2 H1160.8 V2422.7 ZM1160.8,2422.7 V2419.3 H1162.4 V2419.4 H1163.5 V2422.7 ZM1163.5,2422.7 V2419.5 H1165.1 V2419.2 H1166.7 V2422.7 ZM1166.7,2422.7 V2412.2 H1168.3 V2412.2 H1168.5 V2422.7 ZM1168.5,2422.7 V2417.8 H1170.1 V2417.6 H1171.3 V2422.7 ZM1171.3,2422.7 V2419.9 H1172.9 V2419.5 H1174.5 V2419.3 H1176.1 V2419.7 H1177.7 V2419.5 H1178.1 V2422.7 ZM1182.2,2422.7 V2419.3 H1183.8 V2420 H1184.4 V2422.7 ZM1184.4,2422.7 V2417.1 H1186 V2416.1 H1187.6 V2416.1 H1188.1 V2422.7 ZM1188.1,2422.7 V2415.9 H1189.7 V2416.6 H1190.3 V2422.7 ZM1190.3,2422.7 V2415.4 H1191.9 V2414.6 H1192.6 V2422.7 ZM1192.6,2422.7 V2414.1 H1194.2 V2414.2 H1194.9 V2422.7 ZM1194.9,2422.7 V2402.3 H1196.5 V2398.9 H1197.6 V2422.7 ZM1197.6,2422.7 V2415 H1199.2 V2414.4 H1199.9 V2422.7 ZM1199.9,2422.7 V2405.9 H1201.5 V2402.2 H1202.6 V2422.7 ZM1202.6,2422.7 V2416 H1204.2 V2415.8 H1205.8 V2422.7 ZM1208,2422.7 V2419 H1209.6 V2418.6 H1210.8 V2422.7 ZM1210.8,2422.7 V2416.4 H1212.4 V2416.4 H1212.6 V2422.7 ZM1212.6,2422.7 V2411.8 H1214.2 V2410.9 H1214.8 V2422.7 ZM1214.8,2422.7 V2416.8 H1216.4 V2416.9 H1218 V2422.7 ZM1220.3,2422.7 V2417.9 H1221.9 V2417.2 H1222.1 V2422.7 ZM1222.1,2422.7 V2415.4 H1223.7 V2415.2 H1224.4 V2422.7 ZM1224.4,2422.7 V2418 H1226 V2417.3 H1227.6 V2417.4 H1228 V2422.7 ZM1228,2422.7 V2414.5 H1229.6 V2415.5 H1229.8 V2422.7 ZM1229.8,2422.7 V2411.9 H1231.4 V2412.1 H1231.6 V2422.7 ZM1231.6,2422.7 V2417.9 H1233.2 V2418.1 H1234.4 V2422.7 ZM1234.4,2422.7 V2419.7 H1236 V2420.3 H1237.6 V2420.2 H1239.2 V2420.2 H1240 V2422.7 Z" fill="#ee2a2a"/>
<path d="M1235,2422.7 V2419.9 H1236.6 V2419.5 H1238.2 V2419.5 H1239.8 V2419.3 H1241.4 V2419.8 H1243 V2419.8 H1244.1 V2422.7 ZM1244.1,2422.7 V2414.4 H1245.7 V2414.5 H1246.3 V2422.7 ZM1246.3,2422.7 V2410.2 H1247.9 V2409 H1248.2 V2422.7 ZM1248.2,2422.7 V2415 H1249.8 V2414.3 H1250.4 V2422.7 ZM1250.4,2422.7 V2412.7 H1252 V2412.5 H1252.7 V2422.7 ZM1252.7,2422.7 V2418.8 H1254.3 V2419.3 H1254.5 V2422.7 ZM1254.5,2422.7 V2421.4 H1256.1 V2421.3 H1257.7 V2421.3 H1259.3 V2421.5 H1260.9 V2422.7 ZM1260.9,2422.7 V2415.6 H1262.2 V2422.7 ZM1262.2,2422.7 V2411.3 H1263.8 V2412.6 H1264.5 V2422.7 ZM1264.5,2422.7 V2420.9 H1266.1 V2421.1 H1266.8 V2422.7 ZM1267.2,2422.7 V2417.6 H1268.6 V2422.7 ZM1268.6,2422.7 V2412.8 H1270.2 V2412.5 H1270.9 V2422.7 ZM1270.9,2422.7 V2416.8 H1272.5 V2417.6 H1273.6 V2422.7 ZM1273.6,2422.7 V2410.5 H1275.2 V2411.9 H1276.8 V2411.5 H1277.7 V2422.7 ZM1277.7,2422.7 V2414.1 H1279.3 V2414.5 H1279.5 V2422.7 ZM1279.5,2422.7 V2415.5 H1281.1 V2414.6 H1282.7 V2414.6 H1283.1 V2422.7 ZM1283.1,2422.7 V2417 H1284.7 V2417.1 H1286.3 V2416 H1286.8 V2422.7 ZM1286.8,2422.7 V2409.5 H1288.4 V2410.5 H1289.5 V2422.7 ZM1289.5,2422.7 V2414.5 H1291.1 V2414.9 H1292.7 V2422.7 ZM1292.7,2422.7 V2408.6 H1294.3 V2409.5 H1295.9 V2410.8 H1297.2 V2422.7 ZM1297.2,2422.7 V2416.1 H1298.8 V2417.2 H1299 V2422.7 ZM1300.4,2422.7 V2414.8 H1302 V2415.3 H1302.2 V2422.7 ZM1302.2,2422.7 V2416.2 H1303.8 V2417.1 H1304.9 V2422.7 ZM1304.9,2422.7 V2404.2 H1306.5 V2406.1 H1307.6 V2422.7 ZM1307.6,2422.7 V2414 H1309.2 V2413.5 H1309.9 V2422.7 ZM1309.9,2422.7 V2401.5 H1311.5 V2401.9 H1313.1 V2422.7 ZM1313.1,2422.7 V2409.6 H1314.7 V2409.7 H1314.9 V2422.7 ZM1314.9,2422.7 V2416.4 H1316.5 V2417.1 H1317.6 V2422.7 ZM1317.6,2422.7 V2417 H1319.2 V2417.4 H1319.4 V2422.7 ZM1319.4,2422.7 V2410.8 H1321 V2410.6 H1321.7 V2422.7 ZM1321.7,2422.7 V2419.5 H1323.1 V2422.7 ZM1326.7,2422.7 V2421.1 H1328.3 V2420.9 H1329.4 V2422.7 ZM1329.4,2422.7 V2416.4 H1331 V2417.3 H1332.6 V2416.3 H1333.1 V2422.7 ZM1333.1,2422.7 V2421.2 H1334.7 V2421.4 H1334.9 V2422.7 ZM1339,2422.7 V2419.7 H1340.6 V2419.6 H1342.1 V2422.7 ZM1342.1,2422.7 V2421.2 H1343.7 V2421.4 H1345.3 V2421.4 H1346.9 V2421.5 H1348.5 V2422.7 ZM1348.5,2422.7 V2417.3 H1349.9 V2422.7 ZM1349.9,2422.7 V2409.6 H1351.5 V2410.3 H1351.7 V2422.7 ZM1351.7,2422.7 V2417.6 H1353.3 V2418 H1353.9 V2422.7 ZM1353.9,2422.7 V2412.2 H1355.5 V2410.5 H1356.7 V2422.7 ZM1356.7,2422.7 V2416.4 H1358.3 V2416.9 H1359.9 V2415.9 H1361.5 V2416.8 H1362.1 V2422.7 ZM1362.1,2422.7 V2414.9 H1363.7 V2415.3 H1365.3 V2415.1 H1366.9 V2415 H1367.6 V2422.7 ZM1367.6,2422.7 V2416.9 H1369.2 V2416 H1370.8 V2416.9 H1372.1 V2422.7 ZM1372.1,2422.7 V2416.9 H1373.7 V2416.4 H1374.8 V2422.7 ZM1374.8,2422.7 V2416.9 H1376.4 V2417.7 H1376.6 V2422.7 ZM1376.6,2422.7 V2411.1 H1378 V2422.7 Z" fill="#ee2a2a"/>
<path d="M1095.4,2480.8 V2471.1 H1096.4 V2480.8 ZM1096.4,2480.8 V2476.2 H1098 V2475.2 H1099.1 V2480.8 ZM1099.1,2480.8 V2476.8 H1100.7 V2475.9 H1101.8 V2480.8 ZM1101.8,2480.8 V2477.3 H1103.4 V2476.5 H1104.5 V2480.8 ZM1104.5,2480.8 V2476.2 H1106.1 V2476 H1107.3 V2480.8 ZM1107.3,2480.8 V2476.9 H1108.9 V2477.5 H1110.5 V2477.4 H1111.8 V2480.8 ZM1120,2480.8 V2477.1 H1121.6 V2477.5 H1121.8 V2480.8 ZM1121.8,2480.8 V2471.7 H1123.4 V2471.8 H1124.5 V2480.8 ZM1124.5,2480.8 V2475.1 H1126.1 V2475.1 H1127.2 V2480.8 ZM1127.2,2480.8 V2470.5 H1128.8 V2471.8 H1130 V2480.8 ZM1130,2480.8 V2476.9 H1131.6 V2477.3 H1133.1 V2480.8 ZM1133.1,2480.8 V2473.4 H1134.5 V2480.8 ZM1134.5,2480.8 V2471.3 H1136.1 V2471.3 H1137.2 V2480.8 ZM1137.2,2480.8 V2473.7 H1138.8 V2472.8 H1139.5 V2480.8 ZM1139.5,2480.8 V2475.3 H1140.8 V2480.8 ZM1140.8,2480.8 V2476.3 H1142.4 V2476 H1143.6 V2480.8 ZM1150.4,2480.8 V2475.4 H1152 V2475.7 H1152.7 V2480.8 ZM1152.7,2480.8 V2473.7 H1154.3 V2473.5 H1155.4 V2480.8 ZM1155.4,2480.8 V2476.4 H1157 V2476 H1157.2 V2480.8 ZM1157.2,2480.8 V2478.1 H1158.8 V2478 H1159.9 V2480.8 ZM1161.3,2480.8 V2477.6 H1162.6 V2480.8 ZM1162.6,2480.8 V2476.4 H1164.2 V2476.7 H1165.8 V2480.8 ZM1165.8,2480.8 V2471.6 H1167.2 V2480.8 ZM1167.2,2480.8 V2472.1 H1168.8 V2471.6 H1170.4 V2470.8 H1170.8 V2480.8 ZM1170.8,2480.8 V2473.3 H1172.4 V2473.2 H1173.1 V2480.8 ZM1173.1,2480.8 V2477.7 H1174.7 V2477.3 H1174.9 V2480.8 ZM1174.9,2480.8 V2476.1 H1176.5 V2476.4 H1177.2 V2480.8 ZM1177.2,2480.8 V2477.8 H1178.8 V2477.7 H1180.4 V2478 H1180.8 V2480.8 ZM1180.8,2480.8 V2476 H1182.4 V2476.6 H1184 V2476.7 H1184.4 V2480.8 ZM1184.4,2480.8 V2478.3 H1186 V2478 H1187.2 V2480.8 ZM1192.6,2480.8 V2475.8 H1194.2 V2475 H1195.8 V2475.7 H1197.4 V2475.6 H1197.6 V2480.8 ZM1202.6,2480.8 V2472.1 H1204 V2480.8 ZM1204,2480.8 V2465.4 H1205.6 V2465.8 H1206.2 V2480.8 ZM1206.2,2480.8 V2469.5 H1207.8 V2470.5 H1208.9 V2480.8 ZM1208.9,2480.8 V2475.6 H1210.5 V2475.7 H1211.7 V2480.8 ZM1211.7,2480.8 V2467.5 H1213.3 V2467.3 H1213.5 V2480.8 ZM1213.5,2480.8 V2472.5 H1215.1 V2473.3 H1216.2 V2480.8 ZM1216.2,2480.8 V2476.1 H1217.8 V2475 H1218 V2480.8 ZM1218,2480.8 V2470.1 H1219.6 V2471.9 H1219.8 V2480.8 ZM1219.8,2480.8 V2468.5 H1221.4 V2468.6 H1221.7 V2480.8 ZM1221.7,2480.8 V2473 H1223.3 V2474.6 H1224.4 V2480.8 ZM1224.4,2480.8 V2476.5 H1226 V2475.6 H1226.2 V2480.8 ZM1226.2,2480.8 V2471 H1227.8 V2471.2 H1228 V2480.8 ZM1228,2480.8 V2473.3 H1229.6 V2473.6 H1230.3 V2480.8 ZM1230.3,2480.8 V2477.1 H1231.6 V2480.8 ZM1231.6,2480.8 V2467.6 H1233.2 V2468.2 H1234.4 V2480.8 ZM1234.4,2480.8 V2472.7 H1236 V2472 H1237.1 V2480.8 ZM1237.1,2480.8 V2474.9 H1238.7 V2475.3 H1240 V2480.8 Z" fill="#1e14d8"/>
<path d="M1238.2,2480.8 V2474.9 H1239.8 V2474.7 H1241.4 V2480.8 ZM1241.4,2480.8 V2477.8 H1243 V2477.8 H1244.1 V2480.8 ZM1244.1,2480.8 V2471.8 H1245.7 V2471.3 H1246.8 V2480.8 ZM1246.8,2480.8 V2475.4 H1248.4 V2474.9 H1250 V2475.8 H1250.9 V2480.8 ZM1250.9,2480.8 V2474.5 H1252.5 V2474.5 H1253.2 V2480.8 ZM1253.2,2480.8 V2472.8 H1254.8 V2471.5 H1255 V2480.8 ZM1255,2480.8 V2469.5 H1256.6 V2468.2 H1258.2 V2467.7 H1259.1 V2480.8 ZM1259.1,2480.8 V2472.6 H1260.4 V2480.8 ZM1265.9,2480.8 V2474.1 H1267.5 V2474.2 H1269.1 V2474.4 H1269.5 V2480.8 ZM1276.8,2480.8 V2476.9 H1278.4 V2476.5 H1280 V2476.3 H1280.4 V2480.8 ZM1280.4,2480.8 V2475 H1282 V2475.1 H1283.6 V2474.9 H1284 V2480.8 ZM1284,2480.8 V2475.8 H1285.6 V2475.2 H1287.2 V2475.7 H1287.7 V2480.8 ZM1287.7,2480.8 V2463.6 H1289.3 V2462.7 H1289.5 V2480.8 ZM1289.5,2480.8 V2459 H1291.1 V2462.1 H1291.3 V2480.8 ZM1291.3,2480.8 V2477.3 H1292.9 V2476.4 H1294.5 V2476.5 H1294.9 V2480.8 ZM1294.9,2480.8 V2477.1 H1296.5 V2477.3 H1297.7 V2480.8 ZM1297.7,2480.8 V2472.2 H1299.3 V2472.4 H1299.5 V2480.8 ZM1299.5,2480.8 V2477 H1301.1 V2476.9 H1301.7 V2480.8 ZM1304.5,2480.8 V2476.9 H1306.1 V2476.2 H1307.6 V2480.8 ZM1307.6,2480.8 V2474.3 H1309.2 V2475.4 H1310.4 V2480.8 ZM1310.4,2480.8 V2470.8 H1312 V2471.6 H1312.2 V2480.8 ZM1312.2,2480.8 V2476.5 H1313.8 V2476.9 H1314 V2480.8 ZM1314.9,2480.8 V2477 H1316.5 V2477.3 H1317.6 V2480.8 ZM1317.6,2480.8 V2476.3 H1319.2 V2476.4 H1320.4 V2480.8 ZM1320.4,2480.8 V2470.3 H1322 V2470 H1323.6 V2469.7 H1325.2 V2469.2 H1325.8 V2480.8 ZM1325.8,2480.8 V2474.9 H1327.4 V2474.6 H1329 V2474.4 H1329.4 V2480.8 ZM1329.4,2480.8 V2474.4 H1331 V2474.5 H1331.7 V2480.8 ZM1331.7,2480.8 V2471.6 H1333.3 V2470.6 H1334 V2480.8 ZM1334,2480.8 V2475.2 H1335.6 V2475.3 H1337.2 V2475.1 H1337.6 V2480.8 ZM1337.6,2480.8 V2477.5 H1339.2 V2477.6 H1339.4 V2480.8 ZM1339.4,2480.8 V2470.1 H1341 V2470 H1341.7 V2480.8 ZM1341.7,2480.8 V2476.9 H1343.3 V2476.3 H1344.9 V2476 H1345.8 V2480.8 ZM1348.5,2480.8 V2474 H1350.1 V2473 H1351.7 V2472.6 H1352.1 V2480.8 ZM1352.1,2480.8 V2468.2 H1353.7 V2469.9 H1354.9 V2480.8 ZM1354.9,2480.8 V2474.5 H1356.5 V2475 H1357.6 V2480.8 ZM1357.6,2480.8 V2477.6 H1359.2 V2477.7 H1360.8 V2480.8 ZM1360.8,2480.8 V2475.5 H1362.4 V2475 H1363 V2480.8 ZM1363,2480.8 V2472.5 H1364.6 V2472.4 H1364.8 V2480.8 ZM1364.8,2480.8 V2475.7 H1366.4 V2476.1 H1367.6 V2480.8 ZM1367.6,2480.8 V2469.1 H1369.2 V2468.3 H1370.3 V2480.8 ZM1370.3,2480.8 V2473.4 H1371.9 V2474.2 H1373.5 V2474.2 H1373.9 V2480.8 ZM1373.9,2480.8 V2476.3 H1375.5 V2475.8 H1376.6 V2480.8 ZM1376.6,2480.8 V2465.8 H1378 V2480.8 Z" fill="#1e14d8"/>
<rect x="1118.5" y="2312.2" width="4.3" height="6.6" fill="#e6c0d6"/>
<rect x="1125.4" y="2312.2" width="5.3" height="6.6" fill="#e6c0d6"/>
<rect x="1141.9" y="2312.2" width="7" height="6.6" fill="#e6c0d6"/>
<rect x="1178.5" y="2312.2" width="13.2" height="6.6" fill="#e6c0d6"/>
<rect x="1195.8" y="2312.2" width="5.2" height="6.6" fill="#e6c0d6"/>
<rect x="1208.9" y="2312.2" width="4.7" height="6.6" fill="#e6c0d6"/>
<rect x="1329.6" y="2312.2" width="4.7" height="6.6" fill="#e6c0d6"/>
<rect x="1360.9" y="2312.2" width="3.8" height="6.6" fill="#e6c0d6"/>
<rect x="1189.8" y="2428.5" width="14.4" height="6.6" fill="#e6c0d6"/>
<rect x="1285.1" y="2428.5" width="14.4" height="6.6" fill="#e6c0d6"/>
<rect x="1302" y="2428.5" width="14.4" height="6.6" fill="#e6c0d6"/>
<rect x="1189.4" y="2268" width="12.7" height="214" fill="#eae27a" fill-opacity="0.72"/>
<text x="1240.5" y="2515.3" text-anchor="middle" font-size="15.5">chr17:32,163,805-32,265,178 (+115685bp)</text>
<rect x="1095" y="2519" width="283.4" height="176" fill="#f9f9f9"/>
<text x="1090.6" y="2531" text-anchor="end" font-size="15.5">5</text>
<path d="M1096.5,2545V2539.3M1098.4,2545V2537.3M1102.5,2545V2540.3M1103.5,2545V2534M1107.2,2545V2532.6M1111.5,2545V2531.2M1112.8,2545V2538.9M1115.4,2545V2535M1128.4,2545V2534.1M1129.7,2545V2532.5M1131.9,2545V2539.1M1137.2,2545V2536.2M1139.4,2545V2531.1M1140.5,2545V2535M1157.9,2545V2530.8M1160.2,2545V2533.5M1161.6,2545V2533.6M1161.1,2545V2536.7M1175.1,2545V2533.9M1182.6,2545V2532.6M1184.7,2545V2535.7M1186.9,2545V2539.6M1192.6,2545V2528.7M1195.4,2545V2532.5M1201,2545V2538.8M1214.2,2545V2535M1215.7,2545V2538.3M1217.6,2545V2532.1M1215.5,2545V2529.1M1218.9,2545V2534.3M1221.1,2545V2535.9M1223.1,2545V2533.4M1221.7,2545V2540.7M1223.4,2545V2538.5M1226,2545V2538.6M1243.3,2545V2536.7M1245.4,2545V2535.9M1247,2545V2536.1M1248.5,2545V2536.6M1250.9,2545V2531.9M1253.6,2545V2530.1M1256,2545V2531.8M1255.5,2545V2536.9M1263.9,2545V2540.8M1270.5,2545V2536.7M1272.7,2545V2538.8M1273.3,2545V2531.7M1275.7,2545V2537.3M1277.8,2545V2536.3M1276.1,2545V2540.3M1278,2545V2535M1280.8,2545V2533M1283.1,2545V2535.5M1284.2,2545V2537M1291.1,2545V2534.5M1292.6,2545V2536.1M1306.1,2545V2534.7M1307.7,2545V2537.9M1308,2545V2540.7M1310.4,2545V2536.4M1310.8,2545V2531M1316.8,2545V2540.1M1318.4,2545V2534.2M1318.3,2545V2539.6M1320.9,2545V2535M1328.6,2545V2537M1340.8,2545V2535.8M1346.5,2545V2532.4M1349,2545V2538.1M1351.1,2545V2532.5M1353,2545V2538.7M1354.9,2545V2534.2M1372.7,2545V2535.9M1374.8,2545V2530.5" fill="none" stroke="#e8323c" stroke-width="1.3"/>
<line x1="1095" y1="2545" x2="1378.4" y2="2545" stroke="#e8323c" stroke-width="1.2"/>
<text x="1090.6" y="2560.7" text-anchor="end" font-size="15.5">5</text>
<path d="M1096.5,2574.7V2564.9M1102.5,2574.7V2568.5M1103.5,2574.7V2562.1M1107.2,2574.7V2568.8M1108.8,2574.7V2562.3M1111.5,2574.7V2568.3M1113.9,2574.7V2566.2M1112.8,2574.7V2569.7M1115.2,2574.7V2563.3M1118.5,2574.7V2566.7M1128.4,2574.7V2566.2M1130.9,2574.7V2568.5M1129.7,2574.7V2566.9M1137.2,2574.7V2566.1M1146.1,2574.7V2559.8M1157.9,2574.7V2569.1M1160.3,2574.7V2565.2M1162.8,2574.7V2568.9M1161.1,2574.7V2570.2M1175.1,2574.7V2561.1M1177.6,2574.7V2569.6M1182.6,2574.7V2562M1184.3,2574.7V2568.9M1192.6,2574.7V2561.5M1195.2,2574.7V2555.2M1195.8,2574.7V2567.5M1195.4,2574.7V2564.8M1197.7,2574.7V2567M1201,2574.7V2567.3M1214.2,2574.7V2566.6M1215.5,2574.7V2565.5M1221.7,2574.7V2561.3M1226,2574.7V2564.7M1228.4,2574.7V2562.6M1243.3,2574.7V2567.2M1245.8,2574.7V2567.7M1248.5,2574.7V2570.3M1250.3,2574.7V2570.2M1253.6,2574.7V2569.6M1255.5,2574.7V2563.4M1257.9,2574.7V2565.2M1259.8,2574.7V2568.6M1263.9,2574.7V2563.3M1266.2,2574.7V2568.2M1270.5,2574.7V2562.5M1272.2,2574.7V2564.4M1273.3,2574.7V2570.4M1275.4,2574.7V2568.6M1276.1,2574.7V2564M1278.5,2574.7V2570.8M1280.8,2574.7V2565.5M1283.2,2574.7V2563.8M1291.1,2574.7V2569.6M1292.6,2574.7V2567.1M1294.9,2574.7V2569.3M1306.1,2574.7V2570.9M1308,2574.7V2563.7M1308,2574.7V2563.6M1310.8,2574.7V2562.6M1312.5,2574.7V2569.4M1318.3,2574.7V2563.3M1320.8,2574.7V2569.8M1322.5,2574.7V2570.8M1340.8,2574.7V2565.5M1346.5,2574.7V2565.9M1353,2574.7V2559.8M1355,2574.7V2569.4M1354.9,2574.7V2570.3M1372.7,2574.7V2562.8" fill="none" stroke="#e8323c" stroke-width="1.3"/>
<line x1="1095" y1="2574.7" x2="1378.4" y2="2574.7" stroke="#e8323c" stroke-width="1.2"/>
<text x="1090.6" y="2590.9" text-anchor="end" font-size="15.5">5</text>
<path d="M1096.5,2603.8V2593.8M1098.7,2603.8V2598M1102.5,2603.8V2599.6M1104.6,2603.8V2593.1M1103.5,2603.8V2595.8M1107.2,2603.8V2599.5M1111.5,2603.8V2594.4M1113.3,2603.8V2594.1M1112.8,2603.8V2594.7M1114.4,2603.8V2593.2M1118.5,2603.8V2594.3M1120.8,2603.8V2595.2M1128.4,2603.8V2599.2M1129.7,2603.8V2593.8M1137.2,2603.8V2597M1139.1,2603.8V2591.7M1141.6,2603.8V2594M1146.1,2603.8V2595.7M1148.4,2603.8V2593.3M1161.1,2603.8V2595.9M1162.6,2603.8V2598.7M1175.1,2603.8V2591.3M1182.6,2603.8V2595.4M1185.1,2603.8V2598.1M1192.6,2603.8V2595.5M1195.4,2603.8V2594.1M1201,2603.8V2598.4M1214.2,2603.8V2594.7M1215.5,2603.8V2595.2M1217.2,2603.8V2594.3M1218.9,2603.8V2597.9M1221.7,2603.8V2597.7M1224,2603.8V2597.1M1243.3,2603.8V2590.6M1245.8,2603.8V2589.7M1247.3,2603.8V2600M1248.5,2603.8V2595.2M1255.5,2603.8V2592.9M1263.9,2603.8V2591.3M1270.5,2603.8V2592.5M1276.1,2603.8V2594.6M1278.6,2603.8V2589.3M1279.8,2603.8V2598.5M1280.8,2603.8V2592M1291.1,2603.8V2598.4M1308,2603.8V2591.6M1316.8,2603.8V2593.5M1318.5,2603.8V2597.2M1318.3,2603.8V2592.2M1320.9,2603.8V2593.8M1321.5,2603.8V2592.2M1328.6,2603.8V2589.7M1331,2603.8V2592.2M1333.5,2603.8V2595.6M1340.8,2603.8V2596.2M1342.9,2603.8V2596M1353,2603.8V2595.6M1354.6,2603.8V2592.6M1354.9,2603.8V2599.1M1356.5,2603.8V2592.3" fill="none" stroke="#e8323c" stroke-width="1.3"/>
<line x1="1095" y1="2603.8" x2="1378.4" y2="2603.8" stroke="#e8323c" stroke-width="1.2"/>
<text x="1090.6" y="2621" text-anchor="end" font-size="15.5">5</text>
<path d="M1102.5,2633.2V2626.6M1104.8,2633.2V2626.1M1107.1,2633.2V2627.5M1103.5,2633.2V2630.6M1107.2,2633.2V2625.7M1111.5,2633.2V2627.8M1112.8,2633.2V2627.1M1115.1,2633.2V2628.9M1117.6,2633.2V2628M1128.4,2633.2V2630M1137.2,2633.2V2626.1M1157.9,2633.2V2627.2M1159.7,2633.2V2628.5M1161.1,2633.2V2626M1163.1,2633.2V2629.3M1195.4,2633.2V2625.6M1197.5,2633.2V2626.9M1200,2633.2V2629.6M1201,2633.2V2629.1M1203.3,2633.2V2629.8M1215.5,2633.2V2628.4M1218.9,2633.2V2627.7M1221.7,2633.2V2630.8M1223.9,2633.2V2631.1M1226,2633.2V2625.5M1243.3,2633.2V2630M1244.9,2633.2V2628.7M1247.1,2633.2V2630.2M1248.5,2633.2V2631.1M1250.7,2633.2V2626.3M1263.9,2633.2V2627M1276.1,2633.2V2628.8M1277.9,2633.2V2626.3M1279.7,2633.2V2627.1M1280.8,2633.2V2631.1M1292.6,2633.2V2628.7M1294.6,2633.2V2625.7M1318.3,2633.2V2630.4M1346.5,2633.2V2631.2" fill="none" stroke="#1e14d8" stroke-width="1.3"/>
<line x1="1095" y1="2633.2" x2="1378.4" y2="2633.2" stroke="#1e14d8" stroke-width="1.2"/>
<text x="1090.6" y="2650.8" text-anchor="end" font-size="15.5">5</text>
<path d="M1107.2,2662.9V2660.3M1118.5,2662.9V2657.2M1128.4,2662.9V2659.8M1130.2,2662.9V2655.3M1133.5,2662.9V2660M1129.7,2662.9V2657.9M1137.2,2662.9V2660.8M1146.1,2662.9V2659.5M1157.9,2662.9V2655.3M1161.1,2662.9V2657.2M1182.6,2662.9V2659.7M1184.3,2662.9V2656.1M1186,2662.9V2657.9M1192.6,2662.9V2655.6M1194.2,2662.9V2659.2M1195.4,2662.9V2660.6M1197.6,2662.9V2656.9M1199.8,2662.9V2657.8M1201,2662.9V2660.8M1203.4,2662.9V2660.8M1206,2662.9V2656.8M1214.2,2662.9V2654.7M1216.3,2662.9V2660.1M1219.2,2662.9V2658.8M1215.5,2662.9V2658.9M1217.3,2662.9V2659.7M1226,2662.9V2653.9M1243.3,2662.9V2655.3M1245.2,2662.9V2657.9M1246.8,2662.9V2659.9M1276.1,2662.9V2657.9M1277.9,2662.9V2659.9M1280.2,2662.9V2660.6M1291.1,2662.9V2660.8M1292.7,2662.9V2656.5M1310.8,2662.9V2660.2M1316.8,2662.9V2658.4M1318.3,2662.9V2657.8M1318.3,2662.9V2658M1328.6,2662.9V2660M1331,2662.9V2659.2M1333.1,2662.9V2657.1M1340.8,2662.9V2659.6M1342.9,2662.9V2660.4M1346.5,2662.9V2660.6M1348.1,2662.9V2659.1M1350.2,2662.9V2658.5M1353,2662.9V2655.5M1355.2,2662.9V2659.6M1372.7,2662.9V2657.2M1374.7,2662.9V2657.6" fill="none" stroke="#1e14d8" stroke-width="1.3"/>
<line x1="1095" y1="2662.9" x2="1378.4" y2="2662.9" stroke="#1e14d8" stroke-width="1.2"/>
<text x="1090.6" y="2681" text-anchor="end" font-size="15.5">5</text>
<path d="M1102.5,2692.3V2688.6M1107.2,2692.3V2689.4M1112.8,2692.3V2689.4M1114.8,2692.3V2688.2M1118.5,2692.3V2684.7M1120.6,2692.3V2684.9M1123.3,2692.3V2687.4M1128.4,2692.3V2686.8M1129.7,2692.3V2685.3M1132.3,2692.3V2684.8M1134.3,2692.3V2688.1M1137.2,2692.3V2686.8M1139.3,2692.3V2686.8M1146.1,2692.3V2685.8M1175.1,2692.3V2686.3M1177.3,2692.3V2685.1M1195.4,2692.3V2687M1201,2692.3V2686.9M1214.2,2692.3V2683.8M1216.2,2692.3V2688.5M1217.2,2692.3V2684.4M1215.5,2692.3V2687.7M1217.3,2692.3V2682.7M1218.9,2692.3V2689.7M1221.7,2692.3V2686.8M1226,2692.3V2688.1M1253.6,2692.3V2686.8M1255.4,2692.3V2685.4M1255.5,2692.3V2687.4M1257.9,2692.3V2686M1259.8,2692.3V2684.9M1263.9,2692.3V2690.1M1291.1,2692.3V2688.5M1292.6,2692.3V2689.1M1294.4,2692.3V2689.9M1296.2,2692.3V2685.9M1310.8,2692.3V2689.9M1313.1,2692.3V2689.9M1315.6,2692.3V2686M1318.3,2692.3V2687.7M1319.8,2692.3V2685.7M1322,2692.3V2687.8M1328.6,2692.3V2686.4M1330.5,2692.3V2688.2M1346.5,2692.3V2687.8M1348.8,2692.3V2686.1M1353,2692.3V2690.1" fill="none" stroke="#1e14d8" stroke-width="1.3"/>
<line x1="1095" y1="2692.3" x2="1378.4" y2="2692.3" stroke="#1e14d8" stroke-width="1.2"/>
<line x1="1095" y1="2696.1" x2="1378.4" y2="2696.1" stroke="#9a9a9a" stroke-width="1.5"/>
<line x1="1095" y1="2699.5" x2="1378.4" y2="2699.5" stroke="#9a9a9a" stroke-width="1.5"/>
<line x1="1096" y1="2707.9" x2="1376.9" y2="2707.9" stroke="#1e14d8" stroke-width="1.4"/>
<line x1="1096.5" y1="2703.2" x2="1096.5" y2="2712.6" stroke="#1e14d8" stroke-width="1.8"/>
<line x1="1102.5" y1="2703.2" x2="1102.5" y2="2712.6" stroke="#1e14d8" stroke-width="1.8"/>
<line x1="1126.9" y1="2703.2" x2="1126.9" y2="2712.6" stroke="#1e14d8" stroke-width="1.8"/>
<line x1="1136.3" y1="2703.2" x2="1136.3" y2="2712.6" stroke="#1e14d8" stroke-width="1.8"/>
<line x1="1146.6" y1="2703.2" x2="1146.6" y2="2712.6" stroke="#1e14d8" stroke-width="1.8"/>
<line x1="1156.9" y1="2703.2" x2="1156.9" y2="2712.6" stroke="#1e14d8" stroke-width="1.8"/>
<line x1="1158.8" y1="2703.2" x2="1158.8" y2="2712.6" stroke="#1e14d8" stroke-width="1.8"/>
<line x1="1190.7" y1="2703.2" x2="1190.7" y2="2712.6" stroke="#1e14d8" stroke-width="1.8"/>
<line x1="1193.5" y1="2703.2" x2="1193.5" y2="2712.6" stroke="#1e14d8" stroke-width="1.8"/>
<line x1="1197.3" y1="2703.2" x2="1197.3" y2="2712.6" stroke="#1e14d8" stroke-width="1.8"/>
<line x1="1200.1" y1="2703.2" x2="1200.1" y2="2712.6" stroke="#1e14d8" stroke-width="1.8"/>
<line x1="1215.1" y1="2703.2" x2="1215.1" y2="2712.6" stroke="#1e14d8" stroke-width="1.8"/>
<line x1="1218.9" y1="2703.2" x2="1218.9" y2="2712.6" stroke="#1e14d8" stroke-width="1.8"/>
<line x1="1221.7" y1="2703.2" x2="1221.7" y2="2712.6" stroke="#1e14d8" stroke-width="1.8"/>
<line x1="1224.5" y1="2703.2" x2="1224.5" y2="2712.6" stroke="#1e14d8" stroke-width="1.8"/>
<line x1="1226.4" y1="2703.2" x2="1226.4" y2="2712.6" stroke="#1e14d8" stroke-width="1.8"/>
<line x1="1243.3" y1="2703.2" x2="1243.3" y2="2712.6" stroke="#1e14d8" stroke-width="1.8"/>
<line x1="1247.9" y1="2703.2" x2="1247.9" y2="2712.6" stroke="#1e14d8" stroke-width="1.8"/>
<line x1="1253.6" y1="2703.2" x2="1253.6" y2="2712.6" stroke="#1e14d8" stroke-width="1.8"/>
<line x1="1255.5" y1="2703.2" x2="1255.5" y2="2712.6" stroke="#1e14d8" stroke-width="1.8"/>
<line x1="1271.4" y1="2703.2" x2="1271.4" y2="2712.6" stroke="#1e14d8" stroke-width="1.8"/>
<line x1="1273.3" y1="2703.2" x2="1273.3" y2="2712.6" stroke="#1e14d8" stroke-width="1.8"/>
<line x1="1277" y1="2703.2" x2="1277" y2="2712.6" stroke="#1e14d8" stroke-width="1.8"/>
<line x1="1280.8" y1="2703.2" x2="1280.8" y2="2712.6" stroke="#1e14d8" stroke-width="1.8"/>
<line x1="1306.1" y1="2703.2" x2="1306.1" y2="2712.6" stroke="#1e14d8" stroke-width="1.8"/>
<line x1="1308" y1="2703.2" x2="1308" y2="2712.6" stroke="#1e14d8" stroke-width="1.8"/>
<line x1="1310.8" y1="2703.2" x2="1310.8" y2="2712.6" stroke="#1e14d8" stroke-width="1.8"/>
<line x1="1312.7" y1="2703.2" x2="1312.7" y2="2712.6" stroke="#1e14d8" stroke-width="1.8"/>
<line x1="1337.1" y1="2703.2" x2="1337.1" y2="2712.6" stroke="#1e14d8" stroke-width="1.8"/>
<line x1="1355.8" y1="2703.2" x2="1355.8" y2="2712.6" stroke="#1e14d8" stroke-width="1.8"/>
<line x1="1376.5" y1="2703.2" x2="1376.5" y2="2712.6" stroke="#1e14d8" stroke-width="1.8"/>
<rect x="1111" y="2703.2" width="2.8" height="9.4" fill="#1e14d8"/>
<rect x="1171.6" y="2703.2" width="6.4" height="9.4" fill="#1e14d8"/>
<rect x="1189.8" y="2703.2" width="3.8" height="9.4" fill="#1e14d8"/>
<rect x="1290.7" y="2703.2" width="3.2" height="9.4" fill="#1e14d8"/>
<text x="1561" y="2254.3" text-anchor="middle" font-size="23"><tspan font-style="italic">Flt1</tspan></text>
<rect x="1411.6" y="2278.5" width="288.6" height="218.5" fill="#f9f9f9"/>
<text x="1406.5" y="2280.8" text-anchor="end" font-size="15.5">15</text>
<text x="1406.5" y="2310.9" text-anchor="end" font-size="15.5">0</text>
<line x1="1411.6" y1="2278.2" x2="1700.2" y2="2278.2" stroke="#f0f0f0" stroke-width="1"/>
<text x="1406.5" y="2340.7" text-anchor="end" font-size="15.5">15</text>
<text x="1406.5" y="2370.1" text-anchor="end" font-size="15.5">0</text>
<line x1="1411.6" y1="2338.1" x2="1700.2" y2="2338.1" stroke="#f0f0f0" stroke-width="1"/>
<text x="1406.5" y="2399.9" text-anchor="end" font-size="15.5">8</text>
<text x="1406.5" y="2429" text-anchor="end" font-size="15.5">0</text>
<line x1="1411.6" y1="2397.3" x2="1700.2" y2="2397.3" stroke="#f0f0f0" stroke-width="1"/>
<text x="1406.5" y="2459.4" text-anchor="end" font-size="15.5">8</text>
<text x="1406.5" y="2489.2" text-anchor="end" font-size="15.5">0</text>
<line x1="1411.6" y1="2456.8" x2="1700.2" y2="2456.8" stroke="#f0f0f0" stroke-width="1"/>
<path d="M1411.9,2302 V2300.4 H1413.5 V2300.4 H1415.1 V2300.4 H1416.7 V2300.4 H1418.3 V2300.4 H1419.9 V2300.4 H1421.5 V2300.4 H1422.8 V2302 ZM1422.8,2302 V2293.4 H1424.4 V2293.7 H1426 V2293.2 H1427.6 V2294.1 H1429.2 V2293.1 H1430.8 V2294.7 H1432.4 V2292.9 H1432.5 V2302 ZM1432.5,2302 V2287.8 H1434.1 V2288.9 H1435.7 V2289.2 H1437.3 V2290.8 H1438.9 V2288.5 H1440.5 V2287.9 H1442.1 V2287.5 H1443.7 V2289.7 H1444.2 V2302 ZM1444.2,2302 V2292.8 H1445.8 V2291 H1447.4 V2292 H1449 V2292.2 H1450.6 V2291.7 H1452 V2302 ZM1452,2302 V2297.5 H1453.6 V2296.3 H1455.2 V2296.2 H1456.8 V2296.9 H1457.8 V2302 ZM1457.8,2302 V2295.6 H1459.4 V2295.4 H1461 V2295.1 H1462.6 V2294.9 H1463.7 V2302 ZM1463.7,2302 V2293.5 H1465.3 V2293.7 H1466.9 V2293.7 H1468.5 V2293.7 H1470.1 V2294 H1471.7 V2293.3 H1473.3 V2294.4 H1474.9 V2295.1 H1475.4 V2302 ZM1475.4,2302 V2292 H1477 V2291.9 H1478.6 V2292.1 H1480.2 V2291.9 H1480.4 V2302 ZM1480.4,2302 V2287.5 H1482 V2287.9 H1483.6 V2284.4 H1484.3 V2302 ZM1484.3,2302 V2294 H1485.9 V2295.1 H1487.5 V2294.5 H1489.1 V2293.8 H1490.7 V2294.9 H1490.9 V2302 ZM1490.9,2302 V2299 H1492.5 V2299.2 H1494.1 V2299.7 H1495.7 V2299.8 H1496.8 V2302 ZM1496.8,2302 V2295 H1498.4 V2295.3 H1500 V2296.4 H1501.6 V2296 H1503.2 V2295.6 H1504.6 V2302 ZM1504.6,2302 V2298.7 H1506.2 V2298.2 H1507.8 V2298.4 H1509.4 V2298.3 H1511 V2297.9 H1512.6 V2298.2 H1514.2 V2297.7 H1515.8 V2298.2 H1517.4 V2298.6 H1518.2 V2302 ZM1518.2,2302 V2294.7 H1519.8 V2294.6 H1521.4 V2294.8 H1523 V2294.8 H1524.6 V2295.6 H1526 V2302 ZM1526,2302 V2298.2 H1527.6 V2298.2 H1529.2 V2298 H1530.8 V2297.7 H1532.4 V2298.1 H1534 V2297.4 H1535.6 V2297.3 H1535.7 V2302 ZM1541.5,2302 V2296.8 H1543.1 V2297.4 H1544.7 V2297.5 H1546.3 V2296.2 H1547.9 V2297.3 H1549.5 V2296.7 H1551.1 V2296.5 H1551.3 V2302 ZM1551.3,2302 V2298 H1552.9 V2297.8 H1554.5 V2298.8 H1556.1 V2297.8 H1557.7 V2298.3 H1559.3 V2298.4 H1560.9 V2298.8 H1562.5 V2298.4 H1562.9 V2302 ZM1562.9,2302 V2296 H1564.5 V2297.6 H1566.1 V2296.5 H1567.7 V2297.4 H1569.3 V2297.6 H1570.9 V2296 H1572.5 V2296.3 H1574.1 V2296.4 H1574.6 V2302 ZM1574.6,2302 V2297.7 H1576.2 V2297.8 H1577.8 V2297.8 H1579.4 V2298.6 H1581 V2297.8 H1582.4 V2302 ZM1582.4,2302 V2295.9 H1584 V2295.4 H1585.6 V2294.9 H1587.2 V2296.5 H1588.8 V2296 H1590.4 V2296.5 H1592 V2296.1 H1593.6 V2296 H1595.2 V2295.6 H1596.8 V2295.6 H1598 V2302 ZM1598,2302 V2290.3 H1599.6 V2290.7 H1601.2 V2291.7 H1602.8 V2291.8 H1604.4 V2289.2 H1605.8 V2302 ZM1605.8,2302 V2296.2 H1607.4 V2295.7 H1609 V2296.3 H1610.6 V2295.9 H1612.2 V2296.2 H1613.5 V2302 ZM1613.5,2302 V2294.5 H1615.1 V2292.8 H1616.7 V2295 H1618.3 V2293.4 H1619.9 V2295 H1621.3 V2302 ZM1621.3,2302 V2299.2 H1622.9 V2299 H1624.5 V2299.2 H1626.1 V2299.7 H1627.7 V2299.4 H1629.3 V2299.7 H1630.9 V2299.5 H1632.5 V2299.3 H1633 V2302 ZM1633,2302 V2296.2 H1634.6 V2296.5 H1636.2 V2296.5 H1637.8 V2295.6 H1639.4 V2296.2 H1641 V2295.9 H1642.6 V2295.6 H1644.2 V2295.6 H1644.7 V2302 ZM1644.7,2302 V2293 H1646.3 V2293.5 H1647.9 V2295 H1649.5 V2293.8 H1651.1 V2293.5 H1652.5 V2302 ZM1652.5,2302 V2292.4 H1654.1 V2291 H1655.7 V2291.2 H1657.3 V2293.5 H1658.9 V2293.8 H1660.2 V2302 ZM1660.2,2302 V2296.3 H1661.8 V2295.9 H1663.4 V2294.9 H1665 V2295.3 H1666.6 V2295 H1668.2 V2296.2 H1669.8 V2295.5 H1670 V2302 ZM1670,2302 V2292.2 H1671.6 V2290.2 H1673.2 V2290.3 H1674.8 V2289.8 H1676.4 V2291.3 H1677.8 V2302 ZM1677.8,2302 V2279.1 H1679.4 V2281.3 H1681 V2282.3 H1682.6 V2282.3 H1682.8 V2302 ZM1682.8,2302 V2287.3 H1684.4 V2287.4 H1686 V2287.9 H1687.6 V2287.9 H1689.2 V2287.5 H1690.8 V2290.4 H1691.4 V2302 ZM1691.4,2302 V2294.6 H1693 V2293.5 H1694.6 V2294.8 H1696.2 V2294.7 H1697.2 V2302 ZM1697.2,2302 V2293.3 H1698.8 V2292.1 H1700.4 V2290.6 H1701.1 V2302 Z" fill="#ee2a2a"/>
<path d="M1411.9,2360 V2358.8 H1413.1 V2360 ZM1418.9,2360 V2358.8 H1420.5 V2358.8 H1422.1 V2358.8 H1423.7 V2358.8 H1425.3 V2358.8 H1426.9 V2358.8 H1428.5 V2358.8 H1430.1 V2358.8 H1431.7 V2358.8 H1433.3 V2358.8 H1434.9 V2358.8 H1436.4 V2360 ZM1436.4,2360 V2358 H1438 V2358 H1439.6 V2358 H1441.2 V2358 H1442.8 V2358 H1444.2 V2360 ZM1446.2,2360 V2356.7 H1447.8 V2356.7 H1449.4 V2356.6 H1451 V2356 H1452 V2360 ZM1457.8,2360 V2358.4 H1459.4 V2358.4 H1461 V2358.4 H1462.6 V2358.4 H1463.7 V2360 ZM1463.7,2360 V2358.8 H1465.3 V2358.8 H1466.9 V2358.8 H1468.5 V2358.8 H1469.5 V2360 ZM1473.4,2360 V2358.8 H1475 V2358.8 H1476.6 V2358.8 H1478.2 V2358.8 H1479.3 V2360 ZM1498.7,2360 V2358.8 H1500.3 V2358.8 H1501.9 V2358.8 H1503.5 V2358.8 H1503.8 V2360 ZM1508.4,2360 V2358.8 H1510 V2358.8 H1511.6 V2358.8 H1513.1 V2360 ZM1529.9,2360 V2358.8 H1531.5 V2358.8 H1533.1 V2358.8 H1534.7 V2358.8 H1535.7 V2360 ZM1539.6,2360 V2358 H1541.2 V2358 H1542.8 V2358 H1544.4 V2358 H1546 V2358 H1547.6 V2358 H1549.2 V2358 H1550.8 V2358 H1551.3 V2360 ZM1551.3,2360 V2357.6 H1552.9 V2357.6 H1554.5 V2357.1 H1556.1 V2357.7 H1557.7 V2357.3 H1559.3 V2357.1 H1560.9 V2357.5 H1562.5 V2357.7 H1562.9 V2360 ZM1562.9,2360 V2357.1 H1564.5 V2356.3 H1566.1 V2356.7 H1566.8 V2360 ZM1580.5,2360 V2358 H1582.1 V2358 H1583.7 V2358 H1585.3 V2358 H1586.3 V2360 ZM1590.2,2360 V2356.4 H1591.8 V2356.5 H1593.4 V2355.4 H1595 V2355.6 H1596 V2360 ZM1599.9,2360 V2358.8 H1601.5 V2358.8 H1603.1 V2358.8 H1604.7 V2358.8 H1605.8 V2360 ZM1634.9,2360 V2358.8 H1636.5 V2358.8 H1638.1 V2358.8 H1639.7 V2358.8 H1640.8 V2360 ZM1652.5,2360 V2358.4 H1654.1 V2358.4 H1655.7 V2358.4 H1657.3 V2358.4 H1658.3 V2360 ZM1662.2,2360 V2358.8 H1663.8 V2358.8 H1665.4 V2358.8 H1667 V2358.8 H1668 V2360 ZM1673.9,2360 V2358.8 H1675.5 V2358.8 H1677.1 V2358.8 H1678.7 V2358.8 H1679.7 V2360 ZM1679.7,2360 V2358.4 H1681.3 V2358.4 H1682.9 V2358.4 H1684.5 V2358.4 H1686.1 V2358.4 H1687.5 V2360 ZM1691.4,2360 V2358.8 H1693 V2358.8 H1694.6 V2358.8 H1696.2 V2358.8 H1697.8 V2358.8 H1699.4 V2358.8 H1701 V2358.8 H1701.1 V2360 Z" fill="#1e14d8"/>
<path d="M1417,2419.9 V2418 H1418.6 V2418 H1420.2 V2418 H1421.8 V2418 H1422.8 V2419.9 ZM1422.8,2419.9 V2417.4 H1424.4 V2417 H1426 V2417.1 H1427.6 V2417 H1429.2 V2416.6 H1430.8 V2417 H1432.4 V2417.3 H1432.5 V2419.9 ZM1432.5,2419.9 V2411.4 H1434.1 V2412.1 H1435.7 V2409.9 H1437.3 V2410.7 H1438.9 V2410.9 H1440.3 V2419.9 ZM1440.3,2419.9 V2416.2 H1441.9 V2416 H1443.5 V2415.8 H1445.1 V2416.5 H1446.2 V2419.9 ZM1446.2,2419.9 V2415.8 H1447.8 V2416.7 H1449.4 V2415.8 H1451 V2416 H1452.6 V2416.8 H1454 V2419.9 ZM1454,2419.9 V2417.4 H1455.6 V2417.2 H1457.2 V2416.8 H1458.8 V2417 H1460.4 V2417 H1461.7 V2419.9 ZM1467.6,2419.9 V2416.1 H1469.2 V2416.8 H1470.8 V2415.8 H1472.4 V2415.8 H1473.4 V2419.9 ZM1473.4,2419.9 V2413.1 H1475 V2413.7 H1476.6 V2413.1 H1478.2 V2413.6 H1479.8 V2413.8 H1481.4 V2412.7 H1483 V2414.2 H1483.1 V2419.9 ZM1483.1,2419.9 V2411.6 H1484.7 V2410.7 H1486.3 V2411.9 H1487.9 V2411.9 H1489 V2419.9 ZM1489,2419.9 V2410.4 H1490.6 V2408.7 H1492.2 V2409.5 H1493.8 V2411 H1495.4 V2408.8 H1496.8 V2419.9 ZM1496.8,2419.9 V2415.7 H1498.4 V2415.8 H1500 V2416.2 H1501.6 V2416.5 H1503.2 V2416 H1504.6 V2419.9 ZM1504.6,2419.9 V2418.7 H1506.2 V2418.7 H1507.8 V2418.7 H1509.4 V2418.7 H1511 V2418.7 H1512.6 V2418.7 H1514.2 V2418.7 H1514.3 V2419.9 ZM1514.3,2419.9 V2413.5 H1515.9 V2411.5 H1517.5 V2412 H1519.1 V2411.4 H1520.7 V2411.8 H1522.1 V2419.9 ZM1522.1,2419.9 V2415.8 H1523.7 V2416.1 H1525.3 V2416.4 H1526.9 V2416.6 H1527.9 V2419.9 ZM1527.9,2419.9 V2416.6 H1529.5 V2417.1 H1531.1 V2416.6 H1532.7 V2416.6 H1534.3 V2416.6 H1535.7 V2419.9 ZM1535.7,2419.9 V2414.5 H1537.3 V2415.5 H1538.9 V2414.8 H1540.5 V2414.7 H1542.1 V2415.5 H1543.5 V2419.9 ZM1543.5,2419.9 V2418 H1545.1 V2418 H1546.7 V2418 H1548.3 V2418 H1549.9 V2418 H1551.3 V2419.9 ZM1555.2,2419.9 V2411.8 H1556.8 V2412.5 H1558.4 V2413.5 H1560 V2413.1 H1561 V2419.9 ZM1561,2419.9 V2412.9 H1562.6 V2412.2 H1564.2 V2411.6 H1565.8 V2410.8 H1567.4 V2412.4 H1569 V2411.5 H1570.6 V2411.6 H1570.7 V2419.9 ZM1570.7,2419.9 V2413.7 H1572.3 V2415.2 H1573.9 V2415.1 H1575.5 V2414.5 H1577.1 V2414.8 H1578.5 V2419.9 ZM1578.5,2419.9 V2416.2 H1580.1 V2416.7 H1581.7 V2415.9 H1583.3 V2416.7 H1584.9 V2416.5 H1586.5 V2416.2 H1588.1 V2415.8 H1589.7 V2416.5 H1590.2 V2419.9 ZM1596,2419.9 V2418 H1597.6 V2418 H1599.2 V2418 H1600.8 V2418 H1602.4 V2418 H1603.8 V2419.9 ZM1603.8,2419.9 V2416.6 H1605.4 V2417 H1607 V2416.8 H1608.6 V2416.7 H1610.2 V2417 H1611.8 V2417.2 H1613.4 V2416.7 H1613.5 V2419.9 ZM1615.5,2419.9 V2408.4 H1617.1 V2409.7 H1618.7 V2410.5 H1620.3 V2409.2 H1621.9 V2408.9 H1623.5 V2408.9 H1625.1 V2409.6 H1625.2 V2419.9 ZM1625.2,2419.9 V2416.1 H1626.8 V2415.7 H1628.4 V2415.7 H1630 V2416 H1631.6 V2416.5 H1633 V2419.9 ZM1633,2419.9 V2418.7 H1634.6 V2418.7 H1636.2 V2418.7 H1637.8 V2418.7 H1639.4 V2418.7 H1641 V2418.7 H1642.6 V2418.7 H1644.2 V2418.7 H1645.8 V2418.7 H1647.4 V2418.7 H1648.6 V2419.9 ZM1648.6,2419.9 V2417.4 H1650.2 V2416.7 H1651.8 V2416.6 H1653.4 V2416.9 H1655 V2417.4 H1656.6 V2417.1 H1658.2 V2416.8 H1659.8 V2417.1 H1660.2 V2419.9 ZM1660.2,2419.9 V2412.7 H1661.8 V2413.4 H1663.4 V2413.6 H1665 V2412.8 H1666.6 V2413.7 H1668.2 V2413.2 H1669.8 V2412.9 H1670 V2419.9 ZM1670,2419.9 V2409.6 H1671.6 V2410 H1673.2 V2408.8 H1674.8 V2408.4 H1675.8 V2419.9 ZM1675.8,2419.9 V2416.3 H1677.4 V2416.5 H1679 V2415.9 H1680.6 V2416.5 H1682.2 V2416.5 H1683.6 V2419.9 ZM1687.5,2419.9 V2418 H1689.1 V2418 H1690.7 V2418 H1692.3 V2418 H1693.9 V2418 H1695.5 V2418 H1697.1 V2418 H1697.2 V2419.9 ZM1699.2,2419.9 V2408 H1700.8 V2407.1 H1701.1 V2419.9 Z" fill="#ee2a2a"/>
<path d="M1411.9,2480.1 V2478.2 H1413.5 V2478.1 H1415.1 V2477.8 H1416.7 V2477.8 H1418.3 V2477.8 H1418.9 V2480.1 ZM1418.9,2480.1 V2477.3 H1420.5 V2476.7 H1422.1 V2477.6 H1423.7 V2476.9 H1425.3 V2476.9 H1426.7 V2480.1 ZM1438.4,2480.1 V2473 H1440 V2472.5 H1441.6 V2473.3 H1443.2 V2473.4 H1444.2 V2480.1 ZM1444.2,2480.1 V2471.2 H1445.8 V2472.7 H1447.4 V2471.5 H1449 V2471.9 H1450.6 V2473.2 H1452.2 V2473.4 H1453.8 V2473.4 H1454 V2480.1 ZM1455.9,2480.1 V2473.3 H1457.5 V2473.7 H1459.1 V2473.3 H1460.7 V2472.5 H1462.3 V2472.6 H1463.7 V2480.1 ZM1473.4,2480.1 V2478.9 H1475 V2478.9 H1476.6 V2478.9 H1478.2 V2478.9 H1479.8 V2478.9 H1481.4 V2478.9 H1483 V2478.9 H1484.6 V2478.9 H1485.1 V2480.1 ZM1489,2480.1 V2472.6 H1490.6 V2473.9 H1492.2 V2472.3 H1493.8 V2473.3 H1494.8 V2480.1 ZM1500.7,2480.1 V2477.9 H1502.3 V2478 H1503.9 V2477.6 H1505.5 V2478 H1507.1 V2477.6 H1508.4 V2480.1 ZM1512.3,2480.1 V2478.9 H1513.9 V2478.9 H1515.5 V2478.9 H1517.1 V2478.9 H1518.2 V2480.1 ZM1524,2480.1 V2478.9 H1525.6 V2478.9 H1527.2 V2478.9 H1528.8 V2478.9 H1529.9 V2480.1 ZM1529.9,2480.1 V2477 H1531.5 V2476.5 H1533.1 V2476.8 H1534.7 V2475.8 H1536.3 V2476.9 H1537.6 V2480.1 ZM1539.6,2480.1 V2473.6 H1541.2 V2474.3 H1542.8 V2474.5 H1543.5 V2480.1 ZM1543.5,2480.1 V2470.5 H1545.1 V2471.2 H1546.7 V2470.7 H1548.3 V2471.5 H1549.3 V2480.1 ZM1555.2,2480.1 V2470.3 H1556.8 V2470.3 H1558.4 V2472.1 H1559 V2480.1 ZM1559,2480.1 V2473.2 H1560.6 V2473.4 H1562.2 V2473.6 H1563.8 V2473.6 H1565.4 V2473 H1567 V2473.5 H1568.6 V2472.6 H1570.2 V2472.6 H1570.7 V2480.1 ZM1570.7,2480.1 V2474.5 H1572.3 V2473.9 H1573.9 V2474.8 H1575.5 V2474.9 H1577.1 V2474.5 H1578.7 V2474.5 H1580.3 V2474.8 H1581.9 V2474.8 H1582.4 V2480.1 ZM1586.3,2480.1 V2476.6 H1587.9 V2476.2 H1589.5 V2475.5 H1591.1 V2475.4 H1592.1 V2480.1 ZM1592.1,2480.1 V2477.8 H1593.7 V2478 H1595.3 V2477.7 H1596.9 V2477.5 H1598 V2480.1 ZM1598,2480.1 V2478.9 H1599.6 V2478.9 H1601.2 V2478.9 H1602.8 V2478.9 H1604.4 V2478.9 H1606 V2478.9 H1607.6 V2478.9 H1609.2 V2478.9 H1609.6 V2480.1 ZM1609.6,2480.1 V2478.1 H1611.2 V2478.1 H1612.8 V2478.1 H1614.4 V2478.1 H1616 V2478.1 H1617.4 V2480.1 ZM1619.4,2480.1 V2478.9 H1621 V2478.9 H1622.6 V2478.9 H1624.2 V2478.9 H1625.8 V2478.9 H1627.4 V2478.9 H1629 V2478.9 H1629.1 V2480.1 ZM1634.9,2480.1 V2478.9 H1636.5 V2478.9 H1638.1 V2478.9 H1639.7 V2478.9 H1640.8 V2480.1 ZM1660.2,2480.1 V2477.6 H1661.8 V2477.8 H1663.4 V2477.9 H1665 V2478.1 H1666.6 V2478 H1668 V2480.1 ZM1668,2480.1 V2475 H1669.6 V2473.7 H1671.2 V2474.9 H1672.8 V2474.9 H1673.9 V2480.1 ZM1693.3,2480.1 V2477.8 H1694.9 V2477.8 H1696.5 V2477.6 H1698.1 V2478 H1699.2 V2480.1 Z" fill="#1e14d8"/>
<rect x="1473.2" y="2308.2" width="12.2" height="6.6" fill="#e6c0d6"/>
<rect x="1675.3" y="2308.2" width="14.6" height="6.6" fill="#e6c0d6"/>
<rect x="1699.3" y="2308.2" width="1.5" height="6.6" fill="#e6c0d6"/>
<rect x="1425.3" y="2427.2" width="25.4" height="6.6" fill="#e6c0d6"/>
<rect x="1465.7" y="2427.2" width="26.3" height="6.6" fill="#e6c0d6"/>
<rect x="1549.6" y="2427.2" width="25.3" height="6.6" fill="#e6c0d6"/>
<rect x="1689.9" y="2427.2" width="10.3" height="6.6" fill="#e6c0d6"/>
<rect x="1472.6" y="2268" width="12.5" height="214" fill="#eae27a" fill-opacity="0.72"/>
<text x="1552.9" y="2515.3" text-anchor="middle" font-size="15.5">chr5:147,780,113-147,785,553 (-53997bp)</text>
<rect x="1411.6" y="2519" width="288.6" height="176" fill="#f9f9f9"/>
<text x="1406.5" y="2531" text-anchor="end" font-size="15.5">5</text>
<path d="M1417.8,2545V2539.3M1425.3,2545V2528.9M1426.6,2545V2535.4M1428.7,2545V2536.7M1431.5,2545V2535M1428.1,2545V2532.5M1429.6,2545V2528.5M1432,2545V2526.2M1433.4,2545V2539.9M1441.3,2545V2538.8M1449.7,2545V2541.6M1456.3,2545V2542.3M1461.9,2545V2539.3M1471.3,2545V2537.6M1486.3,2545V2535.8M1493.8,2545V2539M1495.3,2545V2538.9M1497.2,2545V2535.8M1499.1,2545V2540.4M1502.2,2545V2542.5M1503.2,2545V2540.9M1506.6,2545V2541.1M1509.2,2545V2541M1509.7,2545V2539M1512.6,2545V2538M1523.8,2545V2537M1534.2,2545V2537M1537,2545V2542.4M1538.8,2545V2539.4M1541.1,2545V2539M1539.8,2545V2539.5M1542.6,2545V2536.7M1546.4,2545V2529.4M1548.2,2545V2538M1550,2545V2529.9M1552,2545V2532.5M1563.3,2545V2537.4M1567,2545V2539M1568.6,2545V2535.9M1570.8,2545V2537.9M1573,2545V2535.8M1574.5,2545V2537.8M1578.3,2545V2536.9M1595.2,2545V2540.1M1606.4,2545V2538M1608.5,2545V2537.5M1608.3,2545V2533.6M1610.7,2545V2539.1M1613,2545V2526.1M1614.8,2545V2526.5M1617.1,2545V2532.4M1615.8,2545V2527.4M1617.7,2545V2534.4M1617.7,2545V2533.7M1621.8,2545V2528.9M1635.5,2545V2540.7M1651.5,2545V2535.8M1693.7,2545V2524.5M1695.8,2545V2524.9M1697.8,2545V2535.4M1699.3,2545V2529.5M1547,2545V2526.3M1548.1,2545V2533.8M1549.2,2545V2536.3M1550.3,2545V2539M1551.4,2545V2530.4M1552.5,2545V2532.8M1553.6,2545V2532.1M1554.7,2545V2526.2M1428,2545V2539.4M1429.1,2545V2539.9M1430.2,2545V2540.6M1431.3,2545V2542.4" fill="none" stroke="#e8336a" stroke-width="1.3"/>
<line x1="1411.6" y1="2545" x2="1700.2" y2="2545" stroke="#e8336a" stroke-width="1.2"/>
<text x="1406.5" y="2560.7" text-anchor="end" font-size="15.5">5</text>
<path d="M1417.8,2574.7V2557.2M1425.3,2574.7V2562M1427.7,2574.7V2562.3M1430.2,2574.7V2559.8M1426.6,2574.7V2568.5M1428.4,2574.7V2555.2M1429.6,2574.7V2565.2M1433.4,2574.7V2572.1M1435.5,2574.7V2571.8M1441.3,2574.7V2566.4M1443.9,2574.7V2568.4M1449.7,2574.7V2568.2M1451.8,2574.7V2566M1459.7,2574.7V2572M1462.1,2574.7V2570.4M1461.9,2574.7V2565.6M1469.4,2574.7V2567.9M1471.3,2574.7V2571M1478.8,2574.7V2568.1M1486.3,2574.7V2571.8M1488.4,2574.7V2565.9M1493.8,2574.7V2572.1M1497.2,2574.7V2572.1M1499.5,2574.7V2566.9M1503.2,2574.7V2566.8M1505.2,2574.7V2565.7M1512.6,2574.7V2570M1531.4,2574.7V2565.8M1534.2,2574.7V2568.7M1539.8,2574.7V2569.5M1542.6,2574.7V2567.6M1544.8,2574.7V2567.8M1546.4,2574.7V2555.2M1548.5,2574.7V2560M1548.2,2574.7V2564.7M1550.6,2574.7V2561.4M1550.1,2574.7V2569M1552,2574.7V2567.3M1563.3,2574.7V2569.7M1564.9,2574.7V2569.3M1567,2574.7V2569.7M1570.8,2574.7V2566.8M1574.5,2574.7V2568.9M1578.3,2574.7V2572.1M1595.2,2574.7V2566.6M1597.4,2574.7V2566.3M1606.4,2574.7V2561.4M1608.9,2574.7V2560.4M1608.3,2574.7V2557.4M1613,2574.7V2560.6M1615.3,2574.7V2556M1615.8,2574.7V2559.9M1617.7,2574.7V2568.5M1617.7,2574.7V2560.9M1621.8,2574.7V2560.4M1625.2,2574.7V2558.8M1635.5,2574.7V2565.4M1637.3,2574.7V2571.7M1651.5,2574.7V2570.1M1653.2,2574.7V2567.5M1664.6,2574.7V2566.2M1666.9,2574.7V2569.6M1693.7,2574.7V2565M1695.3,2574.7V2560.1M1698.3,2574.7V2559.8M1699.3,2574.7V2554.9M1701.3,2574.7V2568.2M1702.9,2574.7V2564.6M1547,2574.7V2564.8M1548.1,2574.7V2565.5M1549.2,2574.7V2568.5M1550.3,2574.7V2565.3M1551.4,2574.7V2561M1552.5,2574.7V2562.1M1553.6,2574.7V2557M1554.7,2574.7V2568.6M1428,2574.7V2572.2M1429.1,2574.7V2570.5M1430.2,2574.7V2570.3M1431.3,2574.7V2569.7" fill="none" stroke="#e8336a" stroke-width="1.3"/>
<line x1="1411.6" y1="2574.7" x2="1700.2" y2="2574.7" stroke="#e8336a" stroke-width="1.2"/>
<text x="1406.5" y="2590.9" text-anchor="end" font-size="15.5">5</text>
<path d="M1417.8,2603.8V2584.8M1419.5,2603.8V2592.3M1421,2603.8V2591.6M1425.3,2603.8V2594.8M1427.5,2603.8V2586.7M1426.6,2603.8V2593.4M1428.1,2603.8V2585.5M1430.4,2603.8V2590.3M1429.6,2603.8V2585M1431.4,2603.8V2597.8M1449.7,2603.8V2601.4M1456.3,2603.8V2600.5M1459.7,2603.8V2594.5M1461.5,2603.8V2596.8M1463.1,2603.8V2599.4M1471.3,2603.8V2597.1M1478.8,2603.8V2597.4M1480.7,2603.8V2600.3M1486.3,2603.8V2600.7M1493.8,2603.8V2594.7M1503.2,2603.8V2594.9M1506.6,2603.8V2594.6M1508.4,2603.8V2596.8M1523.8,2603.8V2598.1M1531.4,2603.8V2596.3M1534.2,2603.8V2601.3M1535.8,2603.8V2597.4M1537.5,2603.8V2601.3M1537,2603.8V2600.8M1538.9,2603.8V2598.8M1541.1,2603.8V2596.7M1539.8,2603.8V2601.2M1541.9,2603.8V2596.1M1542.6,2603.8V2596.7M1544.6,2603.8V2597.2M1545.8,2603.8V2598.2M1546.4,2603.8V2595.3M1548.2,2603.8V2590.6M1552,2603.8V2584.4M1553.9,2603.8V2585.1M1567,2603.8V2597.2M1570.8,2603.8V2598.7M1572.9,2603.8V2599.7M1578.3,2603.8V2597.6M1595.2,2603.8V2595.2M1597.5,2603.8V2598.8M1606.4,2603.8V2583.3M1608.7,2603.8V2595.4M1608.3,2603.8V2586.9M1613,2603.8V2592.7M1615.8,2603.8V2593.8M1617.7,2603.8V2597.8M1619.6,2603.8V2584.6M1621.8,2603.8V2596.3M1635.5,2603.8V2595.3M1651.5,2603.8V2600.9M1664.6,2603.8V2594.7M1667.1,2603.8V2594.8M1693.7,2603.8V2587.6M1695.5,2603.8V2586.7M1699.3,2603.8V2584.9M1701.3,2603.8V2588.6M1547,2603.8V2596.4M1548.1,2603.8V2597M1549.2,2603.8V2599.7M1550.3,2603.8V2592.2M1551.4,2603.8V2593.2M1552.5,2603.8V2596.8M1553.6,2603.8V2596.9M1554.7,2603.8V2599.7M1428,2603.8V2600.8M1429.1,2603.8V2601.5M1430.2,2603.8V2602.2M1431.3,2603.8V2599.2" fill="none" stroke="#e8336a" stroke-width="1.3"/>
<line x1="1411.6" y1="2603.8" x2="1700.2" y2="2603.8" stroke="#e8336a" stroke-width="1.2"/>
<text x="1406.5" y="2621" text-anchor="end" font-size="15.5">5</text>
<path d="M1417.8,2633.2V2628.6M1420.2,2633.2V2624.6M1425.3,2633.2V2630.6M1427.1,2633.2V2624.1M1426.6,2633.2V2625M1429.6,2633.2V2626.2M1433.4,2633.2V2631.7M1441.3,2633.2V2631.6M1459.7,2633.2V2628.1M1461.9,2633.2V2629.9M1464.2,2633.2V2628.5M1466.3,2633.2V2631.7M1469.4,2633.2V2631.7M1471.3,2633.2V2631.7M1478.8,2633.2V2630.8M1486.3,2633.2V2627.9M1488.8,2633.2V2629.1M1493.8,2633.2V2628.3M1531.4,2633.2V2631.7M1533.6,2633.2V2627.9M1535,2633.2V2631.4M1534.2,2633.2V2629.9M1537,2633.2V2629.9M1539.8,2633.2V2631.6M1542.6,2633.2V2630.4M1546.4,2633.2V2625.4M1548.2,2633.2V2628.9M1552,2633.2V2623.5M1553.6,2633.2V2624.1M1556.7,2633.2V2621.8M1563.3,2633.2V2628.4M1565.2,2633.2V2630.3M1566.5,2633.2V2627.9M1567,2633.2V2630.7M1570.8,2633.2V2629.6M1573,2633.2V2628.9M1573.8,2633.2V2629.1M1574.5,2633.2V2629.1M1576.3,2633.2V2629.4M1577.8,2633.2V2631.7M1578.3,2633.2V2630.2M1580.2,2633.2V2628.9M1595.2,2633.2V2630.4M1597.3,2633.2V2628.6M1598.5,2633.2V2629.3M1606.4,2633.2V2628M1608.3,2633.2V2627.8M1610.4,2633.2V2627.1M1615.8,2633.2V2621.9M1618.2,2633.2V2626.9M1617.7,2633.2V2628.1M1619.9,2633.2V2625.6M1621.8,2633.2V2620.8M1623.4,2633.2V2621M1625.2,2633.2V2626.8M1635.5,2633.2V2628.7M1637.3,2633.2V2631.7M1651.5,2633.2V2630.5M1664.6,2633.2V2627.9M1693.7,2633.2V2627.5M1699.3,2633.2V2622.9M1547,2633.2V2627.4M1548.1,2633.2V2630.3M1549.2,2633.2V2624.4M1550.3,2633.2V2626.8M1551.4,2633.2V2626.1M1552.5,2633.2V2630.4M1553.6,2633.2V2626.6M1554.7,2633.2V2630.9M1428,2633.2V2631.3M1429.1,2633.2V2630.1M1430.2,2633.2V2628.4M1431.3,2633.2V2628.7" fill="none" stroke="#1e14d8" stroke-width="1.3"/>
<line x1="1411.6" y1="2633.2" x2="1700.2" y2="2633.2" stroke="#1e14d8" stroke-width="1.2"/>
<text x="1406.5" y="2650.8" text-anchor="end" font-size="15.5">5</text>
<path d="M1417.8,2662.9V2658.3M1425.3,2662.9V2654.6M1426.6,2662.9V2659.8M1428.9,2662.9V2650.3M1429.6,2662.9V2658.1M1441.3,2662.9V2660.9M1456.3,2662.9V2659.4M1459.7,2662.9V2661.2M1461.9,2662.9V2657.6M1464,2662.9V2659.8M1471.3,2662.9V2661.4M1473.3,2662.9V2659.5M1493.8,2662.9V2658M1495.7,2662.9V2659.9M1497.2,2662.9V2660.9M1498.8,2662.9V2657.4M1503.2,2662.9V2658.2M1505.2,2662.9V2657.8M1506.6,2662.9V2658.4M1508.7,2662.9V2657.3M1512.6,2662.9V2658.4M1514.5,2662.9V2659.3M1523.8,2662.9V2661M1531.4,2662.9V2660M1534.2,2662.9V2657.6M1535.8,2662.9V2659.6M1539.8,2662.9V2657.5M1542.3,2662.9V2658.3M1543.2,2662.9V2657.5M1542.6,2662.9V2658.3M1544.1,2662.9V2658.4M1547.6,2662.9V2659.5M1546.4,2662.9V2652.8M1548.2,2662.9V2650.5M1550.1,2662.9V2657.3M1552,2662.9V2652.5M1554.4,2662.9V2656.8M1563.3,2662.9V2658.6M1564.8,2662.9V2660.1M1567,2662.9V2661M1570.8,2662.9V2659.2M1572.7,2662.9V2657.7M1574.5,2662.9V2659.7M1576.1,2662.9V2659.3M1578.3,2662.9V2661.4M1595.2,2662.9V2659M1596.9,2662.9V2658.2M1606.4,2662.9V2656.2M1613,2662.9V2660.4M1617.7,2662.9V2651.9M1619.3,2662.9V2655.2M1621.2,2662.9V2653.6M1625.2,2662.9V2660M1635.5,2662.9V2661.4M1651.5,2662.9V2660M1664.6,2662.9V2660.9M1666.6,2662.9V2659.7M1668.7,2662.9V2659.2M1693.7,2662.9V2650.6M1696,2662.9V2660.4M1699.3,2662.9V2652.6M1547,2662.9V2656.4M1548.1,2662.9V2653.6M1549.2,2662.9V2653.4M1550.3,2662.9V2659.2M1551.4,2662.9V2656.5M1552.5,2662.9V2656.6M1553.6,2662.9V2659.2M1554.7,2662.9V2653.7M1428,2662.9V2661.1M1429.1,2662.9V2659.7M1430.2,2662.9V2659.3M1431.3,2662.9V2660.5" fill="none" stroke="#1e14d8" stroke-width="1.3"/>
<line x1="1411.6" y1="2662.9" x2="1700.2" y2="2662.9" stroke="#1e14d8" stroke-width="1.2"/>
<text x="1406.5" y="2681" text-anchor="end" font-size="15.5">5</text>
<path d="M1417.8,2692.3V2681.1M1419.8,2692.3V2682.6M1423,2692.3V2682.1M1425.3,2692.3V2687.5M1428.1,2692.3V2682.3M1429.6,2692.3V2686.5M1433.4,2692.3V2690.8M1441.3,2692.3V2688.1M1449.7,2692.3V2689.8M1451.9,2692.3V2690.7M1454.8,2692.3V2689.8M1459.7,2692.3V2690.8M1461.9,2692.3V2688.9M1464.2,2692.3V2686.8M1469.4,2692.3V2687.1M1472,2692.3V2686.8M1478.8,2692.3V2690.8M1480.9,2692.3V2687.6M1483.7,2692.3V2687.8M1486.3,2692.3V2690.8M1487.9,2692.3V2689.1M1493.8,2692.3V2689.8M1495.7,2692.3V2688.6M1497.2,2692.3V2690.4M1506.6,2692.3V2688.1M1512.6,2692.3V2689.7M1523.8,2692.3V2688.8M1531.4,2692.3V2688.3M1534.2,2692.3V2689.6M1536.4,2692.3V2687.2M1539.8,2692.3V2690.7M1542.4,2692.3V2688.8M1542.6,2692.3V2690.1M1546.4,2692.3V2680.6M1548.2,2692.3V2682.1M1550.1,2692.3V2679.8M1551.4,2692.3V2683.8M1550.1,2692.3V2687.7M1552.1,2692.3V2689.1M1552,2692.3V2682.6M1563.3,2692.3V2687.2M1564.8,2692.3V2690.4M1568.4,2692.3V2687.6M1567,2692.3V2690.4M1570.8,2692.3V2689.9M1572.8,2692.3V2690.8M1574.5,2692.3V2690.8M1576.4,2692.3V2689.9M1578.3,2692.3V2689.8M1595.2,2692.3V2688.2M1606.4,2692.3V2680.5M1608.4,2692.3V2682.8M1608.3,2692.3V2684.4M1609.8,2692.3V2684.4M1613.1,2692.3V2686.4M1613,2692.3V2689M1615.8,2692.3V2682.3M1617.7,2692.3V2689.7M1621.8,2692.3V2686.2M1625.2,2692.3V2682.5M1635.5,2692.3V2687.6M1637.2,2692.3V2690.8M1651.5,2692.3V2687.5M1653.5,2692.3V2690.2M1664.6,2692.3V2689.2M1693.7,2692.3V2685.2M1695.8,2692.3V2681.6M1699.3,2692.3V2686.3M1701.3,2692.3V2682M1702.5,2692.3V2689.8M1547,2692.3V2687.2M1548.1,2692.3V2690.2M1549.2,2692.3V2687.4M1550.3,2692.3V2684.7M1551.4,2692.3V2686.8M1552.5,2692.3V2690M1553.6,2692.3V2686.6M1554.7,2692.3V2686.3M1428,2692.3V2688M1429.1,2692.3V2690.8M1430.2,2692.3V2690M1431.3,2692.3V2690.8" fill="none" stroke="#1e14d8" stroke-width="1.3"/>
<line x1="1411.6" y1="2692.3" x2="1700.2" y2="2692.3" stroke="#1e14d8" stroke-width="1.2"/>
<line x1="1411.6" y1="2696.1" x2="1700.2" y2="2696.1" stroke="#9a9a9a" stroke-width="1.5"/>
<line x1="1411.6" y1="2699.5" x2="1700.2" y2="2699.5" stroke="#9a9a9a" stroke-width="1.5"/>
<line x1="1426.3" y1="2707.9" x2="1694.2" y2="2707.9" stroke="#1e14d8" stroke-width="1.4"/>
<line x1="1433.8" y1="2703.2" x2="1433.8" y2="2712.6" stroke="#1e14d8" stroke-width="1.8"/>
<line x1="1436.6" y1="2703.2" x2="1436.6" y2="2712.6" stroke="#1e14d8" stroke-width="1.8"/>
<line x1="1439.4" y1="2703.2" x2="1439.4" y2="2712.6" stroke="#1e14d8" stroke-width="1.8"/>
<line x1="1442.2" y1="2703.2" x2="1442.2" y2="2712.6" stroke="#1e14d8" stroke-width="1.8"/>
<line x1="1449.7" y1="2703.2" x2="1449.7" y2="2712.6" stroke="#1e14d8" stroke-width="1.8"/>
<line x1="1452.5" y1="2703.2" x2="1452.5" y2="2712.6" stroke="#1e14d8" stroke-width="1.8"/>
<line x1="1455.4" y1="2703.2" x2="1455.4" y2="2712.6" stroke="#1e14d8" stroke-width="1.8"/>
<line x1="1457.8" y1="2703.2" x2="1457.8" y2="2712.6" stroke="#1e14d8" stroke-width="1.8"/>
<line x1="1460" y1="2703.2" x2="1460" y2="2712.6" stroke="#1e14d8" stroke-width="1.8"/>
<line x1="1470.9" y1="2703.2" x2="1470.9" y2="2712.6" stroke="#1e14d8" stroke-width="1.8"/>
<line x1="1479.8" y1="2703.2" x2="1479.8" y2="2712.6" stroke="#1e14d8" stroke-width="1.8"/>
<line x1="1487.3" y1="2703.2" x2="1487.3" y2="2712.6" stroke="#1e14d8" stroke-width="1.8"/>
<line x1="1493.8" y1="2703.2" x2="1493.8" y2="2712.6" stroke="#1e14d8" stroke-width="1.8"/>
<line x1="1496.6" y1="2703.2" x2="1496.6" y2="2712.6" stroke="#1e14d8" stroke-width="1.8"/>
<line x1="1513" y1="2703.2" x2="1513" y2="2712.6" stroke="#1e14d8" stroke-width="1.8"/>
<line x1="1523.8" y1="2703.2" x2="1523.8" y2="2712.6" stroke="#1e14d8" stroke-width="1.8"/>
<line x1="1552.4" y1="2703.2" x2="1552.4" y2="2712.6" stroke="#1e14d8" stroke-width="1.8"/>
<line x1="1564.2" y1="2703.2" x2="1564.2" y2="2712.6" stroke="#1e14d8" stroke-width="1.8"/>
<line x1="1579.2" y1="2703.2" x2="1579.2" y2="2712.6" stroke="#1e14d8" stroke-width="1.8"/>
<line x1="1584.8" y1="2703.2" x2="1584.8" y2="2712.6" stroke="#1e14d8" stroke-width="1.8"/>
<line x1="1607.4" y1="2703.2" x2="1607.4" y2="2712.6" stroke="#1e14d8" stroke-width="1.8"/>
<line x1="1609.2" y1="2703.2" x2="1609.2" y2="2712.6" stroke="#1e14d8" stroke-width="1.8"/>
<line x1="1613" y1="2703.2" x2="1613" y2="2712.6" stroke="#1e14d8" stroke-width="1.8"/>
<line x1="1615.8" y1="2703.2" x2="1615.8" y2="2712.6" stroke="#1e14d8" stroke-width="1.8"/>
<line x1="1621.4" y1="2703.2" x2="1621.4" y2="2712.6" stroke="#1e14d8" stroke-width="1.8"/>
<line x1="1624.8" y1="2703.2" x2="1624.8" y2="2712.6" stroke="#1e14d8" stroke-width="1.8"/>
<line x1="1636.4" y1="2703.2" x2="1636.4" y2="2712.6" stroke="#1e14d8" stroke-width="1.8"/>
<line x1="1651.5" y1="2703.2" x2="1651.5" y2="2712.6" stroke="#1e14d8" stroke-width="1.8"/>
<line x1="1664.6" y1="2703.2" x2="1664.6" y2="2712.6" stroke="#1e14d8" stroke-width="1.8"/>
<line x1="1684.3" y1="2703.2" x2="1684.3" y2="2712.6" stroke="#1e14d8" stroke-width="1.8"/>
<line x1="1693.7" y1="2703.2" x2="1693.7" y2="2712.6" stroke="#1e14d8" stroke-width="1.8"/>
<rect x="1426.3" y="2703.2" width="3.8" height="9.4" fill="#1e14d8"/>
<rect x="1537.5" y="2703.2" width="2.4" height="9.4" fill="#1e14d8"/>
<rect x="1543.2" y="2703.2" width="1.9" height="9.4" fill="#1e14d8"/>
<rect x="1588.6" y="2703.2" width="11.3" height="9.4" fill="#1e14d8"/>
<text x="1876.3" y="2254.3" text-anchor="middle" font-size="23"><tspan font-style="italic">Wnt6</tspan></text>
<rect x="1740.2" y="2278.5" width="276" height="218.5" fill="#f9f9f9"/>
<text x="1734.2" y="2280.8" text-anchor="end" font-size="15.5">6</text>
<text x="1734.2" y="2310.9" text-anchor="end" font-size="15.5">0</text>
<line x1="1740.2" y1="2278.2" x2="2016.2" y2="2278.2" stroke="#f0f0f0" stroke-width="1"/>
<text x="1734.2" y="2340.7" text-anchor="end" font-size="15.5">6</text>
<text x="1734.2" y="2370.1" text-anchor="end" font-size="15.5">0</text>
<line x1="1740.2" y1="2338.1" x2="2016.2" y2="2338.1" stroke="#f0f0f0" stroke-width="1"/>
<text x="1734.2" y="2399.9" text-anchor="end" font-size="15.5">6</text>
<text x="1734.2" y="2429" text-anchor="end" font-size="15.5">0</text>
<line x1="1740.2" y1="2397.3" x2="2016.2" y2="2397.3" stroke="#f0f0f0" stroke-width="1"/>
<text x="1734.2" y="2459.4" text-anchor="end" font-size="15.5">6</text>
<text x="1734.2" y="2489.2" text-anchor="end" font-size="15.5">0</text>
<line x1="1740.2" y1="2456.8" x2="2016.2" y2="2456.8" stroke="#f0f0f0" stroke-width="1"/>
<path d="M1740,2302 V2289.2 H1742.2 V2292.4 H1744.4 V2289.6 H1746.6 V2291.2 H1747.8 V2302 ZM1747.8,2302 V2294.8 H1750 V2294 H1752.2 V2293.2 H1754.4 V2292.9 H1755.6 V2302 ZM1755.6,2302 V2295.2 H1757.8 V2294.8 H1760 V2294.3 H1762.2 V2293.5 H1763.4 V2302 ZM1763.4,2302 V2294.7 H1765.6 V2296.5 H1767.8 V2296 H1770 V2296.3 H1772.2 V2295.9 H1773.1 V2302 ZM1773.1,2302 V2290.7 H1775.3 V2289.4 H1777 V2302 ZM1780.1,2302 V2291.9 H1782.3 V2292.6 H1784.5 V2294.2 H1786.7 V2292.6 H1786.7 V2302 ZM1786.7,2302 V2284.3 H1788.9 V2286.9 H1790.6 V2302 ZM1790.6,2302 V2278.6 H1792.8 V2277.7 H1793.7 V2302 ZM1802.3,2302 V2283.3 H1804.5 V2281.4 H1806.2 V2302 ZM1806.2,2302 V2289.8 H1808.4 V2290.2 H1810.6 V2289.2 H1812.8 V2290.4 H1814 V2302 ZM1814,2302 V2293.2 H1816.2 V2294.2 H1817.9 V2302 ZM1817.9,2302 V2288.4 H1820.1 V2291 H1822.3 V2291 H1823.7 V2302 ZM1823.7,2302 V2292.7 H1825.9 V2294 H1827.6 V2302 ZM1827.6,2302 V2291.5 H1829.8 V2290 H1831.5 V2302 ZM1831.5,2302 V2293.4 H1833.7 V2293.4 H1835.9 V2293.5 H1837.3 V2302 ZM1840.1,2302 V2294.4 H1842.3 V2294 H1844.5 V2293.5 H1845.1 V2302 ZM1849,2302 V2298.5 H1851.2 V2298.7 H1853.4 V2298.7 H1855.6 V2298.3 H1857.8 V2298 H1860 V2297.8 H1860.7 V2302 ZM1864.6,2302 V2293 H1866.8 V2293.5 H1868.5 V2302 ZM1868.5,2302 V2291.1 H1870.7 V2291.6 H1872.4 V2302 ZM1872.4,2302 V2283.2 H1874.6 V2280.8 H1876.3 V2302 ZM1876.3,2302 V2292.1 H1878.5 V2289.2 H1880.7 V2290.5 H1882.1 V2302 ZM1882.1,2302 V2286.8 H1884.3 V2283.4 H1886.5 V2283.9 H1887.9 V2302 ZM1887.9,2302 V2292.2 H1890.1 V2291.3 H1892.3 V2289.2 H1893.8 V2302 ZM1893.8,2302 V2293.9 H1896 V2293.3 H1898.2 V2293.5 H1900.4 V2292.8 H1901.6 V2302 ZM1904.7,2302 V2286.2 H1906.9 V2288.2 H1909.1 V2286.2 H1909.3 V2302 ZM1909.3,2302 V2293.8 H1911.5 V2294.4 H1913.7 V2294.6 H1915.2 V2302 ZM1915.2,2302 V2289.2 H1917.4 V2289 H1919.1 V2302 ZM1919.1,2302 V2292.9 H1921.3 V2294.7 H1923 V2302 ZM1923,2302 V2290 H1925.2 V2289.4 H1926.9 V2302 ZM1926.9,2302 V2294.6 H1929.1 V2293.8 H1931.3 V2294.7 H1932.7 V2302 ZM1932.7,2302 V2293.2 H1934.9 V2293.3 H1937.1 V2294.3 H1939.3 V2295 H1940.5 V2302 ZM1940.5,2302 V2289.9 H1942.7 V2289.9 H1944.9 V2288.9 H1946.3 V2302 ZM1954.1,2302 V2296.5 H1956.3 V2296.2 H1958.5 V2296.8 H1959.9 V2302 ZM1963.8,2302 V2295.8 H1966 V2296.2 H1967.7 V2302 ZM1971.6,2302 V2296.2 H1973.8 V2296.3 H1975.5 V2302 ZM1985.2,2302 V2284.8 H1987.4 V2286.3 H1989.1 V2302 ZM1989.1,2302 V2296.1 H1991.3 V2296.4 H1993.5 V2296.5 H1995 V2302 ZM1998.9,2302 V2294.4 H2001.1 V2294.4 H2003.3 V2294.2 H2004.7 V2302 ZM2015.2,2302 V2297.4 H2017.4 V2298.1 H2017.6 V2302 Z" fill="#ee2a2a"/>
<path d="M1740,2360 V2354.8 H1742.2 V2353.4 H1743.9 V2360 ZM1743.9,2360 V2348.7 H1746.1 V2346.6 H1747.8 V2360 ZM1747.8,2360 V2352.3 H1750 V2351.9 H1751.7 V2360 ZM1751.7,2360 V2346.6 H1753.9 V2346.4 H1755.6 V2360 ZM1755.6,2360 V2355.3 H1757.8 V2355.5 H1760 V2356.1 H1762.2 V2356.1 H1763.4 V2360 ZM1775.1,2360 V2357.4 H1777.3 V2357.1 H1779.5 V2357.3 H1780.9 V2360 ZM1786.7,2360 V2351.8 H1788.9 V2353.2 H1791.1 V2352.5 H1792.6 V2360 ZM1808.1,2360 V2356.7 H1810.3 V2356.8 H1812.5 V2357.5 H1814 V2360 ZM1814,2360 V2353.2 H1816.2 V2352.6 H1817.9 V2360 ZM1817.9,2360 V2357.4 H1820.1 V2357 H1822.3 V2357.4 H1823.7 V2360 ZM1831.5,2360 V2346.3 H1833.7 V2345.3 H1835.4 V2360 ZM1835.4,2360 V2337.1 H1837.6 V2339.3 H1839.3 V2360 ZM1839.3,2360 V2353.6 H1841.2 V2360 ZM1847.1,2360 V2356.8 H1849.3 V2357 H1851.5 V2357.4 H1852.9 V2360 ZM1854.9,2360 V2354 H1857.1 V2353.8 H1859.3 V2353.6 H1861.5 V2353.7 H1862.6 V2360 ZM1872.4,2360 V2356.6 H1874.6 V2357.3 H1876.8 V2357.4 H1878.2 V2360 ZM1882.1,2360 V2350.1 H1884.3 V2349.7 H1886 V2360 ZM1886,2360 V2342.6 H1888.2 V2340.7 H1889.9 V2360 ZM1889.9,2360 V2352.6 H1892.1 V2352.5 H1893.8 V2360 ZM1895.7,2360 V2355.7 H1897.9 V2355.4 H1900.1 V2356.4 H1901.6 V2360 ZM1907.4,2360 V2356.6 H1909.6 V2357.2 H1911.3 V2360 ZM1911.3,2360 V2347.6 H1913.5 V2347.3 H1915.2 V2360 ZM1919.1,2360 V2353.8 H1921.3 V2354 H1923 V2360 ZM1923,2360 V2357.2 H1925.2 V2356.6 H1926.9 V2360 ZM1932.7,2360 V2357.6 H1934.9 V2357.6 H1937.1 V2358 H1938.5 V2360 ZM1940.5,2360 V2357.6 H1942.7 V2357.9 H1944.9 V2357.7 H1946.3 V2360 ZM1950.2,2360 V2357.2 H1952.4 V2357.2 H1954.1 V2360 ZM1959.9,2360 V2357.8 H1962.1 V2357.8 H1963.8 V2360 ZM1977.5,2360 V2357.5 H1979.7 V2357.7 H1981.9 V2357.8 H1984.1 V2357.4 H1986.3 V2357.7 H1988.5 V2357.8 H1990.7 V2357.5 H1992.9 V2357.5 H1993 V2360 Z" fill="#1e14d8"/>
<path d="M1740,2419.9 V2413.5 H1742.2 V2412.8 H1744.4 V2411.7 H1746.6 V2412.3 H1747.8 V2419.9 ZM1747.8,2419.9 V2416.8 H1750 V2415.9 H1752.2 V2416.2 H1754.4 V2415.8 H1755.6 V2419.9 ZM1755.6,2419.9 V2405.7 H1757.8 V2408.2 H1759.5 V2419.9 ZM1759.5,2419.9 V2413.4 H1761.7 V2413.6 H1763.9 V2412.4 H1765.3 V2419.9 ZM1765.3,2419.9 V2413.7 H1767.5 V2413.5 H1769.7 V2413.6 H1771.9 V2412.7 H1773.1 V2419.9 ZM1779,2419.9 V2418.7 H1781.2 V2418.7 H1783.4 V2418.7 H1785.6 V2418.7 H1787.8 V2418.7 H1788.7 V2419.9 ZM1788.7,2419.9 V2414.1 H1790.9 V2413.2 H1793.1 V2413.7 H1794.5 V2419.9 ZM1794.5,2419.9 V2407.4 H1796.7 V2405.6 H1798.4 V2419.9 ZM1798.4,2419.9 V2409.9 H1800.6 V2410.8 H1802.3 V2419.9 ZM1802.3,2419.9 V2414.4 H1804.5 V2415 H1806.7 V2414.6 H1808.1 V2419.9 ZM1808.1,2419.9 V2416 H1810.3 V2415.7 H1812 V2419.9 ZM1821.8,2419.9 V2406.2 H1824 V2405.4 H1825.7 V2419.9 ZM1825.7,2419.9 V2399.7 H1827.9 V2398.8 H1829.6 V2419.9 ZM1829.6,2419.9 V2404.2 H1831.8 V2399.9 H1833.4 V2419.9 ZM1833.4,2419.9 V2406.5 H1835.6 V2405.8 H1837.8 V2408.5 H1839.3 V2419.9 ZM1839.3,2419.9 V2413.1 H1841.5 V2414.2 H1843.7 V2413.9 H1845.1 V2419.9 ZM1847.1,2419.9 V2416.2 H1849.3 V2415.6 H1851.5 V2415.7 H1852.9 V2419.9 ZM1854.9,2419.9 V2414.3 H1857.1 V2415.2 H1859.3 V2413.6 H1861.5 V2414.5 H1862.6 V2419.9 ZM1862.6,2419.9 V2412.1 H1864.8 V2412.5 H1866.5 V2419.9 ZM1866.5,2419.9 V2416.2 H1868.7 V2415.9 H1870.9 V2416.2 H1873.1 V2416.4 H1874.3 V2419.9 ZM1880.2,2419.9 V2418.7 H1882.4 V2418.7 H1884 V2419.9 ZM1889.9,2419.9 V2418 H1892.1 V2418 H1894.3 V2418 H1896.5 V2418 H1897.7 V2419.9 ZM1901.6,2419.9 V2412.8 H1903.8 V2412.6 H1906 V2412 H1907.4 V2419.9 ZM1907.4,2419.9 V2399.2 H1909.6 V2400.3 H1911.3 V2419.9 ZM1911.3,2419.9 V2416.6 H1913.5 V2416.5 H1915.2 V2419.9 ZM1917.1,2419.9 V2417.1 H1919.3 V2417.5 H1921.5 V2417 H1923.7 V2417.3 H1925.9 V2417 H1928.1 V2417.7 H1930.3 V2417.4 H1932.5 V2417.3 H1932.7 V2419.9 ZM1934.6,2419.9 V2418.7 H1936.8 V2418.7 H1939 V2418.7 H1941.2 V2418.7 H1943.4 V2418.7 H1945.6 V2418.7 H1947.8 V2418.7 H1948.3 V2419.9 ZM1959.9,2419.9 V2414.4 H1962.1 V2413.9 H1964.3 V2415.1 H1966.5 V2414.3 H1967.7 V2419.9 ZM1967.7,2419.9 V2406.7 H1969.9 V2405.3 H1971.6 V2419.9 ZM1971.6,2419.9 V2413.3 H1973.8 V2413 H1975.5 V2419.9 ZM1975.5,2419.9 V2414.8 H1977.7 V2415.1 H1979.9 V2414.3 H1981.4 V2419.9 ZM1981.4,2419.9 V2417.6 H1983.6 V2417.3 H1985.2 V2419.9 ZM1993,2419.9 V2417.5 H1995.2 V2417.6 H1996.9 V2419.9 ZM2008.6,2419.9 V2418.7 H2010.8 V2418.7 H2012.5 V2419.9 Z" fill="#ee2a2a"/>
<path d="M1740,2478.9 V2477.4 H1742.2 V2477.4 H1743.9 V2478.9 ZM1747.8,2478.9 V2477 H1750 V2477 H1752.2 V2477 H1753.7 V2478.9 ZM1755.6,2478.9 V2477.7 H1757.8 V2477.7 H1759.5 V2478.9 ZM1759.5,2478.9 V2475.1 H1761.7 V2475.4 H1763.9 V2475.8 H1766.1 V2475.6 H1768.3 V2476 H1770.5 V2475.9 H1772.7 V2475.3 H1773.1 V2478.9 ZM1780.9,2478.9 V2473.2 H1783.1 V2473.3 H1785.3 V2474.2 H1786.7 V2478.9 ZM1786.7,2478.9 V2474.9 H1788.9 V2474.8 H1791.1 V2474.9 H1793.3 V2475.4 H1795.5 V2474.8 H1796.5 V2478.9 ZM1796.5,2478.9 V2474.2 H1798.7 V2474.1 H1800.9 V2473.6 H1803.1 V2474.5 H1804.3 V2478.9 ZM1804.3,2478.9 V2463.2 H1806.5 V2465.5 H1808.7 V2462.8 H1810.1 V2478.9 ZM1810.1,2478.9 V2458.4 H1812.3 V2459.1 H1814 V2478.9 ZM1814,2478.9 V2473.7 H1816.2 V2473.9 H1816.7 V2478.9 ZM1829.6,2478.9 V2477 H1831.8 V2477 H1834 V2477 H1836.2 V2477 H1838.4 V2477 H1840.6 V2477 H1842.8 V2477 H1843.2 V2478.9 ZM1843.2,2478.9 V2475.5 H1845.4 V2475.1 H1847.6 V2474.7 H1849 V2478.9 ZM1849,2478.9 V2473 H1851.2 V2473.2 H1853.4 V2472.8 H1855.6 V2473.2 H1856.8 V2478.9 ZM1856.8,2478.9 V2471.3 H1859 V2471.8 H1861.2 V2472 H1862.6 V2478.9 ZM1862.6,2478.9 V2477 H1864.8 V2477 H1867 V2477 H1869.2 V2477 H1871.4 V2477 H1873.6 V2477 H1874.3 V2478.9 ZM1886,2478.9 V2475.1 H1888.2 V2475 H1890.4 V2475.4 H1892.6 V2474.9 H1894.8 V2475 H1897 V2475.4 H1897.7 V2478.9 ZM1897.7,2478.9 V2472.9 H1899.9 V2473 H1902.1 V2473.8 H1904.3 V2473.4 H1905.5 V2478.9 ZM1905.5,2478.9 V2474.8 H1907.7 V2475.7 H1909.9 V2474.7 H1912.1 V2475.6 H1913.2 V2478.9 ZM1913.2,2478.9 V2472.4 H1915.4 V2471.9 H1917.6 V2472.1 H1919.1 V2478.9 ZM1919.1,2478.9 V2476.5 H1921.3 V2476.5 H1923 V2478.9 ZM1928.8,2478.9 V2467.7 H1931 V2466.6 H1933.2 V2467.6 H1934.6 V2478.9 ZM1934.6,2478.9 V2470.8 H1936.8 V2470.5 H1938.5 V2478.9 ZM1938.5,2478.9 V2462.9 H1940.5 V2478.9 ZM1940.5,2478.9 V2472.7 H1942.7 V2473 H1944.9 V2473.3 H1946.3 V2478.9 ZM1946.3,2478.9 V2477 H1948.5 V2477 H1950.7 V2477 H1952.2 V2478.9 ZM1958,2478.9 V2477 H1960.2 V2477 H1962.4 V2477 H1963.8 V2478.9 ZM1963.8,2478.9 V2475.3 H1966 V2475.5 H1968.2 V2474.9 H1970.4 V2475.3 H1971.6 V2478.9 ZM1971.6,2478.9 V2469.9 H1973.8 V2468.9 H1975.5 V2478.9 ZM1975.5,2478.9 V2467.4 H1977.7 V2467.5 H1979.9 V2468.4 H1982.1 V2468.1 H1983.3 V2478.9 ZM1983.3,2478.9 V2473 H1985.5 V2471.3 H1987.7 V2471.7 H1989.1 V2478.9 ZM1989.1,2478.9 V2476.1 H1991.3 V2476.6 H1993.5 V2476.1 H1995.7 V2476.7 H1996.9 V2478.9 ZM1996.9,2478.9 V2477 H1999.1 V2477 H2001.3 V2477 H2003.5 V2477 H2004.7 V2478.9 ZM2008.6,2478.9 V2477.7 H2010.8 V2477.7 H2013 V2477.7 H2014.4 V2478.9 Z" fill="#1e14d8"/>
<rect x="1817.2" y="2308.8" width="7.3" height="6.6" fill="#e6c0d6"/>
<rect x="1875.9" y="2308.8" width="11" height="6.6" fill="#e6c0d6"/>
<rect x="1749.3" y="2425.8" width="24.3" height="6.6" fill="#e6c0d6"/>
<rect x="1817.2" y="2425.8" width="25.1" height="6.6" fill="#e6c0d6"/>
<rect x="1958.4" y="2425.8" width="24.3" height="6.6" fill="#e6c0d6"/>
<rect x="1817.2" y="2268" width="9.7" height="214" fill="#eae27a" fill-opacity="0.72"/>
<text x="1873.8" y="2515.3" text-anchor="middle" font-size="15.5">chr1:74,796,076-74,801,640 (+41760bp)</text>
<rect x="1740.2" y="2519" width="276" height="176" fill="#f9f9f9"/>
<text x="1734.2" y="2531" text-anchor="end" font-size="15.5">20</text>
<path d="M1740.2,2545 V2544.7 H1741.7 V2544.8 H1743.2 V2545 H1744.7 V2544.8 H1746.2 V2544.6 H1747.7 V2544.8 H1749.2 V2544.7 H1750.7 V2544.9 H1752.2 V2544.8 H1753.7 V2544.8 H1755.2 V2544.9 H1756.7 V2544.9 H1758.2 V2545 H1759.7 V2544.6 H1761.2 V2544.7 H1762.7 V2544.7 H1764.2 V2544.6 H1765.7 V2544.7 H1767.2 V2544.9 H1768.7 V2544.6 H1770.2 V2544.7 H1771.7 V2544.5 H1773.2 V2544.9 H1774.7 V2544.8 H1776.2 V2545 H1777.7 V2544.6 H1779.2 V2544.7 H1780.7 V2544.6 H1782.2 V2544.8 H1783.7 V2544.5 H1785.2 V2544.6 H1786.7 V2544.6 H1788.2 V2545 H1789.7 V2544.6 H1791.2 V2544.5 H1792.7 V2544.6 H1794.2 V2544.8 H1795.7 V2544.7 H1797.2 V2544.9 H1798.7 V2544.9 H1800.2 V2544.6 H1801.7 V2544.7 H1803.2 V2544.6 H1804.7 V2544.9 H1806.2 V2544.8 H1807.7 V2544.6 H1809.2 V2544.9 H1810.7 V2544.7 H1812.2 V2544.8 H1813.7 V2544.9 H1815.2 V2544.6 H1816.7 V2544.7 H1818.2 V2544.8 H1819.7 V2544.6 H1821.2 V2544.5 H1822.7 V2545 H1824.2 V2544.5 H1825.7 V2544.9 H1827.2 V2544.8 H1828.7 V2544.9 H1830.2 V2545 H1831.7 V2544.7 H1833.2 V2544.9 H1834.7 V2544.7 H1836.2 V2544.5 H1837.7 V2544.6 H1839.2 V2544.9 H1840.7 V2544.9 H1842.2 V2544.6 H1843.7 V2544.7 H1845.2 V2544.5 H1846.7 V2544.8 H1848.2 V2544.7 H1849.7 V2544.8 H1851.2 V2545 H1852.7 V2544.8 H1854.2 V2544.7 H1855.7 V2544.8 H1857.2 V2544.5 H1858.7 V2544.6 H1860.2 V2544.9 H1861.7 V2545 H1863.2 V2545 H1864.7 V2544.9 H1866.2 V2544.9 H1867.7 V2545 H1869.2 V2544.6 H1870.7 V2544.8 H1872.2 V2544.8 H1873.7 V2544.8 H1875.2 V2544.8 H1876.7 V2544.8 H1878.2 V2544.7 H1879.7 V2544.7 H1881.2 V2544.9 H1882.7 V2544.7 H1884.2 V2544.9 H1885.7 V2544.9 H1887.2 V2544.8 H1888.7 V2544.8 H1890.2 V2544.8 H1891.7 V2544.7 H1893.2 V2544.7 H1894.7 V2544.7 H1896.2 V2544.9 H1897.7 V2545 H1899.2 V2544.6 H1900.7 V2544.6 H1902.2 V2543.2 H1903.7 V2543.2 H1905.2 V2544.6 H1906.7 V2543.2 H1908.2 V2543.1 H1909.7 V2543.6 H1911.2 V2543.8 H1912.7 V2544.3 H1914.2 V2543.6 H1915.7 V2544.4 H1917.2 V2544.2 H1918.7 V2543.5 H1920.2 V2544.5 H1921.7 V2543 H1923.2 V2544.3 H1924.7 V2544.8 H1926.2 V2543.7 H1927.7 V2544.4 H1929.2 V2544.1 H1930.7 V2543.8 H1932.2 V2544.6 H1933.7 V2544.6 H1935.2 V2543.5 H1936.7 V2543 H1938.2 V2544.8 H1939.7 V2544.8 H1941.2 V2544.7 H1942.7 V2544.8 H1944.2 V2544.9 H1945.7 V2543.6 H1947.2 V2543.9 H1948.7 V2544.4 H1950.2 V2544.2 H1951.7 V2544.1 H1953.2 V2544.3 H1954.7 V2543.3 H1956.2 V2544.8 H1957.7 V2544.2 H1959.2 V2544 H1960.7 V2544.7 H1962.2 V2544.1 H1963.7 V2544.6 H1965.2 V2543.5 H1966.7 V2544.8 H1968.2 V2544.6 H1969.7 V2544.7 H1971.2 V2544.8 H1972.7 V2543.7 H1974.2 V2544.5 H1975.7 V2543.2 H1977.2 V2543.9 H1978.7 V2545 H1980.2 V2544.3 H1981.7 V2542.9 H1983.2 V2531.2 H1984.7 V2529.2 H1986.2 V2540.8 H1987.7 V2541.2 H1989.2 V2541.1 H1990.7 V2532.5 H1992.2 V2529.8 H1993.7 V2541.6 H1995.2 V2541.7 H1996.7 V2535.4 H1998.2 V2538.8 H1999.7 V2537.1 H2001.2 V2536.7 H2002.7 V2528.5 H2004.2 V2539.4 H2005.7 V2531.9 H2007.2 V2540 H2008.7 V2534.7 H2010.2 V2543.9 H2011.7 V2544.9 H2013.2 V2542.9 H2014.7 V2543.5 H2016.2 V2545Z" fill="#ee2a2a"/>
<line x1="1740.2" y1="2545" x2="2016.2" y2="2545" stroke="#ee2a2a" stroke-width="1.2"/>
<text x="1734.2" y="2560.7" text-anchor="end" font-size="15.5">20</text>
<path d="M1740.2,2574.7 V2574.5 H1741.7 V2574.3 H1743.2 V2574.5 H1744.7 V2574.5 H1746.2 V2574.6 H1747.7 V2574.4 H1749.2 V2574.6 H1750.7 V2574.2 H1752.2 V2574.6 H1753.7 V2574.2 H1755.2 V2574.7 H1756.7 V2574.5 H1758.2 V2574.4 H1759.7 V2574.2 H1761.2 V2574.3 H1762.7 V2574.5 H1764.2 V2574.4 H1765.7 V2574.3 H1767.2 V2574.6 H1768.7 V2574.3 H1770.2 V2574.3 H1771.7 V2574.2 H1773.2 V2574.6 H1774.7 V2574.3 H1776.2 V2574.5 H1777.7 V2574.2 H1779.2 V2574.3 H1780.7 V2574.7 H1782.2 V2574.2 H1783.7 V2574.3 H1785.2 V2574.6 H1786.7 V2574.2 H1788.2 V2574.6 H1789.7 V2574.2 H1791.2 V2574.4 H1792.7 V2574.7 H1794.2 V2574.3 H1795.7 V2574.5 H1797.2 V2574.7 H1798.7 V2574.6 H1800.2 V2574.7 H1801.7 V2574.5 H1803.2 V2574.6 H1804.7 V2574.2 H1806.2 V2574.5 H1807.7 V2574.6 H1809.2 V2574.7 H1810.7 V2574.3 H1812.2 V2574.6 H1813.7 V2574.2 H1815.2 V2574.3 H1816.7 V2574.4 H1818.2 V2574.4 H1819.7 V2574.6 H1821.2 V2574.2 H1822.7 V2574.5 H1824.2 V2574.6 H1825.7 V2574.4 H1827.2 V2574.3 H1828.7 V2574.2 H1830.2 V2574.5 H1831.7 V2574.6 H1833.2 V2574.5 H1834.7 V2574.6 H1836.2 V2574.4 H1837.7 V2574.6 H1839.2 V2574.6 H1840.7 V2574.3 H1842.2 V2574.2 H1843.7 V2574.4 H1845.2 V2574.6 H1846.7 V2574.2 H1848.2 V2574.4 H1849.7 V2574.4 H1851.2 V2574.5 H1852.7 V2574.3 H1854.2 V2574.5 H1855.7 V2574.6 H1857.2 V2574.5 H1858.7 V2574.5 H1860.2 V2574.6 H1861.7 V2574.6 H1863.2 V2574.4 H1864.7 V2574.6 H1866.2 V2574.3 H1867.7 V2574.4 H1869.2 V2574.3 H1870.7 V2574.4 H1872.2 V2574.7 H1873.7 V2574.3 H1875.2 V2574.7 H1876.7 V2574.5 H1878.2 V2574.3 H1879.7 V2574.4 H1881.2 V2574.2 H1882.7 V2574.4 H1884.2 V2574.3 H1885.7 V2574.5 H1887.2 V2574.5 H1888.7 V2574.4 H1890.2 V2574.5 H1891.7 V2574.5 H1893.2 V2574.3 H1894.7 V2574.5 H1896.2 V2574.2 H1897.7 V2573.6 H1899.2 V2573.8 H1900.7 V2572.6 H1902.2 V2573.5 H1903.7 V2573.8 H1905.2 V2573.4 H1906.7 V2573.6 H1908.2 V2574.6 H1909.7 V2574.2 H1911.2 V2574.1 H1912.7 V2573.4 H1914.2 V2573.7 H1915.7 V2573.8 H1917.2 V2573.9 H1918.7 V2573 H1920.2 V2573.9 H1921.7 V2574.3 H1923.2 V2574.3 H1924.7 V2573 H1926.2 V2574 H1927.7 V2574 H1929.2 V2574.4 H1930.7 V2574.6 H1932.2 V2572.6 H1933.7 V2574.6 H1935.2 V2574.1 H1936.7 V2574.2 H1938.2 V2574.1 H1939.7 V2572.8 H1941.2 V2574.6 H1942.7 V2572.6 H1944.2 V2573.6 H1945.7 V2573.6 H1947.2 V2573.6 H1948.7 V2572.8 H1950.2 V2574.3 H1951.7 V2573.6 H1953.2 V2574.3 H1954.7 V2573.2 H1956.2 V2574.2 H1957.7 V2572.8 H1959.2 V2573.5 H1960.7 V2572.5 H1962.2 V2572.7 H1963.7 V2573.3 H1965.2 V2574.7 H1966.7 V2573.9 H1968.2 V2573.2 H1969.7 V2573.5 H1971.2 V2573.4 H1972.7 V2574.4 H1974.2 V2574.5 H1975.7 V2573.6 H1977.2 V2573.2 H1978.7 V2574.6 H1980.2 V2573 H1981.7 V2574 H1983.2 V2567.8 H1984.7 V2564.1 H1986.2 V2563.7 H1987.7 V2570 H1989.2 V2562.9 H1990.7 V2560.2 H1992.2 V2567.8 H1993.7 V2558.8 H1995.2 V2560.5 H1996.7 V2560.1 H1998.2 V2564.4 H1999.7 V2563.9 H2001.2 V2572.5 H2002.7 V2565.4 H2004.2 V2557.7 H2005.7 V2558.1 H2007.2 V2571.9 H2008.7 V2558 H2010.2 V2574.3 H2011.7 V2573.8 H2013.2 V2574.3 H2014.7 V2574.2 H2016.2 V2574.7Z" fill="#ee2a2a"/>
<line x1="1740.2" y1="2574.7" x2="2016.2" y2="2574.7" stroke="#ee2a2a" stroke-width="1.2"/>
<text x="1734.2" y="2590.9" text-anchor="end" font-size="15.5">20</text>
<path d="M1740.2,2603.8 V2603.3 H1741.7 V2603.5 H1743.2 V2603.5 H1744.7 V2603.6 H1746.2 V2603.7 H1747.7 V2603.8 H1749.2 V2603.6 H1750.7 V2603.5 H1752.2 V2603.4 H1753.7 V2603.6 H1755.2 V2603.3 H1756.7 V2603.7 H1758.2 V2603.5 H1759.7 V2603.8 H1761.2 V2603.7 H1762.7 V2603.7 H1764.2 V2603.3 H1765.7 V2603.5 H1767.2 V2603.5 H1768.7 V2603.4 H1770.2 V2603.3 H1771.7 V2603.6 H1773.2 V2603.4 H1774.7 V2603.7 H1776.2 V2603.4 H1777.7 V2603.4 H1779.2 V2603.6 H1780.7 V2603.5 H1782.2 V2603.4 H1783.7 V2603.8 H1785.2 V2603.4 H1786.7 V2603.7 H1788.2 V2603.7 H1789.7 V2603.7 H1791.2 V2603.7 H1792.7 V2603.3 H1794.2 V2603.6 H1795.7 V2603.4 H1797.2 V2603.7 H1798.7 V2603.7 H1800.2 V2603.8 H1801.7 V2603.6 H1803.2 V2603.3 H1804.7 V2603.5 H1806.2 V2603.4 H1807.7 V2603.7 H1809.2 V2603.8 H1810.7 V2603.7 H1812.2 V2603.3 H1813.7 V2603.5 H1815.2 V2603.3 H1816.7 V2603.4 H1818.2 V2603.7 H1819.7 V2603.7 H1821.2 V2603.5 H1822.7 V2603.7 H1824.2 V2603.6 H1825.7 V2603.5 H1827.2 V2603.7 H1828.7 V2603.3 H1830.2 V2603.8 H1831.7 V2603.3 H1833.2 V2603.8 H1834.7 V2603.3 H1836.2 V2603.6 H1837.7 V2603.7 H1839.2 V2603.5 H1840.7 V2603.4 H1842.2 V2603.6 H1843.7 V2603.6 H1845.2 V2603.5 H1846.7 V2603.7 H1848.2 V2603.6 H1849.7 V2603.5 H1851.2 V2603.6 H1852.7 V2603.4 H1854.2 V2603.6 H1855.7 V2603.4 H1857.2 V2603.5 H1858.7 V2603.7 H1860.2 V2603.6 H1861.7 V2603.5 H1863.2 V2603.6 H1864.7 V2603.4 H1866.2 V2603.5 H1867.7 V2603.5 H1869.2 V2603.7 H1870.7 V2603.4 H1872.2 V2603.3 H1873.7 V2603.6 H1875.2 V2603.3 H1876.7 V2603.6 H1878.2 V2603.7 H1879.7 V2603.8 H1881.2 V2603.5 H1882.7 V2603.5 H1884.2 V2603.5 H1885.7 V2603.6 H1887.2 V2603.8 H1888.7 V2603.8 H1890.2 V2603.5 H1891.7 V2603.5 H1893.2 V2603.3 H1894.7 V2603.4 H1896.2 V2603.5 H1897.7 V2601.6 H1899.2 V2603.8 H1900.7 V2601.7 H1902.2 V2602.7 H1903.7 V2602.8 H1905.2 V2602.4 H1906.7 V2603 H1908.2 V2602.7 H1909.7 V2601.9 H1911.2 V2602.3 H1912.7 V2601.8 H1914.2 V2602.7 H1915.7 V2603.4 H1917.2 V2602.7 H1918.7 V2602.2 H1920.2 V2603.1 H1921.7 V2602.4 H1923.2 V2602.3 H1924.7 V2603 H1926.2 V2603.8 H1927.7 V2602.2 H1929.2 V2603.1 H1930.7 V2601.6 H1932.2 V2603.8 H1933.7 V2602.3 H1935.2 V2602.5 H1936.7 V2601.9 H1938.2 V2601.9 H1939.7 V2601.9 H1941.2 V2602.2 H1942.7 V2602.4 H1944.2 V2602.2 H1945.7 V2602.2 H1947.2 V2602.7 H1948.7 V2603 H1950.2 V2603.4 H1951.7 V2602.9 H1953.2 V2602.7 H1954.7 V2601.8 H1956.2 V2603.3 H1957.7 V2601.8 H1959.2 V2602.1 H1960.7 V2603 H1962.2 V2602.3 H1963.7 V2601.6 H1965.2 V2601.9 H1966.7 V2602.1 H1968.2 V2603.1 H1969.7 V2603 H1971.2 V2602.9 H1972.7 V2603.2 H1974.2 V2602.8 H1975.7 V2602 H1977.2 V2602.2 H1978.7 V2603.2 H1980.2 V2602.4 H1981.7 V2602.5 H1983.2 V2600.3 H1984.7 V2598.3 H1986.2 V2598 H1987.7 V2600.6 H1989.2 V2591.5 H1990.7 V2592.3 H1992.2 V2596.3 H1993.7 V2587.8 H1995.2 V2595.7 H1996.7 V2598.9 H1998.2 V2595.4 H1999.7 V2595.5 H2001.2 V2599.1 H2002.7 V2596.5 H2004.2 V2591.3 H2005.7 V2592.4 H2007.2 V2600.4 H2008.7 V2591.9 H2010.2 V2602.5 H2011.7 V2603.6 H2013.2 V2603.2 H2014.7 V2602.2 H2016.2 V2603.8Z" fill="#ee2a2a"/>
<line x1="1740.2" y1="2603.8" x2="2016.2" y2="2603.8" stroke="#ee2a2a" stroke-width="1.2"/>
<text x="1734.2" y="2621" text-anchor="end" font-size="15.5">20</text>
<path d="M1740.2,2633.2 V2633.2 H1741.7 V2632.7 H1743.2 V2633.1 H1744.7 V2632.7 H1746.2 V2632.7 H1747.7 V2633.1 H1749.2 V2632.9 H1750.7 V2633 H1752.2 V2633 H1753.7 V2632.8 H1755.2 V2632.8 H1756.7 V2633.1 H1758.2 V2632.9 H1759.7 V2632.9 H1761.2 V2632.9 H1762.7 V2633.1 H1764.2 V2633 H1765.7 V2633 H1767.2 V2632.7 H1768.7 V2632.8 H1770.2 V2632.9 H1771.7 V2633.1 H1773.2 V2632.7 H1774.7 V2633.1 H1776.2 V2633 H1777.7 V2633.1 H1779.2 V2632.9 H1780.7 V2632.8 H1782.2 V2632.8 H1783.7 V2632.8 H1785.2 V2632.8 H1786.7 V2632.9 H1788.2 V2633.1 H1789.7 V2632.7 H1791.2 V2632.7 H1792.7 V2632.8 H1794.2 V2632.7 H1795.7 V2632.8 H1797.2 V2632.8 H1798.7 V2632.8 H1800.2 V2632.8 H1801.7 V2632.9 H1803.2 V2633.1 H1804.7 V2632.8 H1806.2 V2633 H1807.7 V2632.9 H1809.2 V2632.8 H1810.7 V2633 H1812.2 V2633.1 H1813.7 V2632.9 H1815.2 V2632.8 H1816.7 V2632.8 H1818.2 V2632.7 H1819.7 V2632.7 H1821.2 V2632.8 H1822.7 V2633 H1824.2 V2633.1 H1825.7 V2632.7 H1827.2 V2633.2 H1828.7 V2632.7 H1830.2 V2632.9 H1831.7 V2633.1 H1833.2 V2633.1 H1834.7 V2632.8 H1836.2 V2633.2 H1837.7 V2633 H1839.2 V2633.1 H1840.7 V2633.1 H1842.2 V2633.1 H1843.7 V2632.9 H1845.2 V2633.2 H1846.7 V2632.8 H1848.2 V2632.9 H1849.7 V2633.1 H1851.2 V2632.8 H1852.7 V2633.2 H1854.2 V2633.1 H1855.7 V2632.9 H1857.2 V2632.8 H1858.7 V2632.9 H1860.2 V2633.2 H1861.7 V2632.7 H1863.2 V2633.1 H1864.7 V2633.1 H1866.2 V2632.9 H1867.7 V2633.2 H1869.2 V2633 H1870.7 V2633.1 H1872.2 V2633 H1873.7 V2633 H1875.2 V2633 H1876.7 V2633 H1878.2 V2633 H1879.7 V2632.9 H1881.2 V2633 H1882.7 V2632.9 H1884.2 V2633.1 H1885.7 V2633 H1887.2 V2633.2 H1888.7 V2633 H1890.2 V2632.9 H1891.7 V2633.1 H1893.2 V2633 H1894.7 V2632.9 H1896.2 V2633 H1897.7 V2632.4 H1899.2 V2632.9 H1900.7 V2632.2 H1902.2 V2633 H1903.7 V2632.1 H1905.2 V2632.8 H1906.7 V2632.9 H1908.2 V2632.8 H1909.7 V2632.1 H1911.2 V2632.4 H1912.7 V2632.1 H1914.2 V2632 H1915.7 V2632.6 H1917.2 V2632.2 H1918.7 V2633.1 H1920.2 V2632.2 H1921.7 V2632.9 H1923.2 V2632.8 H1924.7 V2632.4 H1926.2 V2632.6 H1927.7 V2632.5 H1929.2 V2632.8 H1930.7 V2632.7 H1932.2 V2632.1 H1933.7 V2633.2 H1935.2 V2633.2 H1936.7 V2632.4 H1938.2 V2633.1 H1939.7 V2632.9 H1941.2 V2632.9 H1942.7 V2633.2 H1944.2 V2632.7 H1945.7 V2632 H1947.2 V2632.2 H1948.7 V2633.1 H1950.2 V2632 H1951.7 V2632.1 H1953.2 V2632.2 H1954.7 V2633 H1956.2 V2632.8 H1957.7 V2633 H1959.2 V2632.3 H1960.7 V2632.3 H1962.2 V2632.9 H1963.7 V2632 H1965.2 V2632.3 H1966.7 V2632.3 H1968.2 V2632.7 H1969.7 V2632.2 H1971.2 V2632.5 H1972.7 V2632.3 H1974.2 V2632.1 H1975.7 V2633.1 H1977.2 V2633.1 H1978.7 V2632.9 H1980.2 V2632.1 H1981.7 V2632.8 H1983.2 V2628.6 H1984.7 V2627.3 H1986.2 V2627.4 H1987.7 V2628.1 H1989.2 V2625.5 H1990.7 V2628 H1992.2 V2625.8 H1993.7 V2630.2 H1995.2 V2626 H1996.7 V2627.9 H1998.2 V2627.6 H1999.7 V2630.3 H2001.2 V2625.1 H2002.7 V2630.2 H2004.2 V2625.9 H2005.7 V2627.5 H2007.2 V2631.1 H2008.7 V2624.5 H2010.2 V2632.3 H2011.7 V2633.1 H2013.2 V2633 H2014.7 V2632.1 H2016.2 V2633.2Z" fill="#1e14d8"/>
<line x1="1740.2" y1="2633.2" x2="2016.2" y2="2633.2" stroke="#1e14d8" stroke-width="1.2"/>
<text x="1734.2" y="2650.8" text-anchor="end" font-size="15.5">20</text>
<path d="M1740.2,2662.9 V2662.8 H1741.7 V2662.7 H1743.2 V2662.5 H1744.7 V2662.7 H1746.2 V2662.8 H1747.7 V2662.6 H1749.2 V2662.7 H1750.7 V2662.6 H1752.2 V2662.8 H1753.7 V2662.5 H1755.2 V2662.9 H1756.7 V2662.8 H1758.2 V2662.4 H1759.7 V2662.9 H1761.2 V2662.7 H1762.7 V2662.8 H1764.2 V2662.7 H1765.7 V2662.6 H1767.2 V2662.4 H1768.7 V2662.4 H1770.2 V2662.7 H1771.7 V2662.5 H1773.2 V2662.7 H1774.7 V2662.8 H1776.2 V2662.8 H1777.7 V2662.7 H1779.2 V2662.7 H1780.7 V2662.4 H1782.2 V2662.5 H1783.7 V2662.9 H1785.2 V2662.6 H1786.7 V2662.8 H1788.2 V2662.8 H1789.7 V2662.5 H1791.2 V2662.9 H1792.7 V2662.5 H1794.2 V2662.5 H1795.7 V2662.9 H1797.2 V2662.8 H1798.7 V2662.5 H1800.2 V2662.9 H1801.7 V2662.7 H1803.2 V2662.8 H1804.7 V2662.5 H1806.2 V2662.5 H1807.7 V2662.5 H1809.2 V2662.8 H1810.7 V2662.8 H1812.2 V2662.4 H1813.7 V2662.8 H1815.2 V2662.8 H1816.7 V2662.9 H1818.2 V2662.5 H1819.7 V2662.7 H1821.2 V2662.8 H1822.7 V2662.9 H1824.2 V2662.7 H1825.7 V2662.9 H1827.2 V2662.9 H1828.7 V2662.7 H1830.2 V2662.6 H1831.7 V2662.6 H1833.2 V2662.4 H1834.7 V2662.9 H1836.2 V2662.9 H1837.7 V2662.9 H1839.2 V2662.6 H1840.7 V2662.6 H1842.2 V2662.8 H1843.7 V2662.6 H1845.2 V2662.9 H1846.7 V2662.8 H1848.2 V2662.8 H1849.7 V2662.8 H1851.2 V2662.8 H1852.7 V2662.8 H1854.2 V2662.7 H1855.7 V2662.5 H1857.2 V2662.5 H1858.7 V2662.5 H1860.2 V2662.8 H1861.7 V2662.5 H1863.2 V2662.7 H1864.7 V2662.4 H1866.2 V2662.6 H1867.7 V2662.6 H1869.2 V2662.6 H1870.7 V2662.9 H1872.2 V2662.8 H1873.7 V2662.8 H1875.2 V2662.8 H1876.7 V2662.5 H1878.2 V2662.7 H1879.7 V2662.8 H1881.2 V2662.5 H1882.7 V2662.8 H1884.2 V2662.8 H1885.7 V2662.7 H1887.2 V2662.7 H1888.7 V2662.6 H1890.2 V2662.6 H1891.7 V2662.5 H1893.2 V2662.6 H1894.7 V2662.7 H1896.2 V2662.7 H1897.7 V2662.1 H1899.2 V2662 H1900.7 V2661.8 H1902.2 V2662.1 H1903.7 V2661.9 H1905.2 V2662.9 H1906.7 V2662.5 H1908.2 V2662.5 H1909.7 V2662.1 H1911.2 V2661.9 H1912.7 V2662.2 H1914.2 V2662.6 H1915.7 V2662.2 H1917.2 V2662.7 H1918.7 V2662.3 H1920.2 V2662.9 H1921.7 V2661.9 H1923.2 V2661.7 H1924.7 V2662.7 H1926.2 V2662.1 H1927.7 V2662.8 H1929.2 V2662.8 H1930.7 V2662.2 H1932.2 V2662.8 H1933.7 V2662.4 H1935.2 V2662.4 H1936.7 V2662 H1938.2 V2661.8 H1939.7 V2662.3 H1941.2 V2662.9 H1942.7 V2662.5 H1944.2 V2662.7 H1945.7 V2662.3 H1947.2 V2662.5 H1948.7 V2662.5 H1950.2 V2662.3 H1951.7 V2662.4 H1953.2 V2662.8 H1954.7 V2661.9 H1956.2 V2662.5 H1957.7 V2662.7 H1959.2 V2662.4 H1960.7 V2662 H1962.2 V2662.5 H1963.7 V2662.8 H1965.2 V2662.2 H1966.7 V2661.9 H1968.2 V2662.1 H1969.7 V2662.4 H1971.2 V2662.6 H1972.7 V2662.8 H1974.2 V2662.2 H1975.7 V2662.7 H1977.2 V2661.8 H1978.7 V2662.5 H1980.2 V2662.3 H1981.7 V2662.7 H1983.2 V2657.1 H1984.7 V2657.5 H1986.2 V2655.6 H1987.7 V2654.1 H1989.2 V2659.9 H1990.7 V2654.8 H1992.2 V2659.3 H1993.7 V2657.4 H1995.2 V2654.7 H1996.7 V2658.2 H1998.2 V2658.5 H1999.7 V2657.8 H2001.2 V2658.5 H2002.7 V2658.4 H2004.2 V2657.8 H2005.7 V2656.8 H2007.2 V2656.5 H2008.7 V2660.2 H2010.2 V2662.7 H2011.7 V2662.5 H2013.2 V2662.5 H2014.7 V2662.4 H2016.2 V2662.9Z" fill="#1e14d8"/>
<line x1="1740.2" y1="2662.9" x2="2016.2" y2="2662.9" stroke="#1e14d8" stroke-width="1.2"/>
<text x="1734.2" y="2681" text-anchor="end" font-size="15.5">20</text>
<path d="M1740.2,2692.3 V2692.2 H1741.7 V2692 H1743.2 V2692 H1744.7 V2692.2 H1746.2 V2692.2 H1747.7 V2691.9 H1749.2 V2692 H1750.7 V2692.2 H1752.2 V2692 H1753.7 V2692 H1755.2 V2691.9 H1756.7 V2691.9 H1758.2 V2691.8 H1759.7 V2692 H1761.2 V2691.8 H1762.7 V2692.1 H1764.2 V2692.2 H1765.7 V2691.8 H1767.2 V2692.2 H1768.7 V2692.2 H1770.2 V2692.2 H1771.7 V2692 H1773.2 V2691.8 H1774.7 V2692.1 H1776.2 V2691.8 H1777.7 V2691.9 H1779.2 V2692.2 H1780.7 V2692.1 H1782.2 V2692 H1783.7 V2692 H1785.2 V2692 H1786.7 V2692.3 H1788.2 V2692 H1789.7 V2692.2 H1791.2 V2692.1 H1792.7 V2692 H1794.2 V2692.2 H1795.7 V2692 H1797.2 V2692 H1798.7 V2692.2 H1800.2 V2691.9 H1801.7 V2692.2 H1803.2 V2691.8 H1804.7 V2692.3 H1806.2 V2691.9 H1807.7 V2692 H1809.2 V2692.2 H1810.7 V2692.2 H1812.2 V2691.8 H1813.7 V2692 H1815.2 V2692 H1816.7 V2691.9 H1818.2 V2692.2 H1819.7 V2692 H1821.2 V2691.9 H1822.7 V2692.2 H1824.2 V2692.1 H1825.7 V2691.8 H1827.2 V2691.8 H1828.7 V2692.1 H1830.2 V2691.8 H1831.7 V2692.3 H1833.2 V2692 H1834.7 V2691.9 H1836.2 V2691.9 H1837.7 V2692 H1839.2 V2692.2 H1840.7 V2691.8 H1842.2 V2692 H1843.7 V2691.8 H1845.2 V2691.8 H1846.7 V2692 H1848.2 V2692.1 H1849.7 V2692 H1851.2 V2692.2 H1852.7 V2692.1 H1854.2 V2691.8 H1855.7 V2692.2 H1857.2 V2692.3 H1858.7 V2691.9 H1860.2 V2692 H1861.7 V2692.2 H1863.2 V2691.8 H1864.7 V2691.9 H1866.2 V2692.1 H1867.7 V2692.1 H1869.2 V2692.1 H1870.7 V2692.1 H1872.2 V2692 H1873.7 V2692 H1875.2 V2692.1 H1876.7 V2691.8 H1878.2 V2692.3 H1879.7 V2691.8 H1881.2 V2691.9 H1882.7 V2692.2 H1884.2 V2691.9 H1885.7 V2691.8 H1887.2 V2692 H1888.7 V2692.1 H1890.2 V2691.9 H1891.7 V2692 H1893.2 V2691.9 H1894.7 V2692.3 H1896.2 V2692.1 H1897.7 V2691.3 H1899.2 V2691.7 H1900.7 V2691.2 H1902.2 V2691.7 H1903.7 V2692.1 H1905.2 V2691.5 H1906.7 V2692.2 H1908.2 V2692 H1909.7 V2691.3 H1911.2 V2691.5 H1912.7 V2692.1 H1914.2 V2692.3 H1915.7 V2691.7 H1917.2 V2692.2 H1918.7 V2692.1 H1920.2 V2691.8 H1921.7 V2691.8 H1923.2 V2691.8 H1924.7 V2691.5 H1926.2 V2692 H1927.7 V2691.6 H1929.2 V2692.1 H1930.7 V2691.4 H1932.2 V2691.3 H1933.7 V2691.3 H1935.2 V2692.1 H1936.7 V2691.1 H1938.2 V2691.4 H1939.7 V2691.3 H1941.2 V2691.7 H1942.7 V2691.5 H1944.2 V2692.2 H1945.7 V2691.1 H1947.2 V2692.2 H1948.7 V2691.7 H1950.2 V2692.1 H1951.7 V2691.1 H1953.2 V2691.6 H1954.7 V2691.8 H1956.2 V2691.6 H1957.7 V2691.4 H1959.2 V2692.2 H1960.7 V2691.9 H1962.2 V2691.9 H1963.7 V2691.6 H1965.2 V2692.2 H1966.7 V2691.5 H1968.2 V2691.7 H1969.7 V2691.5 H1971.2 V2691.8 H1972.7 V2692.2 H1974.2 V2691.7 H1975.7 V2692.2 H1977.2 V2691.8 H1978.7 V2692.2 H1980.2 V2691.2 H1981.7 V2691.6 H1983.2 V2687.7 H1984.7 V2688.7 H1986.2 V2687.9 H1987.7 V2688.3 H1989.2 V2684.5 H1990.7 V2686.5 H1992.2 V2688.1 H1993.7 V2688.6 H1995.2 V2685.3 H1996.7 V2688.6 H1998.2 V2683.9 H1999.7 V2685.3 H2001.2 V2686 H2002.7 V2689.4 H2004.2 V2683.6 H2005.7 V2687.5 H2007.2 V2685.5 H2008.7 V2684.3 H2010.2 V2691.2 H2011.7 V2692 H2013.2 V2691.2 H2014.7 V2692.3 H2016.2 V2692.3Z" fill="#1e14d8"/>
<line x1="1740.2" y1="2692.3" x2="2016.2" y2="2692.3" stroke="#1e14d8" stroke-width="1.2"/>
<line x1="1740.2" y1="2696.1" x2="2016.2" y2="2696.1" stroke="#9a9a9a" stroke-width="1.5"/>
<line x1="1740.2" y1="2699.5" x2="2016.2" y2="2699.5" stroke="#9a9a9a" stroke-width="1.5"/>
<line x1="1751.7" y1="2707.9" x2="2013" y2="2707.9" stroke="#1e14d8" stroke-width="1.4"/>
<line x1="1752" y1="2703.2" x2="1752" y2="2712.6" stroke="#1e14d8" stroke-width="1.8"/>
<line x1="1899.6" y1="2703.2" x2="1899.6" y2="2712.6" stroke="#1e14d8" stroke-width="1.8"/>
<line x1="1925" y1="2703.2" x2="1925" y2="2712.6" stroke="#1e14d8" stroke-width="1.8"/>
<line x1="1928.8" y1="2703.2" x2="1928.8" y2="2712.6" stroke="#1e14d8" stroke-width="1.8"/>
<line x1="1983" y1="2703.2" x2="1983" y2="2712.6" stroke="#1e14d8" stroke-width="1.8"/>
<line x1="1987" y1="2703.2" x2="1987" y2="2712.6" stroke="#1e14d8" stroke-width="1.8"/>
<line x1="2013" y1="2703.2" x2="2013" y2="2712.6" stroke="#1e14d8" stroke-width="1.8"/>
<rect x="1940.5" y="2703.2" width="15.5" height="9.4" fill="#1e14d8"/>
<rect x="1999" y="2703.2" width="9.6" height="9.4" fill="#1e14d8"/>
</svg>
</body></html>
